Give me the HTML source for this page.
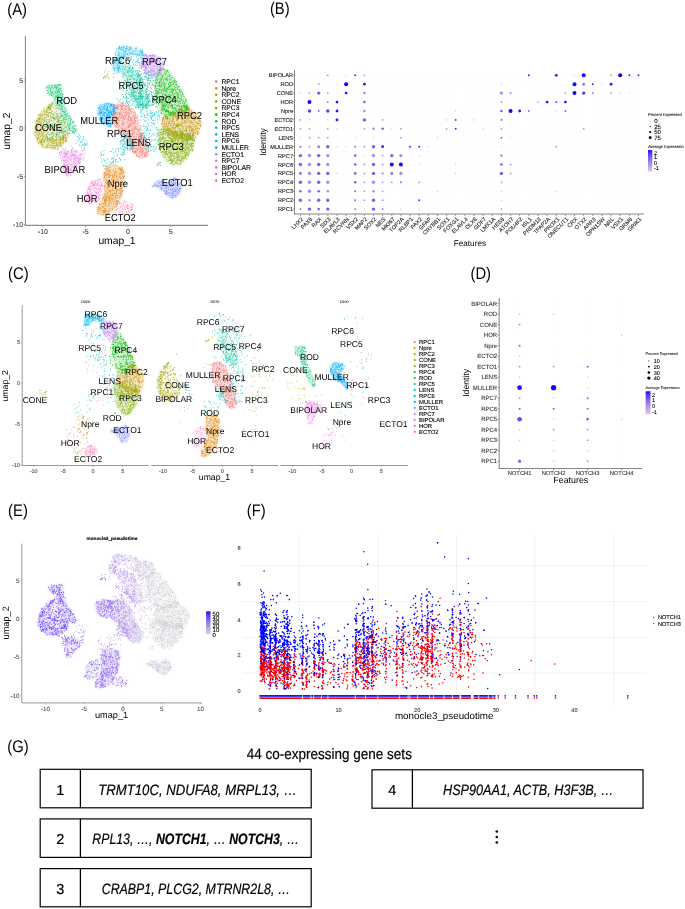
<!DOCTYPE html><html><head><meta charset="utf-8"><style>html,body{margin:0;padding:0;background:#fff}svg{display:block;will-change:transform}text{text-rendering:geometricPrecision;font-family:"Liberation Sans", sans-serif}</style></head><body><svg width="685" height="909" viewBox="0 0 685 909"><rect width="685" height="909" fill="#fff"/><defs><filter id="bl1" x="-10%" y="-10%" width="120%" height="120%"><feGaussianBlur stdDeviation="1.3"/></filter><filter id="bl0"><feGaussianBlur stdDeviation="0.25"/></filter><linearGradient id="gB" x1="0" y1="0" x2="0" y2="1"><stop offset="0.0" stop-color="#0000ff"/><stop offset="0.1" stop-color="#4926fb"/><stop offset="0.2" stop-color="#673df8"/><stop offset="0.3" stop-color="#7c51f4"/><stop offset="0.4" stop-color="#8e65f0"/><stop offset="0.5" stop-color="#9d77ec"/><stop offset="0.6" stop-color="#aa89e7"/><stop offset="0.7" stop-color="#b69ce3"/><stop offset="0.8" stop-color="#c1aede"/><stop offset="0.9" stop-color="#cac0d9"/><stop offset="1.0" stop-color="#d3d3d3"/></linearGradient><linearGradient id="gE" x1="0" y1="0" x2="0" y2="1"><stop offset="0.0" stop-color="#0000ff"/><stop offset="0.1" stop-color="#4926fb"/><stop offset="0.2" stop-color="#673df8"/><stop offset="0.3" stop-color="#7c51f4"/><stop offset="0.4" stop-color="#8e65f0"/><stop offset="0.5" stop-color="#9d77ec"/><stop offset="0.6" stop-color="#aa89e7"/><stop offset="0.7" stop-color="#b69ce3"/><stop offset="0.8" stop-color="#c1aede"/><stop offset="0.9" stop-color="#cac0d9"/><stop offset="1.0" stop-color="#d3d3d3"/></linearGradient></defs><text transform="translate(8.2,14.5) scale(0.88,1)" x="-1" font-size="16.8">(A)</text><text transform="translate(270.8,14.0) scale(0.88,1)" x="-1" font-size="16.8">(B)</text><text transform="translate(9.0,278.8) scale(0.88,1)" x="-1" font-size="16.8">(C)</text><text transform="translate(471.4,278.7) scale(0.88,1)" x="-1" font-size="16.8">(D)</text><text transform="translate(9.0,515.5) scale(0.88,1)" x="-1" font-size="16.8">(E)</text><text transform="translate(247.6,515.5) scale(0.88,1)" x="-1" font-size="16.8">(F)</text><text transform="translate(8.2,752.3) scale(0.88,1)" x="-1" font-size="16.8">(G)</text><g filter="url(#bl1)"><path d="M112 106L118 103L125 103.5L133 108L138 117L140 127L146 139L150 149L146 158L139 158L133 153L129 145L124 136L118 130L114 126L111 119L113 112Z" fill="#F8766D" fill-opacity="0.24"/><path d="M105.4 165.8L114.6 164.7L122.7 167L125 173.9L123.9 184.3L122.7 193.5L120.4 200.5L115.8 207.4L110 213.2L101.9 215.5L97.3 214.3L97.3 207.4L101.9 200.5L104.2 193.5L104.2 184.3L103.1 175.1Z" fill="#E68613" fill-opacity="0.24"/><path d="M184 105L192 110L199 116.6L201.5 123.5L199.2 132.8L194.6 139.7L186 141L176 138L166 132L161 124L163 116L170 113L178 110Z" fill="#CD9600" fill-opacity="0.24"/><path d="M51.1 102.8L45.3 106.9L38.4 115L34.9 124.2L33.8 133.4L37.2 142.7L44.2 148.5L53.4 149.6L61.5 146.2L67.3 140.4L66 136L58 140L50 140L44 134L42 125L45 115L50 108Z" fill="#ABA300" fill-opacity="0.24"/><path d="M158 128L168 128L180 132L190 134L195 140L193.4 149.4L186.8 158.6L180.2 165.2L173.6 165.9L167 161.9L161.7 154.7L158.4 145.4L157.5 136Z" fill="#7CAE00" fill-opacity="0.24"/><path d="M157.6 72L161 67L168 70L176.1 80L182 91L187 101L190 108L184 112L175 115L166 118L161 114L157 100L154.5 85Z" fill="#0CB702" fill-opacity="0.20"/><path d="M47.1 84.9L62.1 84.4L62.7 94.2L65 104L69 114L74 122L77 128L76 132.3L72 134L68 128L63 119L58.5 110L55 102L53.6 96.5L47.6 94.8L45.9 87.2Z" fill="#00BE67" fill-opacity="0.20"/><path d="M122 63.4L130.1 64.6L138.2 71.5L144 80.7L147.4 90L149.8 102.7L146.3 109.6L138.2 107.3L133.6 99.2L130.1 92.3L125.5 84.2L120.9 75Z" fill="#00C19A" fill-opacity="0.18"/><path d="M121.6 134.6L130 133L133.5 140L134 149.7L124 150L120 143Z" fill="#00BFC4" fill-opacity="0.18"/><path d="M116.8 46.7L124.3 45.5L135.9 47.2L142.8 50.7L146.3 55.3L141.7 57.6L135.9 55.3L129 54.2L125.5 56.5L120.9 63.4L120.9 72.7L117.4 73.8L114 70.3L111.6 64.6L115.1 55.3Z" fill="#00B8E7" fill-opacity="0.20"/><path d="M98.9 105L105.9 103L113 104L118 106.5L117 111L113 115L110.5 118.9L114 125.8L109.3 127L103.6 124.6L98.9 118.9L96.6 111.9Z" fill="#00A9FF" fill-opacity="0.28"/><path d="M151.1 186.4L156.4 181.1L163 179.8L169.6 182.4L174.9 177.1L178.8 181.1L181.5 187.7L180.2 194.3L174.9 198.3L168.3 197.6L164.3 193L159 187.7Z" fill="#8494FF" fill-opacity="0.28"/><path d="M142.6 55.4L153 54.2L161.1 57.7L164.6 64.6L162.3 71.6L158.8 76.2L151.9 77.3L144.9 73.9L141.5 67Z" fill="#C77CFF" fill-opacity="0.24"/><path d="M64 151L71.9 149.6L78.8 151.9L82.3 157.7L80 163.5L74.2 169.3L70.7 176.2L66.1 177.3L63.5 169.3L63 161.2L62 155Z" fill="#ED68ED" fill-opacity="0.17"/><path d="M89.8 181.8L100.3 178.3L103.8 185.3L102.1 194.1L98.6 201.1L89.8 204.6L84.6 201.1L86.3 192.3Z" fill="#FF61CC" fill-opacity="0.14"/><path d="M115.8 205L124 200.5L133.1 203L134 211L125 214L116 213.2Z" fill="#FF68A1" fill-opacity="0.10"/><path d="M50 103L54 101.5L57.8 110L62.3 118.5L67 126.5L70 133L67 137L58 141L48 140L43 132L43 118L47 110Z" fill="#ABA300" fill-opacity="0.13"/><path d="M157 162L161 162L161 165.5L157 165.5Z" fill="#0CB702" fill-opacity="0.15"/></g><g filter="url(#bl0)"><path d="M135.4 120.2h0M119.8 114.5h0M122.7 125.1h0M145.1 146.4h0M143 149.1h0M142.1 157.5h0M129.2 133.8h0M122.8 122.8h0M121.9 115.9h0M120.9 113.1h0M128.4 120.8h0M141.9 139.7h0M134.9 120.2h0M112.4 114.6h0M131.1 126.5h0M129.2 109.3h0M131.1 112.9h0M130.4 145.1h0M120.7 130.5h0M138 136.4h0M118.8 113.9h0M117 127.6h0M121.4 109.3h0M130.9 138.9h0M144 143.8h0M135.9 123.4h0M114.6 114.4h0M132.1 131.7h0M130.8 134.9h0M145 154.3h0M125.1 105.2h0M134.3 153h0M126.1 122h0M142.8 138.8h0M125.8 118.9h0M134 151.2h0M135.9 129.4h0M120.3 105.5h0M137.2 140.9h0M122.7 121.5h0M133.2 149.8h0M132.5 134.7h0M145.5 143.4h0M136 121.2h0M133.2 130.3h0M125.7 128.8h0M127 139.4h0M120.3 114.9h0M129.2 112.9h0M132.4 150.1h0M140.3 144.2h0M125.5 108.7h0M136.7 137.8h0M127.7 123.6h0M131.4 111.3h0M145 137.5h0M124.4 129.7h0M134 122h0M137.7 117.2h0M131.2 120.5h0M140.8 134.7h0M140.4 154h0M142.6 142.5h0M127.3 121.7h0M142.8 149.2h0M141.9 152.3h0M131 139.3h0M139.3 148.7h0M125.2 109.9h0M133.4 116.3h0M124.3 134.6h0M131.3 144.4h0M127.6 107.8h0M145.2 137.6h0M147 152.9h0M113.7 123.1h0M131.3 119.3h0M137.4 150.3h0M139 141.7h0M135.6 141.6h0M148.9 149.2h0M124 132.5h0M126.5 130.9h0M118.9 123.2h0M143.8 145.5h0M115.4 118.2h0M134.5 113.1h0M129.7 113.8h0M134.2 134.5h0M136.7 118.4h0M123 116.3h0M129.2 120.9h0M135.5 145.6h0M118.2 129.5h0M127 105.7h0M142.8 152.9h0M139.5 157.7h0M142.3 145h0M131.4 112.4h0M120.9 106.5h0M133.1 131.1h0M112.5 115.4h0M134 132.9h0M137.4 129.5h0M123.1 116.6h0M136.7 155.4h0M133.4 146.4h0M142.3 135.7h0M144.3 139.7h0M123.4 130h0M135.4 150.6h0M142.1 134.5h0M142.1 154.9h0M140.9 152.2h0M133.4 108.8h0M135.9 132.2h0M114.8 113.4h0M136.8 145h0M145.8 150.1h0M119.4 104.3h0M133 139.6h0M147.8 144h0M128.8 107h0M125.8 136.6h0M116.2 117.4h0M125.7 108h0M132 121.7h0M120.6 108.3h0M123.9 130.2h0M128.8 108.5h0M140.4 133.8h0M133.6 115.9h0M116.2 123.9h0M114.2 119.3h0M146.3 157.1h0M121.5 106.4h0M135.2 126.3h0M128 105.5h0M125.6 108.7h0M138.7 143.7h0M114.8 115.2h0M139.4 130.4h0M137.3 154.4h0M125.5 130.9h0M131.2 141.7h0M140.5 148.2h0M118.4 117.5h0M121.4 107.3h0M131.9 128.7h0M139.1 144.9h0M143.9 157h0M141.3 155.3h0M136 148.5h0M140.5 138.8h0M128.3 136.9h0M125.7 106.6h0M132.2 141.3h0M132.4 148.9h0M139.1 136.9h0M143.4 139.2h0M146.9 154h0M116.4 105.4h0M116.8 116.9h0M143.2 151h0M115.8 113h0M115.6 117.2h0M133.4 144.9h0M128.4 127.7h0M118.4 117.8h0M129.5 123.7h0M123.2 119.2h0M123.2 110.2h0M128.7 119.3h0M145.7 140.6h0M146.7 144.1h0M120.6 113.7h0M126.4 122.5h0M130.6 145.7h0M129.9 139h0M118.2 124.4h0M137.1 128.6h0M121.4 128.4h0M131.6 118.3h0M122 104h0M131.1 145.2h0M135.5 141.3h0M131.9 149.2h0M126.4 111.4h0M115.4 114h0M119.1 125.6h0M130.8 117.4h0M146.7 146.3h0M123.3 124.5h0M134.4 118.7h0M113.6 116.2h0M140.7 151.1h0M138.6 134.2h0M137.6 117.7h0M122.8 117.3h0M134.3 127.4h0M117.1 125.5h0M131.1 134h0M133.4 146.2h0M142.3 133.2h0M138.4 140.3h0M127.9 141.5h0M138 147.3h0M137.1 134.3h0M132.5 149.8h0M139.4 151.5h0M129.3 132.1h0M127 112.5h0M139.1 144.8h0M132.9 141.2h0M147.4 153.4h0M128.7 117.8h0M132.5 146h0M113.9 121.6h0M134.1 131.2h0M119.7 113.7h0M128.7 139.6h0M140.3 142.7h0M142.5 151.4h0M135.2 138.4h0M142.9 153.7h0M137.4 141.8h0M136 136.3h0M126.8 126h0M132.8 122.6h0M126.4 129.9h0M125.8 126.5h0M129.2 130.9h0M130.6 124.6h0M124.2 118.6h0M143.2 137.9h0M143.9 136.8h0M141.6 139.5h0M128.4 136.8h0M144.6 155h0M133.6 113h0M136.9 155.9h0M137.4 150.3h0M133.8 136.4h0M122.4 116.4h0M127.8 127.4h0M124.7 114.9h0M128.4 142.3h0M125.5 117.4h0M133.7 142.1h0M148 147.2h0M145.5 144.6h0M144.8 154.9h0M118.7 106.3h0M143.3 151.3h0M143.3 137.6h0M129.5 126.6h0M140.9 141.8h0M128.9 116.4h0M132.3 141.2h0M123.3 117.3h0M128.4 116.6h0M137.6 135.2h0M136.1 150h0M135.8 151.6h0M121.1 127.8h0M129.6 110.8h0M135.6 115.6h0M122.9 114h0M121 126.1h0M113.6 115.1h0M141.1 137.1h0M138.7 137.7h0M118.6 120.3h0M116.3 112.7h0M141 145.1h0M130 143.4h0M136.6 133.8h0M135.2 112.8h0M140.9 136.5h0M124.4 131.2h0M121 128.3h0M128.1 134h0M128.2 125.8h0M136 148h0M118.2 118h0M129.5 123.9h0M128.9 125.1h0M117.4 113.6h0M121.5 108.1h0M135.1 120.8h0M126.8 128.1h0M142.9 137.5h0M147 144.9h0M145.8 155.5h0M136.9 155.2h0M134.4 128.5h0M141.1 155.1h0M119.3 113.2h0M145.6 152.3h0M115.5 125.6h0M123.3 131h0M146.7 156.3h0M134.9 116.6h0M137 115.9h0M137.5 131.5h0M133.2 128.7h0M148.1 151.7h0M124.1 105.4h0M131 111.4h0M139.2 146h0M138.1 129.4h0M127.4 136.8h0M144.2 138.3h0M124.1 116.5h0M116.2 121.2h0M122.9 130.1h0M128.5 115.2h0M121.9 115h0M137.5 127.2h0M126.7 133.2h0M120.6 117.7h0M137.8 143.4h0M119.3 129.2h0M121.5 123.4h0M138.4 131.4h0M115.6 107.7h0M132.5 120.3h0M140.8 136h0M134.7 111.3h0M123.2 125.3h0M135.5 117.7h0M144.6 156.1h0M122.4 128.3h0M135.8 151.7h0M139.9 157.2h0M126.1 131.9h0M148.6 151.3h0M138.8 156.2h0M129.3 109.8h0M128.5 106.9h0M122.2 109.1h0M122.9 109.7h0M114 119.6h0M119.6 120h0M117.7 107.2h0M113.5 109.1h0M129.2 139.1h0M139.8 142.1h0M147 142.6h0M133.3 133.4h0M130.8 143.8h0M113.9 107.5h0M115.9 114.6h0M145.5 143.8h0M129.5 113.6h0M142.4 132.2h0M113.6 117.3h0M134.2 126.7h0M144.7 148.9h0M144.8 139.3h0M131.3 118h0M140.6 139.1h0M142.7 141.1h0M128.7 139.5h0M123.5 133.3h0M117 108h0M133.1 136.3h0M133.6 146.4h0M136.2 142.4h0M133.3 123.5h0M140.3 128.8h0M134 153.2h0M132.5 148.9h0M118.7 126.2h0M133.7 121.6h0M130.1 118.2h0M117.5 114.7h0M135.1 126.7h0M126.7 106h0M137.8 140.4h0M132.8 119.7h0M115.2 113.9h0M118.5 120.5h0M129.3 121.4h0M131.4 138.2h0M140.1 133.9h0M128.1 129.9h0M124.8 130h0M115.5 120.7h0M142.5 151h0M123.1 124.7h0M141.5 149.4h0M117.3 108.6h0M136.8 139.6h0M130.8 119h0M122.1 106.1h0M113 106.7h0M119.4 115.6h0M124.9 108.4h0M123.9 127.3h0M140.5 148.1h0M140.4 145.9h0M120.9 131.3h0M116.4 124.8h0M128.1 125.4h0M134.5 117.8h0M116.7 116.1h0M129.5 133.5h0M116.1 127.5h0M138.1 138.2h0M114.6 124.2h0M147.6 147.3h0M134.9 137.7h0M113.6 109.1h0M133.2 132.2h0M128.9 108.2h0M133 115.4h0M139.8 137.3h0M137.5 156.5h0M117.1 117.3h0M127 131.5h0M128.7 133.9h0M147.7 154h0M140.5 150.3h0M129.4 108.8h0M128.5 127.8h0M127.9 119.2h0M113.4 106h0M133 125h0M120 115.7h0M121.8 120.5h0M122.9 123.9h0M140.7 147.1h0M125.6 133.8h0M123.6 105.8h0M135.8 115h0M115.2 114h0M140.5 137.3h0M122.6 130.2h0M135.8 117.8h0M126.8 137.9h0M120.9 118.1h0M124.6 119.9h0M134.8 151.3h0M117 122.1h0M148.8 147.6h0M118.9 106.2h0M134.6 119.1h0M131.3 130.8h0M134.5 152.3h0M138.4 149h0M124.1 133.1h0M123.8 105.8h0M118.9 125.3h0M124 123.1h0M147.1 147.9h0M128 139.9h0M119 126.9h0M138.6 142.1h0M120.6 110.9h0M119.5 130.5h0M135.7 152.6h0M124.1 136.1h0M124 128.6h0M114.4 122.8h0M132.3 123.3h0M135.1 145.3h0M121.2 112h0M133.8 147.8h0M142.9 154.2h0M136 138.8h0M131.2 133.6h0M145.7 148.4h0M138 131.6h0M128.6 132.5h0M117.9 105.4h0M144.2 140.3h0M126.7 140.8h0M118.8 129.2h0M130.6 123.5h0M146 152.2h0M123.4 131.8h0M121.9 106.7h0M130.7 130.4h0M133.6 152.1h0M130.9 129.2h0M130.7 109.7h0M128 132.1h0M148 151.8h0M115.9 113.1h0M126.9 138.9h0M135.3 114.8h0M139.5 153.3h0M119.2 117h0M138.2 123.3h0M118.6 109.1h0M129.4 134.4h0M132 141.8h0M127.7 119.9h0M125.9 114.1h0M130.6 147.8h0M136.6 152.5h0M130.2 125.2h0M129.2 140.3h0M144.5 155.4h0M142.3 135.1h0M122.2 106.9h0M139.1 135.8h0M124 116.3h0M134.5 124.4h0M142.5 138.1h0M132.1 142.9h0M125.8 112.5h0M124.7 119.7h0M121.1 109.6h0M114.8 126.5h0M137.1 124.4h0M118.9 112.2h0M135.3 127.6h0M131.3 130.2h0M131.3 109h0M122.3 124.8h0M116 121.6h0M142.2 149h0M147 142.5h0M116.5 105.3h0M127.5 140.1h0M127.7 133h0M136.9 126.7h0M122.3 103.6h0M126.6 118h0M129.1 135.7h0M146.3 155.2h0M126.4 115.5h0M130.7 133.4h0M148.4 146.8h0M114.4 120.3h0M129.4 108.9h0M134.1 149h0M123.4 112.1h0M142.4 152.7h0M132.9 133.7h0M116.4 126.3h0M135.6 122.4h0M130.9 144.3h0M133 129.7h0M139.5 137.8h0M127.5 113.2h0M117.9 106h0M139 152.1h0M131.1 124.1h0M145.1 141h0M129.3 141.8h0M129.1 126.9h0M123.3 132.8h0M138.1 119.9h0M112.2 118.1h0M134.6 122.9h0M113.9 108.6h0M130.4 137.7h0M118.2 122.2h0M125.3 136.6h0M122.9 118.4h0M143.1 146.9h0M115.6 112.4h0M136.4 143.2h0M122.3 105h0M115.6 107.6h0M140.3 138.3h0M128.5 127.1h0M116.8 107.7h0M122.6 123.3h0M132.4 151.6h0M140 136.5h0M144.4 137.2h0M134.1 140h0M128.9 117.2h0M141 151.1h0M114.8 114.2h0M133.7 144h0M144.9 153h0M113.2 114.4h0M121.4 118.1h0M123.7 121.2h0M134.1 151.5h0M135.5 120.7h0M125.1 115.4h0M132.4 144.4h0M131 148.5h0M122.3 116.4h0M114.4 110.6h0M129 126.2h0M134.3 137.5h0M113.1 106h0M128.2 113.6h0M126 109.4h0M133.7 117.9h0M133.9 113.2h0M124.2 123.5h0M126.9 110.6h0M134.9 139.7h0M145.6 156.5h0M138.5 146.7h0M129.4 138.7h0M129.9 125.2h0M144 138.9h0M134.8 140.7h0M130.8 117.8h0M114.4 116.3h0M148.6 147h0M145.2 152.5h0M129.7 145.1h0M115.9 112.2h0M130.4 139.1h0M120.6 105.4h0M136 151.4h0M142.2 145.3h0M130.2 134.1h0M146.7 142.8h0M126.6 114.6h0M132.7 133.9h0M123.5 103.6h0M114.3 122.8h0M119.1 112.8h0M114.3 116h0M138.8 140.2h0M147.5 144.9h0M148.5 150.8h0M113.3 112.9h0M138.4 131h0M144.7 155h0M143.8 137.6h0M126 138.2h0M132.8 127.2h0M131.3 120.9h0M122.1 129.1h0M146.6 152.1h0M125.2 112.8h0M134.3 147.7h0M137.2 148.7h0M114.6 104.8h0M130.7 119.6h0M139.7 126.2h0M136.6 129.3h0M135 128.8h0M115.8 118.8h0M131.8 139h0M113 113.9h0M132.3 145.5h0M139 143.4h0M124.5 132.7h0M113.9 119.3h0M138.6 148.2h0M111.7 119.9h0M141.2 147.4h0M128.9 110.3h0M131.4 125.8h0M135 129.9h0M137.8 120.6h0M126.3 127.7h0M138.9 156.7h0M129.2 126.4h0M125.3 108.3h0M130.2 124.7h0M122 113.1h0M128.2 115h0M122.4 108.1h0M124.4 129.7h0M135.1 143.1h0M125 112.2h0M132.6 122.9h0M128.3 112.1h0M136.4 149.4h0M137 143.1h0M142 145.4h0M144.9 144.6h0M138.6 134.2h0M130.8 120.7h0" stroke="#F8766D" stroke-width="0.8" stroke-linecap="round"/><path d="M112.4 188.9h0M123.2 172.3h0M113.1 179h0M103.8 207.2h0M105.5 210.9h0M109.7 191.1h0M111.4 199h0M109.7 198.2h0M116.7 172.6h0M121.7 170.4h0M105.5 184.2h0M105.7 208.4h0M113.9 185.5h0M104.7 172.9h0M98.6 210.9h0M109.1 194.7h0M107.7 174.2h0M105.2 211.5h0M121.5 192h0M115.2 182.3h0M117.6 201.6h0M108.9 175h0M111.2 204.1h0M104.1 175.4h0M104.3 186.7h0M122.4 171.2h0M98.1 209.6h0M117.4 202.9h0M110 210h0M111.5 179.1h0M119.4 176.7h0M100.7 209.1h0M105.5 173.1h0M118.1 201.3h0M105.6 166h0M123.7 178.5h0M111.9 208h0M112.2 195.1h0M111.2 198.2h0M118.8 168.9h0M112.4 210h0M119.2 195.9h0M112.4 190.2h0M109.5 175.1h0M108.5 211.1h0M112.2 178.1h0M114.6 173.3h0M116.8 197.7h0M122.2 169.1h0M115.5 203.5h0M115.7 184.2h0M104.8 190.9h0M104.7 168.7h0M116.4 174.1h0M114.3 183.3h0M107.9 196.6h0M110.2 190.9h0M104.5 173.5h0M106.2 198.4h0M113.2 199.6h0M110.6 194.4h0M107.6 173.7h0M105.1 196.6h0M113.6 193.6h0M105.1 188.6h0M113.4 201.8h0M105.7 194.6h0M120.7 168.1h0M116.5 176.5h0M122 185.1h0M119.7 196.9h0M106.4 171.4h0M113.1 193.7h0M104.5 195.6h0M102.9 203.4h0M103 213.9h0M103.9 180.6h0M115.9 181.7h0M104.3 187.2h0M98.6 213.7h0M109 190.7h0M102.9 199h0M116.4 202h0M112.7 176.5h0M110.7 167.6h0M121.3 172.4h0M105.7 202.9h0M111.9 198.9h0M109.4 171.7h0M97.9 207.5h0M120.6 188.7h0M106.7 180.8h0M116.3 201.2h0M108.7 198.7h0M110.7 203.7h0M112.5 188.1h0M119.3 177.3h0M107.3 165.7h0M110.5 171h0M113.6 170.2h0M112.4 200.7h0M116.5 177.1h0M117.6 180.3h0M103.5 203.9h0M109.5 184.4h0M105.6 182.4h0M108 212.7h0M107.4 192.4h0M99.5 204.8h0M103 197.8h0M105.2 209.9h0M121.1 180.5h0M120.6 188.9h0M123.2 176.6h0M108.1 174.1h0M114.6 174.8h0M122.2 173h0M120.2 185.6h0M117.6 204.2h0M111 192.2h0M121.5 188.5h0M111.1 190.3h0M104 196.8h0M109.5 213.2h0M99.1 206.2h0M107.3 168.1h0M108.6 197.2h0M110.4 196.3h0M123.5 170.8h0M110.9 186.2h0M110.4 200.8h0M109.4 202.1h0M107.7 182.8h0M121.7 195.1h0M103.1 211.9h0M105.1 212.4h0M120.7 193.3h0M110.8 201.2h0M114 176.4h0M105 200.6h0M112 165.3h0M111.2 184.3h0M105.6 205.3h0M107.2 200.6h0M117.7 186.6h0M104.9 208.5h0M108.2 184.4h0M107.6 170.8h0M116.2 190.3h0M104.2 210h0M119.7 168.2h0M105.8 182.8h0M108.6 188.6h0M122 170.4h0M107.6 174.2h0M116.7 191.9h0M116.6 201.1h0M103.6 198.8h0M109.8 198.9h0M116 165.1h0M111.9 181.8h0M120.4 177.7h0M110.3 185h0M110.9 208.6h0M115.1 196h0M121.1 178.6h0M116.9 187.6h0M106.6 211h0M110.8 195.2h0M116 200.1h0M111.2 198h0M121.4 190.4h0M105.1 211.5h0M108.5 171.3h0M121.8 167.3h0M122.6 168.3h0M103.6 173h0M99.7 203.9h0M111.5 195.2h0M119.3 201.9h0M108.4 193h0M120.6 182.7h0M108.3 204.7h0M119.9 173.3h0M105.1 185.8h0M117.8 203.4h0M110.3 193.5h0M115.5 195.6h0M103.9 179h0M117.7 194.8h0M106.1 202.9h0M121.4 190.5h0M120.9 190.8h0M121.5 195.6h0M112.9 175.6h0M109.2 191.9h0M113.3 198.7h0M104.5 200.6h0M109 175.3h0M107.4 181.7h0M118.9 186.1h0M124.6 176.1h0M106.1 201.1h0M102.3 211h0M104.3 212.8h0M120.9 186.4h0M106.3 173.9h0M108.6 177.2h0M120.3 189.3h0M109.2 170.2h0M107.1 189.1h0M122 191.4h0M115.5 197.3h0M106.2 177.5h0M115.2 193.7h0M120.1 193.7h0M105.4 211.7h0M104.9 190.2h0M104.4 177h0M100.6 204.7h0M102.6 207h0M119.2 193.4h0M107.9 196.8h0M98.5 207.2h0M119.7 197.8h0M105.2 203.7h0M113.9 179.9h0M116.2 189.4h0M112.9 209.1h0M100.9 203.2h0M99.1 207.8h0M107 209.6h0M112.5 195.7h0M104.2 177.1h0M109.7 203.4h0M108.6 203.3h0M104.7 201.8h0M110.6 191.7h0M103.9 198.2h0M106.6 176.1h0M115.3 171.1h0M121.8 170.4h0M104.8 173.9h0M116.5 203.9h0M123.7 182.8h0M100.5 210.5h0M112.8 176.2h0M110.2 172.7h0M105.9 199h0M105.3 204h0M115.2 188.7h0M102.8 198.3h0M109 179.7h0M123 184.5h0M106.9 193.5h0M106.1 180.1h0M123.1 172.1h0M113.1 170.9h0M103.5 214.8h0M115.1 207.6h0M107.8 187.4h0M112.4 208.4h0M108.3 168h0M121.6 182.7h0M116.5 180h0M105.8 166.6h0M105.1 208.5h0M105.8 199.1h0M106.3 179.2h0M104.6 211.7h0M105.4 205.2h0M121.1 169.7h0M109.7 180.2h0M120 189.5h0M98.7 207.5h0M99.2 213.3h0M111.6 175h0M105.3 175.5h0M102.7 207h0M114.2 190.8h0M114.2 177.2h0M112.2 175.7h0M109.9 199h0M103.8 211.3h0M113 190.6h0M120.7 184.7h0M106.4 182.9h0M123.6 176.5h0M97.5 211.7h0M110 170h0M114.8 165.4h0M108.9 169.9h0M121.8 192.8h0M117 180.6h0M109.2 175.5h0M105.2 178.6h0M106 199.7h0M107.1 183.3h0M104.4 193.8h0M112.3 182.2h0M112.6 197.8h0M115.2 199h0M99.5 204.4h0M104.6 209.4h0M117.7 195.5h0M106.6 169.5h0M106 196.8h0M116.5 192.9h0M121.8 169.5h0M105.3 210.9h0M116 203.6h0M117.1 195.9h0M102.1 201.2h0M106 198.3h0M106.6 175.2h0M109.9 197.6h0M114.4 175.9h0M123.1 183.9h0M108.3 172h0M123.5 186.7h0M116.5 205.5h0M107.9 168.9h0M120.4 170.8h0M112.1 202.6h0M116.3 171.3h0M107.1 195.8h0M113.6 206.2h0M116.6 193.3h0M107.7 168.8h0M110.9 175.2h0M120.7 192.2h0M107 197.9h0M120.6 194.9h0M109.7 181.3h0M107.5 185.7h0M112.5 175.1h0M117.1 197.6h0M113.4 172.7h0M108.3 177.1h0M107.8 213.6h0M115 182.2h0M108.5 195.8h0M112 206.4h0M117.9 189.4h0M120.2 174.6h0M113 195.9h0M118.9 167.9h0M121 184.1h0M97.8 211.5h0M114.9 173.9h0M106.5 197.4h0M121.5 187.8h0M108.2 211.1h0M117.9 189.6h0M114.7 172.9h0M122.2 173.6h0M107.5 183h0M110.6 182.4h0M106.8 175.2h0M110.7 196.3h0M106 172.8h0M116.2 188.6h0M123.6 177.5h0M107.3 200.3h0M120.8 177.2h0M119.4 173.7h0M121.9 178.5h0M114.8 178.7h0M114 180.2h0M116.9 182.7h0M118 200.7h0M121 173.5h0M105.4 199.6h0M119.9 169.5h0M103.8 210.4h0M118.8 178.7h0M109.5 208.6h0M120.5 168.7h0M115.8 175.4h0M120.6 178.4h0M121.7 170.6h0M104.9 212.7h0M107.1 170.8h0M114.7 193.4h0M113.4 204h0M118.8 193.1h0M119.7 190.5h0M105.7 186.9h0M116.3 185.2h0M105 197.2h0M97.9 213.6h0M104.2 177.1h0M104.9 172.6h0M103 210.4h0M107 196.5h0M99.9 204.4h0M103 207.3h0M109.4 200.3h0M108.5 166.9h0M100.8 208.3h0M116 204h0M108.6 197.1h0M113.1 166h0M117.7 203h0M115.5 194.1h0M121.1 170.8h0M99.7 209.2h0M105.5 194.7h0M114.3 175h0M104.3 173.7h0M98.8 210h0M110.1 172.9h0M101.9 206.2h0M107.9 206h0M123.5 185.4h0M107.3 196.1h0M116.9 195.5h0M107.6 184.8h0M108.5 191h0M109.2 206.5h0M105.2 175.3h0M124.6 176.1h0M121.6 184.7h0M104.6 203.9h0M109.3 191h0M113 180.7h0M101.9 203.7h0M109.1 174.6h0M105.2 200.7h0M103.8 194.9h0M106.5 214h0M122.6 188.1h0M111.9 210.3h0M108.1 183.3h0M114.1 182.2h0M123.8 184.5h0M120 175.2h0M104.7 200h0M115.3 197h0M109.1 176.8h0M111.9 189.9h0M111.8 179.3h0M114.6 207.2h0M104.3 176.8h0M107.2 213.1h0M115.2 197.2h0M108.5 200h0M106.2 201.5h0M107 194.8h0M98.1 208.5h0M106.3 211.1h0M112.5 195.1h0M120.5 169.3h0M101 208.1h0M119.9 198.3h0M104.1 206h0M120.3 173.3h0M105.8 180.2h0M113 176.8h0M105.9 173.9h0M106.7 199.6h0M102.1 214.7h0M117.4 176.8h0M101.2 212.4h0M105.6 203.7h0M117.4 190.7h0M118 166.1h0M118.8 171h0M108.2 180.6h0M102.2 200.1h0M109.5 199.4h0M109.7 177.3h0M114.4 192.9h0M121.2 186.6h0M117.8 175.8h0M113.7 180.4h0M103.7 203.4h0M118 201.2h0M108.9 177.3h0M123.4 176.6h0M122 193.4h0M115.1 183.3h0M114 173.9h0M104.3 185.5h0M106.4 193.3h0M109.5 166.7h0M115.2 201.6h0M106.9 183.8h0M106.6 187.8h0M108.7 213.1h0M104.9 200.2h0M124.3 172.2h0M118.6 185.4h0M106.5 191.3h0M116.1 205.2h0M107.5 181.5h0M114.9 197.7h0M109.1 198.4h0M122.6 191.3h0M110 195.9h0M119.8 188.1h0M113.3 195.7h0M107.6 188.1h0M114.2 201.2h0M114.5 183.1h0M123 190.5h0M109.3 191h0M118.8 189.4h0M121.1 197h0M109.5 175.8h0M115.4 168.3h0M107.1 184.2h0M120.5 186.8h0M108.9 205.1h0M118.9 181.6h0M103.8 196.5h0M104.9 214.2h0M121.1 195.6h0M123.2 173.7h0M105.5 200.7h0M122.9 174.9h0M105.7 168.9h0M109.7 187.2h0M114.8 188.6h0M112.7 193.1h0M115.9 188.4h0M116.6 174.6h0M104.7 199.4h0M117.3 179.4h0M113.9 204.4h0M112.9 199.3h0M111 201.6h0M105.5 208h0M122.6 175.9h0M102 214.3h0M116.5 191.1h0M118.6 184.4h0M104.9 193h0M109.2 201.3h0M116.7 182.4h0M105.2 199.9h0M106.8 193.3h0M107.6 182.7h0M105.6 201h0M104.5 201.9h0M115.9 172h0M107.8 206.2h0M109.6 210.5h0M106.7 205.9h0M103.6 212.1h0M113.7 77.3h0M113.4 73.8h0M113.3 77.6h0M114.3 73.4h0" stroke="#E68613" stroke-width="0.8" stroke-linecap="round"/><path d="M183.8 112.8h0M163.3 117.3h0M182.7 115.8h0M188 118.6h0M193.4 112.9h0M193.2 128.8h0M189.4 130.3h0M164.8 124.8h0M195.7 128h0M197 127.9h0M175 128.5h0M176.7 133.1h0M177.3 117.1h0M172.2 135.6h0M199 120.9h0M182.5 107.2h0M189.7 128.5h0M185.5 117.3h0M164.6 127.9h0M163.9 118.4h0M167 122.9h0M181.1 125h0M186.4 130.5h0M197.5 129.1h0M190.9 113.4h0M176.5 133.5h0M175 113.3h0M192 126.5h0M190.5 116.6h0M165.9 125.7h0M193.6 116.2h0M164.8 120.8h0M173.9 136.3h0M198.5 123.2h0M171.7 131.6h0M193.2 138.5h0M176.1 111.8h0M163.6 118.8h0M166.1 123.7h0M186.6 137.3h0M187 135.2h0M173 128.8h0M173.7 111.7h0M187.6 110.6h0M176.9 118.3h0M170.6 128h0M196.4 114.5h0M167.6 118.5h0M174.7 128.1h0M181.7 115.8h0M163.7 122.8h0M176 137.9h0M192.1 124.3h0M173.3 132.8h0M171.9 112.5h0M188.7 134.2h0M166.3 119.5h0M165.7 118.1h0M182.4 122.7h0M189.5 108.8h0M185.9 120h0M195.6 137.1h0M182.5 126.1h0M169.9 134.1h0M178 135.7h0M185.6 108.2h0M182.5 116.3h0M192.7 135h0M182.9 132.2h0M176.5 125.3h0M181.9 119.5h0M182 123h0M184.2 117.8h0M189.9 110h0M178.3 113.3h0M191.2 134h0M181.4 132.7h0M176 131.3h0M170.8 125.4h0M193.3 138.2h0M190.5 127.3h0M169.9 120.1h0M189.6 138.9h0M181.5 117.4h0M192.3 134.2h0M179.9 130.9h0M195.7 133.2h0M185.5 111.9h0M189 124.3h0M182.6 137.7h0M170.7 119.3h0M177.1 116.1h0M183.7 123.4h0M167 130.9h0M188.6 121.8h0M183.1 119.3h0M191.1 138.5h0M177.8 121.2h0M193.3 133.1h0M163.5 119h0M175.9 127h0M179.3 135h0M199.7 128.5h0M165.9 127.7h0M187.8 126.8h0M166.8 123.6h0M172.3 120.3h0M177.8 124.5h0M187.5 117.7h0M166.7 122h0M187.1 110.3h0M165.7 119h0M184.5 106.9h0M192.9 117.4h0M183.1 109.9h0M167.4 128.8h0M176 126.7h0M192.4 128.8h0M187.9 107.7h0M174.1 131.6h0M175.2 115.9h0M174.1 135.5h0M172 125.5h0M182.9 138.5h0M182.9 120.2h0M191 115.1h0M182.1 112.3h0M184.8 130.8h0M185.1 134h0M185.1 106.7h0M173.1 122.7h0M171.8 134.9h0M174.3 128h0M162.3 120h0M172.6 120.2h0M181.7 116.2h0M197.9 122.9h0M189.4 117.5h0M181.9 119.1h0M190 122.9h0M162.9 126.7h0M188.8 126h0M189.6 130.6h0M187.5 113.7h0M192.7 130.5h0M194.6 118.3h0M162.9 126.5h0M184.8 117.5h0M185 114.5h0M185.8 122.7h0M171.9 128.3h0M173.3 113.5h0M196.5 116.4h0M185.3 121.6h0M169.4 118.3h0M184.7 107.2h0M185.3 123.7h0M162.5 121.4h0M186.4 140.9h0M176.6 125.9h0M168.5 128.2h0M185.1 108h0M188.3 118.4h0M195.1 126.6h0M189.4 112h0M182.9 137.9h0M164.4 123.6h0M183.9 121.7h0M173.4 119h0M182.7 132h0M191.4 111.8h0M163.5 117.8h0M162.5 120.4h0M180.8 111.9h0M162.6 121.2h0M180.4 113h0M171.6 114.9h0M199 130.8h0M185.7 108.8h0M175.4 135.3h0M195.6 137.9h0M192.4 133.5h0M182.4 126.5h0M164.3 115.6h0M178 126.8h0M191.9 111.8h0M189.6 126.6h0M166.5 131.1h0M181.6 134h0M168.7 132.3h0M168 116.7h0M172.5 132.6h0M194.1 118.5h0M177.3 119.6h0M193.2 130h0M175.6 127.2h0M193.1 131.5h0M195.8 116.2h0M192.6 129h0M179 138h0M176.6 119.8h0M176.5 119h0M177 115.9h0M161.4 124.3h0M172 123.9h0M172.7 133.6h0M187.3 140h0M189.2 133.8h0M191.4 131h0M186.8 112.1h0M183.5 105.4h0M183.8 114.7h0M167.6 118.8h0M181.7 110.7h0M185.5 114.1h0M173.5 119.7h0M192.7 138.8h0M178.2 119.7h0M172.4 115.4h0M174.9 133.5h0M177.3 125.6h0M191.8 136.2h0M182.3 137.8h0M193.6 120.4h0M179.5 117.6h0M175.5 114.7h0M165.6 116.5h0M187.1 108.1h0M173.7 135h0M184.7 123h0M198.2 123.1h0M181.3 122.5h0M189.3 134.4h0M180.2 123.2h0M189.9 121h0M180 113.7h0M194.4 120.6h0M179.7 125h0M183.7 137.8h0M186.6 119.9h0M181.7 133.1h0M175.5 117h0M197.5 131.3h0M164.7 129.7h0M173.4 136.4h0M192.7 122.7h0M166.2 126.3h0M168.3 126.9h0M198.6 132.7h0M196.4 126.4h0M193.4 135.2h0M177.2 118.7h0M180.5 129.1h0M184.3 121.1h0M193.8 138h0M184.5 105.5h0M169.7 133.1h0M186.8 136.3h0M200.7 125.8h0M180.3 135.5h0M197.4 133.5h0M175.6 130.7h0M180.2 135.4h0M176.5 136.9h0M194.7 127.6h0M172.3 118.9h0M166.3 118.8h0M165.7 116.1h0M162 122.1h0M191.6 123h0M182.5 110.9h0M177.8 124h0M180.2 114.1h0M188.9 110.2h0M195.8 115.5h0M196.7 128.3h0M199.3 128.8h0M194.4 139.4h0M174.4 132.2h0M193.6 132.5h0M199.6 120h0M191.1 122.2h0M190.9 137.5h0M195 113.5h0M196.6 123.2h0M192.6 131.3h0M164.1 117.2h0M169.5 122h0M179.9 129.6h0M183.3 114.3h0M162.5 119.4h0M174.1 116.7h0M187.8 112.3h0M169.3 121.8h0M190.2 133.5h0M199.5 123.8h0M180.1 111h0M180 131.4h0M173.7 122.1h0M189.9 131.3h0M161.4 124.4h0M173.1 134.1h0M190.2 126.8h0M197.9 128.4h0M191.8 126.7h0M193.8 133h0M185.2 112.9h0M193.7 126.1h0M179.9 114.6h0M177.5 132.2h0M179.8 110.7h0M171.7 131.6h0M178.7 114.1h0M176.5 116.2h0M191.5 120.6h0M192.8 113.4h0M175.7 112.6h0M176 131.9h0M194.9 130.9h0M168.3 131.5h0M189.4 115.9h0M182.3 113h0M188 127.2h0M188.1 119h0M170.5 112.9h0M162 123.3h0M197.4 117.5h0M181.4 131.5h0M187.8 113.7h0M164.7 121.1h0M179.6 128.2h0M184.8 110.7h0M189.3 110.2h0M195.4 125.6h0M168.2 123.2h0M193.9 113.6h0M193.6 124.2h0M176.5 120.7h0M185 125.7h0M185.8 110.1h0M193.2 133.9h0M173.8 128.7h0M171.7 123.6h0M187 113.1h0M168.5 121.8h0M187.2 116.7h0M193 122.3h0M178.4 125.9h0M171.2 120.9h0M177.8 110.3h0M192.9 122.6h0M181.4 137.3h0M165.5 125.2h0M172.7 115.2h0M162.5 119h0M163.6 127.7h0M183 115.2h0M188.3 121.3h0M170.6 124.1h0M166.7 121.5h0M187.3 110.4h0M185.5 113.2h0M186 112.9h0M192.1 138.9h0M191.3 127.9h0M179.2 124h0M200.5 125.9h0M180.3 118.3h0M198.1 125.1h0M194.3 130h0M185.8 129.4h0M191.1 129.2h0M190.9 132.9h0M197.7 134.3h0M194.7 129.6h0M187.1 116.5h0M174.2 114.5h0M181 112.1h0M174.6 122.5h0M178.1 126.6h0M184.6 111.4h0M164.7 123.6h0M171.1 130.5h0M167.9 128.2h0M189.6 117.9h0M194.3 133h0M178.7 136.2h0M193.6 118.9h0M174 113.9h0M175 135.4h0M183.6 128.6h0M198 132.7h0M187.7 136.8h0M191.9 117.7h0M182.7 125.9h0M177.7 117.6h0M168.8 124.2h0M195.9 118.8h0M200.3 121.6h0M177.9 125.9h0M190.3 112.4h0M189.3 126.8h0M181 112.6h0M183.4 113.7h0M191.2 114.8h0M177.9 125.5h0M181.4 121.1h0M168.4 128.7h0M164.1 119.9h0M190 125h0M187.8 140.1h0M175 136.9h0M200.6 125.6h0M174.7 127.8h0M187 125.3h0M184.9 122.1h0M189.8 130.9h0M195.8 121.8h0M183.7 115.4h0M177.2 116.8h0M188.9 137.8h0M182.3 125.8h0M174.7 131.9h0M176.4 125.8h0M187.4 109.4h0M174.6 115.9h0M195.5 122.3h0M175.6 125.1h0M178.6 122.6h0M185.5 117.7h0M162.8 123.5h0M195.7 128.6h0M186.6 113.9h0M188.8 110.2h0M176.8 125.9h0M176.7 137.5h0M167.3 120.1h0M186.3 130.4h0M168.8 125.3h0M179.4 138.8h0M184.6 115.7h0M189 120.5h0M196 125.7h0M201.3 123.4h0M185.6 120.4h0M200 121h0M193.1 116.8h0M190.1 127.8h0M190.4 122.6h0M175.4 133h0M164.2 126.7h0M188.4 127.9h0M173.6 117.3h0M199.4 120.1h0M194 118.3h0M180.3 138.4h0M172.9 120.9h0M175.9 133.2h0M170.2 121h0M169.9 113.2h0M200.3 126.3h0M186.2 112.2h0M189.5 135.5h0M174.4 123.9h0M198.9 117.2h0M171.7 121.6h0M186.4 112.4h0M184.3 120.4h0M190.5 138.7h0M183.3 113.1h0M182.5 135.6h0M168.1 130.2h0M192.6 113.9h0M199.7 120.6h0M181.4 134.4h0M197.6 122.8h0M193.7 124.4h0M187 109.2h0M189 108.3h0M191.8 114.1h0M180.6 114.3h0M166.1 130h0M166.1 129.2h0M183.7 139h0M171.3 112.8h0M180.7 131.3h0M163.2 125.1h0M169.7 130.4h0M186.4 137.5h0M185.9 135.3h0M194.8 119.5h0M179.9 124.5h0M191.7 110.1h0M171.1 131.8h0M196 124.8h0M170.9 125.7h0M181.3 109.3h0M182.1 133.9h0M189.7 118.6h0M186.9 128.6h0M182.1 119.1h0M189.7 126.1h0M188.1 133.3h0M182.3 129.9h0M200.4 121.2h0M198.1 128.1h0M184.3 130h0M188.9 117.5h0M177 136h0M164.3 126.3h0M193.1 118.7h0M191.5 113.8h0M195 116.4h0M192.4 135.7h0M194.8 116.6h0M194.2 116h0M171.7 133.2h0M186.3 118.7h0M176.8 125.4h0M188.3 109.4h0M175.8 136.5h0M186.4 122.2h0M186.5 131.4h0M177.5 123.9h0M187.2 139.8h0M187.6 134.2h0M191.2 122.3h0M187.4 118.8h0M177.9 119.1h0M196.6 118h0M186 130.7h0M193.8 135.1h0M193.8 134.9h0M191.8 129.1h0M189 137.5h0M178.1 117.1h0M166.3 118.3h0M186.8 116.7h0M199 123.4h0M173.6 127.5h0M177.1 136.3h0M199.1 125.7h0M193.3 136.9h0M176.6 134.3h0M200.7 124h0M187.7 121.9h0M181.6 119h0M196.9 131.3h0M174 118.3h0M180.4 128.5h0M164 124.3h0M187.1 109h0M195.3 131.8h0M197.7 122.9h0M181.5 137.4h0M189.5 130.1h0M172.6 112.2h0M197.8 134.7h0M185.6 129.2h0M163 117.6h0M185.5 129.8h0M178 126.7h0M165.4 129.5h0M191 117.7h0M184.6 113.3h0M185.1 134h0M181.6 124.8h0M179.1 138.3h0M196.6 129.9h0M172.9 121.3h0M184 115.5h0M173 118.7h0M173.6 134.5h0M192.8 133.9h0M175.6 134.9h0M167.7 130.5h0M176.8 123.9h0M176.1 110.7h0M197.2 119.2h0M182.8 131.2h0M198.5 133.1h0M177.5 125.3h0M176.8 135.5h0M183.2 137.6h0M188.5 111h0M173.7 115.7h0M190.8 121.1h0M176.2 120.3h0M192.5 135.5h0M171.4 139.1h0M169.8 138.1h0M182.9 140.8h0M171.9 131.1h0M180.7 134.5h0M182.6 138.9h0M172.4 139h0M166 133h0M179.6 137.1h0M190.3 139.2h0M177.3 134.5h0M170.1 137.9h0M178 137.4h0M182.3 135.3h0M181.8 135.2h0M164.2 131.8h0M187.8 138.5h0M172.9 138.1h0M181.6 132.2h0M173.6 141.9h0M168.1 135.7h0M177 143.1h0M174.5 133h0M174.3 138.7h0M182.2 137.7h0M178.4 140.9h0M175 141.3h0M181.6 138.2h0M187 138.8h0M186.3 140.3h0M175.7 140.2h0M173 140.5h0M178.1 136.3h0M170 131.2h0M185.3 138.1h0M174.8 136.5h0M174.2 131.6h0M173.4 133.8h0M178 140.9h0M170.5 135h0M191.2 144.1h0M181.3 132.5h0M190.3 136.6h0M183.2 134.2h0M167.4 130.3h0M189.6 145h0M177.5 140.4h0M184.8 140.2h0M182.1 138.2h0M167.8 137h0M189.4 140.4h0M169.2 134.1h0M171.7 139.3h0M187 143.8h0M189.6 138.3h0M169.9 137.4h0M176.4 139h0M178.1 134h0M173.1 138.2h0M183.7 143.6h0" stroke="#CD9600" stroke-width="0.8" stroke-linecap="round"/><path d="M41.2 132.1h0M42 123.9h0M36.2 129h0M38.5 143.1h0M47.5 139.7h0M53.8 147.1h0M45.5 147.1h0M53.8 145.5h0M36.6 133h0M42.9 146.8h0M54.9 147.1h0M37.2 138.5h0M66.1 140.4h0M38.9 137.2h0M61 139.8h0M41.6 139.7h0M55.4 143.1h0M38.3 124.5h0M40.2 136.4h0M39.9 131.2h0M50.2 147.5h0M36 131.6h0M42.6 142.1h0M59.9 139.2h0M42.5 119.1h0M36.1 125.7h0M35.7 136.2h0M60.1 145.3h0M47 109.4h0M54.4 148.7h0M37.4 135h0M59.1 145.7h0M37.5 138.8h0M41.1 142.9h0M40.1 141.4h0M42.5 115.9h0M36.8 126.1h0M52.9 149.5h0M60.6 139.9h0M62.4 139.7h0M36.7 120.6h0M60.7 143.2h0M37.6 129.3h0M44.2 108.4h0M52.3 140.5h0M64.9 136.7h0M41.5 123.7h0M65.8 137.4h0M41.7 111.9h0M41.1 143.8h0M45.5 137.9h0M42.5 128.1h0M42.5 144.7h0M39.2 119.3h0M49.2 139.6h0M36.9 124.6h0M54.5 145.3h0M47.7 108.4h0M36.7 131h0M63.7 142.8h0M37.8 119h0M44.6 140.2h0M38 136.2h0M56.7 143.8h0M41.9 134.6h0M52.9 141.9h0M66.3 139.9h0M53 143.6h0M42.3 144.4h0M37.9 138.6h0M37.4 141h0M55.6 148.5h0M46.7 146.9h0M62.3 143.1h0M47.7 147.3h0M44.9 141.2h0M41 123.6h0M34.9 135.4h0M39.8 141.2h0M48.9 107.5h0M44.9 115h0M48.7 108.1h0M56.4 145.6h0M47.7 139.7h0M45.9 112.7h0M59.4 145.3h0M60.8 146.3h0M42.1 135.5h0M39.3 122.1h0M45.1 113.7h0M49 104.6h0M41.8 128.5h0M35.1 132.3h0M40.2 124.4h0M39.1 138.9h0M42.1 134.2h0M41.8 118.4h0M55.2 145.4h0M47.3 107.1h0M38.4 143.7h0M41.5 131.7h0M37.5 121.4h0M36.9 120.1h0M56.1 142.2h0M57.2 143.9h0M40.2 142.8h0M40.3 119h0M43.7 134.4h0M41 127.3h0M43.2 141.2h0M40.7 116.6h0M65.6 139.1h0M42.3 135.7h0M57.9 146.3h0M40.5 125.8h0M43.8 147.8h0M37.7 123.5h0M44.4 142.1h0M63.5 138.1h0M48.4 107.2h0M66.2 141.3h0M65.3 137.4h0M42.4 139.8h0M42.4 138h0M61.9 145.6h0M52.6 147.6h0M37.3 128.1h0M47.7 140.5h0M42 127.9h0M36.1 130.7h0M45.3 138.7h0M41.6 133h0M39.4 130.2h0M54.2 143.2h0M48.6 106.7h0M60.3 142.9h0M56.4 145.5h0M48.2 138.8h0M39 132h0M49.3 145.3h0M38.8 132.2h0M41.6 120h0M64.2 137.5h0M44.1 141.4h0M35.5 129h0M39.4 114.4h0M40.6 114h0M35 132.3h0M41.9 132.1h0M59.6 142.2h0M36.9 121.4h0M44.6 111.1h0M65.1 139.7h0M58.3 142.1h0M56.4 140.5h0M54.1 142.4h0M49.7 108.1h0M48.2 146.9h0M36.2 123.2h0M60.3 139.3h0M38.9 117.5h0M41.2 131.1h0M39 120.8h0M45.7 139.7h0M38 124.4h0M45.3 114.1h0M65.8 141.6h0M41.4 120.7h0M51.6 142.5h0M39 115.8h0M50 141.2h0M42.9 118.7h0M61 142.2h0M51.4 147.1h0M38.6 119.9h0M42.3 114.3h0M44.5 114.7h0M38.4 138.7h0M39.9 122.8h0M42.9 115.8h0M46.7 110.8h0M62.2 139.1h0M47.2 140.9h0M38.6 118.1h0M37 134.2h0M45.7 136h0M34 133h0M48.2 142.4h0M59.2 143.6h0M43.9 140h0M60 144.9h0M60.1 139.7h0M46.6 147.3h0M62.7 138.3h0M58.2 146.7h0M43.3 137.2h0M41.4 127.7h0M41.3 126.4h0M41.1 142.2h0M40.6 141.4h0M41.5 139.9h0M42.3 144.3h0M41.1 136.8h0M37.9 121.2h0M55.5 140.4h0M38.5 114.9h0M42.1 127.2h0M62.9 141.6h0M63.6 139.6h0M53.9 141.8h0M43.9 111h0M63.8 137.2h0M38.7 142.7h0M44.3 110.7h0M39.1 121.8h0M42.6 135.8h0M39 114.8h0M37.2 137.4h0M37.3 138.1h0M46.5 111.6h0M36.5 125.5h0M41.5 146.2h0M48.6 139.1h0M39.7 119.7h0M41.8 121.9h0M57.6 146.3h0M39 119.1h0M48.4 143.8h0M41.8 141.6h0M39.4 118.8h0M44.9 136.3h0M40.2 122.1h0M51.1 143.1h0M50.7 140h0M54.3 140.6h0M50.2 140.7h0M38.2 135.8h0M57.5 144.4h0M55.3 147.5h0M40 141.4h0M47.8 145.8h0M37.7 139.6h0M63.9 140.8h0M43.6 142.1h0M41.6 125.8h0M39.8 133.5h0M42.4 139.5h0M62.6 140.4h0M53.4 147.4h0M49.6 141h0M50.4 145h0M40.5 117.3h0M39.9 137.7h0M60.1 142h0M37.8 124.4h0M43.7 139.6h0M39.1 124.1h0M47.3 139.4h0M52.2 141.3h0M38.9 118.7h0M40.6 130.2h0M39.6 134.6h0M36.4 129.3h0M65.5 139.4h0M41.4 142.4h0M51 147.9h0M60.2 142.7h0M41.5 141.5h0M40.8 141.2h0M66.5 138.5h0M61.8 139h0M61.6 144.4h0M63.2 142.8h0M62.9 138.8h0M47.5 146h0M56.7 142.5h0M47.1 144.6h0M38.4 132.9h0M36.9 126.5h0M62.8 139.5h0M42.3 138.5h0M60.7 139.8h0M36.2 122.4h0M35.2 127.7h0M56.5 144.8h0M36.7 127.7h0M40.3 141.3h0M41.5 114.8h0M52.2 145.5h0M51 145.9h0M41.3 143.7h0M49.9 107.6h0M38 123.2h0M45.3 112.3h0M40.5 115.1h0M41.7 144.6h0M53.1 143.8h0M43.6 136.3h0M54 141.6h0M47.1 110.1h0M38.1 135.3h0M65.9 141.7h0M103.3 78.2h0M105.5 76.6h0M103.3 77.8h0M108.8 78.2h0M105.1 76.3h0M104.5 72.1h0M108.4 77h0M105.6 70.3h0M106.1 75.2h0M108.2 71.8h0M106.1 77.7h0M105.4 77.3h0M107.4 73.6h0M104.8 76.4h0M103.9 77.8h0M107.3 75.6h0M53.2 121.9h0M53.2 132.9h0M60.3 127.5h0M58.7 137.7h0M57 113.8h0M50.4 138.8h0M62.8 137h0M48.9 112.9h0M47.9 122.5h0M52.4 104.4h0M54 128.3h0M46.9 119.7h0M53.8 118.5h0M63.7 121h0M59.9 132.7h0M65.3 134.5h0M50.9 129.8h0M52.4 117.2h0M53.3 124.5h0M56.8 121.7h0M60 115h0M59.7 125.4h0M56.8 114.9h0M54.1 127.6h0M51 125.4h0M65.1 130.7h0M48.9 106.2h0M61.7 121.1h0M54 120.3h0M46.5 130.4h0M63.1 138.4h0M61.7 126.3h0M46.2 116.9h0M50 109.6h0M44.3 121.4h0M55.8 131h0M51.7 139.1h0M60.2 138.2h0M47.9 132.2h0M49.3 112.7h0M67 135.6h0M52.6 131h0M50.9 129.6h0M63.5 132h0M56.7 137.7h0M46.8 123.1h0M53.2 127.4h0M58.3 124h0M50.4 127.5h0M44.1 132.4h0M49.9 109.6h0M57.3 139.7h0M49.1 113h0M64.3 122.8h0M57.2 133.3h0M54.6 126.8h0M54.6 103.1h0M49.5 120.2h0M57.5 122.5h0M49.3 122.7h0M51.7 105.9h0M56.8 139.6h0M60.1 121.3h0M51.8 128.1h0M62.5 131.8h0M52.7 111.5h0M47 125.8h0M58.6 137.5h0M52.6 136.6h0M55.3 136.2h0M52.1 136.4h0M63.9 134.1h0M67.6 132.3h0M53.3 132.9h0M60.3 137.3h0M56.5 129.8h0M54.2 113.8h0M46.6 135.2h0M58.4 120.1h0M63.9 133.2h0M59.1 117h0M59.8 122.1h0M50.3 137.7h0M55.1 108.3h0M66.8 133.9h0M55.3 119.3h0M56.6 113.5h0M53.7 118.6h0M63.2 137.6h0M47.5 112.6h0M62.5 138.6h0M50.4 128.1h0M46.3 134.5h0M54.4 129.7h0M67.3 133.7h0M61 128.3h0M64.6 123.9h0M63 138.7h0M58.2 129.7h0M47.4 137.5h0M48.5 107.1h0M53.5 107.5h0M49.2 139.8h0M44.8 126.4h0M54.6 134h0M65.3 125.9h0M49.7 138.7h0M47 137h0M47.2 114.7h0M46.6 131.1h0M43.9 122.6h0M56.6 134h0M52.2 123.9h0M50.4 112.5h0M50.8 114.5h0M47.2 115.1h0M49.7 121.7h0M52.4 138.6h0M53.2 125.9h0M49.1 109.9h0M60 139.9h0M47.2 136.1h0M56.3 129.3h0M48.8 133h0M50.9 116.3h0M55.8 139.8h0M63 135.3h0M64.9 127.1h0M61.9 120.5h0M55.2 123.9h0M53.2 127.5h0M44.6 118.4h0M44.7 126.2h0M50.7 118h0M47 137.6h0M43.6 122h0M56.3 132h0M47.1 124h0M61.8 129.1h0M52 133.3h0M62.3 133.9h0M52.6 125.3h0M49.2 108.9h0M46.5 115.2h0M56.3 124.1h0M61.2 120.9h0M51.4 103.4h0M48.9 108.3h0M53.4 135.6h0M65.6 127.1h0M56.6 111.3h0M63.2 132h0M51.5 140.3h0M65.1 135.2h0M63.9 127.6h0M53.6 118.9h0M56.9 108.8h0M57.5 119.6h0M48.9 119.8h0M55.3 119.5h0M67.4 130.7h0M53.4 130h0M53.3 136.2h0M68.1 129.3h0M55.9 140.5h0M59.9 116.9h0M57.3 120h0M55 105.3h0M52.1 117h0M59.8 132.7h0M58.2 121.6h0M56.7 127.8h0M61.4 128.9h0M56.7 126.3h0M56.5 116.6h0M63.9 131h0M48.5 116h0M52.7 139.8h0M51.2 139.4h0M58.7 140.2h0M58.1 120.5h0M51.1 117.9h0M51.1 118.6h0M63.2 125.3h0M59.7 138h0M52.6 103.5h0M44.2 128.6h0M43.3 122.8h0M57.9 130h0M58.2 134.9h0M45.9 133.9h0M58.6 126h0M55.7 126h0M63 120.7h0M49.4 135.2h0M51.8 138.3h0M53.8 134.8h0M61.7 129.9h0M46.7 117.8h0M50.3 125.1h0M48.3 125.5h0M53.5 102h0M48.7 113.9h0M53 115h0M55.4 117h0M54.8 114.7h0M51.4 113.3h0M58 116.6h0M64.3 135.6h0M52.2 132.7h0M50.3 106.6h0M54.3 123.7h0M50 105h0M68.5 133.6h0M48.7 116.2h0M53.8 140.3h0M50.9 116h0M64.8 122.9h0M50.3 108.7h0M46 126.7h0M49.8 126.3h0M65.7 131.6h0M54.7 118.9h0M47.4 138.4h0M50.9 137.5h0M46.6 124.7h0M47.2 125.8h0M66.1 131.5h0M50.1 108.7h0M55.1 124.3h0M52.9 114.6h0M60.9 130.9h0M59.4 118.4h0M61 124.6h0M55.7 130.5h0M46.6 126.6h0M58.7 118.2h0M50.8 108h0M56.5 117.9h0M43.8 119.8h0M53.4 116.4h0M58.3 119.7h0M48.9 108h0M43.3 132.4h0M56.3 107.8h0M44.9 134.4h0M57.9 121.9h0M61 122.6h0M49.6 137.7h0M65.6 131.1h0M58.9 134.1h0M43.4 132.3h0M52.9 133.9h0M69.5 133.4h0M62.8 136.6h0M61.1 131.4h0" stroke="#ABA300" stroke-width="0.8" stroke-linecap="round"/><path d="M170.1 149.6h0M171.5 153.3h0M162.2 133.7h0M174.5 143.2h0M167.4 147.6h0M181.1 155h0M183.7 147.8h0M191.1 145.8h0M177.5 151.9h0M164.3 128.9h0M181.1 143.8h0M182 157.5h0M169.6 160.4h0M170.6 156.1h0M187.3 143.3h0M171.1 153.6h0M187.6 133.9h0M180.3 151.9h0M192.8 140.5h0M174.3 134.1h0M165.2 152.5h0M163.7 149.2h0M166.8 151.5h0M183 150.5h0M168.9 150.7h0M170.2 144.6h0M162.1 135.4h0M177.4 159.3h0M169.3 152.8h0M191.5 143.7h0M176.9 134h0M185.2 146.4h0M187.8 139.2h0M175.8 143.8h0M165.5 151.7h0M165.9 144.7h0M184.4 135.3h0M173.3 135.5h0M186.8 139.7h0M179.5 156h0M162.5 147.7h0M192.8 140.2h0M184.5 148h0M180.1 147.5h0M186.8 152.4h0M186.4 158.3h0M174.8 139.1h0M160.4 150.3h0M185.7 144.9h0M168.1 136h0M163.8 136.9h0M172.6 142.6h0M170.5 156.3h0M167.6 128.7h0M180.4 152.9h0M177.7 139.7h0M172.2 161.3h0M164.8 145.7h0M186.9 137h0M171.8 162.7h0M165.2 133.5h0M177.6 134.4h0M182.5 146.6h0M181.7 161h0M157.9 131.8h0M181.5 145.3h0M189.8 143.4h0M190.4 146.3h0M183.3 134.7h0M170.8 160.3h0M166.2 152.7h0M178.6 145.2h0M183.2 153.3h0M188 140.9h0M181.7 139.2h0M186.6 154.2h0M182 151.9h0M161.8 147.4h0M185.2 139.2h0M175.1 144.7h0M175.9 131.8h0M169.4 157.8h0M175.6 153.4h0M186.4 140.1h0M188.9 149.4h0M185.4 147.1h0M185.9 137.1h0M167 143.6h0M171.5 140.6h0M181.8 149.1h0M167.7 133h0M176.5 144.9h0M172.9 140.2h0M160.2 137.4h0M165.2 141h0M174.5 137.8h0M169 135.1h0M187.8 142.2h0M180.6 133.4h0M182.6 150.9h0M160.3 134.3h0M179.8 137.2h0M159.1 141.8h0M181.3 151.6h0M182.5 134.3h0M171.7 130.5h0M164 142.8h0M176.8 153.6h0M171.8 149.5h0M184 140.2h0M192.6 139.9h0M171.2 156.9h0M188.4 153h0M188.1 148.1h0M184.1 135.9h0M173.2 149.5h0M187.6 147.9h0M182.7 146.1h0M180.7 160.4h0M168.4 134.4h0M179 144.3h0M178.2 142.6h0M180.2 149.1h0M171.3 152.7h0M191.8 143.3h0M173.9 153.1h0M166.4 151.6h0M173 147h0M164.2 138h0M179 142.3h0M177.3 155.1h0M158.1 141.7h0M168.7 137.6h0M161.9 129.6h0M170.2 154.9h0M163.8 142h0M160 147.9h0M171.4 161.3h0M160 137.3h0M184.7 138.6h0M165.9 151.6h0M173.1 134.9h0M178.8 143.8h0M188.8 135.8h0M161.5 132.5h0M170.8 143.3h0M193.3 143.6h0M171 159.9h0M180.3 136.7h0M182.1 148.1h0M191.6 140.3h0M181.7 153.8h0M182.5 135.3h0M161 132.9h0M174.2 155.8h0M165.4 129.9h0M168.9 148.9h0M160.3 130h0M172 163.4h0M168.8 130.1h0M172.9 156h0M170 160h0M183.3 145.2h0M185.6 145.4h0M183 140.7h0M169.3 151.3h0M173.6 153.9h0M185.8 155.8h0M172.2 154.2h0M173 140.2h0M165.7 153.9h0M190.1 142.6h0M176 152.7h0M169.4 134.5h0M174.4 159.1h0M184.5 148.9h0M165.2 137.8h0M183.2 141h0M169.1 133.6h0M177.8 156.3h0M175.7 132.5h0M170.5 144.4h0M179.3 164.8h0M188 135.9h0M190.6 135.8h0M193.1 143.2h0M168.2 140.7h0M161.3 138.1h0M163.3 132.1h0M164.6 146.7h0M159.5 135.4h0M186.9 136.7h0M172.8 136.6h0M163.4 131.2h0M185.8 140.1h0M159.6 138.8h0M173 150.3h0M161.1 134.2h0M173.6 149.6h0M175.1 158.5h0M179.9 132.8h0M192.7 143.5h0M172.6 140.5h0M173.3 161.3h0M188.8 144.7h0M185.2 139.1h0M183 143.2h0M187.6 150.4h0M192.4 137.2h0M159.5 147h0M178.9 140.4h0M167.4 132.8h0M172.5 162h0M175.1 138.8h0M169.9 143.4h0M171.8 141.3h0M161.3 138.9h0M186.3 140.5h0M170.7 141.4h0M174.8 132.5h0M191.7 144.1h0M167.2 135.3h0M185.7 143.6h0M168.6 146.1h0M176.1 146.9h0M183.2 133.7h0M187.2 141.8h0M176.8 154.6h0M193.6 140.8h0M170.9 153h0M186.4 137.9h0M161.2 140.3h0M170.1 152.4h0M162.7 139.1h0M173.3 131.3h0M162.4 137.9h0M179.1 134.8h0M181.3 142.2h0M183 158.3h0M180.7 162.3h0M161.6 146.9h0M177.3 157.8h0M190 151.1h0M172.3 141.2h0M179.6 135.1h0M185.3 157h0M181.8 158.5h0M183.6 143h0M167.4 128h0M175.7 163.2h0M177.8 156.3h0M180.4 138.3h0M186.3 158.9h0M184.8 138.1h0M173.8 150.7h0M165.4 131.5h0M181 133.6h0M178.6 134.6h0M185.4 152.7h0M167.5 154.9h0M188.5 148.1h0M178 147h0M188.4 151.1h0M178.2 146.1h0M163.1 138.4h0M162.3 151.4h0M181.8 135.3h0M186.3 154.6h0M171.1 131.2h0M181.7 142.6h0M178.5 138.7h0M166.5 154.4h0M172.9 142.7h0M188.8 137.1h0M167.1 152.9h0M189.7 147.2h0M174.3 153.8h0M188.6 139.6h0M175 148h0M177.3 149.5h0M183.6 151.5h0M158.4 144.3h0M172.1 144.4h0M162.5 144.2h0M166 129.5h0M163.8 142.1h0M189.3 153.8h0M180.8 142.2h0M170.8 159.1h0M190.9 138.4h0M191.7 139h0M187.5 143.5h0M175.1 133.3h0M192.6 149.7h0M170.5 133.3h0M162.7 145.2h0M168.7 153h0M167.5 142.5h0M187.7 135.7h0M190.2 138.6h0M171.9 138.3h0M170.4 153.2h0M176.8 157.1h0M172.6 133.4h0M190.5 145.2h0M177.4 156.7h0M167.5 154.5h0M193 149.7h0M170.2 163.4h0M190.8 137h0M173.5 159.9h0M159.8 132.6h0M158.6 144.5h0M178.8 153h0M181.8 159.5h0M192.3 143.7h0M160.5 141.5h0M185 154.5h0M183.8 138.5h0M184.5 143.9h0M176.8 160.3h0M162.6 138.6h0M170.4 160.2h0M166.6 130.2h0M186.6 141.8h0M179.1 136.5h0M185.5 150.7h0M171.1 131h0M182 136.9h0M173.9 160.6h0M178.8 132.3h0M163.5 128.9h0M191.2 137.4h0M169.3 129.1h0M189.8 135.6h0M191.5 146.6h0M178.9 159.5h0M163.5 145.3h0M172.6 149h0M176.5 132.4h0M168.4 141.1h0M193.2 146.3h0M180.2 163.6h0M176.7 143.9h0M177 136h0M187.8 153.7h0M164.3 157.2h0M165.1 134.5h0M162.5 151.4h0M164.5 146.9h0M160.7 139.2h0M180.7 146.4h0M158.2 140.3h0M185.3 154.1h0M163.8 157.5h0M187.5 136.1h0M174.4 149.6h0M162.7 134.7h0M177.7 142.9h0M163.9 151.3h0M170.7 151.7h0M178.2 135.3h0M178.6 147.9h0M166.6 159.8h0M168.9 147.9h0M172.4 141.9h0M189.3 147.6h0M183.1 141.5h0M179.2 138.5h0M163.4 130.8h0M167 161.6h0M194.8 141h0M178.8 155h0M168.3 135.8h0M192.4 150.6h0M188.1 156.1h0M185.9 154.4h0M166.2 146h0M168.1 156.2h0M173.1 147h0M180.8 156.1h0M163.8 131.2h0M163.9 132h0M171.3 146.1h0M181.6 159.6h0M176.8 157.1h0M164 133h0M188.3 155.3h0M160.1 139.2h0M182.5 133.8h0M170.8 140.5h0M172.1 130.9h0M187.1 133.8h0M175.5 138.8h0M175.9 136h0M172.1 159.5h0M183.7 161.3h0M187.9 144.6h0M182.3 152h0M185 149.6h0M161.4 152.3h0M184.4 151.3h0M176.8 163h0M184.4 152.6h0M187.9 149.1h0M178.9 157.8h0M194.5 140.8h0M177 135.9h0M170.5 147.2h0M189.9 136.6h0M164.5 150.3h0M186.3 148.6h0M178.1 154.2h0M168.6 132.6h0M192.1 146h0M179.3 143.8h0M183.9 158.2h0M176 162.6h0M178.9 138.1h0M164 147h0M182.5 150.5h0M176.1 137.6h0M167.7 148h0M178.4 155.3h0M192.2 150.9h0M171.7 131.7h0M167.6 135.1h0M166.4 144h0M182.9 146.1h0M177.5 163.5h0M192 146.1h0M185.5 155.8h0M177.5 154.2h0M182.4 144.4h0M185.7 149.7h0M183.9 158.9h0M163.6 137h0M159.2 139.2h0M176.3 146.5h0M186.1 141.7h0M165.9 141.9h0M190.8 149.5h0M182.4 144.2h0M182 160.3h0M167.9 130.3h0M164.2 152.9h0M178.9 157.2h0M192.2 146.1h0M182.9 133.7h0M177.4 161.5h0M177.5 131.7h0M160.3 150.1h0M165.6 156.7h0M163.4 144.8h0M180.7 146.8h0M181.2 136.1h0M169.7 137.7h0M189.3 144.8h0M179.3 150.3h0M173.6 137.7h0M167.5 148h0M169.3 146.8h0M186.4 148.2h0M178.6 147.4h0M169.5 129.6h0M175.2 144.8h0M160.2 132.7h0M187.6 140.1h0M187.8 133.7h0M178.3 158h0M181.7 139.1h0M178.5 152.6h0M168.3 150.4h0M181.8 138.3h0M168.1 134.1h0M169 146.7h0M172 155.2h0M191.4 144.8h0M161.7 129h0M167.4 132.7h0M183.5 133.6h0M163.4 132.2h0M168.2 141.2h0M164.9 150.8h0M173.8 152.5h0M175.7 161.9h0M163.4 139.2h0M177.6 139.2h0M165.8 151.9h0M165.7 143.9h0M169 147.7h0M172 160.7h0M184.4 152.4h0M161.3 132.5h0M167.3 140.5h0M171 163.4h0M158.3 139.7h0M171.7 136.3h0M184.2 136.6h0M192.8 143.6h0M179.7 160.5h0M193.8 140.8h0M166.2 153.5h0M169.5 133h0M182 141.6h0M181 133.9h0M162.1 138.4h0M171.5 141.9h0M176.4 152.4h0M190.4 138.9h0M158.4 144.4h0M188.8 138.3h0M173.6 164.1h0M186.9 145.4h0M170.8 159.1h0M181.1 147.2h0M186.1 151.2h0M192 149.2h0M166.6 132.7h0M187.3 155.1h0M160 141.4h0M165.3 154.1h0M175.3 142h0M190 150.5h0M184.9 135.2h0M193.3 146.5h0M163.5 134.2h0M173.2 160.7h0M181.3 162h0M168.4 130.7h0M184 156.4h0M170 138.9h0M170.8 155.1h0M164.5 140.8h0M176.9 159.7h0M172.4 139.4h0M180.4 143h0M169.4 157.4h0M169.8 137.5h0M180.4 163.6h0M185.2 156.8h0M178.2 160.3h0M168.6 157.2h0M185.3 155.7h0M178.9 150.9h0M181.8 150.3h0M183.1 157.3h0M171.4 134.2h0M187.9 146.8h0M186.9 147h0M185.9 154h0M171.7 160.4h0M170.6 138.5h0M182.2 156.5h0M182.9 143h0M183.3 144.7h0M166.7 140.7h0M170.3 158.5h0M174 141.8h0M181.4 140h0M174.6 135.1h0M190.5 135.6h0M179.5 160.6h0M187.3 138.6h0M187.4 152.7h0M165.6 138.7h0M170.3 138.7h0M174.2 156.9h0M169.6 157.7h0M171.6 142.2h0M165.1 141.2h0M172.3 147.9h0M158.2 135.9h0M174.2 140.3h0M171.3 155.6h0M164.3 142.7h0M183.8 158.7h0M173.1 136.4h0M180.5 133.4h0M170.1 135.1h0M164.4 152.7h0M185.9 144.4h0M164.8 133.4h0M179.7 158.7h0M161.8 152.2h0M189.6 137.9h0M171.9 146.2h0M168.4 160.1h0M180.1 150.2h0M191.5 148.1h0M187.8 143.9h0M191.6 139.2h0M184.8 141.6h0M168.8 152.9h0M173.4 158.1h0M189.2 137h0M181.4 136h0M162.9 155.1h0M161.2 152.2h0M175.7 139.8h0M173.1 164.9h0M184.5 157.2h0M173.7 143.6h0M176.5 134.3h0M178.8 143.5h0M163 129.7h0M171.6 135h0M188.8 137h0M175.8 148.3h0M169.2 133.5h0M163.6 131h0M177.3 147.4h0M174.5 156.6h0M187.5 148.1h0M177.2 151.2h0M158 134.1h0M189.1 139.7h0M163.7 154h0M192.2 136.3h0M186.6 128.1h0M180.5 125.9h0M169 123.3h0M181.1 124.4h0M179 129.9h0M188.4 135.1h0M190.5 133.1h0M181.6 131.2h0M186.9 135.3h0M166.9 125.3h0M173.6 125.6h0M186.3 130.2h0M191.1 138.7h0M169.7 123.3h0M184 131.5h0M185.4 136.3h0M186.1 127.9h0M190.6 136.6h0M174.9 129.8h0M170.6 131.3h0M186.3 126.2h0M173.2 127.8h0M193 136.2h0M174.2 123.4h0M169.5 129.5h0M182.6 129.7h0M175.1 124.7h0M181.6 132.9h0M174.3 133h0M170.2 129.6h0M178.7 125.1h0M177.3 124h0M174 124.5h0M177.5 135.2h0M173.1 125.4h0M191.6 130.5h0M178.5 126.8h0M186.2 131.7h0M195.4 133.2h0M188.4 133.4h0M182.4 136.3h0M178.8 134.6h0M167.8 125.3h0M167.2 126.4h0M171.3 127h0M192.1 131.3h0M168.8 123.4h0M189.5 136.2h0M187.1 134.2h0M179.4 125.6h0M185.5 136.4h0M183.9 127.2h0M172.6 127.7h0M181.7 136.3h0M177.7 125.1h0M176.6 126.7h0M193.6 135.7h0M185.5 134.7h0M177.7 128.9h0M182.5 136.4h0M184.4 134.4h0M191.9 129.9h0M179 130.9h0M169.9 129.3h0M186.8 131.3h0M182.2 127.8h0M173.5 132.4h0M182.4 132.6h0M189.8 133.8h0M187.1 130.9h0M189.9 138.2h0M187 133.6h0M176.9 124.8h0M171.7 132.4h0" stroke="#7CAE00" stroke-width="0.8" stroke-linecap="round"/><path d="M156.1 79.4h0M172.9 89.9h0M158.9 78.9h0M186.1 108.1h0M156.3 95.5h0M169.9 106.8h0M159.4 70.8h0M177.6 94.2h0M166.7 104.4h0M169 76.2h0M173.7 113h0M176.4 84.2h0M165.5 105.9h0M156.4 82.7h0M168.8 107.8h0M168.9 84.7h0M163.7 102.8h0M162.6 76.5h0M180.9 89.5h0M173.6 95.1h0M160.8 85.7h0M163.8 82h0M167.1 102.3h0M179.5 101.3h0M172.4 106h0M163.9 107.7h0M161.5 91.1h0M184.1 106.3h0M178.6 94.1h0M174.9 97.8h0M182.5 111.5h0M157.7 90.6h0M175.8 94h0M185.6 98.3h0M159 92.4h0M164.8 90.3h0M174.3 79h0M163.7 100.8h0M175.4 87.8h0M182.2 110.7h0M167.7 71.2h0M174.5 107.5h0M171.4 98.1h0M187.7 109h0M171.6 105h0M187.2 107.8h0M167.1 89h0M170.6 111.8h0M163.6 68.2h0M164.4 97.4h0M164.5 105.3h0M172.6 90.3h0M172.8 105h0M163.9 96.7h0M171.6 91.1h0M170.8 116.3h0M165.1 103.6h0M160.6 67.7h0M165.1 106.2h0M169.7 103.4h0M167.8 88.1h0M180.8 113h0M159.7 85h0M166.9 91.8h0M168.4 84.1h0M158.4 97.1h0M159.6 89.1h0M178.6 109.4h0M162.3 109.6h0M177.4 94.8h0M167.1 111.6h0M177 93h0M176.7 85.1h0M162.2 96.3h0M179.8 94.8h0M174.6 107.9h0M176.5 85h0M177.5 101h0M167.1 95.8h0M176.2 100.4h0M160 89.7h0M170.9 86.2h0M163.5 99.2h0M172.8 88.2h0M160 83.6h0M171 98.5h0M156.7 93.7h0M167.2 107.3h0M165.4 85h0M182.9 94.8h0M168.6 100.1h0M171.2 114.5h0M155.7 90.8h0M165.5 111.4h0M178.8 104.2h0M169.3 99.3h0M168.2 87.6h0M160.8 110.8h0M175.9 108.6h0M164.7 70h0M178.3 112.4h0M163.3 104.9h0M164.3 82.6h0M155 87.7h0M184.6 105.1h0M162.4 111.2h0M156 82h0M166 87h0M179.4 90.9h0M158.4 91.9h0M164.4 109.7h0M163.1 69.2h0M159.3 70.2h0M169.1 74.5h0M167.6 77.1h0M172.5 81.4h0M168.3 86.9h0M164 103.9h0M156.6 97.5h0M164.8 101.3h0M177 111.3h0M161.2 92.5h0M161.1 74.4h0M162.3 75.7h0M170.3 112.8h0M164.3 88.3h0M162.5 94.8h0M165.5 73.9h0M166.4 91.2h0M173.6 90.5h0M165.1 94h0M162.1 106.5h0M178.3 86.7h0M165.6 91.2h0M162.5 100.5h0M166.7 111.4h0M163.8 75.1h0M181.4 99.3h0M173.1 114.3h0M172.5 105.9h0M169.8 102.7h0M180.4 103.6h0M174 84.3h0M187.4 108.2h0M165.3 101.5h0M171.8 115h0M179.5 108.4h0M169 98.3h0M162.5 77.7h0M168.9 96.4h0M172.9 107.6h0M185.7 99.9h0M168.6 107.6h0M162.4 103.2h0M185.8 100.9h0M170.6 83.1h0M179.4 106h0M179 101.5h0M159.1 90.2h0M157.9 79h0M184.9 103h0M169.6 98.1h0M174.5 82.5h0M164.6 84.1h0M172.7 92h0M178.3 95.1h0M172 92.8h0M186.1 107.1h0M162.8 76.8h0M173.8 89.9h0M171.9 89.4h0M160.6 78.2h0M169.9 103.7h0M171.1 85.3h0M178.2 109.2h0M161.7 86.3h0M170.1 82.3h0M176 90.4h0M170 75.9h0M169.4 103.1h0M161.5 82.3h0M166.5 105h0M165.9 95.5h0M158.7 100.6h0M166.5 98.4h0M169.3 79h0M159.2 72.7h0M182.4 102.5h0M166.3 88.6h0M164.1 69.4h0M163.9 91h0M186.6 105.8h0M162.2 105.2h0M166.2 80.1h0M181.5 109.9h0M170 88.3h0M164.5 85.9h0M180.4 113.2h0M161.7 90.7h0M159.1 82.3h0M167.9 89.6h0M179.5 109.5h0M179.8 98h0M164.4 72.9h0M155.7 83.2h0M174.1 81.6h0M181.1 106.1h0M155.9 93.1h0M159.5 70.7h0M161.4 85.6h0M168.2 95.9h0M160.9 96.4h0M179.5 86.6h0M159.4 83.8h0M185.6 100.5h0M178.9 113.3h0M165.7 90.6h0M158.4 73.7h0M159.6 72.6h0M169.2 76.6h0M165.3 116.5h0M160.4 69.5h0M164.3 90.1h0M183.2 100.1h0M167.6 70.6h0M167.7 101.6h0M177.5 93.1h0M157.8 93.6h0M174.8 81.4h0M162.9 100.7h0M159.2 93.2h0M173.2 96.6h0M175.7 114.7h0M162.4 105.6h0M172.4 77.5h0M157.3 75.4h0M181.8 96.5h0M171.4 106.9h0M160.7 101.4h0M167.1 105.9h0M170.1 95.8h0M158 77.2h0M160.6 70h0M163 97.7h0M165.5 117.2h0M179 111.8h0M159.5 84.2h0M167.6 111.5h0M182.6 93.5h0M174.4 86.5h0M159.6 69.2h0M175.6 89.9h0M160.3 79.6h0M167 75.4h0M170.3 84.5h0M173.6 97.2h0M159.6 100.9h0M175.7 84h0M162 82.7h0M168.4 99.3h0M168.4 111.7h0M164 89.7h0M182 91.9h0M171.8 100.8h0M166.1 88.6h0M165.9 79.4h0M175.7 109.6h0M167.8 79.7h0M162 89.8h0M183.1 101.4h0M157.4 74.9h0M179.6 90.5h0M170.3 82.7h0M177.4 96.9h0M177.9 98.8h0M162.9 113.5h0M176.8 114.2h0M175.2 100.7h0M178.9 100.7h0M163 79.2h0M163.7 106.3h0M178.2 102.6h0M171.9 107h0M161.5 84.8h0M157.6 92.1h0M163.3 93.3h0M160.4 81.2h0M177.2 87.3h0M181.6 111.4h0M162.6 97.4h0M177.1 95.7h0M165.5 116h0M167.7 89.1h0M166.6 93.3h0M158.2 72.9h0M179 111.9h0M157.2 84.8h0M186 110.4h0M164 110.2h0M164.5 87h0M187 107.4h0M169.8 92.4h0M177 98h0M179.9 90.9h0M156.3 89.9h0M161.7 109.6h0M179.4 111.4h0M158.6 82.6h0M169.9 94.9h0M170 86.3h0M159.1 86.5h0M170.4 98.6h0M174.7 89h0M161.1 93.7h0M178.3 105.5h0M166.6 110.7h0M171.6 112.8h0M162.1 97h0M168.5 84h0M181.4 100.1h0M159.7 86.4h0M162.2 77.5h0M171.8 105.1h0M167.1 114.3h0M180.3 92.5h0M168.9 104.6h0M177.9 113h0M177.6 88.3h0M161.6 80.7h0M166.5 78.2h0M169 112.3h0M183.5 105.3h0M180.8 91.8h0M172.6 99.6h0M165.2 114.6h0M166.4 116.6h0M171.7 113.1h0M169.6 82.3h0M159.6 69.5h0M156.6 96.2h0M166.4 72.7h0M163 105.9h0M177.1 106.1h0M170.1 97.2h0M164.7 86.8h0M170.1 89.6h0M181.1 109.1h0M189 106.7h0M173 98.4h0M156.5 77.2h0M163 88.4h0M187 104.8h0M166.1 89.4h0M165.3 83.3h0M180 92.6h0M168.6 72h0M157.6 100.8h0M172.6 92.9h0M158 97.8h0M172.4 106.4h0M180.6 98.6h0M161.5 97.1h0M158.9 70.4h0M173.9 94.7h0M170.7 86.2h0M165.6 100.7h0M155.2 86.9h0M186.7 105.9h0M159.5 81.8h0M164.5 101.3h0M165.3 94.8h0M165.2 71.1h0M180 103.3h0M173.4 80.8h0M178.4 97.7h0M155.4 86.3h0M182.8 94.8h0M182 107.9h0M165.3 108.6h0M184.4 103.1h0M159.8 100h0M173.8 83.5h0M158.7 70.6h0M167.6 80.3h0M184.5 106.8h0M163.7 80.7h0M166.5 96.1h0M161.1 102.4h0M174.9 93h0M167.8 111.2h0M182 106h0M181.3 109.2h0M167.2 102.6h0M166.8 109.4h0M161.2 102.1h0M171.1 90.2h0M156.2 79.1h0M158.5 103.6h0M163.6 105.9h0M174 108.4h0M171 79.4h0M185.7 109.7h0M182.9 103.5h0M171.7 77.5h0M185.9 101.7h0M158.6 91.8h0M158.5 105h0M161.6 108.1h0M156.3 80h0M176.8 111.1h0M162.7 86.2h0M163.4 108.1h0M169.9 114.1h0M164.1 106.4h0M180 110.2h0M173 111h0M163.7 84.2h0M164.4 108.4h0M160.2 81.1h0M164.4 87.9h0M181.1 112.7h0M186.3 108.3h0M176.7 81.4h0M165.1 106.3h0M162.3 97.5h0M165.8 90.2h0M181.7 109.8h0M170.1 80.4h0M156 93.6h0M174 96.9h0M161.6 69.1h0M166.2 95.7h0M167.2 91.8h0M180.8 99.6h0M174.4 96.5h0M169.8 103.5h0M167.1 110.4h0M181.8 95.4h0M170.6 92h0M157.1 88.4h0M172.1 89.3h0M178.6 97.3h0M176.5 92.5h0M171.4 82.4h0M160.8 87.4h0M168.4 89.6h0M181.9 91.2h0M170.3 115.3h0M164.5 94.8h0M174.2 113.5h0M172.5 111.8h0M177.4 100.4h0M170.8 100.8h0M170.3 95h0M173.2 94.2h0M181.4 106.7h0M156.1 83.5h0M162.9 90.2h0M160 75.5h0M186.7 106.7h0M158.1 94.4h0M161.3 102.4h0M172.5 92.9h0M157.4 80.4h0M185.8 104.9h0M167.1 111h0M161.9 97.4h0M177.6 105.5h0M159.3 82.1h0M174.1 105.3h0M184 96.5h0M170.9 82.5h0M164.1 105h0M167.6 117h0M165 74.3h0M177.8 89.2h0M173.7 99.4h0M176 109h0M172.6 99h0M172.9 83.7h0M167.6 103.8h0M161.7 74h0M164.9 79.1h0M161.9 102.2h0M163.1 84.8h0M175.2 104.6h0M160.9 68.7h0M177.6 87h0M172.1 105h0M158.8 75h0M168.3 94.5h0M159.7 99.8h0M169.3 115.3h0M165.4 111.3h0M160.7 89.7h0M165.4 78.2h0M166.8 79.9h0M159 89.1h0M161.2 112.6h0M161.9 98.1h0M175.1 80.5h0M167.5 101.8h0M169.3 86.9h0M162.1 109.9h0M169 105.8h0M174.8 97.4h0M172 101.5h0M178.4 96.3h0M161.9 104.2h0M172.3 89.8h0M155.9 85.6h0M163.2 109.2h0M154.7 85.5h0M169.7 86.3h0M167.7 97.2h0M159.5 85.4h0M187.7 106.7h0M165.4 110.8h0M156.3 91.7h0M172.5 100.3h0M176.5 105.7h0M162.9 83.4h0M167.1 70.5h0M164.1 109.5h0M186.1 100.6h0M161.3 107.4h0M163.6 91.7h0M166.5 78.4h0M169.9 76.2h0M161.1 113.4h0M162.6 94.7h0M182.7 93.9h0M175.8 98.1h0M162.1 101.9h0M166.6 71.1h0M173.9 114h0M179.2 89.6h0M168.8 114.1h0M165.3 104h0M181.5 106.6h0M176.1 81.9h0M170.2 103.5h0M158.2 85.5h0M170.5 105.5h0M162.6 108.2h0M173.2 84.9h0M188.7 108.4h0M161.6 79.1h0M180.6 101.6h0M171.4 95.4h0M166.1 112.5h0M165.1 94.9h0M156.6 95.4h0M155.5 91.3h0M155.2 94.1h0M155.3 90.3h0M151.2 82.2h0M152.8 101.4h0M155.1 96h0M153.7 104.4h0M150.3 80.4h0M157 99h0M153.6 98.2h0M158.5 103.9h0M155.2 102.3h0M151.4 92.1h0M157.2 93.9h0M152.7 98.9h0M155 88.4h0M155.8 106.4h0M152.7 84.7h0M158.9 110.7h0M151.1 85h0M152.6 99.8h0M152.6 100.8h0M151.5 92.8h0M157.2 91.8h0M152.8 98.4h0M154.9 101.1h0M157.1 165.2h0M160.3 162.5h0M157.8 165.5h0M158.2 163.6h0M159.3 163.1h0M160.6 165.3h0M175.7 108h0M169.7 112.2h0M179.4 106.6h0M173 113h0M183.6 111.2h0M184.3 110.7h0M164.9 110.1h0M173.7 108.8h0M184.3 110.5h0M168.8 114h0M175.3 116.9h0M181.8 108.1h0M180.7 109.8h0M186.5 109h0M167.5 117.7h0M173.3 115.5h0M172.5 112.2h0M183.9 106.3h0M186 108.1h0M167.3 118.5h0M182.3 112.8h0M166.4 110.2h0M174.1 112.6h0M166 114.4h0M173.8 113.2h0M185.3 108.9h0M168.4 112h0M174.7 113.7h0M172.1 108.1h0M172.4 117.5h0M170.5 113.9h0M168.4 110.7h0M175.3 112.8h0M184 112.4h0M186 111.6h0M185.8 106.4h0M166.7 110.9h0M168.1 118.8h0M173.2 114.8h0M168.2 111h0M173 108.8h0M187 109.6h0M174.6 110.5h0" stroke="#0CB702" stroke-width="0.8" stroke-linecap="round"/><path d="M50.9 91.3h0M56.7 105.1h0M60.8 103.1h0M69.4 128.5h0M62.8 94.7h0M70.6 123h0M66 116.5h0M65.1 117.6h0M70.2 118.2h0M70 116.8h0M62.5 111h0M66 114.8h0M56.7 101.7h0M48.3 92.9h0M59 101.4h0M59.7 101.1h0M61 93.5h0M57.7 85h0M60.1 98.8h0M48.5 86h0M73.4 131.8h0M61.3 106.6h0M61.3 114.4h0M57.1 86.7h0M63.4 111.5h0M66.7 119.8h0M50.7 91.3h0M51.2 85.9h0M53.3 93.2h0M56 95.7h0M58.9 87.8h0M72.8 122.4h0M62 100.5h0M60.9 90.6h0M69.9 117.8h0M58.2 91.8h0M62.9 111.2h0M58.6 109.1h0M59.7 94.9h0M46.2 88.1h0M48.9 88.8h0M60.6 88.3h0M63.4 118.7h0M69.8 128.5h0M58.3 105.3h0M62.4 99.3h0M63 118.9h0M59.9 89.6h0M59.8 105h0M48.8 92.2h0M57.4 92.9h0M58.9 85.4h0M62.4 116.6h0M72.9 132.5h0M57.7 103.8h0M57.5 90.3h0M69.2 124.3h0M58.6 94.7h0M52.2 87.1h0M61.4 91.4h0M55.2 87h0M63.9 111.1h0M58.6 96.4h0M69.4 129.4h0M75.7 128.8h0M74.2 128.7h0M47.3 86.1h0M55.5 98.3h0M64.4 108h0M66 110.6h0M60.4 94.4h0M57.5 87.7h0M62.9 106.7h0M64.1 119.9h0M70.5 124.4h0M51.7 95.6h0M59.2 102.8h0M50.4 88.3h0M60.7 94.6h0M54 94.9h0M54.5 99.9h0M55.1 92.9h0M68.9 124.1h0M58.5 84.6h0M56.7 96.2h0M51 90.1h0M50.9 88.2h0M64.6 112.1h0M57.3 99.5h0M57.7 107.6h0M73.3 129.1h0M54.8 87.4h0M71 119.4h0M56.1 86.2h0M53 85.1h0M62.1 96.6h0M59 90.9h0M73.8 126.7h0M68.9 126.7h0M65.8 115h0M53.8 97h0M62.5 103.1h0M69.9 130.8h0M61.7 105.2h0M73 121.7h0M61.1 111.9h0M68.6 128.2h0M69 125.4h0M56.9 105.5h0M71.2 119.3h0M61.2 94.8h0M57.7 94.6h0M66.5 114.3h0M51.4 93.8h0M73.3 121.5h0M72.4 132.3h0M70.6 123.1h0M64.3 119.1h0M63.5 113.1h0M67.5 124.3h0M52.9 91.1h0M57.6 91.7h0M69.8 116.5h0M61.9 116.3h0M55.9 84.6h0M55.8 98.8h0M60.6 84.7h0M59.3 105.6h0M51.9 87.6h0M56.9 93.1h0M49.5 85h0M75.2 126h0M61.3 99.1h0M51.7 93.1h0M64.2 101h0M61.1 85.9h0M70.6 121h0M54.5 97.9h0M58.7 89h0M65.3 121.9h0M70.6 121.1h0M62.2 106.3h0M47.8 90.5h0M65.5 108.9h0M68.3 115.3h0M73.8 122h0M64.8 114.4h0M74.8 125.3h0M58.3 102.8h0M51.6 93.4h0M58 102.5h0M59.2 92.1h0M66.8 119.3h0M58.4 90h0M54.8 87.8h0M60.3 113.1h0M51.6 86h0M64 117.9h0M76.5 129.6h0M59 85.1h0M49.6 95h0M61 101.7h0M62.4 107.9h0M65.5 111.6h0M58.2 99.3h0M55.8 92.5h0M60.9 104.9h0M59.5 97h0M68.6 118.6h0M50.1 94.5h0M62 95.1h0M59.2 84.6h0M69.9 130.2h0M66.2 117.3h0M62.2 93.6h0M55.6 96.4h0M58.7 98.8h0M61.9 97.5h0M57.6 95.8h0M56.3 97.4h0M57.6 100.4h0M65.1 119.1h0M62.9 109.3h0M72.5 127.9h0M61 109.4h0M56.1 103.7h0M64.1 104.3h0M46 87.8h0M56 96.6h0M65.3 114.1h0M68.2 127.2h0M61.5 108.2h0M47.7 93.6h0M58.3 96.3h0M72.3 131.9h0M60.8 109h0M61.7 115.3h0M54.8 100.7h0M56.1 85.8h0M50 89.7h0M48 87.5h0M56.6 88.6h0M59.5 108.1h0M53.9 85.6h0M62.1 115.9h0M54.9 86.7h0M54.8 85.6h0M57.9 104.6h0M49.4 87.4h0M47.5 90.8h0M64.5 112.4h0M62.2 116.7h0M61.9 97.6h0M67.3 115.9h0M56.4 90h0M59 105h0M63.8 119.8h0M71.1 130.4h0M60 97.1h0M59.2 107.7h0M72.2 126.7h0M56.2 88.3h0M59.4 100.9h0M67.7 113.6h0M53.2 88.7h0M73.2 131.8h0M52.5 92.1h0M69.6 126.8h0M59.5 92.5h0M58.9 89.9h0M51.4 95.4h0M60.3 102.3h0M50.7 93.2h0M55.4 91.3h0M57.5 91.9h0M65.1 121.7h0M56.5 87.3h0M52.5 92.7h0M58.1 92.3h0M64 115.6h0M59.8 102.5h0M59.7 88.7h0M68.8 120.5h0M59.9 105.3h0M67.7 123h0M61.2 109.7h0M58.1 100.9h0M57.7 96.8h0M67.1 125.7h0M55.8 102.3h0M52.4 95.9h0M60.5 130.8h0M46.7 136.3h0M49.8 112.5h0M54.3 125.6h0M46.1 120h0M48.9 106h0M56 136.6h0M56.3 125.6h0M62.9 133.2h0M54 118.2h0M53.8 118h0M50.9 134h0M57.5 132.3h0M60.3 116h0M61.7 122.9h0M59 131h0M64.3 131.5h0M48 126.4h0M54.8 129.9h0M49.4 129.6h0M60.1 136.3h0M50.3 129.4h0M60.5 117h0M66.2 137.6h0M50.5 106.7h0M69.5 133.5h0M57.4 116h0M65.9 131.8h0M51.5 120.5h0M45 117.7h0M66.3 128.1h0M61 123.1h0M52.3 137.2h0M56.9 118.3h0M68.3 136.8h0M53.9 129.6h0M51.1 126.1h0M59.8 120.5h0M64.3 131.9h0M52.6 114.4h0M49.6 128.7h0M61.5 137h0M48.4 107.5h0M50.2 129.9h0M59.9 118.9h0M46.6 126.8h0M47.2 137.8h0M61.5 132.5h0M56.9 134.2h0M59.2 134h0M56.6 138.7h0M47.4 133.1h0M49.1 134.5h0M64.2 123.8h0M48.2 138.6h0M50.6 116h0M51.2 106h0M62.6 129.4h0M57.6 118h0M52.3 137.7h0M48.1 115h0M63.1 135.5h0M52.7 126.1h0M62.9 130.6h0M62.6 125.2h0M54.6 118.2h0M60.9 139.3h0M45.8 127h0M60.1 126.5h0M54.4 123.2h0M61.6 127.9h0M67.7 133.9h0M47 122.2h0M53.4 138.9h0M62.7 122.6h0M47.5 127.2h0M51 134.1h0M57.6 115.8h0M60.8 135.8h0M58.1 113.9h0M58 136.5h0M55.9 139.7h0M53.2 126.5h0M53.8 138.8h0M46.8 123.5h0M49.7 119.7h0M55.2 112.3h0M58.3 120.6h0M56 133.9h0M63.6 137.2h0M48 116.8h0M48 127.5h0M61.1 132.8h0M44.5 120.8h0M55.8 105.9h0M46.7 121.5h0M67.2 129.9h0M46.8 111.7h0M51 104.6h0M52.1 129.3h0M52.6 128.5h0M52.7 129.7h0M45 120.1h0M63.6 136.1h0M57.2 135.6h0M65.2 134.9h0M61.2 130.2h0M56.9 125.8h0M57.1 128.3h0M48.8 121.6h0M54 130.6h0M56.6 134.5h0M57.8 121.7h0M52.2 102.7h0M53.8 117.6h0M45.2 131.8h0M66.7 126.9h0M51.4 110.8h0M59.1 128.8h0M48.9 124.2h0M63.6 128.9h0M48.9 127.3h0M56.5 135.4h0M57.1 126h0M59.4 132.8h0M64.4 128.8h0M60 129.7h0M60.2 124.1h0M59.1 122.8h0M51.3 105.3h0M54.6 118h0M52 132.3h0" stroke="#00BE67" stroke-width="0.8" stroke-linecap="round"/><path d="M144.8 85.9h0M142.6 79.6h0M141 96.5h0M127.8 77.1h0M129 69.6h0M136.9 73.6h0M144 84.1h0M140.1 96.7h0M125.8 81h0M139.4 105.2h0M136.7 96.1h0M138.9 73.1h0M140.9 91h0M127.1 81.6h0M133.2 70.6h0M140.7 93h0M133 78.8h0M131.9 87.4h0M132.6 68.5h0M143 107.7h0M141.3 77.2h0M134.5 88.2h0M140.4 89.3h0M133.7 93.2h0M131.2 73.2h0M128.2 81.7h0M123.2 66.8h0M128.7 71.1h0M146 107.7h0M142.9 79.7h0M139.3 94.8h0M130.2 75.7h0M148.8 101.4h0M140.3 84.2h0M135.5 92.1h0M149 100h0M143.9 106.6h0M137.1 104.2h0M138.9 96.4h0M131.2 78.6h0M122 65.1h0M146 98.2h0M122.6 73.4h0M137.8 99.9h0M143 107.4h0M139.1 92.8h0M144.2 102.4h0M145.4 104.2h0M137.1 102.8h0M141 81.9h0M142.1 85h0M136.7 84.5h0M145.6 85.2h0M139.4 105.2h0M140.1 91.9h0M141.9 84.2h0M144.1 105.5h0M139.1 102.4h0M137.8 85.8h0M131.4 75.3h0M142.3 85.2h0M125.2 67.4h0M139.8 93.2h0M132.9 76.6h0M143.3 96.4h0M139.2 81.2h0M142.7 104.7h0M130.4 76.2h0M133.3 90.1h0M137.3 105.4h0M139.8 80.3h0M127 84.6h0M146.6 88.4h0M146 105.7h0M126.7 75.6h0M142.7 107.1h0M132.4 68.6h0M142.3 103.5h0M138.8 75.5h0M140.9 82.6h0M137.7 99.4h0M127.4 72.2h0M123.6 73.7h0M131.3 81.5h0M140.3 78.6h0M129.2 71.4h0M124.7 82.4h0M146.4 105.9h0M127.2 72.1h0M125.6 74.3h0M143 90.9h0M136.1 73.8h0M122.2 71.8h0M139.2 80.4h0M132.9 74.8h0M131.7 70.3h0M142 82h0M137.6 78.2h0M146.3 104h0M134.1 90.5h0M137.4 76.7h0M144.7 107h0M135.7 86.8h0M134.3 85.7h0M137.8 106.6h0M147.4 97.3h0M128 84.8h0M131.9 77.9h0M137.8 99.3h0M125.2 75.1h0M140 87h0M132.7 68.3h0M128.1 77.3h0M127.1 79.3h0M147.4 98.6h0M129.6 79.5h0M147.8 106.3h0M128.4 75.2h0M131.4 70.1h0M132.3 68.2h0M138.2 106.2h0M132 95.9h0M134.3 91.8h0M134.9 95.9h0M146.3 94.7h0M137.8 89.4h0M130.4 76.5h0M137 81.2h0M133.3 92.2h0M130.1 71.9h0M127.7 70.4h0M138.8 81.4h0M127.4 80.5h0M132.5 67.2h0M129.2 68.9h0M137.6 90.6h0M132.5 72h0M142.2 86.9h0M122.9 75.7h0M136.3 99.2h0M135.4 95.1h0M129.9 66.9h0M141.6 85.3h0M133.3 94.4h0M140.8 86.2h0M137.7 79.7h0M136.8 80.9h0M146.7 89.7h0M145.6 104.4h0M140.8 104.5h0M140.3 107h0M138.4 95.3h0M147.4 102.2h0M125.1 64.6h0M133.3 68.9h0M133.9 98.6h0M131 70.2h0M141.2 90.2h0M127.3 72.6h0M131.9 91.8h0M124.3 74.8h0M141.1 95.1h0M129.5 79.9h0M138 76.4h0M142.3 97.4h0M124.8 72.3h0M139.7 90.8h0M139.4 74.6h0M140.2 76h0M122 66h0M140.8 105.3h0M145.5 92.3h0M134.7 78.9h0M147.6 105.5h0M142.5 102.6h0M146.5 107.4h0M148.9 102.7h0M131.6 91.7h0M145.6 100h0M139.9 92.9h0M129.4 88.5h0M139.9 75.6h0M147.8 95.2h0M131.9 93.1h0M134 89.6h0M142.3 98.4h0M135.2 97.8h0M124.2 73.1h0M139.3 74.7h0M146.2 104.7h0M126.3 69.1h0M145.6 85.5h0M142.2 97.7h0M145.1 104.9h0M147.8 105.6h0M140.8 78.6h0M140 102h0M148 98.4h0M141.2 81h0M149.5 101.1h0M145.8 97h0M125.5 66.8h0M127.8 79.4h0M123.9 67.9h0M143 105.7h0M132.5 83.7h0M140.5 95.5h0M146.8 101.3h0M129.4 88.1h0M130.4 70.7h0M129.7 71.8h0M124.9 80.7h0M137.1 70.7h0M132.6 92.7h0M139.3 99.1h0M146.3 108.1h0M132.9 72.3h0M129.6 75.9h0M127.9 84.4h0M145.2 90.3h0M135.2 92.1h0M142.2 79.7h0M140.8 79.7h0M141.8 78.7h0M140 86.6h0M137.4 72.3h0M143.1 108.1h0M146.6 98.8h0M130.5 79.5h0M141.6 93.9h0M146.2 107.5h0M134 79.8h0M132.8 73.8h0M142.4 96.5h0M144.2 101.7h0M138.4 82.3h0M135.3 89h0M133.8 86h0M147.4 96.1h0M137.8 84h0M136.8 98.1h0M134 78.8h0M122.8 69.4h0M131.5 89.7h0M137.7 84.5h0M148.2 103.9h0M133.3 86.4h0M128.3 72.7h0M128.7 68.4h0M129.5 68.2h0M129.8 65.6h0M147.8 100.1h0M138.6 93.4h0M132.6 88.5h0M136.1 92.2h0M128.3 85.1h0M143.8 104.6h0M138.9 77.3h0M138.6 75.6h0M135.4 83.1h0M136.5 78.9h0M139.4 79.3h0M138.2 74.6h0M127.7 79.2h0M129.9 83.1h0M137.6 103.6h0M133.9 92.8h0M138.4 99h0M134.9 99h0M139.8 107h0M130.4 89.8h0M142.6 91.1h0M140.4 88h0M134.9 86h0M127.7 66.5h0M133.2 89.6h0M126.9 85.7h0M130 68h0M145.4 85.6h0M143.8 106h0M142.1 96.4h0M140.2 91.9h0M149.2 101.1h0M134 80.8h0M123.1 70.4h0M140.5 105.2h0M122.1 68.8h0M138.3 74h0M139 99.1h0M133.7 95.1h0M129.4 67.4h0M139.4 78.1h0M129.1 64.6h0M136.8 76.7h0M125 69.6h0M141.4 85h0M132 91h0M127.3 86.9h0M138.5 106.9h0M123 76.8h0M137.8 85.6h0M131.5 93h0M138.7 107.3h0M140.4 95.2h0M140.9 89.1h0M136.5 80.7h0M146.2 105.1h0M132.9 87.4h0M137.3 88.4h0M135.3 78.9h0M131.8 85.1h0M135.4 75.6h0M142.2 102.1h0M137.8 85.9h0M131.4 75.8h0M134.7 91.3h0M129.7 87.7h0M133.9 74.4h0M137.1 74.4h0M131.7 84.5h0M127.4 71.6h0M140.4 79.7h0M144 83.6h0M124.8 69.4h0M139.1 92.6h0M143 94.8h0M139.7 101.3h0M135.8 99.6h0M149.9 105.2h0M135.6 107.2h0M132.9 101.4h0M128.6 94.7h0M140.9 96h0M141.7 96.9h0M146.9 103.3h0M136.8 92.8h0M135.4 107.3h0M136.4 107.1h0M139.9 94h0M133.4 96.5h0M141.6 104.4h0M140.6 103.8h0M140.8 104.3h0M146.1 96.7h0M130.1 95.6h0M136.1 101.2h0M146.9 98.6h0M129.9 97.6h0M141.3 104.8h0M138 97.6h0M140.6 104.8h0M129 92.6h0M149.4 96.3h0M133.6 92.5h0M141.6 93.3h0M142.2 105.3h0M131.3 94.7h0M145.5 106h0M131.5 99.5h0M135.7 95.5h0M133.3 96h0M138.1 104.1h0M134.6 97.3h0M138 96.3h0M136.2 104.9h0M147.4 96h0M146.9 103.2h0M132.2 98.5h0M129.9 94.7h0M131.8 97.1h0M140.5 93.4h0M142 99.4h0M128.2 93h0M140.5 99.3h0M130.5 96.3h0M132.4 94h0M142 105.1h0M149.2 99.3h0M133 95.1h0M127.1 90.4h0M142.9 107.4h0M134.4 96.7h0M138.2 102.4h0M134.8 101.1h0M140.7 95.8h0M135.6 99.8h0M129.9 94.1h0M145.9 94.5h0M138.3 100.9h0M139.5 96.6h0M146.6 104.4h0M140.2 97.4h0M142.6 100.7h0M131.3 92.1h0M142.1 98h0M151 105.4h0M140.4 100.7h0M129.5 94.3h0M141.8 96.2h0M141.9 95.5h0M145.5 106.8h0M143.9 96.7h0M139.8 98.9h0M133.4 96.6h0M144.2 100.4h0M150.1 106.9h0M136 101.9h0M133.6 95.2h0M134.2 100.2h0M127.4 90.5h0M150.1 101.2h0M141.7 98.4h0M121.2 88.3h0M124.4 88.2h0M122.7 87h0M121.2 88.2h0M123.2 96.6h0M126.5 90.9h0M120 89.6h0M127.1 98.7h0M122.9 94.7h0M119.8 86.4h0M124 91.6h0M132.7 100.8h0M118.7 81.2h0M123.3 97.5h0M125.5 94.4h0M129 101.6h0M126.1 99.4h0M126 97.7h0M125.1 97.8h0M123.1 89.4h0M120.7 87.1h0M122.5 85.6h0M119.2 80.8h0M131.3 94.3h0M126.3 92.9h0M126.1 92.7h0M120.8 83.7h0M148.8 78.5h0M146.9 89.3h0M152.8 78.6h0M156.1 103.9h0M155.8 80.7h0M153.4 80.6h0M147.5 85.8h0M148.9 80.8h0M144.7 76.7h0M153.2 92.9h0M151.5 88.6h0M148.5 78.9h0M156.2 106.9h0M149.5 83.4h0M150.3 91.5h0M148.7 74.6h0M155.1 80.2h0M153.8 98.2h0M148 87h0M145.6 83.2h0M146.7 77.7h0M153.9 81.5h0M155.7 77.6h0M148 80.6h0M148.1 70.9h0M148.1 97.2h0M152.8 83.2h0M156.8 74.7h0M154.5 98.6h0M146.7 79.6h0M147.6 83h0M148.4 94.6h0M154.5 103.2h0M150.2 87.7h0M153.2 74.3h0M147 91.3h0M156.5 88.8h0M152.7 105.3h0M152.5 95.5h0M153.4 91.8h0M154.4 74.3h0M147 91.7h0M145.6 67h0M153.2 80.4h0M146 77.2h0M151.6 78.2h0M152.4 74.7h0M152 76.2h0M155.2 86h0M148.4 94.8h0M150.3 98.1h0M144.6 79.2h0M154.4 94.4h0M145.9 76.8h0M151.6 94.8h0M156.3 103.1h0M156 97.8h0M155.9 95.5h0M155.8 97.3h0M152.2 103.8h0M145.7 75h0M148.8 72.6h0M157.8 107.1h0M150.6 78.1h0M155.2 76.4h0M149.8 94h0M142.9 62.6h0M145 76.4h0M145.2 70.8h0M155.3 78.3h0M152 96.7h0M153.8 72.1h0M145.6 73.2h0M144.8 70.1h0M151.3 105h0M154.5 100h0M153.6 85h0M155.5 86.7h0M151.3 72.8h0M142.4 63.4h0M148.2 77.5h0M147.7 85.6h0M150.2 71.6h0M154.5 100.7h0M154 71.1h0M143.9 73.3h0M156.5 103.4h0M151.2 70.1h0M157.1 82.6h0M154.7 74.5h0M152.8 104.7h0M157.2 97h0M149.3 78.4h0M151.2 86.9h0M148.6 75.3h0" stroke="#00C19A" stroke-width="0.8" stroke-linecap="round"/><path d="M131.4 145.8h0M124.7 143.3h0M130.6 136.1h0M127.8 143.6h0M120.9 141.1h0M121.6 136.7h0M124 140.7h0M126.6 136h0M120.3 141.8h0M130 149.7h0M124.6 149.9h0M129.9 135.4h0M127.5 141.7h0M127.1 147.1h0M131.3 136.1h0M131.6 147.2h0M129.8 138.2h0M122.1 141.2h0M131.5 145.1h0M125 147.6h0M124.3 134.4h0M132.4 143.1h0M125.9 136.9h0M131.1 141.9h0M131.3 148.4h0M131.9 148.9h0M124.9 144.4h0M124.1 141.5h0M124.4 136h0M132.9 145.9h0M133.4 143.2h0M129.3 141.7h0M130.9 140.4h0M130.8 146.1h0M124.8 147.8h0M128.4 144.5h0M123.2 137.1h0M127.2 134.5h0M123.5 139.3h0M121.4 140.2h0M128.9 139.4h0M133 142h0M124.4 137.4h0M131 145.5h0M123.1 134.4h0M129.9 141.1h0M127.5 148.3h0M132.1 144.3h0M123.4 145h0M127.4 149.7h0M122.7 145.9h0M133.3 148.6h0M128 145h0M126.1 142.7h0M127.5 147.3h0M132.2 143.3h0M129.8 144.7h0M126.7 145.2h0M129.7 144.5h0M125.9 143.7h0M124.5 138.3h0M124.4 137.3h0M132.8 146.9h0M127.4 148.7h0M123.9 149h0M126.4 141.5h0M132.7 146.8h0M129.3 149.6h0M124.9 138.2h0M129.9 149.7h0M131.2 143.2h0M128.5 144.2h0M130.6 140.7h0M130.2 143.1h0M123 139.7h0M123.5 136.5h0M133.5 142.3h0M120.9 143.8h0M130.6 134.8h0M127 148h0M133 141.7h0M123.6 140.1h0M121.7 137.5h0M127.4 148.5h0M151 145h0M158.4 112.1h0M142.1 116.4h0M148.6 137.5h0M139.8 130.1h0M151.7 113.1h0M140.9 119.9h0M154.5 125.6h0M153.9 140.7h0M154.6 114.8h0M145.2 145.3h0M157.5 134.7h0M151 150.3h0M155.4 115.8h0M145.8 142.7h0M149 126.2h0M141.8 136.9h0M141.4 135h0M154.1 145.8h0M150.5 144.6h0M157.9 129.6h0M156.7 143.1h0M151.8 136.1h0M153 127.9h0M145.6 126.1h0M148.5 146.9h0M154 135.4h0M159 115.5h0M153.6 148.1h0M143.3 113.7h0M155.8 140.2h0M155.3 118.3h0M156.3 129h0M153.7 120.1h0M149.9 110.1h0M150.4 146.5h0M148.5 145.4h0M139.8 133h0M158.9 133.1h0M148.7 130.7h0M141.1 133h0M143.5 133.6h0M150.9 147.2h0M150.9 130.7h0M146.7 146.5h0M147.4 114.2h0M157 133.4h0M152.1 115.8h0M144.2 135.1h0M150.8 116.9h0M150.8 141.3h0M152.5 149.8h0M146.6 130.4h0M144.8 120.9h0M147.3 123.2h0M155.2 149.9h0M158.1 145h0M157.9 122.5h0M139.9 136.3h0M158.9 114.3h0M141.1 135.4h0M152.7 120.5h0M141.9 110.1h0M154.7 123.3h0M147.8 128.4h0M154.7 114.8h0M153.6 151.5h0M142.3 109.2h0M146 117.7h0M159.4 116.8h0M149.3 136.9h0M155.9 113.6h0M153.4 132.8h0M144.2 116.5h0M142.6 141.8h0M152 115.5h0M147.3 128.2h0M155.2 147.6h0M152.2 124.3h0M158.3 114.2h0M141 138.9h0M146.4 134.6h0M156.1 127.8h0M144.6 115.4h0M141.2 137.2h0M146.3 148.8h0M152.1 116.5h0M143.5 126.6h0M157.5 119.4h0M147 150.1h0M154.2 123.6h0M151.7 118.6h0M143.7 119.2h0M140.8 127.8h0M141.1 138.7h0M156.6 127.7h0M146.2 126.9h0M149.7 116.9h0M143.8 124.5h0M150.9 118.1h0M150.6 112.4h0M152.7 114.4h0M140.8 134h0M156.5 146.9h0M146.1 120.3h0M153.1 146.6h0M156.7 112.8h0M141.2 134h0M139.8 129.4h0M159.4 118.3h0M155 140h0M157.9 115.7h0M154.3 113.2h0M141.3 110.8h0M157.4 116.7h0M141.9 114.3h0M152.7 123.8h0M152.5 116.1h0M147.3 111h0M147.8 117.3h0M141.1 138.3h0M143.9 132.8h0M144.5 146.7h0M141.3 112.2h0M140.4 135.8h0M147.5 128.9h0M145.1 121.2h0M140.2 125.5h0M152.3 134.3h0M142.1 135.8h0M150.9 111.4h0M143.1 109.4h0M144.8 132.7h0M146 111.1h0M151.8 113.2h0M150.7 113.3h0M149.3 133.8h0M146.7 129.2h0M144.6 136.9h0M146.7 138.6h0M153.3 122.9h0M144.9 117.5h0M150 130h0M148 115.2h0M158.1 130.2h0M152.4 112.6h0M146.1 142.1h0M155 138.8h0M149.3 143.7h0M144.7 142.4h0M145 138.3h0M149.3 122.8h0M147 115h0M156.9 149.1h0M151.5 122.6h0M155 149.1h0M155 134.1h0M153.8 116.2h0M154.3 114.5h0M148.7 125.7h0M157.9 120.1h0M148.2 124.5h0M154.9 120.4h0M156.6 111.8h0M145.7 141.4h0M144.9 115.7h0M144.7 128.2h0M148.5 119.8h0M144.2 136h0M142 140h0M146.2 127h0M149.6 133.6h0M158.3 140.4h0M151.4 117.7h0M150.4 150.8h0M155.1 151h0M146.9 130.7h0M140.6 112.4h0M141.5 136.7h0M157.1 136.1h0M142.1 126.3h0M140.4 110.3h0M140.7 116.6h0M147.8 113.1h0M151.8 125.7h0M141 116.7h0M143.1 129.9h0M151.9 139.7h0M152 140h0M151.7 146.2h0M151.4 119.3h0M101.9 151.5h0M114.6 156h0M118.5 151h0M116 159.5h0M115.5 161.1h0M106.3 163h0M106.3 166.4h0M113 158.5h0M122.5 146.4h0M124.2 151.1h0M118.1 148.1h0M112.8 162.4h0M100.8 152.8h0M101.6 154h0M113.8 152.9h0M101.5 162.1h0M104.1 160h0M113.5 161.1h0M109.3 162.3h0M103.8 158.9h0M107.2 159.7h0M121.7 154.3h0M110.9 162.1h0M117.1 162.6h0M112.4 149.2h0M117.2 155.1h0M120.4 160.2h0M122.8 155.3h0M119.7 157.9h0M115.8 148.8h0M115.7 151.9h0M111.8 157.6h0M110.7 151.5h0M110.3 164.7h0M103.7 165.3h0M101.4 155.3h0M102.1 160.9h0M101.9 154.4h0M121 147.3h0M120.6 159.6h0M123.4 152.9h0M113.9 159.3h0M122.6 154.9h0M122.7 152.2h0M124.9 154.5h0M104.4 160.8h0M115.5 160.2h0M113.3 158.2h0M109.1 164.5h0M118.1 161.2h0M113 161.6h0M113.1 163.5h0M113.4 161.2h0M104 154.1h0M121.9 148.8h0M117.5 154.8h0M111.7 159.4h0M118.4 148.9h0M111.2 151.4h0M123.7 149.7h0M111.3 163.6h0M120.2 148.3h0M101.5 155.2h0M123.3 152.3h0M107.5 158.6h0M123.1 154.5h0M104 150.3h0M116.1 150.5h0M101.5 158.7h0M119.4 158.8h0M125.1 159.7h0M104.8 160.8h0M116 159.9h0M120.4 154.1h0M103.9 165.4h0M102.9 166.3h0M124.5 153.1h0M103.6 155.5h0M100.7 155.8h0M76.2 143.6h0M86 140h0M84.5 148h0M76.3 132h0M78.6 138.9h0M74 130.8h0M73.8 131.4h0M83.1 138.7h0M78.3 133.9h0M84.1 145.6h0M81.3 142.1h0M81.3 147.4h0M86.8 144.6h0M74.3 133.3h0M85.8 145.5h0M79.1 139.7h0M82.1 145.4h0M83 144.3h0M79.3 144.9h0M80.3 141.1h0M85.4 144.2h0M83.5 136.5h0M78.7 136.8h0M73.9 129.1h0M80.7 136.5h0M80 145.3h0M83.3 138.8h0M87 143.9h0M80.4 142.6h0M74.7 132.9h0M87 142.4h0M82.9 140.9h0M78 141.2h0M75.3 131.1h0M79.6 135.1h0M84.7 143.3h0M83 144.8h0M84.4 149.1h0M84 148.3h0M82 141.4h0M79.3 138.3h0M84.8 143.4h0M77.2 136.6h0M84.2 144.9h0M75.5 130.4h0M122.9 102.6h0M126.5 96.8h0M127.8 103.4h0M137 101.8h0M128 102.1h0M120.8 99.5h0M137.2 98.4h0M119.8 101h0M135.1 99.3h0M126 101.8h0M146.5 98.1h0M147.4 108.4h0M128.1 98.3h0M121.6 104.1h0M142.6 105.3h0M148.5 98.3h0M140.6 98.2h0M146.4 108.7h0M133.6 103h0M147.3 96.7h0M147.9 98.4h0M118.2 99.1h0M121 102.8h0M141.6 98.3h0M141.2 97h0M131.6 105.2h0M130 103h0M147.1 96.2h0M126.5 101.1h0M140.4 107.3h0M138 104.8h0M128 104.9h0M136 97.2h0M135.6 99h0M138.4 107.8h0M143.2 103.4h0M142.2 103.1h0M127.9 102.1h0M125.6 103.2h0M126.7 100.5h0M123.9 97.3h0M128.6 104.6h0M134.3 105.4h0M148.6 106.2h0M132.2 96.3h0M141.7 104.8h0M137.2 101.2h0M148.4 104.4h0M129.9 106.1h0M146.2 99h0M148.7 102.4h0M147.4 105.5h0M126.1 96.1h0M116.8 98.9h0M118.5 101.7h0M140 96.6h0M139.1 103.2h0M148.7 101.5h0M140.7 101.6h0M126.9 101.9h0M130.5 100.3h0M132.6 104.3h0M149.8 104.8h0M138.8 97.6h0M126.8 97h0M136.2 99h0M138.4 104.1h0M127.6 103h0M128 98.3h0M123.3 101.6h0M131.9 96.2h0M144.9 98.2h0M140 71.5h0M135.9 61h0M141.4 78.4h0M148.2 83.1h0M148.7 76.2h0M135.7 62.6h0M151.2 94.4h0M138.4 76.8h0M139.7 67.8h0M146.5 93.5h0M135.7 71.1h0M148.5 71.8h0M147.7 78.5h0M141.8 67h0M144.3 72.5h0M140.4 81.2h0M148.3 96h0M141.6 61.9h0M150.1 80.9h0M147.8 80.7h0M143.7 84.6h0M143.7 93.1h0M149.6 93.1h0M148.1 65.3h0M149.5 84.5h0M143.4 87.4h0M142.4 89.9h0M147.7 84.2h0M139.4 90.2h0M139.7 71.7h0M137.3 71.1h0M139.8 65.5h0M146.2 73.7h0M140.7 74.7h0M144.3 65.9h0M147.9 87.7h0M143.2 81.8h0M143.5 83.4h0M141.4 73.5h0M148.4 78.6h0M141.4 68.9h0M144.7 84.5h0M137.7 75.6h0M147.7 79.9h0M139.1 70.6h0M146 91.7h0M139.7 75.9h0M148.2 78.1h0M149.5 90.4h0M141.8 67.2h0M147.8 95h0M147.1 89.2h0M146.6 77.3h0M141.6 91.6h0M149.5 83.2h0M140.4 80.8h0" stroke="#00BFC4" stroke-width="0.8" stroke-linecap="round"/><path d="M143 54.9h0M130.5 53.6h0M115.4 58.7h0M113.2 60.8h0M113.4 67.9h0M129.8 53.6h0M116.6 59.9h0M119 69.2h0M119.3 47.5h0M120.8 49.6h0M117.4 65.3h0M142.1 50.7h0M126.7 47h0M119.7 46.8h0M130.4 47.9h0M118.6 48.4h0M142.7 51.9h0M117.9 67.2h0M117.7 60.1h0M132.3 53.4h0M130.8 47.8h0M128.1 54.2h0M113.2 62.3h0M123.6 55.5h0M139.8 54.3h0M118.4 62.3h0M120 62.5h0M123.5 58.8h0M116.7 49.6h0M116.9 66.1h0M118.4 62.6h0M118.1 71.8h0M119.2 72.1h0M112.8 61.8h0M134.9 51.6h0M140.2 50.6h0M120.7 58.6h0M126.3 50.5h0M139.6 52.2h0M114 68.2h0M135.4 48.8h0M131.4 49.2h0M129.1 49.3h0M145.9 55.3h0M119.5 67.3h0M140.9 51.1h0M125.6 56h0M120.9 61.5h0M136.9 47.9h0M123.9 58.7h0M114.6 59.4h0M141.8 57.1h0M120.7 68.5h0M124 46.8h0M126.8 48.1h0M121.3 47.8h0M114.6 69.2h0M116.1 59.1h0M119.5 46.4h0M145.4 54.8h0M116.9 73.2h0M142.8 52.5h0M141.5 51.3h0M140.4 53.5h0M118.5 57.5h0M142.6 52.2h0M124.3 54.8h0M120.5 61.2h0M133.6 51h0M115.7 52.6h0M118.3 70.5h0M121.4 53.8h0M118 67.7h0M117.9 63.6h0M116.3 68.7h0M130 47.9h0M117.8 64.8h0M123.7 58.2h0M114.3 70.3h0M114.1 62.6h0M128.2 49.7h0M119.7 49h0M124.2 51.3h0M124.6 57.2h0M119.7 65.4h0M123.5 49.4h0M119.6 56.9h0M116.9 57.2h0M123.3 46.9h0M124.8 56.6h0M129.4 50.5h0M118.9 66.2h0M118.7 53.6h0M143 55.8h0M113.8 62.2h0M120.6 70.9h0M129 46.9h0M119.3 67.7h0M141.5 53.7h0M139.8 55.4h0M123.6 52.8h0M122.8 58.9h0M121.8 55.9h0M120.9 62h0M111.7 64.5h0M124.8 54.4h0M115.4 54.6h0M134.1 54.5h0M123.5 46.4h0M132.7 52h0M118.1 69.2h0M118.5 52.1h0M126.2 48.4h0M126.4 53h0M127.9 54.5h0M117.8 60.8h0M119.7 62.7h0M119.9 52.9h0M121.1 49.3h0M116.4 63.7h0M127.4 54.1h0M130.9 53.7h0M135.9 54.4h0M129.8 48h0M141.4 52.5h0M137.2 54.7h0M144.9 54.2h0M129.3 50.1h0M114.9 62.5h0M126.1 49.1h0M123.4 57.4h0M119.4 68h0M123.3 56.9h0M123.5 50.7h0M122.5 50.8h0M127 48.3h0M125.4 51.2h0M119.1 69.7h0M113.2 67.6h0M113.4 64.1h0M122 56.6h0M120.3 56.4h0M121.4 48h0M121.2 49.6h0M131.4 52.7h0M119.7 55.1h0M118.9 48.3h0M140.6 50.2h0M113.8 63.8h0M126.8 46.6h0M121.7 47.5h0M138.1 55.8h0M118.2 68h0M135.3 54.1h0M125.1 52.2h0M118.2 67.7h0M115.3 54.8h0M136.1 48.4h0M120.1 66.8h0M113.7 59.6h0M136.1 50.8h0M113.8 65.5h0M121.7 59.7h0M141.8 55.6h0M132.3 54.3h0M125.7 48.5h0M123.2 56.6h0M117.8 60.3h0M120.2 62.2h0M143 54.6h0M119 46.8h0M142.5 54.5h0M117.6 69h0M119.8 54.2h0M114.8 70.1h0M137.4 54h0M138.9 55.3h0M114.2 59.4h0M123.4 46.5h0M115 63.3h0M118.5 63.6h0M119.5 61.1h0M122.8 47.9h0M118 55.4h0M120.3 61.8h0M129.3 51.9h0M142.5 52.9h0M117.6 71h0M137.7 54.4h0M133.6 54.2h0M118.6 55.4h0M125.4 54h0M117.9 51.1h0M123.1 54.3h0M115.3 67.6h0M116.3 59.5h0M125.5 51.5h0M129.6 60.2h0M138.4 60.3h0M129.9 58.7h0M137.1 65.7h0M129.2 55.4h0M128 58.9h0M140.7 65h0M138.5 62.3h0M137.4 60.9h0M137.5 59.1h0M139.5 63.9h0M141 58.8h0M127.4 54.6h0M136.7 61.6h0M141.2 58.3h0M131.5 59.1h0M139.3 62.6h0M133.6 64.1h0M137.8 62.3h0M135.4 64.9h0M133.2 60.2h0M130.7 57.5h0M141.6 66.8h0M141.7 67.4h0M141.7 63.9h0M138.7 58.8h0M138.9 67.4h0M131.5 57h0M141.5 61.9h0M130.4 60.4h0M132.8 62.4h0M141.1 63.2h0M127.4 58.5h0M140.7 57.6h0M136.4 56.1h0M130.4 59.6h0M137.6 63.9h0" stroke="#00B8E7" stroke-width="0.8" stroke-linecap="round"/><path d="M103.1 104.6h0M107.7 106.6h0M112 112.2h0M98.6 113.3h0M109.5 107h0M107.1 107.8h0M114.6 106h0M107.2 109.7h0M107 114.4h0M110 126.4h0M115 107.4h0M106 103.3h0M113.2 109.9h0M110.3 105.4h0M108.4 103.8h0M100.8 115.2h0M111 107h0M106.8 109.9h0M108.9 115.1h0M101.3 112.6h0M109.5 111.7h0M98.8 108.4h0M101.6 120.4h0M100.6 113.3h0M103.8 106.3h0M109.5 115.4h0M108.7 112.9h0M109.7 117.9h0M111.4 105.9h0M108.4 113.5h0M107.4 118.7h0M105.1 120.8h0M106.4 111.8h0M100.1 113.1h0M107.5 110.4h0M103.6 112.1h0M100 107.6h0M113.1 107.8h0M112.8 105.9h0M109.7 110.9h0M105 119.2h0M107.5 123.9h0M110.9 116.6h0M111.3 113.3h0M111.5 115h0M109.7 116.8h0M104.4 104h0M112.2 111h0M101.2 106.8h0M109.7 111.6h0M109.1 112.9h0M113.5 104.9h0M108.9 123.6h0M108.9 103.8h0M109.6 121.2h0M104.7 105.5h0M117.3 107.9h0M106.6 103.2h0M98.1 113.9h0M111.1 122.6h0M103.8 108h0M106.6 104.4h0M113.9 112.6h0M108.6 103.6h0M106.6 116.7h0M100.4 110h0M114.6 105.7h0M114 111.6h0M111.6 112.6h0M105.5 121h0M108.3 110.9h0M106.5 108.6h0M107.6 104h0M101.7 112h0M110.7 104.8h0M101.5 109.7h0M99.1 114.7h0M105.1 123.1h0M110.3 117.6h0M104.7 112.7h0M110 116.3h0M103.1 122.4h0M106.9 116.8h0M108.5 117.1h0M101 109.4h0M99.2 107.4h0M103.5 123.6h0M100.7 119h0M102.1 119.6h0M111 124.1h0M101.1 120.3h0M106.7 114.9h0M107.9 122.2h0M107.8 113.5h0M107.9 117h0M110 117.3h0M101.1 119.1h0M116.8 108.4h0M106.3 114.4h0M114.3 111.4h0M112.2 114.9h0M115.1 107.9h0M110.2 114.9h0M104 121.4h0M101.2 120.4h0M102.2 109.1h0M100.3 120.1h0M101.9 117.4h0M108.9 115h0M115 107.9h0M103.9 115.5h0M104.4 106.9h0M112.9 107.9h0M107.8 108h0M102.5 115.3h0M100 112.5h0M114.2 111.9h0M100.8 110.5h0M113.4 111.6h0M106 110.1h0M110.3 104.6h0M104.5 115.5h0M111 104.7h0M104.3 106.2h0M109.8 117.8h0M107.6 115.7h0M114.3 110h0M107.2 124.3h0M111.7 110.2h0M110.7 112.8h0M108 125.2h0M99.8 112.2h0M108.5 110.7h0M102.6 117.9h0M104 115.3h0M108.8 112.6h0M112.7 115h0M108.1 115h0M113.4 109.8h0M111.3 120.9h0M100.8 116.2h0M101 113.8h0M112.1 124.1h0M102 120.9h0M104.1 113.9h0M108.5 126.2h0M102.7 117.7h0M108.1 116.6h0M103.4 123.7h0M105 122.6h0M103.7 118.6h0M107.5 105.6h0M103.7 113.3h0M114.2 112.7h0M105.7 112.7h0M108.7 122.6h0M111.9 114.5h0M109.3 125.7h0M107.7 123h0M111 114.2h0M103.7 108.8h0M102.8 111.8h0M108.6 116.6h0M111.1 113.5h0M99 109.1h0M102.6 107.2h0M112.7 109.7h0M106.8 111.1h0M112.7 111h0M98.4 107.8h0M111.6 104.5h0M103.1 109.6h0M110.2 126.2h0M103.6 124.1h0M101.6 113.5h0M105.7 105.8h0M110.4 112.1h0M100.5 104.7h0M110.2 126.5h0M105.1 109h0M110.2 117.2h0M102.3 118.9h0M106.5 118.6h0M105.5 118.3h0M104.7 116h0M100 119.1h0M101.3 105.8h0M108.6 118.2h0M111.8 114.2h0M101.4 112h0M100.2 112.9h0M110.7 125.1h0M101.4 111.9h0M107.9 110.7h0M102.7 122.2h0M113.4 114h0M104.5 112.8h0M107.2 109.5h0M106.5 124.6h0M111.5 111.9h0M99.5 111.7h0M106 112.5h0M107.3 107.3h0M102 117.8h0M107.4 115.8h0M106.3 124.2h0M110.3 111.8h0M99.6 118.4h0M107.3 107.5h0M107.8 110.3h0M100.2 113.3h0M110 103.7h0M104.3 123.5h0M112 104.5h0M104.6 109.7h0M99.1 106.1h0M108.9 113.3h0M110.3 109h0M109.5 120h0M111.8 103.9h0M103.4 123.2h0M113.4 104.6h0M111.3 105.1h0M100.2 113.3h0M113.9 109.4h0M99.8 110.8h0M99.8 108.3h0M104.4 112.7h0M104.4 108.2h0M103.7 114.7h0M106.3 123.7h0M112 124.2h0M110 106.6h0M114.5 108.5h0" stroke="#00A9FF" stroke-width="0.8" stroke-linecap="round"/><path d="M171.3 189.8h0M172.8 197.2h0M157.9 187h0M163 188.9h0M159.6 182h0M167.2 192.7h0M156 185.9h0M171.9 180.6h0M165.9 185.9h0M166.6 186h0M175.6 196.3h0M162 189.6h0M176 185.8h0M171.6 181.2h0M174.1 192.9h0M170.7 189.6h0M174.5 177.6h0M173.6 181.8h0M157.6 185.9h0M177.3 182h0M165.3 191.8h0M179.4 189.4h0M154.6 184.3h0M165.9 187.4h0M172.1 183.6h0M169 193h0M167.1 191.6h0M158.9 186.5h0M157 183.9h0M171.4 182h0M173 194.8h0M177.9 182.7h0M172.4 189.4h0M177.4 192.7h0M175.5 182.9h0M162.3 185.8h0M160.6 181.7h0M171.7 186.8h0M173.3 197.8h0M174.9 191.7h0M152.8 185.9h0M178.1 182.9h0M168.6 192.6h0M166.6 192.3h0M155.8 184h0M175.9 191.7h0M163.8 185.6h0M163.5 190.2h0M166.4 193.4h0M172.1 189.1h0M173.2 196h0M161.7 188.7h0M166.6 184.5h0M175.9 184h0M165.1 186.8h0M170.7 182.3h0M169.7 193.2h0M160.4 184.5h0M175 197.2h0M166.8 193.3h0M168.3 188.4h0M174.1 183.5h0M166.7 188.4h0M161.9 185.6h0M167.1 194.4h0M163.1 185.4h0M177.5 183.2h0M171.9 188.1h0M165.6 193.5h0M173.5 191.2h0M166.4 190.9h0M166.7 189h0M152.2 186.3h0M171.9 192.5h0M171.4 195.4h0M160.9 188.7h0M173.3 183.1h0M166.4 187.3h0M180.3 187.8h0M168.7 195.7h0M171.6 182.4h0M175.8 183.9h0M172.7 194.5h0M164.7 193.4h0M170 185.8h0M162.3 185.2h0M178.3 186.5h0M160 188.2h0M179.1 190.7h0M171.4 183.2h0M176.1 191.4h0M179.9 191.1h0M164 181.4h0M165.6 188.9h0M179.7 191.1h0M175.8 191.8h0M157.1 186.9h0M173 193.8h0M174.1 178.6h0M171.7 182.6h0M169.2 192.6h0M168 187.1h0M180.5 189.3h0M162.6 183.2h0M172.6 192.1h0M177.9 191.8h0M165.8 193.5h0M166.4 191.7h0M161 182.9h0M175.3 189.8h0M167.3 183.6h0M154 186.4h0M166.2 183.4h0M170.8 197.3h0M166 194.3h0M177.4 192.9h0M174.8 180.9h0M175.6 190.6h0M180.6 186h0M173.3 181.1h0M178.2 193h0M166.5 192.2h0M173 192.7h0M168.5 189.3h0M174.8 186h0M175.7 182.5h0M178.2 194.4h0M154.4 184h0M163.2 180.1h0M178.8 190.2h0M177.8 190.8h0M163.3 181.3h0M174.9 178.9h0M172.8 193.3h0M174 189.2h0M165.3 184.6h0M181.2 188.4h0M174.5 188.3h0M171.6 184.5h0M177.4 193.4h0M164.2 185.3h0M163.9 191.3h0M162 182.9h0M173.3 180.7h0M175.6 191.1h0M164.9 191.7h0M175.7 189.2h0M173.6 188.1h0M153 186.4h0M162.5 180.8h0M159.3 182.9h0M161.9 184.2h0M180.5 188.4h0M173.5 191.1h0M177.3 189.1h0M173.7 191.5h0M167.4 185.5h0M163.9 183.4h0M179.3 188.6h0M176.8 189.1h0M172.9 190.4h0M176.7 188.6h0M168.9 186h0M175.8 178.3h0M172.6 197.7h0M167 193.8h0M173.3 179.8h0M168.7 187.6h0M166.9 186.4h0M161.6 187.9h0M175.4 195.2h0M180 188.3h0M170 195.5h0M157.8 182.2h0M169.4 182.4h0M160.5 188.3h0M170.6 185.1h0M157.9 185.8h0M173.9 195.8h0M161.5 187h0M170 186.5h0M168.2 189.8h0M162 181.7h0M170 182.6h0M175.9 190.8h0M175 180.4h0M166.6 191.2h0M177.5 193.1h0M160.5 186.3h0M174.1 191h0M171.2 193.7h0M156 181.9h0M170.3 190.7h0M179.6 183.7h0M175 194.7h0M175 179.6h0M174.3 182.2h0M157.5 185.5h0M172.8 184h0M170.1 189.4h0M179.7 188.3h0M161.3 181h0M171.6 197.7h0M165.1 187.8h0M172 186.7h0M163.9 186.2h0M156.9 184.8h0M158.3 186.4h0M172.9 195.7h0M176 191.9h0M172.9 190.6h0M180.1 192.2h0M158.8 186.2h0M173.9 178.3h0M172.8 198h0M173 193.6h0M175.9 187.5h0M161.5 189.7h0M178.3 189.2h0M160.3 185.5h0M165 184.7h0M166.4 194.9h0M158 180.9h0M154.6 185.3h0M171.2 193.9h0M176.8 186.8h0M156 185.6h0M163.5 183.8h0M176.9 194.4h0M159.5 182.8h0M172.2 196.9h0M158.1 186.6h0M177.2 181.1h0M169.8 193.8h0M159.1 183.4h0M175.7 195.5h0M155.8 184.8h0M175.5 183.8h0M159.1 185.4h0M180.7 185.9h0M164.9 190.4h0M158.7 180.7h0M179.2 184.9h0M166.4 190.4h0M176.3 196.7h0M178.4 184.5h0M163.6 182.6h0" stroke="#8494FF" stroke-width="0.8" stroke-linecap="round"/><path d="M150.3 72.6h0M154.5 58h0M148.8 66.4h0M146.5 73.9h0M143.9 70.4h0M158.4 65.7h0M156.1 61.6h0M150.9 58.5h0M142.2 65.6h0M144.7 64.5h0M153.2 66h0M151.2 69.4h0M153.7 61.2h0M159.6 61.6h0M158.2 72.4h0M156.1 62.8h0M151.5 62.9h0M147.5 67.9h0M159.1 63.9h0M153.9 66.6h0M153.8 71.9h0M152.6 77.2h0M151.6 59.5h0M150.3 76.4h0M143.3 66.3h0M157.4 71h0M146.3 61.4h0M151.5 57.4h0M160.8 70h0M152.9 55.9h0M147.4 72.3h0M154.3 61.1h0M158.2 57.6h0M145.7 68.8h0M145.9 67h0M150.4 55.4h0M157 68.2h0M160 70.3h0M155.2 66h0M146.3 62.6h0M148.3 57.6h0M153.5 62.6h0M153.8 55.7h0M152.9 54.4h0M152.4 60.4h0M159.4 68.7h0M143.5 64.9h0M143.7 66.4h0M160.2 64.4h0M145.6 71.2h0M147.1 62.7h0M146.1 55.3h0M156.4 73.4h0M154 66.3h0M148.9 72.9h0M161 67h0M150.2 67.5h0M155 59.7h0M154.8 61.5h0M147.7 74.4h0M160.9 57.8h0M163.8 64.9h0M162 62.4h0M151.5 55.3h0M160.9 69.7h0M161.1 61h0M148.6 71.2h0M150.8 67.7h0M152.5 59.4h0M146.4 59.4h0M149.8 75.2h0M148 57.8h0M160.5 63.8h0M153 55.3h0M146.5 65h0M143.4 62.3h0M153.2 60.5h0M160.6 70.4h0M156.7 60.3h0M154.8 55.6h0M151.4 58.1h0M152.7 59.2h0M144.5 59.2h0M142.9 67h0M142.2 59.7h0M152.1 69.9h0M146.9 74.1h0M144.7 66.1h0M162.3 66.7h0M155.8 56.7h0M144 55.5h0M151.3 65.3h0M156.6 72.9h0M154 62.6h0M147.6 65.4h0M160 71.1h0M161.5 70.3h0M148.4 62.1h0M148.2 55.9h0M149.7 55.4h0M152.2 64h0M147.6 72.1h0M153.4 75.1h0M160.4 72.5h0M160.7 71.2h0M144.1 60.4h0M147.9 60.1h0M161.3 65.4h0M144.3 66.1h0M149.8 75.5h0M142.5 65.3h0M157.4 60h0M161.7 68.9h0M146.5 69.2h0M142.5 65h0M159.7 71h0M163 69.3h0M142.6 63h0M160.5 60.1h0M154.6 55.5h0M142 63.9h0M150.8 63.3h0M163.3 64.9h0M158.7 66.1h0M145.7 64.5h0M157.2 64.8h0M155 56.4h0M153.1 74.9h0M151.2 69.4h0M152.9 58.5h0M157 62.7h0M159.4 58.5h0M142.9 63.6h0M152.9 61.3h0M151.1 74.9h0M144.8 59.1h0M153 57.8h0M152.7 70.7h0M146.6 68h0M141.8 65.5h0M151.9 71.5h0M145.6 59.9h0M154.5 71.4h0M160 73.9h0M144.5 72.8h0M145.1 66.7h0M145.5 67.3h0M146.6 73.4h0M154.4 58h0M146.8 72.5h0M153.1 61.4h0M155 72.3h0M146.8 58.2h0M157.5 76.3h0M157 60.4h0M159.8 66.3h0M150.7 55.7h0M154.5 74.8h0M155.2 56h0M145.4 68.1h0M152.7 71.4h0M154.1 69.7h0M143.8 55.4h0M143.9 58.9h0M145.7 62.2h0M150.7 75.6h0M153 56.2h0M147 57h0M153.5 59.3h0M152.9 58.1h0M146.2 68.3h0M156.8 74.1h0M151.2 60.7h0M156.9 71.1h0M154 65.4h0M159.4 61.9h0M159 59h0M147.4 59.8h0M156.2 76.1h0M151.3 60.7h0M159.1 60.6h0M156.2 66.4h0M152 67.9h0M146.6 64.8h0M153.4 59h0M151.3 58.1h0M158.8 57.2h0M154.5 73.7h0M146.5 55.8h0M159.2 73h0M145.9 73h0M159.4 63.2h0M146.3 56.4h0M149.7 71.3h0M150.4 61.9h0M145.3 61.8h0M157.2 60h0M146.2 59.7h0M148.4 56.3h0M143.5 57.1h0M150.8 56.2h0M157.8 62h0M159.5 70.2h0M147.7 60.6h0M160.6 65.5h0M145.9 67.4h0M155.1 73.6h0M157 69h0M152.4 69.2h0M151.5 73.9h0M154.3 66.8h0M148.7 62.3h0M153.4 75.5h0M145.4 70.2h0M161.7 64.1h0M146.1 68.8h0M156.9 69.1h0M157.4 60.4h0M147.7 59.6h0M160.6 66h0M156 63.9h0M159.3 66.9h0M144.4 63h0M150.2 59.9h0M151.6 75.6h0M152.4 56h0M145.9 58.7h0M150.4 56.1h0M153.8 76.6h0M158 66.4h0M154.4 68.9h0M142.3 60.5h0M154.7 62.7h0M159.2 72.4h0M146.4 58.5h0M150.4 70.9h0M144.8 56.2h0M155.1 63.5h0M149.9 74.6h0M148.9 74.9h0M159.1 57.1h0M149.9 65h0M160.7 58h0M160 57.9h0M157.7 74.9h0" stroke="#C77CFF" stroke-width="0.8" stroke-linecap="round"/><path d="M66.9 164.7h0M68 161.8h0M75.6 163.8h0M64.5 167.5h0M75.9 152.2h0M75 150.7h0M71.7 160.6h0M68.6 168.9h0M67.5 157.4h0M68.8 175.1h0M65.7 172.8h0M68.9 159.2h0M67.5 175.4h0M69.4 153.4h0M64.5 160.8h0M75 158.7h0M72.2 153.1h0M79.7 155.5h0M66.2 165h0M73.2 154.8h0M64.7 164.4h0M67.2 170.9h0M69.1 168.3h0M75.6 155.9h0M66.2 154.7h0M77.8 157.7h0M72.7 171h0M69.8 157.4h0M65.1 154.6h0M65 150.9h0M76.4 165h0M65.4 155.3h0M70.8 175.4h0M64.1 167.2h0M74.4 164.3h0M74.6 168.5h0M64.1 165.4h0M63.8 168.6h0M67 160.2h0M75.9 167.6h0M79.6 160.1h0M76.6 151.3h0M74.7 159.2h0M65.2 161.2h0M75.8 157h0M65.3 167.8h0M63.7 165.6h0M75.7 154.7h0M71.1 159.9h0M73.1 155.3h0M80.8 155.3h0M76.2 165.5h0M71.5 158.9h0M73.4 167.9h0M66.6 173.4h0M73.7 163h0M77.1 161h0M78.7 163.2h0M74.5 159.2h0M73.8 153.9h0M79.9 158h0M64.3 156.7h0M72.6 154.8h0M66.6 171.1h0M66.4 173.8h0M77.7 158.8h0M65 156.2h0M68.3 158.3h0M70.2 155.3h0M67.1 168.3h0M71.8 167.8h0M67.9 172.1h0M71.6 150.8h0M73.2 155.2h0M75.8 157.2h0M76.6 166.7h0M71.1 156.1h0M73 167h0M73.7 167.2h0M74.6 155.1h0M65.6 165.6h0M69.7 170.2h0M74.2 151.3h0M76.8 158.4h0M70.8 174.2h0M67.4 151.9h0M73.4 156h0M63.6 167.9h0M71.9 150.7h0M79.9 158h0M70.3 170h0M68.1 172.9h0M74.2 155.5h0M66.4 156h0M64.8 157.3h0M80.2 154.9h0M71.7 155h0M65.4 151.4h0M71.3 152.5h0M78.1 160.2h0M65.5 170.6h0M75 162.3h0M72.2 166.3h0M74.6 167.4h0M71.2 164.7h0M67.5 152h0M66.8 162.5h0M78.7 158.6h0M66.7 172.7h0M70.7 168.8h0M66.3 176h0M67.3 166.1h0M75.9 162.1h0M65 152.4h0M67 166.6h0M67.2 173.1h0M72.8 164h0M71.8 151.7h0M68.8 173.5h0M67.7 156.5h0M71.8 156h0M65.2 153.4h0M64.1 164.6h0M64.5 153.3h0M67.9 168.2h0M65.5 158.2h0M70.9 170h0M74.6 157.1h0M78.6 162.2h0M68.1 160.8h0M75.1 160.2h0M74.5 165.4h0M73.9 161.4h0M73.7 153.9h0M64.2 166.2h0M70.2 157.7h0M66.1 174.4h0M81.2 159.1h0M67 154.4h0M70.9 165.2h0M79.2 162.9h0M66.4 153.2h0M63.3 156.3h0M73.2 158.7h0M71.4 164.7h0M69.6 163.4h0M65 160.3h0M77.8 156.6h0M80.8 161.3h0M71.6 170.1h0M66.9 159.7h0M68.3 169.9h0M73.7 169.6h0M67 165.9h0M63.6 148.9h0M67.7 153.7h0M65.9 153.7h0M63.6 160.2h0M60.8 158.2h0M65.7 148.9h0M71.4 149.8h0M59.6 152.7h0M62.1 153.9h0M62.9 161h0M63 150.6h0M63.4 153.4h0M60.9 151.1h0M62.4 158.8h0M65.8 154h0M67.9 151.6h0M57.9 149.4h0M58 149.3h0M62.3 147.8h0M61.1 151.7h0M60.5 155.2h0M60.1 153.7h0M61.4 152.4h0M59.1 152.5h0M68 151.6h0M62 152h0M61.6 160.8h0M64.3 150h0M60 154.1h0M63.6 162h0M57.3 149.1h0M62.3 156.2h0M73.8 148.2h0M82 154.8h0M80.2 158.3h0M77.9 151.8h0M81.2 153.9h0M79.5 163h0M82.2 150.3h0M83.5 159.9h0M82 150.9h0M71.2 146.7h0M83 157.7h0M84 154.4h0M80 159.5h0M78.7 161.5h0M81.5 154.3h0M80 163.2h0M84 153.1h0M84.1 158h0M84 150.1h0M76.5 151h0M72.5 148h0" stroke="#ED68ED" stroke-width="0.8" stroke-linecap="round"/><path d="M89.5 188.6h0M90.2 202h0M89.6 189h0M99.6 190.1h0M87.7 199h0M90.6 194.2h0M87.6 191.9h0M94.8 202h0M91 194.3h0M90.5 186.7h0M95.9 201.3h0M88.7 197.6h0M93.8 200.4h0M93.2 194.1h0M91.7 198.9h0M95.5 200.3h0M88.7 194.9h0M86.2 200h0M92 182h0M100.2 196h0M100.5 186.6h0M91.6 186.3h0M100.4 189.2h0M101.6 185.3h0M95.6 181.8h0M94.9 196.1h0M93.6 195.3h0M91.8 183.3h0M95.5 183.2h0M94.7 190.8h0M100.5 188.8h0M90.7 184h0M94.5 185.3h0M91.9 181.2h0M91.2 201.5h0M95.4 187.8h0M87.1 193h0M102.4 185.7h0M93.9 185.7h0M93.6 181.5h0M89.3 194.7h0M101.8 183.1h0M96.2 188.2h0M97.3 183.6h0M98.8 188.8h0M94.4 184.6h0M86 200.3h0M90.4 191.7h0M95.9 183.9h0M93 185.4h0M98.2 192.4h0M95.8 193h0M88.4 194.7h0M95 199.1h0M101.5 184.6h0M98.6 198.6h0M95.9 191.9h0M92.6 183h0M101.2 191.4h0M87.8 200.7h0M97 189.1h0M96.5 192.6h0M87.6 193.8h0M94 183.7h0M101.9 194.2h0M88.3 195.2h0M88.9 188.1h0M88.7 188.9h0M95.6 202.2h0M98.6 196.5h0M102 185.8h0M98.9 194.5h0M91.8 202.2h0M89.6 203.7h0M96.5 192.9h0M91.2 203.5h0M100.1 179.2h0M91.6 202.1h0M86.6 200.5h0M96.4 185.2h0M88.3 192.7h0M93.4 188.3h0M95.4 180.4h0M98.8 200.1h0M90.3 188.9h0M98.6 185.6h0M91.5 182.8h0M88.5 198.2h0M91.4 193.1h0M100.3 185.1h0M89.5 190.5h0M93.8 183h0M99.4 179.8h0M97.9 182.6h0M93.1 185h0M98.4 197.4h0M88.7 186.7h0M92 189.1h0M97.7 180.5h0M97.8 184.7h0M99.1 190.9h0M87.4 189.2h0M100.3 182h0M93.6 184.8h0M89 202.4h0M89.6 198h0M98.1 179.7h0M94.2 201h0M99.7 198.5h0M90.6 200.4h0M96.9 199.4h0M85.4 201.1h0M87.2 199h0M98.1 200.7h0" stroke="#FF61CC" stroke-width="0.8" stroke-linecap="round"/><path d="M132.5 204.1h0M128.7 211.1h0M132 209.4h0M116.9 210.1h0M123.3 203h0M131.4 209.4h0M126.3 201.9h0M118 208.5h0M127.3 208.5h0M120.8 203.2h0M122.5 211.4h0M121.9 211.3h0M126.1 212.6h0M120.3 212.1h0M131.1 207.9h0M127.1 204.6h0M127.3 205.9h0M121.3 206.5h0M123 204.8h0M131.2 207.2h0M122.8 213.5h0M128.9 206.2h0M132.3 205.7h0M126.2 206.6h0M131.6 204.2h0M116.3 206.5h0M120.8 207.2h0M124.3 206.4h0M128.6 209.1h0M121.3 204.8h0M124.4 201.2h0M131.5 209.3h0M119.2 212.1h0M126.6 212.2h0M130.7 207.7h0M127.3 207.6h0M124.8 207.9h0M116.2 209.7h0M122.5 208.2h0M129.7 211.9h0M127.8 205.7h0M125.3 209.1h0M130.8 210.6h0M116.3 205.8h0M132.4 206.9h0M124.9 201.3h0M119.6 203.6h0" stroke="#FF68A1" stroke-width="0.8" stroke-linecap="round"/></g><line x1="25.4" y1="36" x2="25.4" y2="225.4" stroke="#8c8c8c" stroke-width="1.1"/><line x1="24.85" y1="225.4" x2="208" y2="225.4" stroke="#8c8c8c" stroke-width="1.1"/><text x="23.2" y="82.6" font-size="7" text-anchor="end" fill="#444" stroke="#444" stroke-width="0.1">5</text><line x1="23.8" y1="80" x2="25.4" y2="80" stroke="#8c8c8c" stroke-width="0.7"/><text x="23.2" y="130.6" font-size="7" text-anchor="end" fill="#444" stroke="#444" stroke-width="0.1">0</text><line x1="23.8" y1="128" x2="25.4" y2="128" stroke="#8c8c8c" stroke-width="0.7"/><text x="23.2" y="179.2" font-size="7" text-anchor="end" fill="#444" stroke="#444" stroke-width="0.1">-5</text><line x1="23.8" y1="176.6" x2="25.4" y2="176.6" stroke="#8c8c8c" stroke-width="0.7"/><text x="23.2" y="227.3" font-size="7" text-anchor="end" fill="#444" stroke="#444" stroke-width="0.1">-10</text><line x1="23.8" y1="224.7" x2="25.4" y2="224.7" stroke="#8c8c8c" stroke-width="0.7"/><text x="42.9" y="234" font-size="7" text-anchor="middle" fill="#444" stroke="#444" stroke-width="0.1">-10</text><line x1="42.9" y1="225.4" x2="42.9" y2="227" stroke="#8c8c8c" stroke-width="0.7"/><text x="85.5" y="234" font-size="7" text-anchor="middle" fill="#444" stroke="#444" stroke-width="0.1">-5</text><line x1="85.5" y1="225.4" x2="85.5" y2="227" stroke="#8c8c8c" stroke-width="0.7"/><text x="128" y="234" font-size="7" text-anchor="middle" fill="#444" stroke="#444" stroke-width="0.1">0</text><line x1="128" y1="225.4" x2="128" y2="227" stroke="#8c8c8c" stroke-width="0.7"/><text x="170.6" y="234" font-size="7" text-anchor="middle" fill="#444" stroke="#444" stroke-width="0.1">5</text><line x1="170.6" y1="225.4" x2="170.6" y2="227" stroke="#8c8c8c" stroke-width="0.7"/><text x="117" y="243.5" font-size="10.3" text-anchor="middle">umap_1</text><text x="0" y="0" font-size="10.3" text-anchor="middle" transform="translate(10,131.1) rotate(-90)">umap_2</text><text transform="translate(105.1,63.6) scale(0.92,1)" font-size="10.2">RPC6</text><text transform="translate(141.9,65.1) scale(0.92,1)" font-size="10.2">RPC7</text><text transform="translate(118.4,88.8) scale(0.92,1)" font-size="10.2">RPC5</text><text transform="translate(151.8,103.3) scale(0.92,1)" font-size="10.2">RPC4</text><text transform="translate(177,118.7) scale(0.92,1)" font-size="10.2">RPC2</text><text transform="translate(80.2,124) scale(0.92,1)" font-size="10.2">MULLER</text><text transform="translate(107,137) scale(0.92,1)" font-size="10.2">RPC1</text><text transform="translate(126.3,146.2) scale(0.92,1)" font-size="10.2">LENS</text><text transform="translate(158.8,149.6) scale(0.92,1)" font-size="10.2">RPC3</text><text transform="translate(35,131) scale(0.92,1)" font-size="10.2">CONE</text><text transform="translate(56.2,103.5) scale(0.92,1)" font-size="10.2">ROD</text><text transform="translate(44.6,173.1) scale(0.92,1)" font-size="10.2">BIPOLAR</text><text transform="translate(107.7,186.7) scale(0.92,1)" font-size="10.2">Npre</text><text transform="translate(76.7,202.3) scale(0.92,1)" font-size="10.2">HOR</text><text transform="translate(104.7,221.2) scale(0.92,1)" font-size="10.2">ECTO2</text><text transform="translate(161.7,186.4) scale(0.92,1)" font-size="10.2">ECTO1</text><circle cx="216.2" cy="81.6" r="1.3" fill="#F8766D"/><text x="221.4" y="84" font-size="6.8" stroke="#000" stroke-width="0.1">RPC1</text><circle cx="216.2" cy="88.2" r="1.3" fill="#E68613"/><text x="221.4" y="90.6" font-size="6.8" stroke="#000" stroke-width="0.1">Npre</text><circle cx="216.2" cy="94.8" r="1.3" fill="#CD9600"/><text x="221.4" y="97.2" font-size="6.8" stroke="#000" stroke-width="0.1">RPC2</text><circle cx="216.2" cy="101.4" r="1.3" fill="#ABA300"/><text x="221.4" y="103.8" font-size="6.8" stroke="#000" stroke-width="0.1">CONE</text><circle cx="216.2" cy="108" r="1.3" fill="#7CAE00"/><text x="221.4" y="110.4" font-size="6.8" stroke="#000" stroke-width="0.1">RPC3</text><circle cx="216.2" cy="114.6" r="1.3" fill="#0CB702"/><text x="221.4" y="117" font-size="6.8" stroke="#000" stroke-width="0.1">RPC4</text><circle cx="216.2" cy="121.2" r="1.3" fill="#00BE67"/><text x="221.4" y="123.6" font-size="6.8" stroke="#000" stroke-width="0.1">ROD</text><circle cx="216.2" cy="127.8" r="1.3" fill="#00C19A"/><text x="221.4" y="130.2" font-size="6.8" stroke="#000" stroke-width="0.1">RPC5</text><circle cx="216.2" cy="134.4" r="1.3" fill="#00BFC4"/><text x="221.4" y="136.8" font-size="6.8" stroke="#000" stroke-width="0.1">LENS</text><circle cx="216.2" cy="141" r="1.3" fill="#00B8E7"/><text x="221.4" y="143.4" font-size="6.8" stroke="#000" stroke-width="0.1">RPC6</text><circle cx="216.2" cy="147.6" r="1.3" fill="#00A9FF"/><text x="221.4" y="150" font-size="6.8" stroke="#000" stroke-width="0.1">MULLER</text><circle cx="216.2" cy="154.2" r="1.3" fill="#8494FF"/><text x="221.4" y="156.6" font-size="6.8" stroke="#000" stroke-width="0.1">ECTO1</text><circle cx="216.2" cy="160.8" r="1.3" fill="#C77CFF"/><text x="221.4" y="163.2" font-size="6.8" stroke="#000" stroke-width="0.1">RPC7</text><circle cx="216.2" cy="167.4" r="1.3" fill="#ED68ED"/><text x="221.4" y="169.8" font-size="6.8" stroke="#000" stroke-width="0.1">BIPOLAR</text><circle cx="216.2" cy="174" r="1.3" fill="#FF61CC"/><text x="221.4" y="176.4" font-size="6.8" stroke="#000" stroke-width="0.1">HOR</text><circle cx="216.2" cy="180.6" r="1.3" fill="#FF68A1"/><text x="221.4" y="183" font-size="6.8" stroke="#000" stroke-width="0.1">ECTO2</text><circle cx="300.4" cy="75.3" r="0.45" fill="#d6d4ee"/><circle cx="309.5" cy="75.3" r="0.45" fill="#d6d4ee"/><circle cx="318.7" cy="75.3" r="0.45" fill="#d6d4ee"/><circle cx="327.8" cy="75.3" r="0.9" fill="#a592f2"/><circle cx="337" cy="75.3" r="0.45" fill="#d6d4ee"/><circle cx="346.1" cy="75.3" r="0.55" fill="#b4a8f2"/><circle cx="355.2" cy="75.3" r="0.95" fill="#3a22ff"/><circle cx="364.4" cy="75.3" r="0.9" fill="#a592f2"/><circle cx="373.5" cy="75.3" r="0.45" fill="#d6d4ee"/><circle cx="382.6" cy="75.3" r="0.45" fill="#d6d4ee"/><circle cx="391.8" cy="75.3" r="0.45" fill="#d6d4ee"/><circle cx="400.9" cy="75.3" r="0.45" fill="#d6d4ee"/><circle cx="410.1" cy="75.3" r="0.45" fill="#d6d4ee"/><circle cx="419.2" cy="75.3" r="0.45" fill="#d6d4ee"/><circle cx="428.3" cy="75.3" r="0.45" fill="#d6d4ee"/><circle cx="437.5" cy="75.3" r="0.45" fill="#d6d4ee"/><circle cx="446.6" cy="75.3" r="0.45" fill="#d6d4ee"/><circle cx="455.7" cy="75.3" r="0.45" fill="#d6d4ee"/><circle cx="464.9" cy="75.3" r="0.45" fill="#d6d4ee"/><circle cx="474" cy="75.3" r="0.45" fill="#d6d4ee"/><circle cx="483.2" cy="75.3" r="0.45" fill="#d6d4ee"/><circle cx="492.3" cy="75.3" r="0.45" fill="#d6d4ee"/><circle cx="501.4" cy="75.3" r="0.45" fill="#d6d4ee"/><circle cx="510.6" cy="75.3" r="0.45" fill="#d6d4ee"/><circle cx="519.7" cy="75.3" r="0.45" fill="#d6d4ee"/><circle cx="528.8" cy="75.3" r="0.95" fill="#3a22ff"/><circle cx="538" cy="75.3" r="0.45" fill="#d6d4ee"/><circle cx="547.1" cy="75.3" r="0.45" fill="#d6d4ee"/><circle cx="556.3" cy="75.3" r="1.4" fill="#2a14ff"/><circle cx="565.4" cy="75.3" r="0.45" fill="#d6d4ee"/><circle cx="574.5" cy="75.3" r="0.55" fill="#b4a8f2"/><circle cx="583.7" cy="75.3" r="1.98" fill="#0c00ff"/><circle cx="592.8" cy="75.3" r="0.45" fill="#d6d4ee"/><circle cx="602" cy="75.3" r="0.45" fill="#d6d4ee"/><circle cx="611.1" cy="75.3" r="0.9" fill="#a592f2"/><circle cx="620.2" cy="75.3" r="1.98" fill="#0c00ff"/><circle cx="629.4" cy="75.3" r="0.95" fill="#3a22ff"/><circle cx="638.5" cy="75.3" r="0.95" fill="#3a22ff"/><text x="293" y="77.3" font-size="5.6" text-anchor="end" fill="#222" stroke="#222" stroke-width="0.1">BIPOLAR</text><line x1="292.8" y1="75.3" x2="294.5" y2="75.3" stroke="#333" stroke-width="0.5"/><circle cx="300.4" cy="84.2" r="0.45" fill="#d6d4ee"/><circle cx="309.5" cy="84.2" r="0.45" fill="#d6d4ee"/><circle cx="318.7" cy="84.2" r="0.9" fill="#a592f2"/><circle cx="327.8" cy="84.2" r="0.45" fill="#d6d4ee"/><circle cx="337" cy="84.2" r="0.45" fill="#d6d4ee"/><circle cx="346.1" cy="84.2" r="1.98" fill="#0c00ff"/><circle cx="355.2" cy="84.2" r="0.45" fill="#d6d4ee"/><circle cx="364.4" cy="84.2" r="1.4" fill="#2a14ff"/><circle cx="373.5" cy="84.2" r="0.45" fill="#d6d4ee"/><circle cx="382.6" cy="84.2" r="0.45" fill="#d6d4ee"/><circle cx="391.8" cy="84.2" r="0.45" fill="#d6d4ee"/><circle cx="400.9" cy="84.2" r="0.45" fill="#d6d4ee"/><circle cx="410.1" cy="84.2" r="0.45" fill="#d6d4ee"/><circle cx="419.2" cy="84.2" r="0.45" fill="#d6d4ee"/><circle cx="428.3" cy="84.2" r="0.45" fill="#d6d4ee"/><circle cx="437.5" cy="84.2" r="0.45" fill="#d6d4ee"/><circle cx="446.6" cy="84.2" r="0.45" fill="#d6d4ee"/><circle cx="455.7" cy="84.2" r="0.45" fill="#d6d4ee"/><circle cx="464.9" cy="84.2" r="0.45" fill="#d6d4ee"/><circle cx="474" cy="84.2" r="0.45" fill="#d6d4ee"/><circle cx="483.2" cy="84.2" r="0.45" fill="#d6d4ee"/><circle cx="492.3" cy="84.2" r="0.45" fill="#d6d4ee"/><circle cx="501.4" cy="84.2" r="0.55" fill="#b4a8f2"/><circle cx="510.6" cy="84.2" r="0.45" fill="#d6d4ee"/><circle cx="519.7" cy="84.2" r="0.45" fill="#d6d4ee"/><circle cx="528.8" cy="84.2" r="0.45" fill="#d6d4ee"/><circle cx="538" cy="84.2" r="0.45" fill="#d6d4ee"/><circle cx="547.1" cy="84.2" r="0.45" fill="#d6d4ee"/><circle cx="556.3" cy="84.2" r="0.45" fill="#d6d4ee"/><circle cx="565.4" cy="84.2" r="0.45" fill="#d6d4ee"/><circle cx="574.5" cy="84.2" r="1.98" fill="#0c00ff"/><circle cx="583.7" cy="84.2" r="1.32" fill="#7f62f2"/><circle cx="592.8" cy="84.2" r="0.95" fill="#3a22ff"/><circle cx="602" cy="84.2" r="0.55" fill="#b4a8f2"/><circle cx="611.1" cy="84.2" r="1.4" fill="#2a14ff"/><circle cx="620.2" cy="84.2" r="0.45" fill="#d6d4ee"/><circle cx="629.4" cy="84.2" r="0.45" fill="#d6d4ee"/><circle cx="638.5" cy="84.2" r="0.45" fill="#d6d4ee"/><text x="293" y="86.2" font-size="5.6" text-anchor="end" fill="#222" stroke="#222" stroke-width="0.1">ROD</text><line x1="292.8" y1="84.2" x2="294.5" y2="84.2" stroke="#333" stroke-width="0.5"/><circle cx="300.4" cy="93.1" r="0.55" fill="#b4a8f2"/><circle cx="309.5" cy="93.1" r="0.9" fill="#a592f2"/><circle cx="318.7" cy="93.1" r="1.72" fill="#7c5ef2"/><circle cx="327.8" cy="93.1" r="0.9" fill="#a592f2"/><circle cx="337" cy="93.1" r="0.45" fill="#d6d4ee"/><circle cx="346.1" cy="93.1" r="1.4" fill="#2a14ff"/><circle cx="355.2" cy="93.1" r="0.45" fill="#d6d4ee"/><circle cx="364.4" cy="93.1" r="1.32" fill="#a592f2"/><circle cx="373.5" cy="93.1" r="0.45" fill="#d6d4ee"/><circle cx="382.6" cy="93.1" r="0.45" fill="#d6d4ee"/><circle cx="391.8" cy="93.1" r="0.45" fill="#d6d4ee"/><circle cx="400.9" cy="93.1" r="0.45" fill="#d6d4ee"/><circle cx="410.1" cy="93.1" r="0.45" fill="#d6d4ee"/><circle cx="419.2" cy="93.1" r="0.45" fill="#d6d4ee"/><circle cx="428.3" cy="93.1" r="0.45" fill="#d6d4ee"/><circle cx="437.5" cy="93.1" r="0.45" fill="#d6d4ee"/><circle cx="446.6" cy="93.1" r="0.45" fill="#d6d4ee"/><circle cx="455.7" cy="93.1" r="0.45" fill="#d6d4ee"/><circle cx="464.9" cy="93.1" r="0.45" fill="#d6d4ee"/><circle cx="474" cy="93.1" r="0.45" fill="#d6d4ee"/><circle cx="483.2" cy="93.1" r="0.45" fill="#d6d4ee"/><circle cx="492.3" cy="93.1" r="0.45" fill="#d6d4ee"/><circle cx="501.4" cy="93.1" r="1.72" fill="#a48ff2"/><circle cx="510.6" cy="93.1" r="0.95" fill="#7f62f2"/><circle cx="519.7" cy="93.1" r="0.45" fill="#d6d4ee"/><circle cx="528.8" cy="93.1" r="0.45" fill="#d6d4ee"/><circle cx="538" cy="93.1" r="0.45" fill="#d6d4ee"/><circle cx="547.1" cy="93.1" r="0.45" fill="#d6d4ee"/><circle cx="556.3" cy="93.1" r="0.45" fill="#d6d4ee"/><circle cx="565.4" cy="93.1" r="0.9" fill="#a592f2"/><circle cx="574.5" cy="93.1" r="1.98" fill="#0c00ff"/><circle cx="583.7" cy="93.1" r="1.72" fill="#5a3cf8"/><circle cx="592.8" cy="93.1" r="0.95" fill="#7f62f2"/><circle cx="602" cy="93.1" r="0.45" fill="#d6d4ee"/><circle cx="611.1" cy="93.1" r="0.9" fill="#a592f2"/><circle cx="620.2" cy="93.1" r="0.55" fill="#b4a8f2"/><circle cx="629.4" cy="93.1" r="0.55" fill="#b4a8f2"/><circle cx="638.5" cy="93.1" r="0.45" fill="#d6d4ee"/><text x="293" y="95.1" font-size="5.6" text-anchor="end" fill="#222" stroke="#222" stroke-width="0.1">CONE</text><line x1="292.8" y1="93.1" x2="294.5" y2="93.1" stroke="#333" stroke-width="0.5"/><circle cx="300.4" cy="102.1" r="0.45" fill="#d6d4ee"/><circle cx="309.5" cy="102.1" r="1.98" fill="#0c00ff"/><circle cx="318.7" cy="102.1" r="0.45" fill="#d6d4ee"/><circle cx="327.8" cy="102.1" r="0.95" fill="#7f62f2"/><circle cx="337" cy="102.1" r="1.4" fill="#2a14ff"/><circle cx="346.1" cy="102.1" r="0.45" fill="#d6d4ee"/><circle cx="355.2" cy="102.1" r="0.45" fill="#d6d4ee"/><circle cx="364.4" cy="102.1" r="1.32" fill="#7f62f2"/><circle cx="373.5" cy="102.1" r="0.45" fill="#d6d4ee"/><circle cx="382.6" cy="102.1" r="0.45" fill="#d6d4ee"/><circle cx="391.8" cy="102.1" r="0.45" fill="#d6d4ee"/><circle cx="400.9" cy="102.1" r="0.45" fill="#d6d4ee"/><circle cx="410.1" cy="102.1" r="0.45" fill="#d6d4ee"/><circle cx="419.2" cy="102.1" r="0.45" fill="#d6d4ee"/><circle cx="428.3" cy="102.1" r="0.45" fill="#d6d4ee"/><circle cx="437.5" cy="102.1" r="0.45" fill="#d6d4ee"/><circle cx="446.6" cy="102.1" r="0.45" fill="#d6d4ee"/><circle cx="455.7" cy="102.1" r="0.45" fill="#d6d4ee"/><circle cx="464.9" cy="102.1" r="0.45" fill="#d6d4ee"/><circle cx="474" cy="102.1" r="0.45" fill="#d6d4ee"/><circle cx="483.2" cy="102.1" r="0.45" fill="#d6d4ee"/><circle cx="492.3" cy="102.1" r="0.45" fill="#d6d4ee"/><circle cx="501.4" cy="102.1" r="0.9" fill="#a592f2"/><circle cx="510.6" cy="102.1" r="0.45" fill="#d6d4ee"/><circle cx="519.7" cy="102.1" r="0.45" fill="#d6d4ee"/><circle cx="528.8" cy="102.1" r="0.45" fill="#d6d4ee"/><circle cx="538" cy="102.1" r="0.9" fill="#a592f2"/><circle cx="547.1" cy="102.1" r="1.4" fill="#2a14ff"/><circle cx="556.3" cy="102.1" r="0.95" fill="#3a22ff"/><circle cx="565.4" cy="102.1" r="1.4" fill="#2a14ff"/><circle cx="574.5" cy="102.1" r="0.45" fill="#d6d4ee"/><circle cx="583.7" cy="102.1" r="0.45" fill="#d6d4ee"/><circle cx="592.8" cy="102.1" r="0.45" fill="#d6d4ee"/><circle cx="602" cy="102.1" r="0.45" fill="#d6d4ee"/><circle cx="611.1" cy="102.1" r="0.45" fill="#d6d4ee"/><circle cx="620.2" cy="102.1" r="0.45" fill="#d6d4ee"/><circle cx="629.4" cy="102.1" r="0.45" fill="#d6d4ee"/><circle cx="638.5" cy="102.1" r="0.45" fill="#d6d4ee"/><text x="293" y="104.1" font-size="5.6" text-anchor="end" fill="#222" stroke="#222" stroke-width="0.1">HOR</text><line x1="292.8" y1="102.1" x2="294.5" y2="102.1" stroke="#333" stroke-width="0.5"/><circle cx="300.4" cy="111" r="0.45" fill="#d6d4ee"/><circle cx="309.5" cy="111" r="1.72" fill="#5a3cf8"/><circle cx="318.7" cy="111" r="0.95" fill="#7f62f2"/><circle cx="327.8" cy="111" r="1.72" fill="#5a3cf8"/><circle cx="337" cy="111" r="1.4" fill="#2a14ff"/><circle cx="346.1" cy="111" r="0.45" fill="#d6d4ee"/><circle cx="355.2" cy="111" r="0.45" fill="#d6d4ee"/><circle cx="364.4" cy="111" r="1.32" fill="#a592f2"/><circle cx="373.5" cy="111" r="0.45" fill="#d6d4ee"/><circle cx="382.6" cy="111" r="0.45" fill="#d6d4ee"/><circle cx="391.8" cy="111" r="0.45" fill="#d6d4ee"/><circle cx="400.9" cy="111" r="0.45" fill="#d6d4ee"/><circle cx="410.1" cy="111" r="0.45" fill="#d6d4ee"/><circle cx="419.2" cy="111" r="0.45" fill="#d6d4ee"/><circle cx="428.3" cy="111" r="0.45" fill="#d6d4ee"/><circle cx="437.5" cy="111" r="0.45" fill="#d6d4ee"/><circle cx="446.6" cy="111" r="0.45" fill="#d6d4ee"/><circle cx="455.7" cy="111" r="0.55" fill="#b4a8f2"/><circle cx="464.9" cy="111" r="0.45" fill="#d6d4ee"/><circle cx="474" cy="111" r="0.45" fill="#d6d4ee"/><circle cx="483.2" cy="111" r="0.45" fill="#d6d4ee"/><circle cx="492.3" cy="111" r="0.45" fill="#d6d4ee"/><circle cx="501.4" cy="111" r="1.32" fill="#7f62f2"/><circle cx="510.6" cy="111" r="1.98" fill="#0c00ff"/><circle cx="519.7" cy="111" r="1.4" fill="#2a14ff"/><circle cx="528.8" cy="111" r="0.95" fill="#7f62f2"/><circle cx="538" cy="111" r="0.45" fill="#d6d4ee"/><circle cx="547.1" cy="111" r="0.45" fill="#d6d4ee"/><circle cx="556.3" cy="111" r="0.55" fill="#b4a8f2"/><circle cx="565.4" cy="111" r="0.95" fill="#7f62f2"/><circle cx="574.5" cy="111" r="0.45" fill="#d6d4ee"/><circle cx="583.7" cy="111" r="0.45" fill="#d6d4ee"/><circle cx="592.8" cy="111" r="0.45" fill="#d6d4ee"/><circle cx="602" cy="111" r="0.45" fill="#d6d4ee"/><circle cx="611.1" cy="111" r="0.45" fill="#d6d4ee"/><circle cx="620.2" cy="111" r="0.45" fill="#d6d4ee"/><circle cx="629.4" cy="111" r="0.45" fill="#d6d4ee"/><circle cx="638.5" cy="111" r="0.45" fill="#d6d4ee"/><text x="293" y="113" font-size="5.6" text-anchor="end" fill="#222" stroke="#222" stroke-width="0.1">Npre</text><line x1="292.8" y1="111" x2="294.5" y2="111" stroke="#333" stroke-width="0.5"/><circle cx="300.4" cy="119.9" r="0.9" fill="#a592f2"/><circle cx="309.5" cy="119.9" r="0.55" fill="#b4a8f2"/><circle cx="318.7" cy="119.9" r="0.45" fill="#d6d4ee"/><circle cx="327.8" cy="119.9" r="0.55" fill="#b4a8f2"/><circle cx="337" cy="119.9" r="1.4" fill="#2a14ff"/><circle cx="346.1" cy="119.9" r="0.45" fill="#d6d4ee"/><circle cx="355.2" cy="119.9" r="0.45" fill="#d6d4ee"/><circle cx="364.4" cy="119.9" r="1.72" fill="#7c5ef2"/><circle cx="373.5" cy="119.9" r="0.45" fill="#d6d4ee"/><circle cx="382.6" cy="119.9" r="0.9" fill="#a592f2"/><circle cx="391.8" cy="119.9" r="0.45" fill="#d6d4ee"/><circle cx="400.9" cy="119.9" r="0.45" fill="#d6d4ee"/><circle cx="410.1" cy="119.9" r="0.45" fill="#d6d4ee"/><circle cx="419.2" cy="119.9" r="0.45" fill="#d6d4ee"/><circle cx="428.3" cy="119.9" r="0.45" fill="#d6d4ee"/><circle cx="437.5" cy="119.9" r="0.45" fill="#d6d4ee"/><circle cx="446.6" cy="119.9" r="0.55" fill="#b4a8f2"/><circle cx="455.7" cy="119.9" r="0.95" fill="#3a22ff"/><circle cx="464.9" cy="119.9" r="0.45" fill="#d6d4ee"/><circle cx="474" cy="119.9" r="0.55" fill="#b4a8f2"/><circle cx="483.2" cy="119.9" r="0.45" fill="#d6d4ee"/><circle cx="492.3" cy="119.9" r="0.45" fill="#d6d4ee"/><circle cx="501.4" cy="119.9" r="0.95" fill="#7f62f2"/><circle cx="510.6" cy="119.9" r="0.45" fill="#d6d4ee"/><circle cx="519.7" cy="119.9" r="0.45" fill="#d6d4ee"/><circle cx="528.8" cy="119.9" r="0.45" fill="#d6d4ee"/><circle cx="538" cy="119.9" r="0.45" fill="#d6d4ee"/><circle cx="547.1" cy="119.9" r="0.45" fill="#d6d4ee"/><circle cx="556.3" cy="119.9" r="0.45" fill="#d6d4ee"/><circle cx="565.4" cy="119.9" r="0.45" fill="#d6d4ee"/><circle cx="574.5" cy="119.9" r="0.45" fill="#d6d4ee"/><circle cx="583.7" cy="119.9" r="0.45" fill="#d6d4ee"/><circle cx="592.8" cy="119.9" r="0.45" fill="#d6d4ee"/><circle cx="602" cy="119.9" r="0.45" fill="#d6d4ee"/><circle cx="611.1" cy="119.9" r="0.45" fill="#d6d4ee"/><circle cx="620.2" cy="119.9" r="0.45" fill="#d6d4ee"/><circle cx="629.4" cy="119.9" r="0.45" fill="#d6d4ee"/><circle cx="638.5" cy="119.9" r="0.45" fill="#d6d4ee"/><text x="293" y="121.9" font-size="5.6" text-anchor="end" fill="#222" stroke="#222" stroke-width="0.1">ECTO2</text><line x1="292.8" y1="119.9" x2="294.5" y2="119.9" stroke="#333" stroke-width="0.5"/><circle cx="300.4" cy="128.8" r="0.9" fill="#a592f2"/><circle cx="309.5" cy="128.8" r="0.9" fill="#a592f2"/><circle cx="318.7" cy="128.8" r="0.45" fill="#d6d4ee"/><circle cx="327.8" cy="128.8" r="0.9" fill="#a592f2"/><circle cx="337" cy="128.8" r="0.55" fill="#b4a8f2"/><circle cx="346.1" cy="128.8" r="0.45" fill="#d6d4ee"/><circle cx="355.2" cy="128.8" r="0.45" fill="#d6d4ee"/><circle cx="364.4" cy="128.8" r="0.9" fill="#a592f2"/><circle cx="373.5" cy="128.8" r="1.32" fill="#a592f2"/><circle cx="382.6" cy="128.8" r="1.32" fill="#7f62f2"/><circle cx="391.8" cy="128.8" r="0.55" fill="#b4a8f2"/><circle cx="400.9" cy="128.8" r="0.9" fill="#a592f2"/><circle cx="410.1" cy="128.8" r="0.45" fill="#d6d4ee"/><circle cx="419.2" cy="128.8" r="0.45" fill="#d6d4ee"/><circle cx="428.3" cy="128.8" r="0.45" fill="#d6d4ee"/><circle cx="437.5" cy="128.8" r="0.45" fill="#d6d4ee"/><circle cx="446.6" cy="128.8" r="0.9" fill="#a592f2"/><circle cx="455.7" cy="128.8" r="0.95" fill="#3a22ff"/><circle cx="464.9" cy="128.8" r="0.45" fill="#d6d4ee"/><circle cx="474" cy="128.8" r="0.45" fill="#d6d4ee"/><circle cx="483.2" cy="128.8" r="0.55" fill="#b4a8f2"/><circle cx="492.3" cy="128.8" r="0.45" fill="#d6d4ee"/><circle cx="501.4" cy="128.8" r="0.9" fill="#a592f2"/><circle cx="510.6" cy="128.8" r="0.45" fill="#d6d4ee"/><circle cx="519.7" cy="128.8" r="0.45" fill="#d6d4ee"/><circle cx="528.8" cy="128.8" r="0.45" fill="#d6d4ee"/><circle cx="538" cy="128.8" r="0.45" fill="#d6d4ee"/><circle cx="547.1" cy="128.8" r="0.45" fill="#d6d4ee"/><circle cx="556.3" cy="128.8" r="0.45" fill="#d6d4ee"/><circle cx="565.4" cy="128.8" r="0.45" fill="#d6d4ee"/><circle cx="574.5" cy="128.8" r="0.45" fill="#d6d4ee"/><circle cx="583.7" cy="128.8" r="0.9" fill="#a592f2"/><circle cx="592.8" cy="128.8" r="0.45" fill="#d6d4ee"/><circle cx="602" cy="128.8" r="0.45" fill="#d6d4ee"/><circle cx="611.1" cy="128.8" r="0.45" fill="#d6d4ee"/><circle cx="620.2" cy="128.8" r="0.45" fill="#d6d4ee"/><circle cx="629.4" cy="128.8" r="0.45" fill="#d6d4ee"/><circle cx="638.5" cy="128.8" r="0.45" fill="#d6d4ee"/><text x="293" y="130.8" font-size="5.6" text-anchor="end" fill="#222" stroke="#222" stroke-width="0.1">ECTO1</text><line x1="292.8" y1="128.8" x2="294.5" y2="128.8" stroke="#333" stroke-width="0.5"/><circle cx="300.4" cy="137.7" r="0.55" fill="#b4a8f2"/><circle cx="309.5" cy="137.7" r="0.9" fill="#a592f2"/><circle cx="318.7" cy="137.7" r="0.9" fill="#a592f2"/><circle cx="327.8" cy="137.7" r="0.9" fill="#a592f2"/><circle cx="337" cy="137.7" r="0.45" fill="#d6d4ee"/><circle cx="346.1" cy="137.7" r="0.45" fill="#d6d4ee"/><circle cx="355.2" cy="137.7" r="0.55" fill="#b4a8f2"/><circle cx="364.4" cy="137.7" r="0.45" fill="#d6d4ee"/><circle cx="373.5" cy="137.7" r="0.55" fill="#b4a8f2"/><circle cx="382.6" cy="137.7" r="0.45" fill="#d6d4ee"/><circle cx="391.8" cy="137.7" r="0.45" fill="#d6d4ee"/><circle cx="400.9" cy="137.7" r="0.9" fill="#a592f2"/><circle cx="410.1" cy="137.7" r="0.45" fill="#d6d4ee"/><circle cx="419.2" cy="137.7" r="0.45" fill="#d6d4ee"/><circle cx="428.3" cy="137.7" r="0.45" fill="#d6d4ee"/><circle cx="437.5" cy="137.7" r="0.55" fill="#b4a8f2"/><circle cx="446.6" cy="137.7" r="0.45" fill="#d6d4ee"/><circle cx="455.7" cy="137.7" r="0.45" fill="#d6d4ee"/><circle cx="464.9" cy="137.7" r="0.45" fill="#d6d4ee"/><circle cx="474" cy="137.7" r="0.45" fill="#d6d4ee"/><circle cx="483.2" cy="137.7" r="0.45" fill="#d6d4ee"/><circle cx="492.3" cy="137.7" r="0.45" fill="#d6d4ee"/><circle cx="501.4" cy="137.7" r="0.95" fill="#7f62f2"/><circle cx="510.6" cy="137.7" r="0.55" fill="#b4a8f2"/><circle cx="519.7" cy="137.7" r="0.45" fill="#d6d4ee"/><circle cx="528.8" cy="137.7" r="0.45" fill="#d6d4ee"/><circle cx="538" cy="137.7" r="0.45" fill="#d6d4ee"/><circle cx="547.1" cy="137.7" r="0.45" fill="#d6d4ee"/><circle cx="556.3" cy="137.7" r="0.45" fill="#d6d4ee"/><circle cx="565.4" cy="137.7" r="0.45" fill="#d6d4ee"/><circle cx="574.5" cy="137.7" r="0.45" fill="#d6d4ee"/><circle cx="583.7" cy="137.7" r="0.45" fill="#d6d4ee"/><circle cx="592.8" cy="137.7" r="0.45" fill="#d6d4ee"/><circle cx="602" cy="137.7" r="0.45" fill="#d6d4ee"/><circle cx="611.1" cy="137.7" r="0.45" fill="#d6d4ee"/><circle cx="620.2" cy="137.7" r="0.45" fill="#d6d4ee"/><circle cx="629.4" cy="137.7" r="0.45" fill="#d6d4ee"/><circle cx="638.5" cy="137.7" r="0.45" fill="#d6d4ee"/><text x="293" y="139.7" font-size="5.6" text-anchor="end" fill="#222" stroke="#222" stroke-width="0.1">LENS</text><line x1="292.8" y1="137.7" x2="294.5" y2="137.7" stroke="#333" stroke-width="0.5"/><circle cx="300.4" cy="146.7" r="0.95" fill="#7f62f2"/><circle cx="309.5" cy="146.7" r="0.9" fill="#a592f2"/><circle cx="318.7" cy="146.7" r="1.32" fill="#7f62f2"/><circle cx="327.8" cy="146.7" r="1.72" fill="#7c5ef2"/><circle cx="337" cy="146.7" r="0.55" fill="#b4a8f2"/><circle cx="346.1" cy="146.7" r="0.55" fill="#b4a8f2"/><circle cx="355.2" cy="146.7" r="0.95" fill="#7f62f2"/><circle cx="364.4" cy="146.7" r="0.9" fill="#a592f2"/><circle cx="373.5" cy="146.7" r="1.72" fill="#7c5ef2"/><circle cx="382.6" cy="146.7" r="1.4" fill="#2a14ff"/><circle cx="391.8" cy="146.7" r="0.45" fill="#d6d4ee"/><circle cx="400.9" cy="146.7" r="0.45" fill="#d6d4ee"/><circle cx="410.1" cy="146.7" r="0.95" fill="#3a22ff"/><circle cx="419.2" cy="146.7" r="0.95" fill="#3a22ff"/><circle cx="428.3" cy="146.7" r="0.55" fill="#b4a8f2"/><circle cx="437.5" cy="146.7" r="0.45" fill="#d6d4ee"/><circle cx="446.6" cy="146.7" r="0.45" fill="#d6d4ee"/><circle cx="455.7" cy="146.7" r="0.45" fill="#d6d4ee"/><circle cx="464.9" cy="146.7" r="0.45" fill="#d6d4ee"/><circle cx="474" cy="146.7" r="0.45" fill="#d6d4ee"/><circle cx="483.2" cy="146.7" r="0.45" fill="#d6d4ee"/><circle cx="492.3" cy="146.7" r="0.45" fill="#d6d4ee"/><circle cx="501.4" cy="146.7" r="0.55" fill="#b4a8f2"/><circle cx="510.6" cy="146.7" r="0.45" fill="#d6d4ee"/><circle cx="519.7" cy="146.7" r="0.45" fill="#d6d4ee"/><circle cx="528.8" cy="146.7" r="0.45" fill="#d6d4ee"/><circle cx="538" cy="146.7" r="0.45" fill="#d6d4ee"/><circle cx="547.1" cy="146.7" r="0.45" fill="#d6d4ee"/><circle cx="556.3" cy="146.7" r="0.9" fill="#a592f2"/><circle cx="565.4" cy="146.7" r="0.45" fill="#d6d4ee"/><circle cx="574.5" cy="146.7" r="0.45" fill="#d6d4ee"/><circle cx="583.7" cy="146.7" r="0.45" fill="#d6d4ee"/><circle cx="592.8" cy="146.7" r="0.45" fill="#d6d4ee"/><circle cx="602" cy="146.7" r="0.45" fill="#d6d4ee"/><circle cx="611.1" cy="146.7" r="0.45" fill="#d6d4ee"/><circle cx="620.2" cy="146.7" r="0.45" fill="#d6d4ee"/><circle cx="629.4" cy="146.7" r="0.45" fill="#d6d4ee"/><circle cx="638.5" cy="146.7" r="0.45" fill="#d6d4ee"/><text x="293" y="148.7" font-size="5.6" text-anchor="end" fill="#222" stroke="#222" stroke-width="0.1">MULLER</text><line x1="292.8" y1="146.7" x2="294.5" y2="146.7" stroke="#333" stroke-width="0.5"/><circle cx="300.4" cy="155.6" r="1.72" fill="#7c5ef2"/><circle cx="309.5" cy="155.6" r="1.72" fill="#a48ff2"/><circle cx="318.7" cy="155.6" r="1.72" fill="#7c5ef2"/><circle cx="327.8" cy="155.6" r="1.72" fill="#a48ff2"/><circle cx="337" cy="155.6" r="0.45" fill="#d6d4ee"/><circle cx="346.1" cy="155.6" r="0.45" fill="#d6d4ee"/><circle cx="355.2" cy="155.6" r="1.32" fill="#7f62f2"/><circle cx="364.4" cy="155.6" r="0.55" fill="#b4a8f2"/><circle cx="373.5" cy="155.6" r="1.72" fill="#a48ff2"/><circle cx="382.6" cy="155.6" r="0.9" fill="#a592f2"/><circle cx="391.8" cy="155.6" r="1.72" fill="#7c5ef2"/><circle cx="400.9" cy="155.6" r="1.72" fill="#a48ff2"/><circle cx="410.1" cy="155.6" r="0.45" fill="#d6d4ee"/><circle cx="419.2" cy="155.6" r="0.55" fill="#b4a8f2"/><circle cx="428.3" cy="155.6" r="0.45" fill="#d6d4ee"/><circle cx="437.5" cy="155.6" r="0.45" fill="#d6d4ee"/><circle cx="446.6" cy="155.6" r="0.45" fill="#d6d4ee"/><circle cx="455.7" cy="155.6" r="0.45" fill="#d6d4ee"/><circle cx="464.9" cy="155.6" r="0.45" fill="#d6d4ee"/><circle cx="474" cy="155.6" r="0.45" fill="#d6d4ee"/><circle cx="483.2" cy="155.6" r="0.45" fill="#d6d4ee"/><circle cx="492.3" cy="155.6" r="0.45" fill="#d6d4ee"/><circle cx="501.4" cy="155.6" r="1.32" fill="#a592f2"/><circle cx="510.6" cy="155.6" r="0.45" fill="#d6d4ee"/><circle cx="519.7" cy="155.6" r="0.45" fill="#d6d4ee"/><circle cx="528.8" cy="155.6" r="0.45" fill="#d6d4ee"/><circle cx="538" cy="155.6" r="0.45" fill="#d6d4ee"/><circle cx="547.1" cy="155.6" r="0.45" fill="#d6d4ee"/><circle cx="556.3" cy="155.6" r="0.45" fill="#d6d4ee"/><circle cx="565.4" cy="155.6" r="0.45" fill="#d6d4ee"/><circle cx="574.5" cy="155.6" r="0.45" fill="#d6d4ee"/><circle cx="583.7" cy="155.6" r="0.45" fill="#d6d4ee"/><circle cx="592.8" cy="155.6" r="0.45" fill="#d6d4ee"/><circle cx="602" cy="155.6" r="0.45" fill="#d6d4ee"/><circle cx="611.1" cy="155.6" r="0.45" fill="#d6d4ee"/><circle cx="620.2" cy="155.6" r="0.45" fill="#d6d4ee"/><circle cx="629.4" cy="155.6" r="0.45" fill="#d6d4ee"/><circle cx="638.5" cy="155.6" r="0.45" fill="#d6d4ee"/><text x="293" y="157.6" font-size="5.6" text-anchor="end" fill="#222" stroke="#222" stroke-width="0.1">RPC7</text><line x1="292.8" y1="155.6" x2="294.5" y2="155.6" stroke="#333" stroke-width="0.5"/><circle cx="300.4" cy="164.5" r="1.72" fill="#7c5ef2"/><circle cx="309.5" cy="164.5" r="1.72" fill="#a48ff2"/><circle cx="318.7" cy="164.5" r="1.72" fill="#7c5ef2"/><circle cx="327.8" cy="164.5" r="1.72" fill="#a48ff2"/><circle cx="337" cy="164.5" r="0.45" fill="#d6d4ee"/><circle cx="346.1" cy="164.5" r="0.45" fill="#d6d4ee"/><circle cx="355.2" cy="164.5" r="1.32" fill="#7f62f2"/><circle cx="364.4" cy="164.5" r="0.9" fill="#a592f2"/><circle cx="373.5" cy="164.5" r="1.72" fill="#7c5ef2"/><circle cx="382.6" cy="164.5" r="0.9" fill="#a592f2"/><circle cx="391.8" cy="164.5" r="1.98" fill="#0c00ff"/><circle cx="400.9" cy="164.5" r="1.98" fill="#0c00ff"/><circle cx="410.1" cy="164.5" r="0.45" fill="#d6d4ee"/><circle cx="419.2" cy="164.5" r="0.55" fill="#b4a8f2"/><circle cx="428.3" cy="164.5" r="0.45" fill="#d6d4ee"/><circle cx="437.5" cy="164.5" r="0.45" fill="#d6d4ee"/><circle cx="446.6" cy="164.5" r="0.45" fill="#d6d4ee"/><circle cx="455.7" cy="164.5" r="0.55" fill="#b4a8f2"/><circle cx="464.9" cy="164.5" r="0.45" fill="#d6d4ee"/><circle cx="474" cy="164.5" r="0.45" fill="#d6d4ee"/><circle cx="483.2" cy="164.5" r="0.45" fill="#d6d4ee"/><circle cx="492.3" cy="164.5" r="0.45" fill="#d6d4ee"/><circle cx="501.4" cy="164.5" r="1.32" fill="#7f62f2"/><circle cx="510.6" cy="164.5" r="0.9" fill="#a592f2"/><circle cx="519.7" cy="164.5" r="0.45" fill="#d6d4ee"/><circle cx="528.8" cy="164.5" r="0.45" fill="#d6d4ee"/><circle cx="538" cy="164.5" r="0.45" fill="#d6d4ee"/><circle cx="547.1" cy="164.5" r="0.45" fill="#d6d4ee"/><circle cx="556.3" cy="164.5" r="0.45" fill="#d6d4ee"/><circle cx="565.4" cy="164.5" r="0.45" fill="#d6d4ee"/><circle cx="574.5" cy="164.5" r="0.45" fill="#d6d4ee"/><circle cx="583.7" cy="164.5" r="0.45" fill="#d6d4ee"/><circle cx="592.8" cy="164.5" r="0.45" fill="#d6d4ee"/><circle cx="602" cy="164.5" r="0.45" fill="#d6d4ee"/><circle cx="611.1" cy="164.5" r="0.45" fill="#d6d4ee"/><circle cx="620.2" cy="164.5" r="0.45" fill="#d6d4ee"/><circle cx="629.4" cy="164.5" r="0.45" fill="#d6d4ee"/><circle cx="638.5" cy="164.5" r="0.45" fill="#d6d4ee"/><text x="293" y="166.5" font-size="5.6" text-anchor="end" fill="#222" stroke="#222" stroke-width="0.1">RPC6</text><line x1="292.8" y1="164.5" x2="294.5" y2="164.5" stroke="#333" stroke-width="0.5"/><circle cx="300.4" cy="173.4" r="1.32" fill="#7f62f2"/><circle cx="309.5" cy="173.4" r="1.72" fill="#a48ff2"/><circle cx="318.7" cy="173.4" r="1.72" fill="#7c5ef2"/><circle cx="327.8" cy="173.4" r="1.72" fill="#7c5ef2"/><circle cx="337" cy="173.4" r="0.55" fill="#b4a8f2"/><circle cx="346.1" cy="173.4" r="0.45" fill="#d6d4ee"/><circle cx="355.2" cy="173.4" r="1.32" fill="#7f62f2"/><circle cx="364.4" cy="173.4" r="0.9" fill="#a592f2"/><circle cx="373.5" cy="173.4" r="1.72" fill="#7c5ef2"/><circle cx="382.6" cy="173.4" r="0.95" fill="#7f62f2"/><circle cx="391.8" cy="173.4" r="1.32" fill="#7f62f2"/><circle cx="400.9" cy="173.4" r="1.72" fill="#a48ff2"/><circle cx="410.1" cy="173.4" r="0.45" fill="#d6d4ee"/><circle cx="419.2" cy="173.4" r="0.45" fill="#d6d4ee"/><circle cx="428.3" cy="173.4" r="0.45" fill="#d6d4ee"/><circle cx="437.5" cy="173.4" r="0.45" fill="#d6d4ee"/><circle cx="446.6" cy="173.4" r="0.45" fill="#d6d4ee"/><circle cx="455.7" cy="173.4" r="0.55" fill="#b4a8f2"/><circle cx="464.9" cy="173.4" r="0.45" fill="#d6d4ee"/><circle cx="474" cy="173.4" r="0.45" fill="#d6d4ee"/><circle cx="483.2" cy="173.4" r="0.45" fill="#d6d4ee"/><circle cx="492.3" cy="173.4" r="0.45" fill="#d6d4ee"/><circle cx="501.4" cy="173.4" r="1.72" fill="#7c5ef2"/><circle cx="510.6" cy="173.4" r="0.9" fill="#a592f2"/><circle cx="519.7" cy="173.4" r="0.45" fill="#d6d4ee"/><circle cx="528.8" cy="173.4" r="0.45" fill="#d6d4ee"/><circle cx="538" cy="173.4" r="0.45" fill="#d6d4ee"/><circle cx="547.1" cy="173.4" r="0.45" fill="#d6d4ee"/><circle cx="556.3" cy="173.4" r="0.45" fill="#d6d4ee"/><circle cx="565.4" cy="173.4" r="0.45" fill="#d6d4ee"/><circle cx="574.5" cy="173.4" r="0.45" fill="#d6d4ee"/><circle cx="583.7" cy="173.4" r="0.45" fill="#d6d4ee"/><circle cx="592.8" cy="173.4" r="0.45" fill="#d6d4ee"/><circle cx="602" cy="173.4" r="0.45" fill="#d6d4ee"/><circle cx="611.1" cy="173.4" r="0.45" fill="#d6d4ee"/><circle cx="620.2" cy="173.4" r="0.45" fill="#d6d4ee"/><circle cx="629.4" cy="173.4" r="0.45" fill="#d6d4ee"/><circle cx="638.5" cy="173.4" r="0.45" fill="#d6d4ee"/><text x="293" y="175.4" font-size="5.6" text-anchor="end" fill="#222" stroke="#222" stroke-width="0.1">RPC5</text><line x1="292.8" y1="173.4" x2="294.5" y2="173.4" stroke="#333" stroke-width="0.5"/><circle cx="300.4" cy="182.3" r="1.72" fill="#7c5ef2"/><circle cx="309.5" cy="182.3" r="1.72" fill="#a48ff2"/><circle cx="318.7" cy="182.3" r="1.72" fill="#7c5ef2"/><circle cx="327.8" cy="182.3" r="1.72" fill="#a48ff2"/><circle cx="337" cy="182.3" r="0.45" fill="#d6d4ee"/><circle cx="346.1" cy="182.3" r="0.45" fill="#d6d4ee"/><circle cx="355.2" cy="182.3" r="1.32" fill="#7f62f2"/><circle cx="364.4" cy="182.3" r="0.9" fill="#a592f2"/><circle cx="373.5" cy="182.3" r="1.72" fill="#a48ff2"/><circle cx="382.6" cy="182.3" r="0.9" fill="#a592f2"/><circle cx="391.8" cy="182.3" r="0.9" fill="#a592f2"/><circle cx="400.9" cy="182.3" r="0.95" fill="#7f62f2"/><circle cx="410.1" cy="182.3" r="0.45" fill="#d6d4ee"/><circle cx="419.2" cy="182.3" r="0.9" fill="#a592f2"/><circle cx="428.3" cy="182.3" r="0.45" fill="#d6d4ee"/><circle cx="437.5" cy="182.3" r="0.45" fill="#d6d4ee"/><circle cx="446.6" cy="182.3" r="0.45" fill="#d6d4ee"/><circle cx="455.7" cy="182.3" r="0.45" fill="#d6d4ee"/><circle cx="464.9" cy="182.3" r="0.45" fill="#d6d4ee"/><circle cx="474" cy="182.3" r="0.45" fill="#d6d4ee"/><circle cx="483.2" cy="182.3" r="0.45" fill="#d6d4ee"/><circle cx="492.3" cy="182.3" r="0.45" fill="#d6d4ee"/><circle cx="501.4" cy="182.3" r="0.9" fill="#a592f2"/><circle cx="510.6" cy="182.3" r="0.45" fill="#d6d4ee"/><circle cx="519.7" cy="182.3" r="0.45" fill="#d6d4ee"/><circle cx="528.8" cy="182.3" r="0.45" fill="#d6d4ee"/><circle cx="538" cy="182.3" r="0.45" fill="#d6d4ee"/><circle cx="547.1" cy="182.3" r="0.45" fill="#d6d4ee"/><circle cx="556.3" cy="182.3" r="0.45" fill="#d6d4ee"/><circle cx="565.4" cy="182.3" r="0.45" fill="#d6d4ee"/><circle cx="574.5" cy="182.3" r="0.45" fill="#d6d4ee"/><circle cx="583.7" cy="182.3" r="0.45" fill="#d6d4ee"/><circle cx="592.8" cy="182.3" r="0.45" fill="#d6d4ee"/><circle cx="602" cy="182.3" r="0.45" fill="#d6d4ee"/><circle cx="611.1" cy="182.3" r="0.45" fill="#d6d4ee"/><circle cx="620.2" cy="182.3" r="0.45" fill="#d6d4ee"/><circle cx="629.4" cy="182.3" r="0.45" fill="#d6d4ee"/><circle cx="638.5" cy="182.3" r="0.45" fill="#d6d4ee"/><text x="293" y="184.3" font-size="5.6" text-anchor="end" fill="#222" stroke="#222" stroke-width="0.1">RPC4</text><line x1="292.8" y1="182.3" x2="294.5" y2="182.3" stroke="#333" stroke-width="0.5"/><circle cx="300.4" cy="191.3" r="1.32" fill="#7f62f2"/><circle cx="309.5" cy="191.3" r="1.72" fill="#a48ff2"/><circle cx="318.7" cy="191.3" r="1.32" fill="#7f62f2"/><circle cx="327.8" cy="191.3" r="1.32" fill="#a592f2"/><circle cx="337" cy="191.3" r="0.45" fill="#d6d4ee"/><circle cx="346.1" cy="191.3" r="0.45" fill="#d6d4ee"/><circle cx="355.2" cy="191.3" r="0.95" fill="#7f62f2"/><circle cx="364.4" cy="191.3" r="0.9" fill="#a592f2"/><circle cx="373.5" cy="191.3" r="1.32" fill="#a592f2"/><circle cx="382.6" cy="191.3" r="0.9" fill="#a592f2"/><circle cx="391.8" cy="191.3" r="0.45" fill="#d6d4ee"/><circle cx="400.9" cy="191.3" r="0.45" fill="#d6d4ee"/><circle cx="410.1" cy="191.3" r="0.45" fill="#d6d4ee"/><circle cx="419.2" cy="191.3" r="0.45" fill="#d6d4ee"/><circle cx="428.3" cy="191.3" r="0.45" fill="#d6d4ee"/><circle cx="437.5" cy="191.3" r="0.55" fill="#b4a8f2"/><circle cx="446.6" cy="191.3" r="0.45" fill="#d6d4ee"/><circle cx="455.7" cy="191.3" r="0.45" fill="#d6d4ee"/><circle cx="464.9" cy="191.3" r="0.45" fill="#d6d4ee"/><circle cx="474" cy="191.3" r="0.45" fill="#d6d4ee"/><circle cx="483.2" cy="191.3" r="0.45" fill="#d6d4ee"/><circle cx="492.3" cy="191.3" r="0.45" fill="#d6d4ee"/><circle cx="501.4" cy="191.3" r="0.55" fill="#b4a8f2"/><circle cx="510.6" cy="191.3" r="0.45" fill="#d6d4ee"/><circle cx="519.7" cy="191.3" r="0.45" fill="#d6d4ee"/><circle cx="528.8" cy="191.3" r="0.45" fill="#d6d4ee"/><circle cx="538" cy="191.3" r="0.45" fill="#d6d4ee"/><circle cx="547.1" cy="191.3" r="0.45" fill="#d6d4ee"/><circle cx="556.3" cy="191.3" r="0.55" fill="#b4a8f2"/><circle cx="565.4" cy="191.3" r="0.45" fill="#d6d4ee"/><circle cx="574.5" cy="191.3" r="0.45" fill="#d6d4ee"/><circle cx="583.7" cy="191.3" r="0.45" fill="#d6d4ee"/><circle cx="592.8" cy="191.3" r="0.45" fill="#d6d4ee"/><circle cx="602" cy="191.3" r="0.45" fill="#d6d4ee"/><circle cx="611.1" cy="191.3" r="0.45" fill="#d6d4ee"/><circle cx="620.2" cy="191.3" r="0.45" fill="#d6d4ee"/><circle cx="629.4" cy="191.3" r="0.45" fill="#d6d4ee"/><circle cx="638.5" cy="191.3" r="0.45" fill="#d6d4ee"/><text x="293" y="193.3" font-size="5.6" text-anchor="end" fill="#222" stroke="#222" stroke-width="0.1">RPC3</text><line x1="292.8" y1="191.3" x2="294.5" y2="191.3" stroke="#333" stroke-width="0.5"/><circle cx="300.4" cy="200.2" r="1.72" fill="#7c5ef2"/><circle cx="309.5" cy="200.2" r="1.32" fill="#a592f2"/><circle cx="318.7" cy="200.2" r="1.72" fill="#7c5ef2"/><circle cx="327.8" cy="200.2" r="1.72" fill="#7c5ef2"/><circle cx="337" cy="200.2" r="0.45" fill="#d6d4ee"/><circle cx="346.1" cy="200.2" r="0.45" fill="#d6d4ee"/><circle cx="355.2" cy="200.2" r="0.95" fill="#7f62f2"/><circle cx="364.4" cy="200.2" r="0.9" fill="#a592f2"/><circle cx="373.5" cy="200.2" r="1.72" fill="#7c5ef2"/><circle cx="382.6" cy="200.2" r="0.9" fill="#a592f2"/><circle cx="391.8" cy="200.2" r="0.45" fill="#d6d4ee"/><circle cx="400.9" cy="200.2" r="0.45" fill="#d6d4ee"/><circle cx="410.1" cy="200.2" r="0.45" fill="#d6d4ee"/><circle cx="419.2" cy="200.2" r="0.95" fill="#3a22ff"/><circle cx="428.3" cy="200.2" r="0.45" fill="#d6d4ee"/><circle cx="437.5" cy="200.2" r="0.45" fill="#d6d4ee"/><circle cx="446.6" cy="200.2" r="0.45" fill="#d6d4ee"/><circle cx="455.7" cy="200.2" r="0.45" fill="#d6d4ee"/><circle cx="464.9" cy="200.2" r="0.45" fill="#d6d4ee"/><circle cx="474" cy="200.2" r="0.45" fill="#d6d4ee"/><circle cx="483.2" cy="200.2" r="0.45" fill="#d6d4ee"/><circle cx="492.3" cy="200.2" r="0.45" fill="#d6d4ee"/><circle cx="501.4" cy="200.2" r="0.55" fill="#b4a8f2"/><circle cx="510.6" cy="200.2" r="0.45" fill="#d6d4ee"/><circle cx="519.7" cy="200.2" r="0.45" fill="#d6d4ee"/><circle cx="528.8" cy="200.2" r="0.45" fill="#d6d4ee"/><circle cx="538" cy="200.2" r="0.45" fill="#d6d4ee"/><circle cx="547.1" cy="200.2" r="0.45" fill="#d6d4ee"/><circle cx="556.3" cy="200.2" r="0.45" fill="#d6d4ee"/><circle cx="565.4" cy="200.2" r="0.45" fill="#d6d4ee"/><circle cx="574.5" cy="200.2" r="0.45" fill="#d6d4ee"/><circle cx="583.7" cy="200.2" r="0.45" fill="#d6d4ee"/><circle cx="592.8" cy="200.2" r="0.45" fill="#d6d4ee"/><circle cx="602" cy="200.2" r="0.45" fill="#d6d4ee"/><circle cx="611.1" cy="200.2" r="0.45" fill="#d6d4ee"/><circle cx="620.2" cy="200.2" r="0.45" fill="#d6d4ee"/><circle cx="629.4" cy="200.2" r="0.45" fill="#d6d4ee"/><circle cx="638.5" cy="200.2" r="0.45" fill="#d6d4ee"/><text x="293" y="202.2" font-size="5.6" text-anchor="end" fill="#222" stroke="#222" stroke-width="0.1">RPC2</text><line x1="292.8" y1="200.2" x2="294.5" y2="200.2" stroke="#333" stroke-width="0.5"/><circle cx="300.4" cy="209.1" r="0.95" fill="#7f62f2"/><circle cx="309.5" cy="209.1" r="1.72" fill="#7c5ef2"/><circle cx="318.7" cy="209.1" r="1.32" fill="#7f62f2"/><circle cx="327.8" cy="209.1" r="1.72" fill="#7c5ef2"/><circle cx="337" cy="209.1" r="0.45" fill="#d6d4ee"/><circle cx="346.1" cy="209.1" r="0.45" fill="#d6d4ee"/><circle cx="355.2" cy="209.1" r="0.95" fill="#7f62f2"/><circle cx="364.4" cy="209.1" r="0.55" fill="#b4a8f2"/><circle cx="373.5" cy="209.1" r="1.72" fill="#7c5ef2"/><circle cx="382.6" cy="209.1" r="0.95" fill="#7f62f2"/><circle cx="391.8" cy="209.1" r="0.45" fill="#d6d4ee"/><circle cx="400.9" cy="209.1" r="0.55" fill="#b4a8f2"/><circle cx="410.1" cy="209.1" r="0.45" fill="#d6d4ee"/><circle cx="419.2" cy="209.1" r="0.55" fill="#b4a8f2"/><circle cx="428.3" cy="209.1" r="0.45" fill="#d6d4ee"/><circle cx="437.5" cy="209.1" r="0.45" fill="#d6d4ee"/><circle cx="446.6" cy="209.1" r="0.45" fill="#d6d4ee"/><circle cx="455.7" cy="209.1" r="0.45" fill="#d6d4ee"/><circle cx="464.9" cy="209.1" r="0.45" fill="#d6d4ee"/><circle cx="474" cy="209.1" r="0.45" fill="#d6d4ee"/><circle cx="483.2" cy="209.1" r="0.45" fill="#d6d4ee"/><circle cx="492.3" cy="209.1" r="0.45" fill="#d6d4ee"/><circle cx="501.4" cy="209.1" r="0.9" fill="#a592f2"/><circle cx="510.6" cy="209.1" r="0.45" fill="#d6d4ee"/><circle cx="519.7" cy="209.1" r="0.45" fill="#d6d4ee"/><circle cx="528.8" cy="209.1" r="0.45" fill="#d6d4ee"/><circle cx="538" cy="209.1" r="0.45" fill="#d6d4ee"/><circle cx="547.1" cy="209.1" r="0.45" fill="#d6d4ee"/><circle cx="556.3" cy="209.1" r="0.45" fill="#d6d4ee"/><circle cx="565.4" cy="209.1" r="0.45" fill="#d6d4ee"/><circle cx="574.5" cy="209.1" r="0.45" fill="#d6d4ee"/><circle cx="583.7" cy="209.1" r="0.45" fill="#d6d4ee"/><circle cx="592.8" cy="209.1" r="0.45" fill="#d6d4ee"/><circle cx="602" cy="209.1" r="0.45" fill="#d6d4ee"/><circle cx="611.1" cy="209.1" r="0.45" fill="#d6d4ee"/><circle cx="620.2" cy="209.1" r="0.45" fill="#d6d4ee"/><circle cx="629.4" cy="209.1" r="0.45" fill="#d6d4ee"/><circle cx="638.5" cy="209.1" r="0.45" fill="#d6d4ee"/><text x="293" y="211.1" font-size="5.6" text-anchor="end" fill="#222" stroke="#222" stroke-width="0.1">RPC1</text><line x1="292.8" y1="209.1" x2="294.5" y2="209.1" stroke="#333" stroke-width="0.5"/><line x1="294.5" y1="70" x2="294.5" y2="214.5" stroke="#777" stroke-width="0.9"/><line x1="294" y1="214" x2="644" y2="214" stroke="#777" stroke-width="0.9"/><line x1="300.4" y1="214.5" x2="300.4" y2="216" stroke="#333" stroke-width="0.5"/><text x="0" y="0" font-size="5.6" text-anchor="end" fill="#222" transform="translate(303.7,219.6) rotate(-45)" stroke="#222" stroke-width="0.1">LHX2</text><line x1="309.5" y1="214.5" x2="309.5" y2="216" stroke="#333" stroke-width="0.5"/><text x="0" y="0" font-size="5.6" text-anchor="end" fill="#222" transform="translate(312.8,219.6) rotate(-45)" stroke="#222" stroke-width="0.1">PAX6</text><line x1="318.7" y1="214.5" x2="318.7" y2="216" stroke="#333" stroke-width="0.5"/><text x="0" y="0" font-size="5.6" text-anchor="end" fill="#222" transform="translate(322,219.6) rotate(-45)" stroke="#222" stroke-width="0.1">RAX</text><line x1="327.8" y1="214.5" x2="327.8" y2="216" stroke="#333" stroke-width="0.5"/><text x="0" y="0" font-size="5.6" text-anchor="end" fill="#222" transform="translate(331.1,219.6) rotate(-45)" stroke="#222" stroke-width="0.1">SIX3</text><line x1="337" y1="214.5" x2="337" y2="216" stroke="#333" stroke-width="0.5"/><text x="0" y="0" font-size="5.6" text-anchor="end" fill="#222" transform="translate(340.3,219.6) rotate(-45)" stroke="#222" stroke-width="0.1">ELAVL3</text><line x1="346.1" y1="214.5" x2="346.1" y2="216" stroke="#333" stroke-width="0.5"/><text x="0" y="0" font-size="5.6" text-anchor="end" fill="#222" transform="translate(349.4,219.6) rotate(-45)" stroke="#222" stroke-width="0.1">RCVRN</text><line x1="355.2" y1="214.5" x2="355.2" y2="216" stroke="#333" stroke-width="0.5"/><text x="0" y="0" font-size="5.6" text-anchor="end" fill="#222" transform="translate(358.5,219.6) rotate(-45)" stroke="#222" stroke-width="0.1">VSX2</text><line x1="364.4" y1="214.5" x2="364.4" y2="216" stroke="#333" stroke-width="0.5"/><text x="0" y="0" font-size="5.6" text-anchor="end" fill="#222" transform="translate(367.7,219.6) rotate(-45)" stroke="#222" stroke-width="0.1">MAP2</text><line x1="373.5" y1="214.5" x2="373.5" y2="216" stroke="#333" stroke-width="0.5"/><text x="0" y="0" font-size="5.6" text-anchor="end" fill="#222" transform="translate(376.8,219.6) rotate(-45)" stroke="#222" stroke-width="0.1">SOX2</text><line x1="382.6" y1="214.5" x2="382.6" y2="216" stroke="#333" stroke-width="0.5"/><text x="0" y="0" font-size="5.6" text-anchor="end" fill="#222" transform="translate(385.9,219.6) rotate(-45)" stroke="#222" stroke-width="0.1">NES</text><line x1="391.8" y1="214.5" x2="391.8" y2="216" stroke="#333" stroke-width="0.5"/><text x="0" y="0" font-size="5.6" text-anchor="end" fill="#222" transform="translate(395.1,219.6) rotate(-45)" stroke="#222" stroke-width="0.1">MKI67</text><line x1="400.9" y1="214.5" x2="400.9" y2="216" stroke="#333" stroke-width="0.5"/><text x="0" y="0" font-size="5.6" text-anchor="end" fill="#222" transform="translate(404.2,219.6) rotate(-45)" stroke="#222" stroke-width="0.1">TOP2A</text><line x1="410.1" y1="214.5" x2="410.1" y2="216" stroke="#333" stroke-width="0.5"/><text x="0" y="0" font-size="5.6" text-anchor="end" fill="#222" transform="translate(413.4,219.6) rotate(-45)" stroke="#222" stroke-width="0.1">RLBP1</text><line x1="419.2" y1="214.5" x2="419.2" y2="216" stroke="#333" stroke-width="0.5"/><text x="0" y="0" font-size="5.6" text-anchor="end" fill="#222" transform="translate(422.5,219.6) rotate(-45)" stroke="#222" stroke-width="0.1">PAX2</text><line x1="428.3" y1="214.5" x2="428.3" y2="216" stroke="#333" stroke-width="0.5"/><text x="0" y="0" font-size="5.6" text-anchor="end" fill="#222" transform="translate(431.6,219.6) rotate(-45)" stroke="#222" stroke-width="0.1">GFAP</text><line x1="437.5" y1="214.5" x2="437.5" y2="216" stroke="#333" stroke-width="0.5"/><text x="0" y="0" font-size="5.6" text-anchor="end" fill="#222" transform="translate(440.8,219.6) rotate(-45)" stroke="#222" stroke-width="0.1">CRYBB1</text><line x1="446.6" y1="214.5" x2="446.6" y2="216" stroke="#333" stroke-width="0.5"/><text x="0" y="0" font-size="5.6" text-anchor="end" fill="#222" transform="translate(449.9,219.6) rotate(-45)" stroke="#222" stroke-width="0.1">SOX1</text><line x1="455.7" y1="214.5" x2="455.7" y2="216" stroke="#333" stroke-width="0.5"/><text x="0" y="0" font-size="5.6" text-anchor="end" fill="#222" transform="translate(459,219.6) rotate(-45)" stroke="#222" stroke-width="0.1">FOXG1</text><line x1="464.9" y1="214.5" x2="464.9" y2="216" stroke="#333" stroke-width="0.5"/><text x="0" y="0" font-size="5.6" text-anchor="end" fill="#222" transform="translate(468.2,219.6) rotate(-45)" stroke="#222" stroke-width="0.1">ELAVL4</text><line x1="474" y1="214.5" x2="474" y2="216" stroke="#333" stroke-width="0.5"/><text x="0" y="0" font-size="5.6" text-anchor="end" fill="#222" transform="translate(477.3,219.6) rotate(-45)" stroke="#222" stroke-width="0.1">DLX6</text><line x1="483.2" y1="214.5" x2="483.2" y2="216" stroke="#333" stroke-width="0.5"/><text x="0" y="0" font-size="5.6" text-anchor="end" fill="#222" transform="translate(486.5,219.6) rotate(-45)" stroke="#222" stroke-width="0.1">GDF7</text><line x1="492.3" y1="214.5" x2="492.3" y2="216" stroke="#333" stroke-width="0.5"/><text x="0" y="0" font-size="5.6" text-anchor="end" fill="#222" transform="translate(495.6,219.6) rotate(-45)" stroke="#222" stroke-width="0.1">LMX1A</text><line x1="501.4" y1="214.5" x2="501.4" y2="216" stroke="#333" stroke-width="0.5"/><text x="0" y="0" font-size="5.6" text-anchor="end" fill="#222" transform="translate(504.7,219.6) rotate(-45)" stroke="#222" stroke-width="0.1">HES6</text><line x1="510.6" y1="214.5" x2="510.6" y2="216" stroke="#333" stroke-width="0.5"/><text x="0" y="0" font-size="5.6" text-anchor="end" fill="#222" transform="translate(513.9,219.6) rotate(-45)" stroke="#222" stroke-width="0.1">ATOH7</text><line x1="519.7" y1="214.5" x2="519.7" y2="216" stroke="#333" stroke-width="0.5"/><text x="0" y="0" font-size="5.6" text-anchor="end" fill="#222" transform="translate(523,219.6) rotate(-45)" stroke="#222" stroke-width="0.1">POU4F2</text><line x1="528.8" y1="214.5" x2="528.8" y2="216" stroke="#333" stroke-width="0.5"/><text x="0" y="0" font-size="5.6" text-anchor="end" fill="#222" transform="translate(532.1,219.6) rotate(-45)" stroke="#222" stroke-width="0.1">ISL1</text><line x1="538" y1="214.5" x2="538" y2="216" stroke="#333" stroke-width="0.5"/><text x="0" y="0" font-size="5.6" text-anchor="end" fill="#222" transform="translate(541.3,219.6) rotate(-45)" stroke="#222" stroke-width="0.1">PRDM13</text><line x1="547.1" y1="214.5" x2="547.1" y2="216" stroke="#333" stroke-width="0.5"/><text x="0" y="0" font-size="5.6" text-anchor="end" fill="#222" transform="translate(550.4,219.6) rotate(-45)" stroke="#222" stroke-width="0.1">TFAP2A</text><line x1="556.3" y1="214.5" x2="556.3" y2="216" stroke="#333" stroke-width="0.5"/><text x="0" y="0" font-size="5.6" text-anchor="end" fill="#222" transform="translate(559.6,219.6) rotate(-45)" stroke="#222" stroke-width="0.1">PROX1</text><line x1="565.4" y1="214.5" x2="565.4" y2="216" stroke="#333" stroke-width="0.5"/><text x="0" y="0" font-size="5.6" text-anchor="end" fill="#222" transform="translate(568.7,219.6) rotate(-45)" stroke="#222" stroke-width="0.1">ONECUT1</text><line x1="574.5" y1="214.5" x2="574.5" y2="216" stroke="#333" stroke-width="0.5"/><text x="0" y="0" font-size="5.6" text-anchor="end" fill="#222" transform="translate(577.8,219.6) rotate(-45)" stroke="#222" stroke-width="0.1">CRX</text><line x1="583.7" y1="214.5" x2="583.7" y2="216" stroke="#333" stroke-width="0.5"/><text x="0" y="0" font-size="5.6" text-anchor="end" fill="#222" transform="translate(587,219.6) rotate(-45)" stroke="#222" stroke-width="0.1">OTX2</text><line x1="592.8" y1="214.5" x2="592.8" y2="216" stroke="#333" stroke-width="0.5"/><text x="0" y="0" font-size="5.6" text-anchor="end" fill="#222" transform="translate(596.1,219.6) rotate(-45)" stroke="#222" stroke-width="0.1">ARR3</text><line x1="602" y1="214.5" x2="602" y2="216" stroke="#333" stroke-width="0.5"/><text x="0" y="0" font-size="5.6" text-anchor="end" fill="#222" transform="translate(605.3,219.6) rotate(-45)" stroke="#222" stroke-width="0.1">OPN1SW</text><line x1="611.1" y1="214.5" x2="611.1" y2="216" stroke="#333" stroke-width="0.5"/><text x="0" y="0" font-size="5.6" text-anchor="end" fill="#222" transform="translate(614.4,219.6) rotate(-45)" stroke="#222" stroke-width="0.1">NRL</text><line x1="620.2" y1="214.5" x2="620.2" y2="216" stroke="#333" stroke-width="0.5"/><text x="0" y="0" font-size="5.6" text-anchor="end" fill="#222" transform="translate(623.5,219.6) rotate(-45)" stroke="#222" stroke-width="0.1">VSX1</text><line x1="629.4" y1="214.5" x2="629.4" y2="216" stroke="#333" stroke-width="0.5"/><text x="0" y="0" font-size="5.6" text-anchor="end" fill="#222" transform="translate(632.7,219.6) rotate(-45)" stroke="#222" stroke-width="0.1">GRM6</text><line x1="638.5" y1="214.5" x2="638.5" y2="216" stroke="#333" stroke-width="0.5"/><text x="0" y="0" font-size="5.6" text-anchor="end" fill="#222" transform="translate(641.8,219.6) rotate(-45)" stroke="#222" stroke-width="0.1">GRIK1</text><text x="469.9" y="245.5" font-size="8.2" text-anchor="middle">Features</text><text x="0" y="0" font-size="8.6" text-anchor="middle" transform="translate(266,142) rotate(-90)">Identity</text><text x="648" y="116.2" font-size="4" fill="#222" stroke="#222" stroke-width="0.1">Percent Expressed</text><circle cx="650.2" cy="121" r="0.3" fill="#000"/><text x="654.2" y="123.1" font-size="6" stroke="#000" stroke-width="0.1">0</text><circle cx="650.2" cy="126.6" r="0.7" fill="#000"/><text x="654.2" y="128.7" font-size="6" stroke="#000" stroke-width="0.1">25</text><circle cx="650.2" cy="132" r="1.1" fill="#000"/><text x="654.2" y="134.1" font-size="6" stroke="#000" stroke-width="0.1">50</text><circle cx="650.2" cy="137.5" r="1.5" fill="#000"/><text x="654.2" y="139.6" font-size="6" stroke="#000" stroke-width="0.1">75</text><text x="648" y="147.8" font-size="4" fill="#222" stroke="#222" stroke-width="0.1">Average Expression</text><rect x="648" y="150.1" width="4.3" height="21.5" fill="url(#gB)"/><text x="654" y="154.7" font-size="5.5" stroke="#000" stroke-width="0.1">2</text><text x="654" y="159.4" font-size="5.5" stroke="#000" stroke-width="0.1">1</text><text x="654" y="164.6" font-size="5.5" stroke="#000" stroke-width="0.1">0</text><text x="654" y="169.8" font-size="5.5" stroke="#000" stroke-width="0.1">-1</text><circle cx="519.6" cy="303.7" r="0.45" fill="#d6d4ee"/><circle cx="553.6" cy="303.7" r="0.45" fill="#d6d4ee"/><circle cx="587.6" cy="303.7" r="0.45" fill="#d6d4ee"/><circle cx="621.6" cy="303.7" r="0.45" fill="#d6d4ee"/><text x="497.2" y="305.8" font-size="6.0" text-anchor="end" fill="#333" stroke="#333" stroke-width="0.1">BIPOLAR</text><line x1="497.5" y1="303.7" x2="499.2" y2="303.7" stroke="#333" stroke-width="0.5"/><circle cx="519.6" cy="314.2" r="0.6" fill="#b4a8f2"/><circle cx="553.6" cy="314.2" r="0.6" fill="#b4a8f2"/><circle cx="587.6" cy="314.2" r="0.45" fill="#d6d4ee"/><circle cx="621.6" cy="314.2" r="0.45" fill="#d6d4ee"/><text x="497.2" y="316.3" font-size="6.0" text-anchor="end" fill="#333" stroke="#333" stroke-width="0.1">ROD</text><line x1="497.5" y1="314.2" x2="499.2" y2="314.2" stroke="#333" stroke-width="0.5"/><circle cx="519.6" cy="324.7" r="0.9" fill="#a592f2"/><circle cx="553.6" cy="324.7" r="0.45" fill="#d6d4ee"/><circle cx="587.6" cy="324.7" r="0.45" fill="#d6d4ee"/><circle cx="621.6" cy="324.7" r="0.45" fill="#d6d4ee"/><text x="497.2" y="326.8" font-size="6.0" text-anchor="end" fill="#333" stroke="#333" stroke-width="0.1">CONE</text><line x1="497.5" y1="324.7" x2="499.2" y2="324.7" stroke="#333" stroke-width="0.5"/><circle cx="519.6" cy="335.2" r="0.45" fill="#d6d4ee"/><circle cx="553.6" cy="335.2" r="0.45" fill="#d6d4ee"/><circle cx="587.6" cy="335.2" r="0.45" fill="#d6d4ee"/><circle cx="621.6" cy="335.2" r="0.6" fill="#b4a8f2"/><text x="497.2" y="337.3" font-size="6.0" text-anchor="end" fill="#333" stroke="#333" stroke-width="0.1">HOR</text><line x1="497.5" y1="335.2" x2="499.2" y2="335.2" stroke="#333" stroke-width="0.5"/><circle cx="519.6" cy="345.7" r="1.0" fill="#7f62f2"/><circle cx="553.6" cy="345.7" r="0.45" fill="#d6d4ee"/><circle cx="587.6" cy="345.7" r="0.45" fill="#d6d4ee"/><circle cx="621.6" cy="345.7" r="0.45" fill="#d6d4ee"/><text x="497.2" y="347.8" font-size="6.0" text-anchor="end" fill="#333" stroke="#333" stroke-width="0.1">Npre</text><line x1="497.5" y1="345.7" x2="499.2" y2="345.7" stroke="#333" stroke-width="0.5"/><circle cx="519.6" cy="356.2" r="0.6" fill="#b4a8f2"/><circle cx="553.6" cy="356.2" r="0.45" fill="#d6d4ee"/><circle cx="587.6" cy="356.2" r="0.45" fill="#d6d4ee"/><circle cx="621.6" cy="356.2" r="0.45" fill="#d6d4ee"/><text x="497.2" y="358.3" font-size="6.0" text-anchor="end" fill="#333" stroke="#333" stroke-width="0.1">ECTO2</text><line x1="497.5" y1="356.2" x2="499.2" y2="356.2" stroke="#333" stroke-width="0.5"/><circle cx="519.6" cy="366.7" r="0.9" fill="#a592f2"/><circle cx="553.6" cy="366.7" r="0.9" fill="#a592f2"/><circle cx="587.6" cy="366.7" r="1.0" fill="#7f62f2"/><circle cx="621.6" cy="366.7" r="0.45" fill="#d6d4ee"/><text x="497.2" y="368.8" font-size="6.0" text-anchor="end" fill="#333" stroke="#333" stroke-width="0.1">ECTO1</text><line x1="497.5" y1="366.7" x2="499.2" y2="366.7" stroke="#333" stroke-width="0.5"/><circle cx="519.6" cy="377.2" r="0.6" fill="#b4a8f2"/><circle cx="553.6" cy="377.2" r="0.45" fill="#d6d4ee"/><circle cx="587.6" cy="377.2" r="0.6" fill="#b4a8f2"/><circle cx="621.6" cy="377.2" r="0.45" fill="#d6d4ee"/><text x="497.2" y="379.3" font-size="6.0" text-anchor="end" fill="#333" stroke="#333" stroke-width="0.1">LENS</text><line x1="497.5" y1="377.2" x2="499.2" y2="377.2" stroke="#333" stroke-width="0.5"/><circle cx="519.6" cy="387.7" r="2.4" fill="#1a08ff"/><circle cx="553.6" cy="387.7" r="2.65" fill="#0c00ff"/><circle cx="587.6" cy="387.7" r="0.6" fill="#b4a8f2"/><circle cx="621.6" cy="387.7" r="0.45" fill="#d6d4ee"/><text x="497.2" y="389.8" font-size="6.0" text-anchor="end" fill="#333" stroke="#333" stroke-width="0.1">MULLER</text><line x1="497.5" y1="387.7" x2="499.2" y2="387.7" stroke="#333" stroke-width="0.5"/><circle cx="519.6" cy="398.2" r="0.9" fill="#a592f2"/><circle cx="553.6" cy="398.2" r="0.6" fill="#b4a8f2"/><circle cx="587.6" cy="398.2" r="1.0" fill="#7f62f2"/><circle cx="621.6" cy="398.2" r="0.45" fill="#d6d4ee"/><text x="497.2" y="400.3" font-size="6.0" text-anchor="end" fill="#333" stroke="#333" stroke-width="0.1">RPC7</text><line x1="497.5" y1="398.2" x2="499.2" y2="398.2" stroke="#333" stroke-width="0.5"/><circle cx="519.6" cy="408.7" r="1.0" fill="#7f62f2"/><circle cx="553.6" cy="408.7" r="1.0" fill="#7f62f2"/><circle cx="587.6" cy="408.7" r="1.0" fill="#7f62f2"/><circle cx="621.6" cy="408.7" r="0.45" fill="#d6d4ee"/><text x="497.2" y="410.8" font-size="6.0" text-anchor="end" fill="#333" stroke="#333" stroke-width="0.1">RPC6</text><line x1="497.5" y1="408.7" x2="499.2" y2="408.7" stroke="#333" stroke-width="0.5"/><circle cx="519.6" cy="419.2" r="2.3" fill="#6a4af6"/><circle cx="553.6" cy="419.2" r="0.6" fill="#b4a8f2"/><circle cx="587.6" cy="419.2" r="1.1" fill="#3a22ff"/><circle cx="621.6" cy="419.2" r="0.6" fill="#b4a8f2"/><text x="497.2" y="421.3" font-size="6.0" text-anchor="end" fill="#333" stroke="#333" stroke-width="0.1">RPC5</text><line x1="497.5" y1="419.2" x2="499.2" y2="419.2" stroke="#333" stroke-width="0.5"/><circle cx="519.6" cy="429.7" r="0.6" fill="#b4a8f2"/><circle cx="553.6" cy="429.7" r="0.9" fill="#a592f2"/><circle cx="587.6" cy="429.7" r="0.9" fill="#a592f2"/><circle cx="621.6" cy="429.7" r="0.45" fill="#d6d4ee"/><text x="497.2" y="431.8" font-size="6.0" text-anchor="end" fill="#333" stroke="#333" stroke-width="0.1">RPC4</text><line x1="497.5" y1="429.7" x2="499.2" y2="429.7" stroke="#333" stroke-width="0.5"/><circle cx="519.6" cy="440.2" r="0.6" fill="#b4a8f2"/><circle cx="553.6" cy="440.2" r="0.6" fill="#b4a8f2"/><circle cx="587.6" cy="440.2" r="0.9" fill="#a592f2"/><circle cx="621.6" cy="440.2" r="0.45" fill="#d6d4ee"/><text x="497.2" y="442.3" font-size="6.0" text-anchor="end" fill="#333" stroke="#333" stroke-width="0.1">RPC3</text><line x1="497.5" y1="440.2" x2="499.2" y2="440.2" stroke="#333" stroke-width="0.5"/><circle cx="519.6" cy="450.7" r="0.45" fill="#d6d4ee"/><circle cx="553.6" cy="450.7" r="0.6" fill="#b4a8f2"/><circle cx="587.6" cy="450.7" r="0.6" fill="#b4a8f2"/><circle cx="621.6" cy="450.7" r="0.45" fill="#d6d4ee"/><text x="497.2" y="452.8" font-size="6.0" text-anchor="end" fill="#333" stroke="#333" stroke-width="0.1">RPC2</text><line x1="497.5" y1="450.7" x2="499.2" y2="450.7" stroke="#333" stroke-width="0.5"/><circle cx="519.6" cy="461.2" r="1.6" fill="#7f62f2"/><circle cx="553.6" cy="461.2" r="0.6" fill="#b4a8f2"/><circle cx="587.6" cy="461.2" r="0.9" fill="#a592f2"/><circle cx="621.6" cy="461.2" r="0.45" fill="#d6d4ee"/><text x="497.2" y="463.3" font-size="6.0" text-anchor="end" fill="#333" stroke="#333" stroke-width="0.1">RPC1</text><line x1="497.5" y1="461.2" x2="499.2" y2="461.2" stroke="#333" stroke-width="0.5"/><line x1="499.2" y1="297.9" x2="499.2" y2="469" stroke="#777" stroke-width="0.9"/><line x1="498.7" y1="468.5" x2="642" y2="468.5" stroke="#777" stroke-width="0.9"/><line x1="519.6" y1="469" x2="519.6" y2="470.5" stroke="#333" stroke-width="0.5"/><text x="519.6" y="474.5" font-size="5.8" text-anchor="middle" fill="#333" stroke="#333" stroke-width="0.1">NOTCH1</text><line x1="553.6" y1="469" x2="553.6" y2="470.5" stroke="#333" stroke-width="0.5"/><text x="553.6" y="474.5" font-size="5.8" text-anchor="middle" fill="#333" stroke="#333" stroke-width="0.1">NOTCH2</text><line x1="587.6" y1="469" x2="587.6" y2="470.5" stroke="#333" stroke-width="0.5"/><text x="587.6" y="474.5" font-size="5.8" text-anchor="middle" fill="#333" stroke="#333" stroke-width="0.1">NOTCH3</text><line x1="621.6" y1="469" x2="621.6" y2="470.5" stroke="#333" stroke-width="0.5"/><text x="621.6" y="474.5" font-size="5.8" text-anchor="middle" fill="#333" stroke="#333" stroke-width="0.1">NOTCH4</text><text x="570.8" y="483.4" font-size="8.9" text-anchor="middle">Features</text><text x="0" y="0" font-size="8.7" text-anchor="middle" transform="translate(469,382.8) rotate(-90)">Identity</text><text x="645.6" y="355.2" font-size="3.8" fill="#222" stroke="#222" stroke-width="0.1">Percent Expressed</text><circle cx="648.9" cy="360.7" r="0.5" fill="#000"/><text x="653.8" y="362.7" font-size="5.5" stroke="#000" stroke-width="0.1">10</text><circle cx="648.9" cy="366.6" r="0.9" fill="#000"/><text x="653.8" y="368.6" font-size="5.5" stroke="#000" stroke-width="0.1">20</text><circle cx="648.9" cy="372.5" r="1.3" fill="#000"/><text x="653.8" y="374.5" font-size="5.5" stroke="#000" stroke-width="0.1">30</text><circle cx="648.9" cy="378.1" r="1.7" fill="#000"/><text x="653.8" y="380.1" font-size="5.5" stroke="#000" stroke-width="0.1">40</text><text x="645.6" y="388.7" font-size="3.8" fill="#222" stroke="#222" stroke-width="0.1">Average Expression</text><rect x="645.6" y="391.3" width="4.9" height="23" fill="url(#gB)"/><text x="652" y="396.5" font-size="5.5" stroke="#000" stroke-width="0.1">2</text><text x="652" y="402.1" font-size="5.5" stroke="#000" stroke-width="0.1">1</text><text x="652" y="408" font-size="5.5" stroke="#000" stroke-width="0.1">0</text><text x="652" y="414" font-size="5.5" stroke="#000" stroke-width="0.1">-1</text><g filter="url(#bl1)"><path d="M132 363.5L137.5 367.7L142.4 373.3L144.2 379.2L142.6 387.1L139.4 392.9L133.4 394L126.4 391.5L119.4 386.4L116 379.6L117.4 372.8L122.2 370.3L127.8 367.7Z" fill="#CD9600" fill-opacity="0.22"/><path d="M113.9 383L120.8 383L129.2 386.4L136.2 388.1L139.6 393.2L138.5 401.1L133.9 408.9L129.3 414.5L124.7 415.1L120.1 411.7L116.5 405.6L114.2 397.7L113.5 389.8Z" fill="#7CAE00" fill-opacity="0.22"/><path d="M113.6 335.5L116 331.3L120.8 333.8L126.5 342.3L130.6 351.6L134.1 360.1L136.2 366L132 369.4L125.7 372L119.4 374.5L116 371.1L113.2 359.3L111.4 346.6Z" fill="#0CB702" fill-opacity="0.18"/><path d="M109.1 432.5L112.8 428L117.4 426.9L122 429.1L125.6 424.6L128.4 428L130.2 433.6L129.3 439.2L125.6 442.6L121 442L118.3 438.1L114.6 433.6Z" fill="#8494FF" fill-opacity="0.26"/><path d="M103.2 321.5L110.4 320.5L116 323.4L118.5 329.3L116.9 335.2L114.4 339.1L109.6 340L104.8 337.1L102.4 331.3Z" fill="#C77CFF" fill-opacity="0.22"/><path d="M84.5 448.3L90.2 444.4L96.5 446.6L97.2 453.3L90.9 455.9L84.6 455.2Z" fill="#FF68A1" fill-opacity="0.16"/><path d="M85.2 314.1L90.4 313.1L98.5 314.5L103.3 317.5L105.7 321.4L102.5 323.3L98.5 321.4L93.7 320.5L91.3 322.4L88.1 325.4L84 325.4L84 321.4Z" fill="#00B8E7" fill-opacity="0.30"/></g><g filter="url(#bl0)"><path d="M87.1 369h0M103.4 404.9h0M85.8 362.3h0M87.4 372.3h0M98.4 400.5h0M86.5 362.2h0M94.4 390.4h0M99.4 393.2h0M102.4 400.3h0M95.1 395.6h0M94.5 394.7h0M96.5 372.6h0M100.3 386.2h0M102.8 395.3h0M88.6 365h0M93.4 366.1h0M99.2 375.7h0M93 371h0" stroke="#F8766D" stroke-width="0.75" stroke-linecap="round"/><path d="M81.6 414.5h0M77.3 440.4h0M76.4 427.8h0M82.3 448.6h0M89.7 417.5h0M85.2 422.3h0M77.9 454.8h0M85.4 427.5h0M82.5 426.5h0M79.6 428h0M86.6 437.2h0M79.2 425.1h0M85.2 443.6h0M77.8 453.4h0M87.5 441.5h0M82 424.1h0M82.1 426.6h0M79.7 432.5h0M83.4 435h0M83.6 418.4h0M78.9 428.9h0M88.8 428.2h0M78.9 441.5h0M83.7 425h0M84.5 429.2h0M77.7 424.3h0M83.4 417.3h0M87.4 438.5h0M83.6 435.3h0M79.2 420.2h0M88.7 420.2h0M80.8 430.7h0M75.5 452.3h0M84.1 424.8h0M79.7 451.2h0M73.2 453.1h0M77.4 452.2h0M84.1 416.1h0M88.6 431.3h0M82.3 419h0M79.4 416h0M86.2 419.3h0M77.7 419.2h0M76.8 447.7h0M87.8 418.8h0M76 442.3h0M80.8 432.4h0M81 431.5h0M84.4 434.8h0M86.8 432.4h0M79 429.3h0M74.6 449.4h0M85.6 425.7h0M87.1 432.9h0M82.2 437.6h0M87.6 433.6h0M79 452.2h0M77.8 416.4h0M74.2 451.5h0M80.4 442.8h0M86.9 432.7h0M82 418h0M83.6 416.5h0M76.4 453.6h0M85 426.4h0M81.2 454.1h0M77.4 436.5h0M79.9 423.5h0M74.1 448.2h0M77.9 431.9h0M81.1 451.8h0M83.9 438.4h0M78.1 430.1h0M82.3 416.1h0M86.9 434.8h0M81.3 450.3h0M78.1 429.6h0" stroke="#E68613" stroke-width="0.75" stroke-linecap="round"/><path d="M129.2 381.8h0M139.5 391.6h0M134.6 365.7h0M140.8 386.6h0M132.8 365.3h0M142.6 385.1h0M126.3 372.5h0M120.7 375.2h0M123.8 376.1h0M137.5 388.3h0M122.4 382.2h0M126.1 386h0M129 366.6h0M143.9 379.2h0M132.8 382.6h0M120 385.6h0M139.3 380.2h0M130.6 367h0M132.8 374.5h0M132.3 391.3h0M134.4 386.2h0M127.7 376.4h0M122.1 377.9h0M132.9 371.9h0M120.6 379.4h0M133.2 392.2h0M122.5 385.8h0M125.8 384.7h0M131.9 393.3h0M122.3 377.2h0M139.4 386.9h0M136.8 379h0M132.7 393.6h0M134.6 370.1h0M139.8 386.3h0M141.7 382.9h0M132.4 364.5h0M138.7 390.1h0M141.7 372.7h0M132.5 371.2h0M122.9 381.7h0M124.2 377.8h0M130.1 380h0M129 387.1h0M122.3 384.8h0M138.4 378.8h0M129.6 372.7h0M127.6 391.1h0M130.3 372.3h0M131.2 379.5h0M137.9 378.6h0M136.2 366.9h0M139.9 391.3h0M140.1 382.3h0M126.9 377.6h0M119.6 384.5h0M134.8 389.5h0M130.1 385.3h0M125 378.7h0M125.7 385.6h0M139.6 377.6h0M127.8 388.8h0M135.5 387.2h0M134.1 367.9h0M133.4 377.4h0M135.1 370.1h0M137.1 380.2h0M122.4 382.2h0M134.8 376.9h0M126.9 389.3h0M135 385.2h0M138.8 378.3h0M134.2 370h0M127.1 378.3h0M141.5 381.7h0M139.3 370.1h0M125.8 387.7h0M134.3 375.2h0M122.8 375.6h0M126 381.4h0M120 382.8h0M117.7 377.1h0M124.1 387.8h0M139.2 383.6h0M132.4 372.6h0M131.9 380.7h0M130.8 384.8h0M126.1 381.7h0M140.4 387.8h0M133.4 368.4h0M126.7 382h0M129.2 371h0M135.5 381.5h0M134 380.4h0M119.6 382.1h0M118 374.9h0M126.7 377.7h0M135.1 376.6h0M129.2 379.8h0M141.5 382.7h0M130.8 390.3h0M129.7 372.9h0M130.2 367.2h0M133.6 375h0M130.1 366.3h0M139.7 390.5h0M138 382h0M136.5 391.5h0M127.8 375h0M117.6 381.7h0M135.4 386.8h0M123.3 370.7h0M139.2 377.7h0M117.6 376.8h0M127.5 374.7h0M127.5 382.6h0M138.2 372h0M124.8 381.7h0M121.3 384.5h0M124.8 387.2h0M140.5 376.8h0M133.9 370.1h0M121.8 383h0M132.3 371.7h0M129.7 383.3h0M126.5 384.6h0M142.9 376.3h0M137.1 392.6h0M136 370h0M134.4 369.9h0M120 385.9h0M122.2 384h0M136 370.4h0M119.9 377.8h0M130.6 381.5h0M132.6 389.1h0M128.6 392h0M127.8 381.5h0M128 376.6h0M127.6 390.6h0M123.1 373.5h0M135.7 372.6h0M130.3 384.4h0M135.4 374.3h0M127 391h0M135.2 392.4h0M142.9 376h0M122.7 385.7h0M118.2 380.4h0M134 378.3h0M125.9 374.7h0M133.6 378.6h0M132.3 376.3h0M134.5 365.6h0M125.9 388.8h0M125.9 378.1h0M142.5 381.1h0M140.4 372.5h0M131.9 389.7h0M139 390.7h0M128.9 388.4h0M129.5 382.7h0M136.5 376.4h0M137.7 385.3h0M126 379.5h0M143.5 381.4h0M126 376.2h0M137.9 382h0M128.4 390.3h0M130.6 383.7h0M135 388.1h0M124.1 371.2h0M131.7 379.7h0M140.2 386.6h0M122.7 375.7h0M132 392.9h0M133.2 366.6h0M139.2 380.4h0M131.6 374.8h0M124.1 377.4h0M135.7 392h0M133.9 379.1h0M138.6 380.4h0M127.7 380.4h0M134.2 390.3h0M129.6 367.3h0M132.8 368.1h0M129.9 371.2h0M123.5 382.7h0M124.9 385.1h0M136.1 390.3h0M131.7 381.6h0M118.6 377.7h0M128.7 376.5h0M125.3 375.3h0M121.1 381.7h0M133.5 385.3h0M122.8 370.3h0M120 385.3h0M132 390.1h0M116.9 375.9h0M139.9 391.8h0M135.5 381.6h0M136.3 373.3h0M124.7 383.8h0M139.3 390.3h0M131.8 391.6h0M119.1 375.6h0M136.8 373.2h0M135 390.7h0M124.4 383h0M139 390.2h0M133.7 382.9h0M126.1 385.5h0M125.3 380.4h0M136.8 378h0M129.9 370.7h0M127.5 374.5h0M131.7 381.7h0M125 386.2h0M117.8 375.7h0M120.7 382.2h0M124.5 377.3h0M139.5 381h0M120.1 376.8h0M127.9 391.9h0M141.8 388.1h0M130 372.9h0M121.3 372.9h0M126 376.6h0M122.1 377h0M138.1 369h0M131.4 385.7h0M124.2 370.8h0M136.7 375.9h0M136.1 392.7h0M125 387.9h0M130.8 367.4h0M139.4 382.2h0M137.7 369.1h0M119.9 379.6h0M131.2 389.3h0M139.8 391.5h0M122.4 383.8h0M131.8 368.5h0M134.6 386.6h0M137 377.1h0M132.7 387.6h0M123.5 380.2h0M142.2 374h0M117.4 378.7h0M139.1 381.5h0M128 388.2h0M133.4 378.6h0M122.3 386.7h0M124.2 382.8h0M120 378.4h0M123.7 382.4h0M127.7 386.2h0M130.3 366.1h0M131.2 366.8h0M119.4 384h0M132.8 372.4h0M133.9 371.2h0M138 381.2h0M128.9 367.2h0M134.5 392.1h0M135.6 384.8h0M139.7 375.4h0M135.9 390.7h0M136.8 375.2h0M134.6 391.4h0M133.8 383.5h0M137.3 388.7h0M123 387.3h0M127.6 376h0M134.5 366.3h0M138.9 370.3h0M129.8 374.7h0M134.9 389h0M126.1 390.7h0M129.7 373.1h0M117.9 378.8h0M123.9 388.6h0M130.9 374.3h0M125.2 376.9h0M130.6 389h0M135.6 376.8h0M130.8 371h0M142.4 374.6h0M131.3 384.7h0M136.5 391h0M138.2 382.3h0M135 370.9h0M125.1 383.2h0M139.3 380.5h0M130.9 387.8h0M132.6 369.9h0M128.3 390.3h0M130.3 379h0M137.9 371.8h0M132.3 381.8h0M126.2 387.3h0M133 367.7h0M119.5 378.5h0M136.2 374.3h0M129.9 378.7h0M132.1 379.1h0M131 365h0M132.5 383.3h0M135.3 377.4h0M130.7 379h0M124.1 370.8h0M142.2 377.7h0M138.9 375.8h0M136 389.6h0M135.9 368.6h0M125 390h0M142.6 379.5h0M130.2 377.1h0M129.7 369.2h0M120.9 373.9h0M130.1 377.2h0M136.6 385.4h0M131.7 369.7h0M131.2 365.6h0M137 369.1h0M131.4 369.7h0M141.8 381.4h0M130 393.7h0M136.8 393.3h0M136.4 393.9h0M136.6 394.1h0M133.7 396.3h0M131 394.7h0M132.6 390h0M136.9 397.4h0M123.9 393.6h0M122.9 387.2h0M123.2 385.9h0M135.7 394.2h0M135.7 395.2h0M123.4 386.5h0M124.3 394h0M134.9 391h0M132.9 387.7h0M126.1 394.2h0M128.5 392.1h0M129.2 386.4h0M117.9 384.3h0M121.7 391.8h0M125.5 391.6h0M134.4 391.3h0M123.6 393.3h0M120.3 390.2h0M119.1 387.6h0M135.8 395.5h0M135.3 397h0M128.4 390.6h0M122.4 393.7h0M121.8 391.3h0M134.1 396.3h0" stroke="#CD9600" stroke-width="0.75" stroke-linecap="round"/><path d="M46.4 391.3h0M44.9 392.6h0M46.6 397.4h0M45.5 392.7h0M40 393.2h0M42.5 397.7h0M41.1 390.4h0M39.5 390.4h0M45.4 391.4h0M45.8 394.5h0M40.1 393.6h0M42.9 392.7h0M45.8 397.8h0M44 394.1h0M42.6 396.2h0M42 394.8h0" stroke="#ABA300" stroke-width="0.75" stroke-linecap="round"/><path d="M121.4 396.2h0M127.7 412.7h0M136 389.8h0M118 391.8h0M125.3 390.7h0M124.5 394.9h0M121.9 385.5h0M120.2 402.2h0M133.7 406.7h0M121.3 387.6h0M119.9 397.3h0M125.6 406.1h0M131.1 395.6h0M133.3 400.8h0M133.9 407.6h0M119.7 399.9h0M137.9 394.6h0M115.1 391.1h0M129 393.8h0M132 393.2h0M119.1 390.1h0M130.7 401.2h0M128.2 408.4h0M134.7 400.1h0M123.3 409.9h0M120.2 384.2h0M118.1 403.8h0M116 388.9h0M124.4 412.4h0M129 394.2h0M117.3 389.5h0M115.6 389.9h0M137.8 393.9h0M121.5 395.5h0M131 393.1h0M120.4 404.4h0M120.9 392.3h0M131.7 390.4h0M127.4 391h0M119.5 385.8h0M133.6 404.1h0M130.7 390.2h0M134.8 403.5h0M128.9 400.6h0M119.9 387.8h0M125.9 405.4h0M122.2 402.1h0M135.9 394.5h0M115.9 384.7h0M122.6 411h0M122.3 384.4h0M124.4 410.9h0M124.9 412.2h0M114.3 390h0M121.3 394.8h0M134.5 389.8h0M120.1 389.3h0M129.2 413.4h0M115.7 394.3h0M128.1 398.2h0M119 396.5h0M128.1 397.8h0M137.6 390.5h0M121.6 402.4h0M119.8 392.4h0M121.5 390h0M133.2 405.2h0M137.4 398.6h0M129.5 413.3h0M132.6 399.2h0M119.5 388.3h0M114.4 389.3h0M130.4 401h0M129.2 405.7h0M120.9 391.8h0M118.2 394.4h0M135.6 395.2h0M136.2 400.1h0M121.9 410.3h0M125.4 413.6h0M131.7 411.1h0M129.2 410.7h0M133.4 400.3h0M119.6 385h0M117.7 395.6h0M120.8 386.3h0M117.8 406.1h0M123.8 393.7h0M133.6 391.1h0M117.5 391h0M131.7 389.4h0M137.9 391.8h0M115.5 387.1h0M120.1 398.8h0M127.1 391.4h0M119.2 383h0M125.7 396.2h0M126.3 386.1h0M119.4 399.1h0M118 392.7h0M125.3 389.4h0M128.2 414h0M122.9 406.7h0M116.3 383.9h0M126.4 393.9h0M122.4 386.8h0M129.9 402h0M134.2 401.1h0M122.5 392.7h0M118 386.4h0M128.4 408.9h0M125.7 413.4h0M127.4 406.5h0M130.5 387.5h0M122.9 408.3h0M135.6 396.5h0M114.4 389h0M121.6 402h0M131 398.5h0M137.7 395.8h0M121.1 410.7h0M120.5 400h0M122.3 391.1h0M129.2 397.7h0M129.2 387.4h0M126.2 410.5h0M130 409.2h0M120.3 393.6h0M121.5 403.3h0M132.2 408.1h0M124.3 396.2h0M128.8 412.4h0M131.1 392.9h0M118.4 407.9h0M136.2 400.8h0M115.7 401.2h0M130.7 412.6h0M132.3 403.8h0M120.9 393.5h0M122.1 396.1h0M134.4 405.1h0M121.3 395.6h0M129.4 393.1h0M127.1 388.1h0M130.3 410.7h0M130.2 406.6h0M136 388.8h0M117 384.1h0M115 391.4h0M121.3 391h0M117.1 395.8h0M120.3 386.1h0M130.5 406.2h0M131.8 409.6h0M127.8 410.6h0M138.3 392.2h0M134.8 399.7h0M129.4 409.5h0M130.2 398h0M115.6 393.8h0M132.2 389.1h0M127.2 393.3h0M128.7 388.8h0M136.4 390.3h0M130.9 410.4h0M123 396.7h0M121.5 412.4h0M133.5 405.8h0M123 391h0M123.2 398.7h0M139.1 395.1h0M122.4 404.7h0M121.6 402.6h0M129.4 387.3h0M117.4 396.3h0M123.3 413.6h0M118.8 392.3h0M120.3 383.6h0M131.7 402.4h0M119.1 398.5h0M122.2 392h0M120.1 403.8h0M126 414.3h0M123.8 386.7h0M135.7 390.1h0M128.6 412.5h0M128.3 402.4h0M128.8 387.4h0M125.2 415h0M126.9 403.7h0M126.5 388.5h0M116.3 384.6h0M133.3 398h0M127.7 401.7h0M116.3 384.7h0M129.8 408.6h0M133.2 389.5h0M128.5 393.5h0M125 409.8h0M114.7 386.9h0M133.3 397.6h0M131.1 404.9h0M124.8 396.2h0M116.9 405.2h0M135.9 388.8h0M128.5 412.2h0M116.8 397.3h0M129.7 397h0M131.2 408.1h0M116.5 392.5h0M122 396.7h0M127.4 392.1h0M125.9 412.4h0M115.5 393h0M129.9 388.1h0M133.3 404.4h0M129.4 391.8h0M127.3 414.3h0M119.8 385.8h0M124 396.1h0M132.7 395.8h0M125.3 403h0M124 412.4h0M134.4 390.7h0M121.4 391.5h0M113.6 388.4h0M122 397.6h0M122.3 401.2h0M139 393.9h0M136 404.8h0M118.7 389.6h0M136.9 403.6h0M125.7 398.1h0M117.3 394.9h0M120.4 394.3h0M119 399.2h0M119.2 398.3h0M128.2 396h0M133.1 393.5h0M119.2 405.4h0M120.7 403.4h0M114.7 392.1h0M132.4 395.1h0M124.3 388.7h0M129.7 410.5h0M120.5 405.8h0M117.5 384h0M131.3 389.1h0M118.3 393.1h0M132.8 400.5h0M124.7 387.5h0M133 402.4h0M124.9 396.1h0M130 412.1h0M126 404h0M131.7 404.5h0M115.7 401.5h0M126.4 400.8h0M126.2 400.6h0M134.3 402h0M130.4 405.7h0M122.5 394.6h0M132.2 393.2h0M127.5 397.1h0M117.6 407.1h0M125.6 390.6h0M125.7 403.6h0M128 399.8h0M132.7 404.6h0M114.8 392h0M132.5 407.8h0M123.1 409.3h0M124.2 409.8h0M122.5 387.1h0M135.5 388.5h0M114 394h0M115.3 390h0M134.1 397.1h0M124.8 391.6h0M128.1 398.6h0M125.1 401.7h0M128.1 394.5h0M136.6 391.4h0M128.6 404.9h0M118 400.4h0M120.1 383.1h0M131.5 394.3h0M121.4 400h0M131.1 408h0M131.6 399h0M137.4 391.7h0M118.7 397.2h0M122.6 409.8h0M117.9 394.5h0M123.3 395.9h0M125.5 389h0M126.5 386.1h0M118.4 387.6h0M134.1 403.1h0M133.9 397.7h0M130.1 406.7h0M119.2 393.1h0M123.2 406.7h0M123.6 388.1h0M127.7 413.6h0M121.3 411.8h0M134.1 404.4h0M117 393.3h0M115.8 394.3h0M125.2 394.3h0M133.9 401.7h0M121.5 388.3h0M119.7 394.7h0M137.3 397.9h0M128 395.3h0M123.6 397.1h0M122.9 384.7h0M115.1 383.7h0M129.1 399.4h0M135 406.4h0M125.3 388.1h0M124.7 394.4h0M132.4 387.2h0M117.4 384.6h0M119.9 407.7h0M129 394h0M116 403.5h0M120.5 385.7h0M119.8 405.3h0M127.3 408.1h0M120.7 396.9h0M129.5 410.4h0M130.6 390.9h0M135.4 391.7h0M122.7 413.6h0M119.6 387.1h0M118.1 402.5h0M122.4 393.5h0M119.1 384.8h0M132 393.4h0M121.4 392.7h0M135.1 391.7h0M128.1 396.6h0M129.9 402.2h0M128.8 390.4h0M131.1 405.8h0M132.7 384.3h0M134 390.5h0M136.5 389.3h0M122.5 384.6h0M129.9 383.6h0M130.1 382.8h0M134.1 384.3h0M135 390.9h0M120.7 382.4h0M129.7 384.9h0M120.6 379.7h0M128.2 382.7h0M127.4 387.6h0M130 380.5h0M133.6 390.8h0M134.1 386.9h0M128.3 386.6h0M122.6 383.5h0M125 380h0M126.6 380.2h0M131.5 388.4h0M125.3 383.6h0M136.9 389.6h0M124.9 381.2h0M135.6 389.7h0M138.1 388.6h0M123.1 382.1h0M125.1 381.5h0M127.1 388.3h0M133 390.4h0M136 386.6h0M127.6 384.3h0M136 387.9h0M122.7 384.9h0M138.7 385.2h0M130 385h0M138.5 387.4h0M127.3 380.4h0M138 386.6h0M135.4 385.5h0M135 387.8h0M125.2 383.8h0" stroke="#7CAE00" stroke-width="0.75" stroke-linecap="round"/><path d="M124 365.7h0M117.5 338.1h0M118.8 351h0M114.1 350.7h0M125.3 345.2h0M118.7 349.4h0M122.4 372.9h0M127.9 350.1h0M120.2 346.8h0M117.5 337.7h0M129 370.3h0M114.2 351.8h0M117.5 346.2h0M126 370.5h0M119.3 348.3h0M127.7 364.5h0M127.1 348.1h0M120 351.8h0M121.6 345.7h0M129.9 351.5h0M132.2 361.7h0M118 334.1h0M116.7 339.9h0M114.5 346.2h0M127.6 345.8h0M115.1 363.9h0M112.5 344.2h0M116.6 353.3h0M133.4 365.3h0M112.5 353.3h0M124.4 369.7h0M133.4 362.7h0M120.4 366.3h0M127.1 364.4h0M126.8 370.6h0M116.7 351.7h0M121.2 352.4h0M126.5 350.9h0M119.8 349h0M128.1 367.7h0M115.3 342.5h0M127.5 354.5h0M130.1 365.5h0M119.7 338.8h0M129.7 353h0M115.3 352.4h0M114.6 349.9h0M121.4 336h0M115.6 348.4h0M123 346.6h0M130.3 353.8h0M118.4 346.8h0M130.8 358.3h0M121.8 356.8h0M117.8 344.1h0M112.9 348.1h0M121.7 363.4h0M111.8 344.8h0M131.6 367.1h0M127.9 363.2h0M123.4 359.6h0M124.9 364.9h0M124.1 353.2h0M120.6 341.8h0M127.2 352.6h0M113.2 342h0M124.8 344.5h0M118.4 337.7h0M131.8 368h0M121.7 369.7h0M125.8 343.1h0M113.6 355.8h0M119.4 348.8h0M114.3 360.1h0M121.8 373.1h0M122.8 369.6h0M133.4 365.4h0M125.4 344.2h0M116.2 364.1h0M115.7 342.5h0M117.7 356.6h0M120.8 369.5h0M123.9 342.7h0M115.8 342.3h0M127.2 355.6h0M132.6 367.2h0M123.7 348.4h0M122.9 356.3h0M113 354.6h0M115.8 345.8h0M129.9 355h0M117.4 345.4h0M113.6 340.6h0M122.6 344h0M123.3 343.4h0M131.5 356.2h0M114.1 358.7h0M126.8 359.4h0M123.7 339.1h0M126.8 361.9h0M127.5 353.4h0M122.4 366.8h0M118.6 350.7h0M116.1 342.5h0M117.3 339.5h0M125.1 345.9h0M118.2 332.6h0M125.6 369.3h0M117.1 334.9h0M118.2 343.2h0M124.4 347.9h0M131 364.4h0M125.5 369.2h0M126.4 345.3h0M122.4 359.8h0M117.8 372.6h0M121.2 367h0M125 342.4h0M115.4 350.8h0M120.8 365.7h0M128.1 351.4h0M128.7 367.4h0M121 363.7h0M126.4 363.5h0M123.4 339.8h0M120.9 356.2h0M129.5 363h0M117.7 336.5h0M114.5 334.3h0M125.2 361.9h0M126.6 371.3h0M132 358h0M117.4 352.6h0M121.7 346h0M124.7 356.3h0M128.7 355.8h0M112.4 348.7h0M128.7 347.7h0M122.9 368.7h0M113.3 347.9h0M129.8 356h0M113.4 350.2h0M125.7 368.4h0M128.1 354.7h0M120.5 333.9h0M124.8 369.3h0M132.4 356.3h0M120.3 363.4h0M123.3 355.8h0M125.9 356.7h0M120 343.6h0M125.1 341.9h0M115.6 335.3h0M118.1 341.4h0M123.4 357.9h0M126.1 363.8h0M120.5 367.7h0M117.7 368.2h0M120.4 348.1h0M121.7 349.8h0M126.4 360.6h0M132.6 356.9h0M127.4 347h0M128.6 351.5h0M132.5 361.4h0M121 364.1h0M127.7 364h0M114.2 339.7h0M115.7 366.6h0M114.5 354.2h0M116.5 365.1h0M116 337.1h0M124.7 343h0M128 369.7h0M118.3 350.3h0M134.7 363.1h0M126 345.9h0M114 348.5h0M118.6 356h0M119.8 368.6h0M121 367.1h0M121 338.5h0M115.1 351.9h0M125 343.8h0M112.5 341.3h0M131.5 355.9h0M126.7 342.8h0M126.2 364h0M132 363.4h0M134 362.5h0M123.8 342.3h0M128.4 357.7h0M126.9 348.7h0M135.7 365.2h0M128.2 356.4h0M119.5 341.8h0M115.5 348.7h0M133.7 366.1h0M119.6 362h0M114.1 356.7h0M113.6 344.4h0M130.7 369.4h0M112.6 346.8h0M130.5 356.3h0M121.8 357.2h0M113.6 344.4h0M127.6 368.9h0M122.3 365.7h0M120.2 345h0M126.5 356.8h0M126.2 359.4h0M115.5 340.7h0M129.5 366.1h0M115.8 354.3h0M119.7 364.8h0M119 342.6h0M113.6 337.8h0M121.8 348.9h0M127 362.6h0M125.3 355.2h0M121.1 343.9h0M130.3 363.1h0M116 347.7h0M113.3 344.6h0M113.8 356h0M113.8 354.6h0M116.4 352.7h0M135.1 365.4h0M123.9 355.6h0M135.2 365.6h0M125.9 366.5h0M128.3 352.1h0M129 356.4h0M117 346.7h0M113.7 338.9h0M120.6 338.9h0M129.4 349h0M130.4 359.7h0M123.2 348.8h0M126.3 345.1h0M113.6 340.8h0M126.6 363.3h0M125.4 351.2h0M120.7 356.9h0M124.5 347.4h0M127.8 366.6h0M121.7 340.7h0M122.7 348.4h0M123 366.5h0M121.7 343.1h0M115.4 346.5h0M132.7 357.3h0M117.8 353.5h0M123.4 356.6h0M131.5 356.8h0M122.6 339.5h0M112.9 357h0M129.4 351h0M125.1 343.7h0M132.8 359.3h0M114.9 336h0M126.8 369.7h0M120.8 344h0M121.7 345.7h0M122.6 373.2h0M114.2 342.6h0M113.4 338h0M118.6 347.1h0M124.5 348.1h0M116.9 339.1h0M118.5 337.3h0M131 355.5h0M118.9 357h0M117 367.2h0M112.7 351.3h0M117.3 346.9h0M131.9 359.1h0M129.9 361.9h0M119.1 368.4h0M122.2 344.6h0M133 366.4h0M119.8 357.7h0M114.1 349.1h0M122 369.5h0M117.9 344.2h0M115.3 368.1h0M124.6 349.6h0M122.4 370.3h0M134.6 363h0M116.8 349.2h0M117.6 357h0M128.6 359.2h0M120.4 336.9h0M113.4 347.3h0M122.2 371.7h0M133.8 365.8h0M126.1 357.5h0M117.1 356.6h0M116.3 349h0M115.9 365.2h0M112.7 352.9h0M126.4 368.9h0M117.9 372h0M114 346.7h0M120.3 351.8h0M125.7 362.5h0M120.8 336.3h0M125.2 342.3h0M114.9 357.3h0M110.1 350.9h0M110.4 347.5h0M112.2 347.9h0M109.3 356.1h0M111 356.3h0M110.5 360.1h0M110.3 362.8h0M112.7 348.9h0M110.9 358.2h0M112.5 364.4h0M109.3 356.6h0M110.6 363.5h0M112.3 365.7h0M110.6 348.8h0M111.1 354.2h0M115.1 414.6h0M114.7 413h0M115.1 412.8h0M122.2 366.5h0M124.9 371.2h0M127.6 371.6h0M133.2 364.8h0M124.4 368.1h0M120.1 368.9h0M124.5 372.6h0M133.3 369h0M128.7 365.9h0M128.3 372.7h0M124.4 373.8h0M131.6 365.8h0M131.9 371h0M121.2 370.5h0M123.5 369.8h0M132.8 367.8h0M125.6 372.5h0M126.2 371.4h0M128.2 367.8h0M132.6 364.6h0M124 370.1h0M117.7 368.4h0M119 371.1h0M126.3 372.9h0" stroke="#0CB702" stroke-width="0.75" stroke-linecap="round"/><path d="M94.4 351.5h0M96.3 354.6h0M94.4 346.3h0M101.6 351.4h0M95.7 351.2h0M99.1 354.4h0M100 335.2h0M103.5 345.5h0M93.6 331.4h0M104 360.5h0M91.5 336.4h0M90.3 337.6h0M105.6 355.4h0M91.5 334.2h0M100.9 363.9h0M98.9 337.6h0M98.4 335.6h0M101.8 344.6h0M104.1 364.8h0M91.7 330.5h0M93.4 343.6h0M90.9 335.4h0M103 357.4h0M100.2 364h0M96.1 350.7h0M89 340.1h0M99.8 357.5h0M92.7 336.4h0M96.5 338.3h0M97.7 359.6h0M99.6 351.8h0M91.4 342.9h0M99.7 352h0M93.3 345.3h0M106 365.4h0M94.8 351.6h0M102 353.5h0M95.3 335.7h0M91.9 333.6h0M105.1 350.7h0M96.5 354.8h0M97.2 336.4h0M103.2 348.1h0M98.3 356.3h0M100.5 336.9h0M99.7 359.1h0M99.3 357.3h0M106 365.9h0M106.7 363.3h0M94.6 357.3h0M101.1 367.8h0M103.6 359.4h0M106.3 355.1h0M98.6 360.8h0M100.1 353.1h0M103.8 362.6h0M101.3 356.4h0M93.4 355.5h0M91.3 350.9h0M90.7 356.2h0M105.7 349.8h0M106.8 332h0M113.2 353.5h0M109.9 341.6h0M112.6 354.3h0M105.5 346.7h0M109.6 335.6h0M112.1 361.6h0M102.8 327.1h0M112.9 348.3h0M103.2 330.1h0M110.5 360h0M113.2 335.5h0" stroke="#00C19A" stroke-width="0.75" stroke-linecap="round"/><path d="M96.3 401.3h0M89.1 395.3h0M89.6 399.8h0M90.1 389.5h0M90.5 394h0M93.4 397.1h0M93.9 395.4h0M94.2 390.3h0M90.7 400.3h0M93.2 396.9h0M89.8 394h0M93.7 391.7h0M91.2 400.8h0M93.1 398.5h0M88.6 396.8h0M90.8 393.7h0M111.4 391.6h0M105.4 387.8h0M111.1 388.2h0M107.1 387.7h0M109.2 375.6h0M106.3 378.7h0M104.3 368.2h0M114.1 385h0M110.3 370.9h0M112.4 374.3h0M111.5 397.2h0M102.7 376.4h0M102.4 375.9h0M104.2 370.7h0M109.6 375.1h0M104.4 374.8h0M112.1 390.4h0M104.7 384.6h0M113.9 388.1h0M104.8 382.1h0M108.7 402.4h0M111.9 377.5h0M105 371.5h0M110.6 368.7h0M112.5 378.1h0M109.6 384.9h0M103.3 384.3h0M113 401.5h0M112.9 381.3h0M104.5 394.9h0M110.2 397.7h0M114.8 380.7h0M111.7 379.1h0M103.6 383.7h0M112.4 394.9h0M113.7 375.6h0M107.6 391.1h0M76.8 412.3h0M78.4 412.3h0M75.2 409h0M79.2 402.8h0M86.8 405.9h0M75.2 413.9h0M90.3 408.1h0M89.2 409.4h0M80.8 410.2h0M87 400.1h0M76.9 407.6h0M89.6 409.4h0M74.1 404.8h0M78.8 405.7h0M87.1 411.8h0M102.7 366.3h0M90.6 356.7h0M104.9 359.9h0M105.4 364.2h0M95.6 358.4h0M105.4 357.1h0M88.9 359.8h0M98.1 359.2h0M93.5 356.1h0M97.8 360.5h0M87 356.5h0M106.7 361.1h0M90.1 356.6h0M95.1 360.1h0M104.9 332.5h0M102.6 339.3h0M99.3 330.1h0M104 339.3h0M106.1 329.5h0M100.6 326.8h0M100.9 335.1h0M99.6 335.5h0M99.9 334.8h0M102 329.7h0" stroke="#00BFC4" stroke-width="0.75" stroke-linecap="round"/><path d="M87.3 315.8h0M84.6 321.3h0M87.1 333.7h0M93.7 318.9h0M84.8 322.8h0M100 316.2h0M95.4 317.2h0M85.7 326.4h0M87.1 324.5h0M86.1 336.6h0M94.1 314.4h0M82.2 330.5h0M99.6 319.5h0M83.2 325h0M92.8 319.8h0M86.9 333h0M86 328.7h0M100.2 321.1h0M88.4 321.1h0M85.1 318.1h0M99.3 316.6h0M97.8 318.8h0M84.8 317.5h0M100 318.1h0M95.6 314.4h0M89.4 325.4h0M101.6 321.9h0M86.9 334.1h0M89.6 316.3h0M83.1 330.6h0M86.7 335.5h0M96.1 329h0M102.3 328.2h0M99.5 327.6h0M85.2 324.8h0M98.7 319.2h0M99.3 316.4h0M88 324.7h0M99.4 319.3h0M92.4 319.3h0M86.8 322.8h0M99.8 316.9h0M96.1 318.2h0M101.9 320.1h0M97.6 318.3h0M99.4 318.5h0M93.5 317.2h0M89.8 317h0M86.7 320.1h0M88.8 318.3h0M89.8 321.7h0M89.9 318.2h0M84.3 325.2h0M97 319.3h0M95.5 317.1h0M99.7 320.3h0M99.9 317h0M95.7 318.8h0M84.9 324.1h0M97.7 319.1h0M93.1 317.1h0M85.3 323.2h0M87.2 321.2h0M90 317.5h0M87.7 320h0M92.4 317.6h0M90.9 315.8h0M85.9 320.1h0M87.3 319.7h0M87 315h0M91.2 320.8h0M90.9 318h0M85.1 317.2h0M98.3 318.1h0M86.3 317.1h0M94.3 313.9h0M92.7 320.6h0M89.7 315.3h0M90.9 313.9h0M93.3 317.8h0M86.2 318.9h0M94.1 318.7h0M86 315.7h0M102.7 318h0M92.9 314.9h0M91.9 318.5h0M88.8 323.6h0M97.9 317.8h0M88 321.1h0M88.8 324.3h0M93.1 314.6h0M90.9 318.8h0M85.5 315.6h0M89.2 313.9h0M90 317.5h0M89 317.5h0M86.1 316.2h0M88.7 317.5h0M88.2 315.2h0M93.4 320.2h0M95 317.7h0M86 324.6h0M86.1 318.1h0M88.8 324.2h0M85.8 325.1h0M98.9 314.9h0M86.3 322.6h0M90.3 322.3h0M95.6 315h0M87.9 325.2h0M100.8 320.8h0M89.4 318h0M98 317.6h0M99.6 319.2h0M93.4 315h0M95.9 314.8h0M101.4 319.7h0M104.1 319.5h0M99.1 320.6h0M85.4 317.2h0M103.3 317.6h0M94.4 315h0M85.5 315.7h0M95.2 318.2h0M88.8 319.4h0M93.6 316.4h0M93.4 317.8h0M86.3 324.3h0M99.5 318.2h0M85.3 316.3h0M87.4 325h0M103.2 318.8h0M92 313.5h0M92.8 317.8h0M97.5 317.4h0M96.7 315.4h0M100 321.8h0M98.8 321.2h0M103.6 322.4h0M87.2 324.4h0M84.7 321.1h0M86.9 316.4h0M102.8 320.1h0M88.2 321.2h0M101.6 317.9h0M92.8 320h0M97.6 316.2h0M95.6 318.2h0M101.4 320.3h0M86.2 314.4h0M87.8 315.6h0M86.2 324.7h0M87.9 317.6h0M102.3 323.1h0M95.5 320.3h0M89.9 316.7h0" stroke="#00B8E7" stroke-width="0.75" stroke-linecap="round"/><path d="M126 434.9h0M116.7 433.4h0M120.8 432.5h0M118.8 431.5h0M125 426h0M115.8 429.8h0M114.7 431.5h0M124.2 437.7h0M120.8 431.7h0M125.1 437.5h0M119.5 435.2h0M119.4 433.7h0M122.1 433.3h0M127.7 431.6h0M116 432.4h0M128.4 436.6h0M122.3 438.4h0M126.1 432.3h0M121.2 433.1h0M123.9 432.8h0M115.1 431h0M121.9 441.8h0M125.3 436.3h0M124.3 439h0M110.9 431.8h0M121.8 441.8h0M124.5 433.1h0M124.7 430.6h0M125.4 425.9h0M119.7 430.6h0M129.4 433.5h0M123.5 429.6h0M115.1 429.1h0M128.8 430.9h0M123.9 427.3h0M127.8 427.8h0M122.4 429h0M126.3 429.1h0M126.6 428.9h0M121.6 440.7h0M118.3 429.8h0M127.5 432.7h0M122.5 433.9h0M125.1 428.7h0M113.7 431h0M113.9 430.6h0M119.1 428.2h0M123.2 429h0M123.2 440.5h0M114.3 432.7h0M126 425.6h0M122.5 429.2h0M112.2 431.7h0M126.6 426.4h0M111.4 430.1h0M121 437.7h0M128.1 434.3h0M123.6 434.3h0M127 437.2h0M125.6 432h0M116.4 431.7h0M122.2 441.3h0M115.2 431.6h0M116.6 427.2h0M119.6 437.2h0M122.3 431.9h0M122.1 436.3h0M119 428.5h0M120.3 440.8h0M117.9 433.6h0M124.1 428.2h0M120.6 432.2h0M129.1 435.4h0M127 430.4h0M124.4 437.5h0M123.2 428.8h0M116.4 432.8h0M116 428.1h0M123.2 436.2h0M119.2 429.3h0M112.6 431.3h0M124.7 438.7h0M119.2 436.5h0M127.3 430.7h0M125.5 437.4h0M123.2 432h0M115 429.9h0M125.9 440.3h0M125.6 427.7h0M112.6 432h0M122.8 441.2h0M116.3 428.4h0M118.6 427.5h0M124.5 434.6h0M117.9 429.8h0M127.2 436.2h0M113.9 432.8h0M127.8 428.1h0M127 441.2h0M116.7 434.8h0M118.6 430.8h0M117.6 429h0M123.6 429.1h0M121.8 439.4h0M126.8 432.7h0M119.7 429.8h0M124.4 428.3h0M124.9 428.3h0M116 429.8h0M128 431.6h0M112 430.4h0M119.3 431.7h0M121 432.4h0M123.2 428.1h0M117.1 431.4h0M120.7 435.3h0M118 429.8h0M128 434.4h0M124.6 428.1h0M120.7 438.8h0M125.2 425.5h0M125.9 427.6h0M113.2 432.6h0M115.9 428.3h0M119.1 429h0M121.3 442h0M120.9 432.6h0M120.6 430.2h0M124.7 442.4h0M126.5 433.6h0M127.5 432.3h0M125.9 437.2h0M116.6 430h0M121.6 437.9h0M119.4 434.7h0M117.9 430.9h0M113.5 430.9h0M113.5 430.7h0" stroke="#8494FF" stroke-width="0.75" stroke-linecap="round"/><path d="M105.1 330h0M109.3 321.1h0M115.8 335.6h0M112.3 330.9h0M103.5 330.1h0M113.3 322.2h0M104 333.3h0M111.5 336.8h0M113.8 331.7h0M110.4 325.3h0M113.4 329.1h0M108.9 332.1h0M107.7 331h0M112.2 331.3h0M107.4 331.9h0M103.1 330h0M109.4 321.9h0M103.6 332.3h0M108.9 334.5h0M106.9 325.8h0M115.4 325.2h0M114.5 330.3h0M105.2 336.1h0M104.4 325.7h0M108.6 323.9h0M114.4 326.2h0M111 333.2h0M115.7 336.4h0M115.5 336.4h0M108.4 322.8h0M107 335.1h0M111.7 329.1h0M116.3 331h0M108.7 338.3h0M107.2 327.2h0M104.1 325.7h0M110.7 330.9h0M106.3 333.3h0M116.9 333.2h0M117.9 330.8h0M114 328.8h0M111.7 338.3h0M105.2 332.2h0M105.3 324h0M112.1 337.2h0M114.7 332.4h0M108.5 339.1h0M114 338.1h0M108.8 327.3h0M117.3 326.6h0M105.5 322.2h0M104.3 328.8h0M116.7 327.7h0M106.4 327.9h0M106.5 322.7h0M110 332.2h0M110.9 323.7h0M109.9 328.7h0M107.6 334.9h0M114.3 336.7h0M112.5 336.9h0M104.7 328.3h0M106.6 321.7h0M103.1 323.2h0M111.3 327.6h0M115.4 335.1h0M116.1 331.5h0M104.1 328.4h0M110.1 324.5h0M109.3 324.9h0M110.1 325.7h0M106.3 332.6h0M104.8 335h0M106.1 336.6h0M114.5 324.8h0M110.2 323.3h0M115.5 331.8h0M115 327.3h0M112.5 321.8h0M109.6 325.4h0M110.7 338h0M117 327.7h0M104.5 334.5h0M107.4 323.4h0M105.3 334.1h0M109 327h0M106.6 322h0M111.1 322.9h0M111.9 323.2h0M115.8 334.1h0M108.4 332.2h0M108.4 332.6h0M103.9 332.2h0M106.7 326h0M108.8 332.2h0M115.1 330.5h0M114.2 331.9h0M111.8 326.9h0M109.4 339.6h0M108.9 326.9h0M112.6 338.8h0M116.8 328.5h0M106.5 325.9h0M108.1 330.7h0M116.6 326.5h0M105.4 328.4h0M114 334.4h0M113.2 339.2h0M112.5 334.2h0M116 333.1h0M103.4 321.7h0M110 333.7h0M104.1 328.7h0M109.8 327.7h0M109.6 332h0M111.7 325.8h0M113.9 335.2h0M104.8 324h0M108.7 333.8h0M114 329.8h0M112.5 336.2h0M104.4 324.9h0M104 333.4h0M111.5 325.7h0M113.3 327h0M115.7 332.5h0M113.6 324.1h0M111.7 332.1h0M113.7 331h0M104.2 324.4h0M111.7 328.9h0M115 323.7h0M104.2 325.1h0M104.3 330.7h0M115.8 335.1h0M110.4 323.3h0M112.2 326.8h0" stroke="#C77CFF" stroke-width="0.75" stroke-linecap="round"/><path d="M73.9 427.1h0M67.2 445.8h0M73.5 437.1h0M71.7 444.3h0M66.6 429.6h0M71.4 429.4h0M66.9 445.1h0M69.7 445.8h0M67 436.4h0M73.8 427.6h0M69.7 433h0M68.4 434.4h0M68.2 439.6h0M73.1 434.1h0M70.3 442.8h0M68.7 439.7h0" stroke="#FF61CC" stroke-width="0.75" stroke-linecap="round"/><path d="M90.1 445.5h0M96.5 450h0M91.2 445.6h0M90 452.7h0M85 448.6h0M94.4 449.5h0M92.5 449.2h0M90.9 450h0M88.1 446.3h0M90.4 451.7h0M94.3 446.7h0M86.1 450h0M94.2 448.8h0M91.4 446.9h0M93.7 452.2h0M89 452.5h0M92.5 449h0M85.8 455.1h0M91.3 447h0M90.1 445.5h0M95 449.6h0M86.8 454.6h0M92.4 452.1h0M94.9 454.2h0M85.3 452.2h0M92.5 452h0M88 447.6h0M90 454.1h0M86.6 454.5h0M85.4 452.1h0M93.4 453.6h0M89.8 450.2h0M91 446.2h0M89.2 447.1h0M92.5 453.8h0M94.9 451.2h0M90.7 448.7h0M90.7 451.1h0M88 450.2h0M90.4 451.6h0M90.1 455.3h0M90.4 454.4h0M96.9 452.1h0M92.2 452.2h0M86.6 452.8h0" stroke="#FF68A1" stroke-width="0.75" stroke-linecap="round"/></g><g filter="url(#bl1)"><path d="M211.2 364.4L215.3 361.8L220.2 362.2L225.8 366L229.3 373.7L230.7 382.2L234.8 392.3L237.6 400.8L234.8 408.4L230 408.4L225.8 404.2L223 397.4L219.5 389.8L215.3 384.7L212.6 381.3L210.5 375.4L211.9 369.4Z" fill="#F8766D" fill-opacity="0.22"/><path d="M206.6 415L213 414.1L218.6 416.1L220.2 421.9L219.4 430.7L218.6 438.5L217 444.4L213.8 450.3L209.8 455.2L204.1 457.2L200.9 456.1L200.9 450.3L204.1 444.4L205.7 438.5L205.7 430.7L205 422.9Z" fill="#E68613" fill-opacity="0.22"/><path d="M168.8 361.6L164.7 365.1L159.9 372L157.5 379.8L156.7 387.6L159.1 395.5L164 400.4L170.4 401.3L176 398.4L180.1 393.5L179.1 389.8L173.6 393.2L168 393.2L163.8 388.1L162.4 380.5L164.5 372L168 366Z" fill="#ABA300" fill-opacity="0.22"/><path d="M218.1 328.3L223.8 329.3L229.4 335.1L233.4 342.9L235.8 350.8L237.5 361.6L235 367.4L229.4 365.5L226.2 358.6L223.8 352.7L220.6 345.9L217.4 338.1Z" fill="#00C19A" fill-opacity="0.12"/><path d="M217.8 388.6L223.7 387.2L226.1 393.2L226.5 401.4L219.5 401.6L216.7 395.7Z" fill="#00BFC4" fill-opacity="0.12"/><path d="M195.7 428.6L203 425.6L205.5 431.6L204.3 439L201.8 445L195.7 447.9L192.1 445L193.3 437.5Z" fill="#FF61CC" fill-opacity="0.09"/></g><g filter="url(#bl0)"><path d="M214.4 381.8h0M216.1 371.5h0M234.5 400.7h0M229.7 403.1h0M212.9 381.2h0M229.5 402.8h0M229.8 398.8h0M223.5 397.3h0M230.4 392.7h0M223.7 393.7h0M236.2 400.4h0M225.6 395.5h0M230 381.7h0M226.9 396.6h0M226.3 392.7h0M226.1 394.5h0M214.4 365.2h0M223 365.4h0M232.5 388.7h0M223.4 378.7h0M228.3 380.8h0M217 373.6h0M231.7 397.9h0M222.4 386.5h0M217.6 367.2h0M213.8 382.5h0M222.9 385.3h0M216.5 362.7h0M232.4 404.2h0M229.5 407.5h0M219.3 378.1h0M216.8 376.8h0M212 364.2h0M229.4 407.6h0M228.4 405.7h0M214 363.1h0M223.5 386.7h0M214 373.8h0M213.5 379.9h0M227.9 392h0M230.1 396h0M217.7 382.3h0M220.6 387h0M223.8 388.1h0M227.9 391.8h0M220.3 371.1h0M218.8 367.9h0M231.2 395.5h0M230.3 388.1h0M229.3 375.9h0M230.8 387.8h0M228.4 401.1h0M235.3 397.4h0M230.9 405.4h0M233.4 406.7h0M226.3 395.1h0M232 388.2h0M212.5 370.2h0M229.6 404.3h0M225.2 379.7h0M227.2 402.1h0M213 378.5h0M229.2 391.7h0M222.5 391.3h0M227.1 390h0M230.8 382.8h0M215.9 375.5h0M232.9 400.1h0M233 391.2h0M232.3 404.8h0M220.5 388.7h0M229.6 396.4h0M224.3 389.1h0M227 386.5h0M236.1 402.8h0M228.1 382.8h0M232.5 395.7h0M216.4 364.9h0M223.8 392.8h0M227.8 394.7h0M219.7 366h0M223.3 379h0M225 371h0M223.8 387.4h0M221.2 390.3h0M228 398.6h0M235.1 404.3h0M212.9 373h0M213.1 375.8h0M222.7 393.2h0M224.6 370.9h0M236.6 403.3h0M220.9 369.4h0M227.6 395.1h0M234.2 407.4h0M232.5 407h0M231.4 398.9h0M224.5 399.4h0M226.5 369.6h0M215.9 378.8h0M232.4 391.9h0M229.3 384.9h0M217 366h0M226.2 379.4h0M214 369.8h0M219.2 380.2h0M219.5 373.8h0M219.6 364.1h0M228.4 397.3h0M212.7 372.3h0M214.3 368.2h0M234.5 394.9h0M218.9 377.7h0M212 374.9h0M231.8 404.3h0M229.5 395.6h0M230.8 394.8h0M223.1 372.8h0M227 379.3h0M221.3 366.7h0M230.4 402.8h0M223.6 395.9h0M216.5 377.1h0M220.1 363.5h0M231 386.1h0M224.1 378.4h0M224.3 377.7h0M226.5 370.2h0M218.3 377.3h0M222.5 391.1h0M233.4 392.1h0M225.6 381.1h0M225.7 402.2h0M229.6 386.7h0M230.2 385.1h0M219.5 365.1h0M228.9 395.1h0M219.9 369h0M219.6 379h0M212.8 370.9h0M226.8 388.8h0M218.2 368.8h0M224.5 390.3h0M215.5 381.1h0M220.3 372h0M232.3 398.6h0M234.9 394.6h0M234.6 407.8h0M224.7 370.5h0M232.2 399h0M226.4 380.1h0M211.9 368.8h0M211.6 371.4h0M229.6 407.5h0M226.1 389.1h0M227 402.5h0M233.6 392.3h0M226.8 403.4h0M223.6 366.6h0M234.2 401.1h0M214.3 364.1h0M228 404.6h0M215 377.1h0M218.3 377.7h0M223.9 370.2h0M231.3 389.7h0M217.2 385.3h0M212 371.7h0M218.4 380.8h0M213.7 365.7h0M219.7 368.4h0M225.7 402.9h0M235 393.4h0M211.5 376.8h0M216.5 380.6h0M227 400.8h0M221.3 388h0M222 365.6h0M228.1 391.2h0M233.2 388.3h0M223.1 393.6h0M224.1 380.9h0M216.4 373.2h0M212.2 378.4h0M228.6 386.6h0M230.6 403.5h0M227.2 373.1h0M230.2 402.4h0M225.5 396.6h0M217.1 376.1h0M220.5 390.2h0M224.1 381.8h0M223 370.4h0M230.1 401.5h0M233.2 393.6h0M225.8 380.3h0M220.3 384.9h0M220.1 375.4h0M212.7 376.6h0M219.6 368.5h0M231.7 401.7h0M219.7 363.8h0M231.8 387.6h0M219.3 363.8h0M227.8 381.8h0M224.8 382.4h0M217.5 377h0M219 378.1h0M228.7 387.4h0M226.1 374.1h0M227.5 383.5h0M224.3 392.3h0M230.9 386.4h0M218.3 369.8h0M218 382.5h0M215 362.9h0M212.8 368.4h0M220.2 376.8h0M233.4 393.5h0M222.4 393.2h0M213.6 363.4h0M225.3 402.7h0M223.3 372.2h0M219.5 378.7h0M220.6 377.2h0M232.3 406.1h0M228.1 373.3h0M217.7 370.7h0M230.7 402h0M223.1 397.2h0M233.8 398.8h0M217 385.2h0M227.5 400.9h0M214.3 367.6h0M211.8 364.5h0M219.5 386.1h0M227.4 387.5h0M225.2 365.9h0M227.6 374.7h0M228.3 388.3h0M225.3 392.4h0M225.5 366.6h0M233.7 399.4h0M231.2 408.4h0M216.1 381.6h0M216.4 370.1h0M213.3 366.5h0M226.6 393h0M218.5 373.2h0M228.8 398.7h0M226.6 401.8h0M226.9 370.2h0M228.8 392.5h0M233.1 404h0M228.5 388.3h0M212.9 381h0M234.6 399.9h0M221.7 364.3h0M219.1 384.7h0M218.5 388.2h0M229 389.9h0M211.8 365.3h0M227.5 379.3h0M226.8 391.2h0M229.5 390h0M214 377.7h0M220.8 383h0M224.7 384.5h0M222.6 379h0M221 390.5h0M228.8 388h0M215 362.9h0M221.7 394h0M215.6 377.2h0M218.6 379.2h0M228.9 393.2h0M230.7 384.6h0M224.1 377.2h0M229.1 385.1h0M221.6 380h0M231.5 406.8h0M223.2 392.3h0M219.1 362.5h0M235.6 397.8h0M220.7 381.5h0M219.6 386.1h0M223.7 395.5h0M218.1 380.2h0M218.5 367.9h0M223.1 370.1h0M224 387.3h0M222.5 378.2h0M233.9 403h0M222.9 372.6h0M224.7 384.5h0M217.3 362.8h0M221.7 371.9h0M211.3 374.5h0M224.8 372.1h0M219.3 372.4h0M226.8 372.3h0M223.6 375.6h0M223.6 369.1h0M234.9 394.7h0M227.6 386.6h0M225.1 382.3h0M227.3 398.1h0M222.1 393.7h0M219.8 363.3h0M221.6 383.6h0M232.3 405.1h0M220.2 391.3h0M227.9 390.6h0M229.4 392.1h0M220.1 369h0M222.2 387h0M236.3 403.4h0M227.9 377.8h0M222.9 396.6h0M228.7 378.1h0M212.6 381.3h0M232.4 401.9h0M228 374.4h0M220.4 362.8h0M223.1 364.3h0M225.3 402.5h0M220.8 380.9h0M229.6 406.4h0M221.4 376.1h0M222.4 377.9h0M216 384.2h0M228.3 375h0M218.3 374.6h0M224.9 373.5h0M222.1 393.4h0M222.9 389.4h0M231.1 384.7h0M223.9 375.8h0M228.2 389.6h0M230.4 381.3h0M231.5 399.1h0M227.1 404.6h0M230.5 387.7h0M217.9 376.5h0M229 380.3h0M217.1 384.2h0M221.7 390.4h0M214.5 381.4h0M216.6 368.3h0M216.7 368.4h0M219.4 369.2h0M227.9 380.3h0M228.9 379.9h0M229.1 398.2h0M221.7 364.3h0M226.3 377.6h0M225.2 380.6h0M235.4 402.4h0M222.1 384.3h0M223.3 380.3h0M230.1 406.5h0M214.9 373.7h0M225.7 391.2h0M225.1 402.5h0M216.9 363.5h0M221.5 389h0M232.9 401.5h0M215.9 365.7h0M227 400.9h0M217.6 386.2h0M216.2 370.8h0M231.5 395h0M228.2 393.5h0M229.3 407.1h0M215.8 382.8h0M219.1 364.3h0M213.8 363.3h0M228 401h0M231.8 401.6h0" stroke="#F8766D" stroke-width="0.75" stroke-linecap="round"/><path d="M213.7 430.2h0M218.1 434.5h0M211 442.1h0M216.3 421.3h0M212 442.5h0M214.3 439.1h0M215.4 418.8h0M216.9 416.4h0M214.5 428.9h0M205.2 443.6h0M217.7 431.5h0M207.6 434.5h0M213.5 425.2h0M202.9 452h0M213 450.1h0M218.8 433.3h0M203.4 456.7h0M208.5 435.3h0M214.1 416.4h0M207.6 447.5h0M214.1 438.5h0M217.6 438h0M212.5 416.8h0M203.8 446.6h0M210.4 424.9h0M206 455.9h0M211.7 419.6h0M210.2 433.8h0M215.3 424.8h0M202.1 455.2h0M205.7 439h0M209.8 421.5h0M208.4 415.8h0M205.4 455.1h0M214.9 425.8h0M206.5 428.3h0M212.6 433.5h0M210 419.4h0M202.4 452.4h0M213.3 437.5h0M213.4 420.4h0M218 419.9h0M206.8 455.1h0M214.2 425.7h0M213.8 442.6h0M208.5 439.3h0M209 435.1h0M212.8 433.3h0M212.1 450.2h0M213.1 426.2h0M217.5 433.4h0M212 419.8h0M214.7 426.2h0M213.1 428h0M215.6 446.2h0M212.4 428.1h0M206.7 426.5h0M217.1 426.2h0M208.2 425.5h0M216.4 430.7h0M206.1 448.9h0M211.9 417.4h0M214.9 431.5h0M216.5 417h0M212.1 423h0M210.8 445.9h0M206.5 421.9h0M201.4 450.9h0M207.2 424.7h0M210.6 437.4h0M208.5 442.4h0M213.5 434h0M210.7 430.3h0M218.6 432.5h0M219.3 432.4h0M207.4 440.3h0M218.9 422.7h0M204.7 446h0M218.6 421.9h0M205.1 453.1h0M207.1 441.9h0M218.7 419.4h0M201.4 456.2h0M208.7 435.5h0M214.8 426.4h0M218.1 435.5h0M206.4 440.1h0M216 446.2h0M213.8 441.7h0M218.8 421.6h0M216 438.9h0M217.1 439.6h0M211.3 437h0M207.2 431.9h0M209.6 431.9h0M205.7 450.5h0M213.8 438.2h0M206.3 416.9h0M214.5 447.5h0M213.9 437.8h0M211.8 428.1h0M206.1 433.5h0M204.4 445.9h0M206.3 422h0M207.1 426.7h0M209 423.6h0M210 440.1h0M211.2 440.5h0M209.1 437h0M217.6 440h0M217.9 423.4h0M206.7 442.1h0M211.2 445.9h0M214 446.7h0M214.2 415.2h0M216.1 419.7h0M206.1 427.4h0M204.7 455.8h0M211.3 436.5h0M214.3 419.1h0M203.8 453.6h0M207.5 420.4h0M209.6 414.8h0M212.2 427.8h0M210.1 431.1h0M208.1 433.2h0M210.3 421.6h0M217.7 441.4h0M217.6 421.6h0M215.6 440.8h0M218.7 428.1h0M205.9 430.3h0M211.6 425.1h0M214.9 430.2h0M218 427.5h0M215.5 418.6h0M210 418.3h0M206.9 451.6h0M216.4 436.6h0M215.1 423.1h0M209.4 429.4h0M216.3 416.7h0M206.2 441.4h0M211.7 446.4h0M215.2 418.7h0M209.6 440.2h0M214.3 422.7h0M208 442.3h0M218.2 433h0M214.3 435.6h0M215.7 444h0M202.7 453.8h0M205.6 448.3h0M214.7 444.4h0M214 445.9h0M216.7 442.2h0M209.3 448.5h0M219.6 420.9h0M216.7 440.8h0M216.7 432.9h0M212.4 434.7h0M213.6 416.2h0M216.4 443.6h0M210.8 438.4h0M217.1 420.9h0M217.9 436.4h0M215.6 420.2h0M209 446.5h0M202.3 454h0M215.9 426.3h0M206.8 447.2h0M210.9 420.7h0M211.6 420.2h0M204.6 447.1h0M206.3 429.6h0M211.4 442.1h0M206.7 428.8h0M214.9 420.7h0M214.5 436.6h0M215.7 428.1h0M208.4 447.9h0M209.9 454.2h0M217 421h0M215 418.3h0M210.8 449h0M205.8 428.5h0M212.3 449.1h0M205.9 447.8h0M203.1 452.1h0M214.8 418.7h0M207 444.2h0M211.9 451h0M206.2 451.2h0M214.8 438.9h0M210 446.2h0M205.8 445.2h0M213 436.3h0M207.2 449.8h0M214.1 436.1h0M217.2 425.2h0M209.5 434.2h0M209.2 449.2h0M214.2 424.1h0M208.6 454h0M201.7 451h0M217 431.4h0M201.6 451.2h0M218.8 419.3h0M202.2 452.3h0M212.2 449h0M207.6 450.6h0M216.8 435.4h0M207.8 433.9h0M211.1 437.1h0M201.4 453.4h0M212.7 426.5h0M213.1 432.3h0M205.3 451.9h0M212.3 428.3h0M207.1 418.8h0M215.8 442.9h0M204.3 453.9h0M210.4 419h0M218.5 427.6h0M214.3 416.5h0M202.2 451.2h0M204.3 456.1h0M216.5 430.4h0M217.3 438.9h0M205.2 453.4h0M204.5 444.6h0M213.7 430.3h0M209.3 444.6h0M207 431.2h0M213.5 422h0M205.2 455.6h0M206.6 415.5h0M216.2 428.9h0M205.9 428.3h0M206.3 441.5h0M206.3 418.8h0M207.3 425.2h0M205 446.3h0M213.1 423.2h0M204.5 446.8h0M213 430.5h0M214.4 421.7h0M215.4 434h0M213.6 423.8h0M207 416h0M214.1 435.2h0M209.8 453.4h0M212.9 416.4h0M209.4 432.2h0M210.2 448h0M216.8 443.5h0M206.2 444.7h0M218 435.1h0M201.8 455.8h0M213.5 443.8h0M212.8 433.3h0M205.7 439.8h0M208.3 446.3h0M218.6 435.2h0M203 452.3h0M219.9 422.4h0M213.7 427.3h0M211.4 426.3h0M208.1 421.7h0M216 431h0M205 449.5h0M208.5 446.6h0M206.4 432.1h0M210.6 443.9h0M209.4 426.7h0M210.5 431.1h0M205.9 450.3h0M212.4 428.5h0M211.6 449.5h0M204.3 449.9h0M210.1 423.1h0M208.1 423.2h0M205.1 446.4h0M210.8 416h0M218.1 424.9h0M207.1 417.5h0M206.9 444.1h0M215.5 439.6h0M208.8 438.2h0M208.1 440.7h0M207.2 454.5h0M213.7 441.5h0M208.3 432.7h0M214.3 442.5h0M211 430.3h0M214.5 443.6h0M211.4 441.5h0M212.7 442.1h0M216.6 422.5h0M205.8 449.4h0M211.4 415.7h0M209.2 429.7h0M206.5 417.9h0M213.9 447h0M206.6 444.7h0M205.5 446.4h0M216.4 422.4h0M215.6 435.9h0M212.4 336.9h0M212.4 338.1h0" stroke="#E68613" stroke-width="0.75" stroke-linecap="round"/><path d="M269.6 376.2h0M257.2 391.1h0M269.8 387.7h0M253.8 376.5h0M263.7 365.6h0M264.7 388.4h0M259.8 376.3h0M251.4 386.5h0M265.4 377.3h0M251.2 376.8h0M260.5 371.3h0M259.4 374.3h0M265.1 387.5h0M270 374.7h0M272.7 379.3h0M254.4 381.5h0M258.5 368.8h0M258.3 374.9h0M267.7 380.4h0M259.6 388.3h0M257.7 392.4h0" stroke="#CD9600" stroke-width="0.75" stroke-linecap="round"/><path d="M175.4 397.7h0M160.4 389.9h0M161.6 375.5h0M163 392h0M160.4 393.6h0M165 366.4h0M161.4 378.6h0M159.3 381.3h0M168.5 396.6h0M162.1 392.4h0M161.3 372.9h0M177.5 393.9h0M158.3 385.5h0M164.9 400.5h0M158 379.4h0M172.2 394.7h0M162 380.7h0M161.4 375h0M160.2 394.9h0M160.4 384.2h0M167.9 398.7h0M166.4 392.8h0M161.7 385h0M163.9 368.9h0M160.6 374.5h0M167.7 396.8h0M162.2 371.5h0M159.7 378.2h0M176.1 394.1h0M160.6 378.6h0M162.3 397.8h0M162.5 383.5h0M160.1 386.2h0M174.5 397.9h0M172 400.5h0M166.4 364.9h0M177.3 395.5h0M164.4 389h0M159.1 376.5h0M166.3 393.2h0M160.2 393.2h0M167.5 364.9h0M162.9 394.5h0M160 375.9h0M161.5 380.3h0M164.9 395.4h0M164.8 394.4h0M162.8 394.9h0M168.3 400.6h0M164.2 398.2h0M164 395.9h0M173 397.4h0M159 385.9h0M160.5 382.3h0M159.6 379.5h0M165.3 392.1h0M172.8 395.8h0M169.3 395.5h0M160.8 377h0M174.6 398.1h0M159.2 388.1h0M169.7 395.3h0M163.4 399.3h0M167.7 366.3h0M163.7 373h0M170.4 394.6h0M166.1 367.4h0M160.4 378.8h0M161.5 390.4h0M170.6 400.8h0M160.3 393.3h0M163.9 367.1h0M161.3 382.2h0M160.9 378.2h0M167.5 364.5h0M165.4 370h0M162.8 395.3h0M167.4 366.7h0M161.7 383h0M157.7 381h0M160.8 388.1h0M165.5 367.7h0M160.6 390.7h0M162.9 393.7h0M169.2 400.9h0M161.2 372.4h0M163.5 372.9h0M162.2 377.4h0M158.4 376.9h0M171.4 399.3h0M160.1 384.9h0M160.2 384.1h0M163.6 390.9h0M162.9 396.7h0M163.1 390.3h0M161.3 371.5h0M159.5 391.2h0M162.1 383.3h0M171.9 393.5h0M161.9 397.8h0M165.8 397.6h0M168.6 362.6h0M165.7 394.8h0M164.1 390.8h0M162.5 397.1h0M160 384.7h0M163.5 375h0M157.8 387.7h0M166.1 400.4h0M160.2 388.1h0M168.1 362.9h0M161.5 388.4h0M172.5 395.9h0M158.2 379.6h0M171.4 399.1h0M178 392.8h0M164.2 398.9h0M179.6 393.9h0M160.6 371.4h0M168.2 362.7h0M164.2 395.8h0M162.5 371.6h0M168 363.8h0M177.1 396.5h0M158.5 380.7h0M179.7 392.7h0M166.7 367.8h0M159.7 384.4h0M160 382.3h0M160.3 376.1h0M162.3 381.1h0M158.3 385.7h0M160 372.1h0M169 398.9h0M160.5 382h0M157.5 380.5h0M164.2 372.6h0M165.3 366.5h0M176.6 391.9h0M171.8 397.3h0M162.6 376.7h0M167.8 364.2h0M174.4 394.2h0M176.7 396.9h0M164 366.7h0M164.6 365.4h0M159.5 381.9h0M166.7 363.7h0M167.3 396.2h0M167.7 395.4h0M161.5 378h0M172.1 395.1h0M169 397h0M158.8 381.5h0M160.4 379h0M160.4 391.3h0M159.4 393.6h0M168.2 398.7h0M164.5 367.1h0M160.9 392.7h0M163.1 374.3h0M160.4 387.3h0M164.2 368.7h0M161.9 385h0M157.6 383.8h0M168.3 400.9h0M159.2 392h0M175.1 393.2h0M165.8 397.4h0M207.4 340.6h0M206.4 342.1h0M208.7 339.9h0M209 340.3h0M208.4 340.4h0M206.8 341h0M205.8 340.4h0M208.6 339h0M205.2 340.9h0M167.4 382.8h0M179.7 387.7h0M170.1 381.2h0M172.6 376.2h0M164.1 382.7h0M178.1 388.6h0M169.5 371.7h0M165.4 372.3h0M171.8 370.1h0M166.6 388h0M169.6 388.3h0M171.1 385.8h0M170.6 379.4h0M169.5 368.1h0M168.2 387.3h0M167.3 373.3h0M165.4 376.3h0M168.4 382.4h0M169.9 375.7h0M177.5 381.2h0M166 373.1h0M169 388h0M170.5 375.5h0M170.6 388.6h0M165.2 372.2h0M179 390.3h0M175.3 374.7h0M170.3 384.6h0M167.3 390.9h0M173.6 374h0M176.4 383.3h0M170.1 388.7h0M168 392.7h0M167 387.6h0M168.5 380.2h0M167.8 384.2h0M175.6 374.4h0M171.5 373.9h0M164.1 382.5h0M164.6 378.7h0M170.8 383.9h0M171.4 364.5h0M168 390.2h0M168.1 379h0M181 386.8h0M163.9 374.9h0M174.3 374.4h0M165.3 384.2h0M170.4 371.3h0M169.3 362.7h0M174.3 392.8h0M174.3 378.3h0M177.8 386.8h0M169 366.2h0M180.6 387.8h0M174.3 379.2h0M168 380h0M167.1 388.4h0M173.6 372.8h0M173.9 390.8h0M171.3 374.5h0M167.2 377h0M172.2 370.7h0M168.8 374.2h0M163.2 382.6h0M165.3 379.2h0M174.1 386.5h0M169 385.1h0M168.8 391.5h0M173.5 382.1h0M175.3 373.9h0M167.4 376.3h0M174.7 387.8h0M164.2 372.6h0M180.8 388.2h0M168.6 375.6h0M165.4 378.5h0M163.6 382.9h0M166.9 381.7h0M172.6 386.6h0M168.3 392h0M167.2 391.5h0M164.6 374.4h0M173 369.8h0M171.8 389h0M168.5 393.2h0M175.1 380.5h0M176.4 381.4h0M168.4 382.6h0M172.8 390h0M164.8 372.8h0M167 371.1h0M167.1 387.6h0M172.2 381.9h0M180.5 387.7h0M164.7 374.9h0M176.2 378.6h0M167.9 368.5h0M174.9 392.9h0M167.4 392.2h0M175 386.9h0M168.1 377.8h0M173.1 369.8h0M170.6 373.9h0M179.6 389.5h0M171.5 391.9h0M173.9 369.8h0M170.9 385.8h0M167.9 383.9h0M166.6 382.9h0M167.5 372.7h0M173.8 379.8h0M176.2 387.3h0M168.3 390.2h0M174.6 374.1h0M168 374.9h0M179.2 386.2h0M173.5 377.3h0M166.5 385h0M167.7 389.2h0M168.6 388h0M173.3 383.8h0M165 387.9h0M179.8 387.9h0M172.9 393.6h0M170.5 380.6h0M170 370.3h0M178.6 390.2h0M180 388.6h0M169.9 379.4h0M166.5 388.6h0M176.2 382.9h0M169 381.6h0M165.6 372.2h0M177.8 379.3h0M171 388.2h0M175.2 390.9h0M165.4 384.9h0M167.6 373.6h0M168 372.5h0M170.6 393.2h0M177.6 380.5h0M168.5 383.9h0" stroke="#ABA300" stroke-width="0.75" stroke-linecap="round"/><path d="M257.9 392.2h0M263 387.8h0M245.7 388.4h0M256 395.5h0M252.9 402.7h0M249.5 404h0M258.2 395.2h0M258.1 391.2h0M252.8 394.1h0M258.7 398.1h0M252.1 410.9h0M266.5 402.2h0M254.8 411h0M250.9 397.6h0M246.4 396.8h0M256.3 414.7h0M249.7 409.8h0M258.6 399.3h0M256.1 408.2h0M252 398.6h0M253.1 385.9h0M262.1 387.7h0" stroke="#7CAE00" stroke-width="0.75" stroke-linecap="round"/><path d="M262.5 368.4h0M251 360.4h0M261.8 367.8h0M247.5 355.8h0M258.8 369h0M259.4 360.2h0M253 363.6h0M245.6 364.5h0M248 349.9h0M257.5 350.3h0M254.4 357.8h0M244.9 357h0M244.9 336.6h0M258.7 349.4h0M263.5 365.7h0M254.6 349.9h0M255 370.3h0M250.4 335.3h0M263.2 367.5h0" stroke="#0CB702" stroke-width="0.75" stroke-linecap="round"/><path d="M176.5 354.3h0M186.1 384.7h0M174.6 367.5h0M184.8 385.8h0M180.8 375.6h0M171 366.7h0M173 368.3h0" stroke="#00BE67" stroke-width="0.75" stroke-linecap="round"/><path d="M230.4 354.9h0M219.8 330h0M236.7 360h0M222.7 330h0M225.8 348.2h0M232.3 341.3h0M227.1 336h0M221.1 344.9h0M226.2 355.2h0M221.9 331.8h0M231.7 340.8h0M226.3 358.2h0M220 344h0M229.5 356.1h0M234.9 359.3h0M234.6 354.2h0M236 353.2h0M220.3 337.2h0M226.1 352h0M230.1 349.7h0M222.9 332.4h0M222.5 345.9h0M225.3 342h0M236.3 358.4h0M228.3 350.2h0M232.4 344.5h0M221.6 329.7h0M219.2 340.5h0M224.5 339.5h0M221.4 337.6h0M225.5 350.1h0M235.3 355.5h0M218.3 340.3h0M234.3 347.2h0M231.2 343.9h0M232 358.5h0M232 359.9h0M230.4 345.7h0M233.7 353.6h0M232.7 364h0M228.5 349.8h0M220.9 344.3h0M221.4 341.6h0M230.5 338.8h0M233.3 348.3h0M229.7 349.9h0M227.4 333.5h0M222.3 339.8h0M234.9 354.1h0M230 355.9h0M221.8 345.8h0M225.5 331.4h0M226.2 352.8h0M228.4 348.6h0M225.1 337h0M229.6 336.5h0M233.8 366.1h0M222.6 332.7h0M226.2 358.5h0M222.8 333.2h0M223.6 340h0M224.7 332.4h0M231.7 351h0M228.5 358.9h0M227 359.7h0M222.9 336.6h0M228.9 345h0M233.1 357.6h0M222.3 332.3h0M226.7 334.6h0M233.3 356.1h0M217.8 333.4h0M222.8 343.1h0M232.2 355.4h0M232.7 346.6h0M228.2 360.9h0M220.5 329.8h0M222.2 337.4h0M228.5 358.9h0M231.5 345.4h0M219 340.9h0M227.8 352.9h0M226 332.7h0M231.9 350.5h0M223.9 343.8h0M228.4 350.1h0M226.2 351.6h0M232.1 351.4h0M231.2 364.8h0M227.6 343.4h0M235 361.3h0M230.6 361.3h0M231.1 343.8h0M224.2 344h0M234.4 360.4h0M224.3 347.8h0M222.2 343.4h0M229.3 359.5h0M230.7 359.6h0M222 348.1h0M232.8 348.5h0M226.1 337.7h0M223.3 340.2h0M232.9 364.6h0M217.8 338.7h0M228.2 348.7h0M227.7 357.8h0M234 354.9h0M231.3 353h0M226.3 344.6h0M235.6 352.1h0M233.1 362h0M233.3 350.9h0M231.7 353.5h0M222.6 342.3h0M225.9 349.4h0M235.5 350.8h0M225.4 336.4h0M226 356.7h0M235.1 351.6h0M233.6 364.1h0M236.1 356.5h0M219.1 328.9h0M225.1 340.7h0M223.6 352h0M223.9 342h0M223.5 351.6h0M225.2 358.1h0M225.8 352.7h0M231.5 354.2h0M237.3 362.5h0M237.2 357h0M235.6 356.7h0M225.4 354.1h0M223 352.1h0M226 358.1h0M227 362.9h0M235.7 365.1h0M233.5 363h0M235.5 356.4h0M238.2 368.4h0M223.5 353.9h0M233 360.9h0M236.2 363.5h0M226 355.8h0M229.8 365.5h0M226.2 361h0M225.1 356.2h0M227.9 354.7h0M238.3 366.4h0M229 354h0M236 356h0M231.6 364.8h0M229.1 356.5h0M236.4 358.9h0M232.5 367.3h0M227.9 360.7h0M233.6 354.2h0M231.1 362.8h0M224.8 354.1h0M226.5 357.8h0M219.8 349.1h0M216 344.4h0M217.8 346.1h0M223.2 352.8h0M221.5 350h0M217.2 343.9h0M219.2 348.8h0M216.1 343h0M221.6 356.9h0M215.8 345h0M241.9 344.4h0M236.5 344.6h0M241.1 336.2h0M240.8 362.3h0M242.2 348.8h0M240.1 359.8h0M234.2 332.9h0M237.2 334.4h0M237 355.6h0M237 344.3h0M235.1 337.2h0M236.9 359.1h0M239.8 347.2h0M236.5 340h0M236.8 353.9h0M239.4 337.7h0M236.1 334.2h0M241.8 353.1h0M234 332.9h0M235 331.4h0M242.4 341.2h0M241.4 346.2h0M236.2 337.1h0M241.6 351.8h0M234.5 338.9h0M242.1 354.9h0M242 350h0M238.8 332.9h0M239.2 342.7h0M233.9 329.6h0M239.8 350.6h0M242.3 362.1h0M240 345.7h0M237.1 351.3h0M238.4 338.3h0M237.6 359.8h0M236.9 335.5h0" stroke="#00C19A" stroke-width="0.75" stroke-linecap="round"/><path d="M225.8 399.3h0M221 389.8h0M219.1 395.8h0M224.5 391.4h0M219.3 388.4h0M223 391.7h0M218.8 394.4h0M221.6 394.5h0M222.4 392.1h0M222.1 392.6h0M225.9 401.3h0M220 397h0M222.8 400.1h0M218.1 390.6h0M220.3 399h0M223.4 392.8h0M224.5 400h0M221 394.9h0M220.9 396.2h0M220 393.4h0M226.2 400.6h0M221.6 389.2h0M218.7 396.9h0M222.9 393.6h0M224.1 388.8h0M216.9 395.6h0M225.3 400.7h0M221.2 393.2h0M220.9 396.2h0M224.8 399.1h0M220.8 392.5h0M221.5 395.7h0M220 388.3h0M240.1 400.6h0M233.4 367.7h0M242.3 387h0M234.1 396.6h0M233.5 371.3h0M238.6 383.4h0M235.9 393.5h0M231.4 382h0M231.1 374.1h0M241.6 381.8h0M237 402.3h0M238.7 373.2h0M233 376.6h0M230.5 374h0M233.3 390.7h0M239.1 400.3h0M240.2 371.4h0M231.1 391.7h0M236 400.8h0M243.1 372h0M232.7 384.5h0M237.9 371.5h0M241.8 393.4h0M231.5 390.5h0M242.7 378.5h0M237.4 372.6h0M242.4 385.6h0M235.7 392.2h0M232.7 380.4h0M239.8 402.3h0M233.3 389.9h0M236.9 394.1h0M235.8 393.5h0M231.4 393h0M240.3 390.6h0M242.6 392.9h0M243.5 377.5h0M232.3 373.5h0M233.9 391.4h0M242.6 393.5h0M233.8 383h0M241 389.8h0M238.2 380.2h0M242.3 369.1h0M243.1 381.5h0M236.3 382h0M231.7 383.5h0M238.1 393.2h0M238.9 401.9h0M243.8 376.5h0M235.6 381.7h0M231.2 369.1h0M237.8 386h0M230.9 378.9h0M238.1 373.4h0M234.7 399.8h0M232.4 383.8h0M234.5 398.2h0M235.9 402.1h0M241.6 386.1h0M230.6 384.6h0M244 374h0M238.7 397.1h0M234.7 370.7h0M242.6 373.8h0M241.9 379.5h0M242.6 370h0M241.1 386.3h0M241.9 401.6h0M231.3 381.8h0M241.2 372.9h0M243 371.5h0M233.2 383.7h0M236 373h0M238.8 370.4h0M210.5 402.8h0M207 413.9h0M204 406.2h0M209.9 410.3h0M211.7 410.3h0M212.3 407.2h0M220 403.6h0M218 410h0M208.5 401.6h0M216.5 411.5h0M214.5 412.5h0M214.6 407.9h0M217.4 406.9h0M209.2 408h0M205.1 406.5h0M213.2 413.1h0M218.1 406.9h0M216.9 404h0M206.5 412.7h0M210.3 402.9h0M204.3 401.6h0M209.3 401.4h0M215 403.8h0M211.3 405.1h0M217.9 407.9h0M211.9 413.2h0M213.9 402.5h0M205.9 407h0M219.3 399h0M206.1 407.8h0M211.2 409.5h0M189.4 394.9h0M185.6 384.7h0M188.2 393.4h0M189.3 397.7h0M189.2 390.6h0M191.8 394.4h0M188.8 396.2h0M187.9 390.4h0M185.5 385.5h0M185.5 392.5h0M185.4 389.7h0M192.8 399.9h0M185.2 390.1h0M189.8 393.3h0M186.3 386.8h0M186.9 387.3h0M186.4 389.9h0M214.5 356.2h0M232.7 357h0M230.5 357.7h0M223.2 359.6h0M225.7 359.9h0M229.4 357.6h0M228.1 361.1h0M221 361.6h0M214.9 358.3h0M235.9 360.4h0M223.6 360.1h0M235.4 364.6h0M229.5 359.5h0M229.5 359.1h0M236.9 364.2h0M225.1 362.8h0M236.6 358.5h0M228.1 358.3h0M232 360.2h0M222.9 358.1h0M236.4 363h0M229.6 365.4h0M216.2 357.7h0M226.6 361.9h0M224.2 360.3h0M234.1 363.4h0M227.6 360.6h0M231.9 362.8h0M233.4 328.2h0M237.3 342.1h0M236.4 344.9h0M235.9 331.5h0M232.6 351.4h0M231 329h0M233.8 331.7h0M233.6 342.3h0M231.2 327.1h0M233.6 343.5h0M236.7 333h0M230.6 337.7h0M231.1 345.1h0M233 331.2h0M237.6 348.6h0M238 350h0M233.2 348.2h0M234.1 354.2h0M232.8 330.3h0M235.8 328.6h0M230.8 328.2h0" stroke="#00BFC4" stroke-width="0.75" stroke-linecap="round"/><path d="M215.5 323.1h0M221 315.6h0M212.4 331.5h0M233.2 320.1h0M232.5 320h0M219.2 314.5h0M223.5 314.5h0M223.2 314.9h0M216.3 324.3h0M219.4 313.3h0M216 332.4h0M214.5 334.8h0M218.9 321.4h0M225.2 317.2h0M228.2 319.5h0M214.3 316.5h0M229.8 317.6h0M220.5 315.5h0M214.8 330h0M214.4 329.8h0M214.8 315.3h0M219.5 324.3h0M224.9 320.7h0M219.6 313.2h0M219 319.8h0M222 320.1h0M228.7 319.4h0M227 326.7h0M227 323h0M231.4 330.5h0M224.8 321.4h0M232 330.4h0" stroke="#00B8E7" stroke-width="0.75" stroke-linecap="round"/><path d="M206.8 364.3h0M208.7 378.7h0M204.4 373.7h0M203.8 367.4h0M204.4 377.2h0M207.9 373.3h0M209.3 364.8h0" stroke="#00A9FF" stroke-width="0.75" stroke-linecap="round"/><path d="M255 429.4h0M253.6 437.1h0M252.4 439.8h0M244 429.9h0M255.5 425.8h0M243.9 429.4h0" stroke="#8494FF" stroke-width="0.75" stroke-linecap="round"/><path d="M241.4 334.1h0M242.1 330.9h0M242.2 332.2h0M235 329h0M240.3 325.3h0M243.9 325.2h0M241.2 334.6h0M236 323.5h0M239.2 335.4h0M238 327.5h0M243.9 324h0M239.8 330.8h0M233.2 321.8h0" stroke="#C77CFF" stroke-width="0.75" stroke-linecap="round"/><path d="M189.1 405.4h0M179.3 422.6h0M184.7 410.7h0M180.5 408.1h0M184.7 407.5h0M187.6 408.6h0M172.7 401h0" stroke="#ED68ED" stroke-width="0.75" stroke-linecap="round"/><path d="M201.7 433.7h0M200 434.3h0M198.6 439.8h0M202.8 442.1h0M200.4 430.1h0M202.3 434.6h0M201.2 443.6h0M196.3 445h0M195.1 431.1h0M196.5 445.7h0M202.6 441.6h0M196.5 446.9h0M203.5 438.7h0M203.2 437h0M203.4 428.2h0M201.2 432.5h0M201 438.6h0M199.5 431h0M199.9 428.1h0M200.5 428h0M198.3 443.1h0M200.1 437.6h0M203.8 428.9h0M198.6 442.7h0M200.7 426.6h0M196.5 433.3h0M192.6 442.7h0M200.7 428.6h0M195.3 441.6h0M200 441.5h0M197.5 431.2h0M198.5 442.6h0M198.9 446.2h0M200 442.8h0M198.6 437.4h0M202.1 428.7h0M196.2 431.7h0M196.9 438.4h0M201.4 435.9h0M194.1 445.7h0M197.5 428.5h0M195.7 439.6h0M203.4 439.1h0M203.8 430.3h0M199.8 440.3h0" stroke="#FF61CC" stroke-width="0.75" stroke-linecap="round"/><path d="M221.4 448.7h0M215.7 451.8h0M216.5 450.5h0M214 453.1h0M220.5 448.5h0" stroke="#FF68A1" stroke-width="0.75" stroke-linecap="round"/></g><g filter="url(#bl1)"><path d="M295.3 346.5L305.7 346L306.2 354.4L307.8 362.7L310.5 371.1L314 377.9L316.1 383L315.4 386.6L312.6 388.1L309.8 383L306.4 375.4L303.2 367.7L300.8 361L299.8 356.3L295.6 354.9L294.5 348.4Z" fill="#00BE67" fill-opacity="0.18"/><path d="M331.3 363.5L336.2 361.8L341.2 362.7L344.6 364.8L343.9 368.6L341.2 372L339.4 375.3L341.9 381.1L338.6 382.2L334.6 380.1L331.3 375.3L329.7 369.4Z" fill="#00A9FF" fill-opacity="0.26"/><path d="M307.1 402.5L312.6 401.3L317.4 403.3L319.8 408.2L318.2 413.1L314.2 418L311.7 423.8L308.5 424.8L306.7 418L306.4 411.1L305.7 405.9Z" fill="#ED68ED" fill-opacity="0.15"/><path d="M339.1 372.8L343.2 377.1L348.1 385.5L347.4 389.8L343.9 386.4L338.4 379.6Z" fill="#00A9FF" fill-opacity="0.39"/></g><g filter="url(#bl0)"><path d="M351.4 394.4h0M352.2 379.6h0M364.4 398.3h0M351.7 383.5h0M352.1 380.3h0M349.4 387.1h0M355.8 382h0M362.6 396.6h0M344.4 372.5h0M345.9 382.8h0M361.4 404.4h0" stroke="#F8766D" stroke-width="0.75" stroke-linecap="round"/><path d="M335.4 426h0M345.2 415.5h0M341 419.4h0M336.5 427.9h0M335.3 435.2h0M342.5 421.9h0M345.2 440h0M341.4 422.2h0M342.7 436.2h0" stroke="#E68613" stroke-width="0.75" stroke-linecap="round"/><path d="M287.1 386h0M300.1 398.9h0M290.1 374.1h0M287 382.6h0M291.9 383h0M288 388.4h0M289.4 382.9h0M298.1 395.3h0M298.6 398.6h0M292.7 398.4h0M304.5 395.9h0M292.9 375.1h0M290.7 372h0M304 388.4h0M294.5 387.1h0M301.3 368.1h0M304.1 389h0M302.4 388.2h0M296 369h0M300.4 389.9h0M296.7 381.3h0M304.2 388.8h0M300.4 361.5h0M298.5 388.4h0" stroke="#ABA300" stroke-width="0.75" stroke-linecap="round"/><path d="M302.8 362.4h0M306.9 376.5h0M305.4 370.2h0M302.2 354.4h0M301.3 349.6h0M308.2 367.5h0M297.5 349.2h0M302.5 346.8h0M298.9 352.5h0M302.1 357.2h0M301.8 354h0M313.8 384.6h0M313.1 385.6h0M300.3 351.5h0M306.3 370.9h0M302.3 353.3h0M312.5 380.1h0M305.7 355.2h0M301.5 348.5h0M314.6 383.6h0M305.2 360.1h0M304.2 348h0M306.3 355.6h0M299.6 356.1h0M304.6 356.5h0M308.4 372.2h0M313.3 380.8h0M306.5 370.2h0M307.4 364.7h0M304.9 371.4h0M299.4 355.1h0M302.2 364.1h0M306.7 373.4h0M305.7 348.5h0M298.4 348.9h0M303.5 368.1h0M299.5 354.8h0M312.3 384.8h0M303.2 363.9h0M306.2 359.1h0M311.8 376.1h0M310 374.9h0M295.4 352.8h0M309.6 374.3h0M306.9 359.3h0M308.2 371.1h0M305.4 357.4h0M303.6 366.1h0M304.1 353.6h0M302.2 361.5h0M310.6 379.3h0M304.6 348.3h0M313.4 386h0M298.1 347.4h0M310.3 371.1h0M301 351.2h0M303.4 359.7h0M310.2 382.4h0M305.6 364.6h0M303.7 359.7h0M305 351.8h0M302.8 349.9h0M301.5 358.7h0M312.5 378h0M302.1 363.4h0M300.8 346.3h0M312.4 382h0M314 379.4h0M303.5 347.6h0M302.5 353h0M315 385.8h0M301.4 356.3h0M306.5 371h0M303.7 359.4h0M306.8 375.8h0M299.3 347.5h0M295.7 347.7h0M300.5 355.1h0M314.9 384.7h0M309.1 377.8h0M308.6 378h0M309 378.6h0M306 373.2h0M305.2 371.4h0M304.3 362.3h0M303.8 361.7h0M303 360h0M314.2 384.4h0M305.3 363.9h0M300.8 350.2h0M306.1 364.5h0M304.1 346.7h0M308.9 380.4h0M303.6 350.8h0M298.9 348.1h0M308.8 377.4h0M295.9 352.1h0M311.9 382.9h0M309.8 369.8h0M295.8 354.4h0M295.9 350.3h0M306.9 358.8h0M304.1 368.1h0M305 351.4h0M300.8 358h0M301.2 361.5h0M302.8 353.1h0M304.7 363.7h0M307.3 375.3h0M302.1 364h0M295.7 353.6h0M306.3 369h0M305.2 361.2h0M304.9 362.3h0M300.9 358.9h0M303.2 356.7h0M301.2 355.2h0M300.2 351.4h0M312.4 385.1h0M296.1 346.7h0M301.3 358.6h0M307.2 365.7h0M301 361.6h0M301.2 353.1h0M304.3 347.7h0M303 350.9h0M297.6 351.1h0M303 366.5h0M306.4 373.7h0M297.4 354.7h0M313.3 386h0M303.7 354.3h0M297.5 354.9h0M303.1 351h0M302.9 359.4h0M302.6 347.8h0M310.4 372.2h0M306 351.6h0M314.4 381.5h0M305.2 364.6h0" stroke="#00BE67" stroke-width="0.75" stroke-linecap="round"/><path d="M366.4 361.4h0M363.5 366.3h0M350.7 346.7h0M352.4 333.6h0M361.2 352.6h0M357.6 344.2h0M357.5 336.4h0M366.2 359.4h0M361.4 359.9h0M358.5 343.9h0M357.3 366.7h0M367 358.1h0M371 359.3h0M368.5 354.2h0M371.5 355h0" stroke="#00C19A" stroke-width="0.75" stroke-linecap="round"/><path d="M353.9 396.7h0M351.3 390.1h0M351.2 401.4h0M367.1 384.9h0M362.7 392.4h0M365.2 379.7h0M369.1 400.4h0M362.3 367.7h0M368.4 378h0M371.1 399.6h0M362.7 368.5h0M340.9 412.6h0M345.8 402.7h0M342.6 406.1h0M322 395h0M315.9 396.1h0M350.8 361.9h0M361.7 363.4h0M360 362.2h0M362.5 340h0M358.9 339.7h0" stroke="#00BFC4" stroke-width="0.75" stroke-linecap="round"/><path d="M345.1 335.1h0M346 332h0M355.5 317.3h0M344.3 319.3h0M344.3 318.1h0M347 316.7h0M362.3 318.8h0M355.2 318.3h0M357.2 323.1h0" stroke="#00B8E7" stroke-width="0.75" stroke-linecap="round"/><path d="M331.1 372h0M336.3 366.3h0M336.1 373.2h0M342.3 365.6h0M340.6 365.1h0M336.8 367.2h0M342.4 364.7h0M338.8 373.2h0M335.5 369.2h0M341.8 368.6h0M333.4 364.7h0M331 364.9h0M333.8 374.1h0M338.7 364.6h0M338.1 366.5h0M340.6 365.1h0M333.9 364.9h0M335.8 380.1h0M332.6 371.9h0M330.4 369.1h0M337.1 368.8h0M332.9 365.7h0M337.8 374h0M334.7 369.7h0M334.2 362.7h0M338.7 376.1h0M333.1 372.1h0M330.3 367.9h0M331.1 371.9h0M337.4 377.5h0M337.9 379.1h0M335.8 365.2h0M340.4 378h0M336.3 376.4h0M339.1 366.4h0M340.5 365.6h0M334.3 375.1h0M332.5 373.8h0M335.3 372.3h0M333.4 369.8h0M331.5 368.8h0M338.8 376.1h0M337 366.9h0M343.4 369.1h0M339.4 372.6h0M339.6 365.6h0M336.6 379.3h0M338.1 363.9h0M333.4 376.8h0M335.3 363.1h0M330.9 369.1h0M334.8 377.6h0M332.8 370.4h0M334.7 377.2h0M333.1 366.2h0M340.1 380.3h0M337.3 374.1h0M340.3 370.7h0M335.9 380h0M341.8 371.2h0M334.9 370.6h0M337.5 381.4h0M336 376.4h0M338.2 381.3h0M339.7 367.4h0M335.1 372.4h0M341.6 367.7h0M339.6 373.9h0M334.1 378.1h0M330.7 372.3h0M335.7 367.7h0M331.6 368.9h0M339.1 375.6h0M338.6 366.2h0M331 370.8h0M333.4 376.2h0M338.4 363.5h0M342.6 363.7h0M332.2 367.3h0M336 379h0M334 371.9h0M335.8 364.7h0M336.2 363.2h0M344.3 366.2h0M334.3 373.4h0M338.5 366h0M340.1 380.1h0M337.5 374.6h0M336.6 363.8h0M335.7 371.6h0M337.9 369.6h0M339.7 376.8h0M330.8 370.1h0M335.8 366.7h0M332.8 367.3h0M338.2 380.2h0M337.1 375.4h0M335.4 375h0M330.6 371.6h0M334.5 363.3h0M332.7 373.8h0M331.6 374.1h0M337.5 373.1h0M330.3 370.5h0M331.6 374.3h0M341.1 364.7h0M340.8 369.1h0M336.7 373.5h0M338.7 369.4h0M341.7 364.9h0M337.8 376.8h0M335.8 378.5h0M337 369h0M340.5 370.5h0M337.5 367.5h0M341.6 368.9h0M332.8 363.7h0M341.7 364h0M338.5 367.2h0M334.8 378.3h0M331.9 370.1h0M342.4 368.5h0M341.3 369.7h0M331.3 373h0M339.7 377.6h0M339.6 378h0M336.3 374h0M339.3 369.9h0M335 369h0M336.3 372.1h0M338.8 371.3h0M340.5 379.3h0M341.3 381.2h0M346.3 386.6h0M342 383.2h0M340.9 374.9h0M340.7 377.1h0M346.6 388.1h0M340.4 376.4h0M344.7 380.9h0M338.9 375.5h0M347.3 386.5h0M344.4 382h0M340 376.1h0M345.6 387h0M346.6 387.2h0M345.1 381.6h0M340.8 381.2h0M341.4 379.1h0M347.2 388.3h0M343.9 379.6h0M339.3 380.4h0M338.5 379.7h0M342.1 378.9h0M338.5 379.3h0M342.5 382.6h0M347.1 389.3h0M343.6 381.6h0M339.5 374h0M347.7 386.8h0M347.5 387.8h0M346.5 382.7h0M344.7 379.9h0M338.9 376.8h0M342.6 381.3h0M346.1 384.1h0M341.6 382.1h0M344 380.6h0M343.6 384.8h0M341.2 380.3h0M341.6 382h0M347.1 388.4h0M342.2 379.5h0M344.5 379.5h0M345.3 386.9h0M340.6 377.4h0M346.2 383.2h0M344.8 380h0M347.3 388.4h0M343 377h0M338.8 376.9h0M341 378.7h0M347.5 386h0M339.1 375.8h0M339.7 380.7h0M339 379.2h0M341.5 376.1h0M340.8 380.2h0M340.1 381.3h0M344.9 385.7h0M343.4 377.6h0M340.6 378.9h0M338.9 377.5h0M347.5 385.6h0" stroke="#00A9FF" stroke-width="0.75" stroke-linecap="round"/><path d="M314.7 411.2h0M315.3 409.4h0M307.7 416.9h0M312.4 407h0M311.1 404.5h0M315.7 411.2h0M307.2 413.8h0M310 422.8h0M310.3 406.1h0M315 407.4h0M315.7 413.1h0M312.7 409h0M309.8 410.7h0M312.2 406.2h0M310.9 402.1h0M315.8 404.6h0M310.4 408.6h0M306.8 412.2h0M311.4 405.4h0M315.6 412.3h0M317.6 404.1h0M312.8 420.5h0M306.8 405h0M310.8 406.9h0M313.2 410.1h0M311.8 404.2h0M308.3 410.8h0M308 409.2h0M317.3 411.6h0M307.6 419.2h0M308.6 414.6h0M313.3 416.3h0M307.7 406.1h0M308.5 410.3h0M313.8 404.1h0M314.1 416.9h0M315.4 408.3h0M308.7 409.5h0M312 405.9h0M310.8 421.4h0M308.3 417.5h0M307.8 408.6h0M318.1 407.8h0M312.5 419.2h0M309.6 405.3h0M310.1 408.1h0M308.1 417.6h0M312.9 404.6h0M310.5 413.5h0M313.2 418.5h0M316.8 403.9h0M308.4 415.3h0M315.5 414.8h0M311.9 423.5h0M313.5 401.9h0M311.8 412.4h0M313 414.3h0M311.6 405.6h0M311.9 402.5h0M308.7 408.8h0M318 409.4h0M315.7 412.9h0M311.5 407.5h0M317.8 407.2h0M309.3 414.7h0M317.4 404.5h0M312.5 407.6h0M310.6 421.9h0M307.2 410.5h0M316.8 407.5h0M307.9 414.8h0M314.2 405.7h0M309.4 403h0M313.4 410.7h0M314.1 416.5h0M308.7 406.7h0M308.5 423.7h0M314.6 403.9h0M316.3 405.7h0M313.4 410h0M313.3 416.9h0M314.2 403.2h0M311.1 413.1h0M317.2 406.5h0M307.9 410.2h0M311.4 407.1h0M305.8 401.3h0M306 411.8h0M310.4 402.7h0M309.3 404.2h0M307.6 404.1h0M306.6 402h0M306.1 401.9h0M309.7 400.7h0M309.5 403.1h0M306.7 405.1h0M305.7 402.4h0M305.5 401.7h0M302.8 403.3h0M308.8 403.6h0M307.7 403.1h0M305.6 410.1h0M306.9 407.1h0M306.2 409.1h0M315.8 407.1h0M317.8 401.2h0M318 405.3h0M319.8 405.2h0M314.3 403.8h0M320.6 411.1h0M319.7 410.2h0M317.4 407.6h0M320.7 406.1h0M320.9 404.3h0M320.4 408h0" stroke="#ED68ED" stroke-width="0.75" stroke-linecap="round"/><path d="M331.9 440.5h0M328 434.4h0M324.7 447.4h0M331.3 432.3h0M327.1 428h0M328.3 429.6h0M331.8 428.6h0M324 436.2h0M325.9 447.4h0M330.6 434.4h0M328.8 435.8h0M332.2 432.8h0M324.3 440.9h0M329.1 428.7h0M327.7 444.4h0M333.2 430.9h0M328.1 429.6h0M323 444.5h0M331.2 434.2h0M331.9 442.5h0M326.1 443.5h0M325 434.2h0M324.7 445.2h0M328.8 435.7h0M331.8 439.8h0" stroke="#FF61CC" stroke-width="0.75" stroke-linecap="round"/></g><line x1="22.2" y1="305.2" x2="22.2" y2="465.5" stroke="#8c8c8c" stroke-width="0.9"/><line x1="22.2" y1="465.5" x2="148.8" y2="465.5" stroke="#8c8c8c" stroke-width="0.9"/><line x1="151" y1="465.5" x2="278.4" y2="465.5" stroke="#8c8c8c" stroke-width="0.9"/><line x1="280.6" y1="465.5" x2="408" y2="465.5" stroke="#8c8c8c" stroke-width="0.9"/><text x="20" y="344.4" font-size="5.5" text-anchor="end" fill="#4d4d4d" stroke="#4d4d4d" stroke-width="0.1">5</text><line x1="20.7" y1="342.6" x2="22.2" y2="342.6" stroke="#8c8c8c" stroke-width="0.5"/><text x="20" y="384.8" font-size="5.5" text-anchor="end" fill="#4d4d4d" stroke="#4d4d4d" stroke-width="0.1">0</text><line x1="20.7" y1="383" x2="22.2" y2="383" stroke="#8c8c8c" stroke-width="0.5"/><text x="20" y="426.1" font-size="5.5" text-anchor="end" fill="#4d4d4d" stroke="#4d4d4d" stroke-width="0.1">-5</text><line x1="20.7" y1="424.3" x2="22.2" y2="424.3" stroke="#8c8c8c" stroke-width="0.5"/><text x="20" y="467" font-size="5.5" text-anchor="end" fill="#4d4d4d" stroke="#4d4d4d" stroke-width="0.1">-10</text><line x1="20.7" y1="465.2" x2="22.2" y2="465.2" stroke="#8c8c8c" stroke-width="0.5"/><text x="33.7" y="472.5" font-size="5.5" text-anchor="middle" fill="#4d4d4d" stroke="#4d4d4d" stroke-width="0.1">-10</text><line x1="33.7" y1="465.5" x2="33.7" y2="467" stroke="#8c8c8c" stroke-width="0.5"/><text x="63.4" y="472.5" font-size="5.5" text-anchor="middle" fill="#4d4d4d" stroke="#4d4d4d" stroke-width="0.1">-5</text><line x1="63.35" y1="465.5" x2="63.35" y2="467" stroke="#8c8c8c" stroke-width="0.5"/><text x="93" y="472.5" font-size="5.5" text-anchor="middle" fill="#4d4d4d" stroke="#4d4d4d" stroke-width="0.1">0</text><line x1="93.0" y1="465.5" x2="93.0" y2="467" stroke="#8c8c8c" stroke-width="0.5"/><text x="122.7" y="472.5" font-size="5.5" text-anchor="middle" fill="#4d4d4d" stroke="#4d4d4d" stroke-width="0.1">5</text><line x1="122.65" y1="465.5" x2="122.65" y2="467" stroke="#8c8c8c" stroke-width="0.5"/><text x="163" y="472.5" font-size="5.5" text-anchor="middle" fill="#4d4d4d" stroke="#4d4d4d" stroke-width="0.1">-10</text><line x1="163.0" y1="465.5" x2="163.0" y2="467" stroke="#8c8c8c" stroke-width="0.5"/><text x="192.7" y="472.5" font-size="5.5" text-anchor="middle" fill="#4d4d4d" stroke="#4d4d4d" stroke-width="0.1">-5</text><line x1="192.65" y1="465.5" x2="192.65" y2="467" stroke="#8c8c8c" stroke-width="0.5"/><text x="222.3" y="472.5" font-size="5.5" text-anchor="middle" fill="#4d4d4d" stroke="#4d4d4d" stroke-width="0.1">0</text><line x1="222.3" y1="465.5" x2="222.3" y2="467" stroke="#8c8c8c" stroke-width="0.5"/><text x="252" y="472.5" font-size="5.5" text-anchor="middle" fill="#4d4d4d" stroke="#4d4d4d" stroke-width="0.1">5</text><line x1="251.95000000000002" y1="465.5" x2="251.95000000000002" y2="467" stroke="#8c8c8c" stroke-width="0.5"/><text x="292.3" y="472.5" font-size="5.5" text-anchor="middle" fill="#4d4d4d" stroke="#4d4d4d" stroke-width="0.1">-10</text><line x1="292.3" y1="465.5" x2="292.3" y2="467" stroke="#8c8c8c" stroke-width="0.5"/><text x="322" y="472.5" font-size="5.5" text-anchor="middle" fill="#4d4d4d" stroke="#4d4d4d" stroke-width="0.1">-5</text><line x1="321.95000000000005" y1="465.5" x2="321.95000000000005" y2="467" stroke="#8c8c8c" stroke-width="0.5"/><text x="351.6" y="472.5" font-size="5.5" text-anchor="middle" fill="#4d4d4d" stroke="#4d4d4d" stroke-width="0.1">0</text><line x1="351.6" y1="465.5" x2="351.6" y2="467" stroke="#8c8c8c" stroke-width="0.5"/><text x="381.2" y="472.5" font-size="5.5" text-anchor="middle" fill="#4d4d4d" stroke="#4d4d4d" stroke-width="0.1">5</text><line x1="381.25" y1="465.5" x2="381.25" y2="467" stroke="#8c8c8c" stroke-width="0.5"/><text x="85.6" y="303.3" font-size="3.6" text-anchor="middle" fill="#222" stroke="#222" stroke-width="0.1">D026</text><text x="214.9" y="303.3" font-size="3.6" text-anchor="middle" fill="#222" stroke="#222" stroke-width="0.1">D070</text><text x="344.2" y="303.3" font-size="3.6" text-anchor="middle" fill="#222" stroke="#222" stroke-width="0.1">D100</text><text x="214.5" y="479.5" font-size="8.7" text-anchor="middle">umap_1</text><text x="0" y="0" font-size="8.7" text-anchor="middle" transform="translate(8.3,385.8) rotate(-90)">umap_2</text><text x="84.6" y="316.9" font-size="8.5">RPC6</text><text x="100" y="328.5" font-size="8.5">RPC7</text><text x="78.3" y="350.7" font-size="8.5">RPC5</text><text x="114.5" y="353" font-size="8.5">RPC4</text><text x="125" y="374.6" font-size="8.5">RPC2</text><text x="98.6" y="383.9" font-size="8.5">LENS</text><text x="90.6" y="394.6" font-size="8.5">RPC1</text><text x="119.1" y="401" font-size="8.5">RPC3</text><text x="22.7" y="402.8" font-size="8.5">CONE</text><text x="102.8" y="420.8" font-size="8.5">ROD</text><text x="81" y="427.1" font-size="8.5">Npre</text><text x="113.3" y="433" font-size="8.5">ECTO1</text><text x="60.7" y="445.8" font-size="8.5">HOR</text><text x="74" y="461.7" font-size="8.5">ECTO2</text><text x="196.8" y="324.8" font-size="8.5">RPC6</text><text x="221.9" y="331.5" font-size="8.5">RPC7</text><text x="213.2" y="349.8" font-size="8.5">RPC5</text><text x="238.7" y="348.9" font-size="8.5">RPC4</text><text x="251.8" y="371.5" font-size="8.5">RPC2</text><text x="185.8" y="377.8" font-size="8.5">MULLER</text><text x="222.8" y="381.2" font-size="8.5">RPC1</text><text x="165" y="388.4" font-size="8.5">CONE</text><text x="214.7" y="392.2" font-size="8.5">LENS</text><text x="155.4" y="401.9" font-size="8.5">BIPOLAR</text><text x="245" y="402.8" font-size="8.5">RPC3</text><text x="200.2" y="415.8" font-size="8.5">ROD</text><text x="206" y="434.1" font-size="8.5">Npre</text><text x="241.2" y="436.5" font-size="8.5">ECTO1</text><text x="187.2" y="443.8" font-size="8.5">HOR</text><text x="206" y="453.4" font-size="8.5">ECTO2</text><text x="331.2" y="334" font-size="8.5">RPC6</text><text x="340" y="346.5" font-size="8.5">RPC5</text><text x="300" y="359.5" font-size="8.5">ROD</text><text x="283" y="372.5" font-size="8.5">CONE</text><text x="314.4" y="379.7" font-size="8.5">MULLER</text><text x="346.2" y="388.4" font-size="8.5">RPC1</text><text x="367.8" y="402.8" font-size="8.5">RPC3</text><text x="330.3" y="407.6" font-size="8.5">LENS</text><text x="290.3" y="412.5" font-size="8.5">BIPOLAR</text><text x="332.7" y="424.5" font-size="8.5">Npre</text><text x="379.4" y="427" font-size="8.5">ECTO1</text><text x="312" y="448.6" font-size="8.5">HOR</text><circle cx="414.7" cy="342.1" r="1.1" fill="#F8766D"/><text x="419" y="344.2" font-size="5.9" stroke="#000" stroke-width="0.12">RPC1</text><circle cx="414.7" cy="348.1" r="1.1" fill="#E68613"/><text x="419" y="350.2" font-size="5.9" stroke="#000" stroke-width="0.12">Npre</text><circle cx="414.7" cy="354.1" r="1.1" fill="#CD9600"/><text x="419" y="356.2" font-size="5.9" stroke="#000" stroke-width="0.12">RPC2</text><circle cx="414.7" cy="360" r="1.1" fill="#ABA300"/><text x="419" y="362.1" font-size="5.9" stroke="#000" stroke-width="0.12">CONE</text><circle cx="414.7" cy="366" r="1.1" fill="#7CAE00"/><text x="419" y="368.1" font-size="5.9" stroke="#000" stroke-width="0.12">RPC3</text><circle cx="414.7" cy="372" r="1.1" fill="#0CB702"/><text x="419" y="374.1" font-size="5.9" stroke="#000" stroke-width="0.12">RPC4</text><circle cx="414.7" cy="378" r="1.1" fill="#00BE67"/><text x="419" y="380.1" font-size="5.9" stroke="#000" stroke-width="0.12">ROD</text><circle cx="414.7" cy="384" r="1.1" fill="#00C19A"/><text x="419" y="386.1" font-size="5.9" stroke="#000" stroke-width="0.12">RPC5</text><circle cx="414.7" cy="389.9" r="1.1" fill="#00BFC4"/><text x="419" y="392" font-size="5.9" stroke="#000" stroke-width="0.12">LENS</text><circle cx="414.7" cy="395.9" r="1.1" fill="#00B8E7"/><text x="419" y="398" font-size="5.9" stroke="#000" stroke-width="0.12">RPC6</text><circle cx="414.7" cy="401.9" r="1.1" fill="#00A9FF"/><text x="419" y="404" font-size="5.9" stroke="#000" stroke-width="0.12">MULLER</text><circle cx="414.7" cy="407.9" r="1.1" fill="#8494FF"/><text x="419" y="410" font-size="5.9" stroke="#000" stroke-width="0.12">ECTO1</text><circle cx="414.7" cy="413.9" r="1.1" fill="#C77CFF"/><text x="419" y="416" font-size="5.9" stroke="#000" stroke-width="0.12">RPC7</text><circle cx="414.7" cy="419.8" r="1.1" fill="#ED68ED"/><text x="419" y="421.9" font-size="5.9" stroke="#000" stroke-width="0.12">BIPOLAR</text><circle cx="414.7" cy="425.8" r="1.1" fill="#FF61CC"/><text x="419" y="427.9" font-size="5.9" stroke="#000" stroke-width="0.12">HOR</text><circle cx="414.7" cy="431.8" r="1.1" fill="#FF68A1"/><text x="419" y="433.9" font-size="5.9" stroke="#000" stroke-width="0.12">ECTO2</text><g filter="url(#bl1)"><path d="M108.4 601.7L113.9 599.3L120.3 599.7L127.6 603.2L132.1 610.4L133.9 618.3L139.4 627.8L143 635.7L139.4 642.9L133 642.9L127.6 638.9L123.9 632.6L119.4 625.4L113.9 620.7L110.2 617.5L107.5 612L109.3 606.4Z" fill="#a480ea" fill-opacity="0.20"/><path d="M102.4 649.1L110.8 648.2L118.2 650L120.3 655.5L119.3 663.7L118.2 671L116.1 676.6L111.9 682L106.6 686.6L99.2 688.4L95 687.5L95 682L99.2 676.6L101.3 671L101.3 663.7L100.3 656.4Z" fill="#8e65f0" fill-opacity="0.20"/><path d="M174 600.9L181.3 604.8L187.7 610.1L189.9 615.5L187.8 622.9L183.7 628.4L175.8 629.4L166.7 627L157.6 622.3L153.1 615.9L154.9 609.6L161.3 607.2L168.5 604.8Z" fill="#d3d3d3" fill-opacity="0.20"/><path d="M53 599.1L47.7 602.4L41.4 608.8L38.2 616.1L37.2 623.4L40.3 630.8L46.7 635.3L55.1 636.2L62.4 633.5L67.7 628.9L66.5 625.4L59.2 628.6L52 628.6L46.5 623.9L44.7 616.7L47.4 608.8L52 603.2Z" fill="#673df8" fill-opacity="0.20"/><path d="M150.3 619.1L159.4 619.1L170.4 622.3L179.5 623.9L184 628.6L182.6 636.1L176.6 643.4L170.5 648.6L164.5 649.1L158.5 646L153.7 640.3L150.7 632.9L149.9 625.4Z" fill="#d2d1d4" fill-opacity="0.20"/><path d="M150 574.7L153.1 570.8L159.4 573.1L166.8 581.1L172.2 589.8L176.7 597.7L179.5 603.2L174 606.4L165.8 608.8L157.6 611.2L153.1 608L149.4 596.9L147.1 585Z" fill="#d0cdd5" fill-opacity="0.17"/><path d="M49.3 584.9L63 584.5L63.5 592.3L65.6 600.1L69.3 608L73.8 614.3L76.5 619.1L75.6 622.5L72 623.9L68.4 619.1L63.8 612L59.7 604.8L56.5 598.5L55.2 594.1L49.8 592.8L48.2 586.8Z" fill="#6138f9" fill-opacity="0.17"/><path d="M117.5 567.9L124.9 568.9L132.3 574.3L137.6 581.6L140.7 589L142.9 599L139.7 604.5L132.3 602.7L128.1 596.3L124.9 590.8L120.7 584.4L116.5 577.1Z" fill="#b092e5" fill-opacity="0.15"/><path d="M117.2 624.3L124.8 623.1L128 628.6L128.5 636.3L119.4 636.5L115.7 631Z" fill="#aa89e7" fill-opacity="0.15"/><path d="M112.8 554.7L119.6 553.7L130.2 555.1L136.5 557.8L139.7 561.5L135.5 563.3L130.2 561.5L123.9 560.6L120.7 562.4L116.5 567.9L116.5 575.3L113.3 576.1L110.2 573.4L108.1 568.9L111.3 561.5Z" fill="#b69ce3" fill-opacity="0.17"/><path d="M96.5 600.9L102.9 599.3L109.3 600.1L113.9 602.1L113 605.6L109.3 608.8L107.1 611.9L110.2 617.4L106 618.3L100.8 616.4L96.5 611.9L94.4 606.3Z" fill="#946cee" fill-opacity="0.23"/><path d="M144 665.4L148.9 661.2L154.9 660.2L160.9 662.2L165.7 658L169.3 661.2L171.7 666.4L170.5 671.6L165.7 674.8L159.7 674.3L156.1 670.6L151.2 666.4Z" fill="#ccc4d8" fill-opacity="0.23"/><path d="M136.3 561.6L145.8 560.6L153.1 563.4L156.3 568.9L154.2 574.4L151.1 578L144.8 578.9L138.4 576.2L135.3 570.8Z" fill="#c8bcda" fill-opacity="0.20"/><path d="M64.7 637.3L71.9 636.2L78.2 638L81.4 642.6L79.3 647.2L74 651.8L70.8 657.3L66.6 658.2L64.3 651.8L63.8 645.4L62.9 640.5Z" fill="#7247f6" fill-opacity="0.14"/><path d="M88.2 661.7L97.8 659L101 664.5L99.4 671.5L96.2 677L88.2 679.8L83.5 677L85 670.1Z" fill="#8a61f1" fill-opacity="0.11"/><path d="M111.9 680.1L119.4 676.6L127.6 678.5L128.5 684.9L120.3 687.3L112.1 686.6Z" fill="#8a61f1" fill-opacity="0.08"/><path d="M52 599.3L55.6 598.1L59.1 604.8L63.2 611.6L67.4 617.9L70.2 623.1L67.4 626.2L59.2 629.4L50.1 628.6L45.6 622.3L45.6 611.2L49.2 604.8Z" fill="#673df8" fill-opacity="0.10"/><path d="M149.4 646L153.1 646L153.1 648.8L149.4 648.8Z" fill="#d0cdd5" fill-opacity="0.12"/></g><g filter="url(#bl0)"><path d="M138.5 626.6h0M142 635.9h0M137.9 628.4h0M138.9 631.6h0M140.4 634.9h0M137.8 628.8h0M141.7 637.2h0M173.8 607h0M155.2 610.6h0M177.6 611.6h0M182.5 607.1h0M156.5 616.6h0M184.6 619.1h0M185.8 619h0M165.8 619.5h0M172.7 602.6h0M179.2 619.5h0M171.4 616.7h0M176.2 621.1h0M186.3 620h0M156.5 613.4h0M164.8 625.7h0M162.8 622h0M182.4 627.4h0M166.8 606.2h0M155.4 611.8h0M157.7 615.7h0M176.3 626.5h0M155.5 614.9h0M166.7 626.9h0M164.3 622.9h0M163 606.8h0M178.3 624h0M172.6 614.9h0M179 603.9h0M184.6 626.3h0M172.6 617.6h0M168.6 625.2h0M175.4 603.4h0M181.9 624.6h0M172.2 615.1h0M174.2 611h0M179.3 604.9h0M166.7 621.7h0M162 617h0M180 618.6h0M179.1 627.7h0M171.7 610.7h0M181.6 624h0M184.6 623.2h0M175.4 606.3h0M178.6 616.2h0M172.7 626.8h0M173.7 615.5h0M178.2 614.2h0M180.5 627.4h0M177.5 618.1h0M158.3 615.6h0M163.4 613h0M168.3 616.3h0M177.2 610.9h0M182.1 610.7h0M165 622h0M166 609.5h0M165 625h0M163.1 617.1h0M173 627.4h0M173 612.9h0M180.4 608.9h0M154.2 612.8h0M178.9 610.8h0M172.1 612.1h0M179.5 615.1h0M154.8 618.1h0M179.1 621.2h0M177.2 607.8h0M181.9 621.1h0M183.6 611.4h0M154.8 617.9h0M175.7 614.9h0M164.2 607.6h0M175.2 615.7h0M176.1 629.3h0M167.2 617.4h0M184.1 618h0M173 626.9h0M156.1 615.7h0M172.8 622.2h0M170.8 607.2h0M162.7 608.7h0M187.7 621.3h0M166.2 624.9h0M184.6 627h0M181.7 623.5h0M172.6 617.9h0M179.1 618h0M158.1 621.6h0M171.9 623.9h0M160 622.5h0M159.4 610.1h0M182.4 620.7h0M184.8 609.7h0M169.4 627h0M167.2 612.6h0M167.1 612h0M167.6 609.5h0M178.7 623.7h0M176.6 606.5h0M164.5 612.5h0M165.7 623.5h0M181.1 625.6h0M172.4 626.9h0M182.8 613.1h0M169.9 610.8h0M157.2 610h0M176.8 603.3h0M186.9 615.2h0M170.5 615.3h0M179.4 613.6h0M170.4 607.7h0M183.5 613.3h0M170.1 616.7h0M173.7 626.8h0M171.9 623.1h0M166.3 610.3h0M156.4 620.4h0M164.4 625.7h0M159.7 618.3h0M187.3 622.8h0M182.6 624.8h0M167.8 611.8h0M174.5 601.3h0M161 623.1h0M189.2 617.3h0M170.6 625h0M166.3 621.3h0M170.6 625h0M167.2 626.2h0M157.9 611.8h0M157.3 609.6h0M154 614.4h0M168.3 615.9h0M170.6 608.1h0M178.5 605h0M185.6 619.4h0M183.4 628.1h0M180.3 626.6h0M185.5 615.3h0M155.9 610.5h0M160.6 614.2h0M188.1 615.8h0M170.4 621.8h0M179.4 621.7h0M164 623.9h0M179.7 618.2h0M186.7 619.4h0M181.1 618h0M183 623.1h0M175.1 607.1h0M162.8 621.9h0M169.2 608.1h0M184 621.4h0M177.7 612h0M161.7 607.1h0M186.2 610.8h0M156.4 613.7h0M183 607.7h0M182.7 616.1h0M174.9 617.3h0M162.8 615.6h0M162.3 613.5h0M168.4 605.1h0M157.2 616.9h0M177.9 613.8h0M161.8 616h0M158.2 613.9h0M175.3 607.4h0M175.9 607.1h0M181.4 627.7h0M170.7 611.4h0M171.3 606.5h0M168.7 618h0M174.6 605.9h0M162.2 621.1h0M159.4 619.2h0M169.2 625.6h0M165.8 625h0M186.7 622.8h0M181.2 611h0M172.8 617.4h0M168.3 610.8h0M184.9 611.8h0M188.8 614h0M168.5 617.4h0M179.7 606.7h0M171.3 606.9h0M173.5 607.8h0M168.5 617.1h0M171.7 613.6h0M159.8 619.7h0M155.9 612.6h0M179.5 616.7h0M177.4 628.7h0M165.8 626.2h0M189.1 617.2h0M165.5 618.9h0M176.7 616.9h0M179.3 621.4h0M184.8 614.1h0M173.7 609.1h0M178.5 626.9h0M177.1 604.3h0M166.4 616.8h0M169.1 614.8h0M175.4 610.9h0M154.7 615.5h0M178.3 605h0M176.1 621h0M160.2 616.9h0M185 617.3h0M189.7 615.5h0M188.5 613.5h0M182.3 610.2h0M179.6 618.9h0M179.8 614.8h0M166.1 623.1h0M156 618.1h0M164.6 610.6h0M188.1 612.9h0M170.7 627.3h0M166.6 623.2h0M161.4 613.6h0M161.1 607.3h0M176 606.6h0M179 625h0M165.3 615.8h0M174.3 613.1h0M179.9 627.5h0M159.6 620.8h0M188.3 613.2h0M176.7 604.2h0M178.6 603.5h0M181.1 608.1h0M171 621.7h0M161 621h0M175.8 624.9h0M183.8 612.3h0M162.2 622.1h0M171.5 604.3h0M179.2 611.6h0M172.3 612h0M177.7 623.3h0M172.5 620.6h0M186.9 619.2h0M174.2 620.7h0M182.3 611.7h0M181.7 625.2h0M183.8 610.1h0M183.3 609.6h0M176.1 611.7h0M167.5 617h0M166.6 625.9h0M180.6 614.6h0M168.5 612h0M175.9 621.3h0M182.9 624.6h0M168.7 610.5h0M167.3 624.1h0M185.8 621.7h0M164.9 611.4h0M170.7 619.5h0M176.9 604h0M184.3 622.1h0M186.5 615h0M171.7 626.5h0M179.1 620.7h0M186.6 624.4h0M175.5 620.1h0M157 620.3h0M175 623.8h0M171.8 616.6h0M185.4 620.6h0M174 609.2h0M164 611.7h0M182 623.8h0M167.5 615.8h0M166.8 605.4h0M173 621.7h0M187.2 623.1h0M168.1 617h0M167.5 625.1h0M173.3 626.7h0M164.6 609.3h0M180.2 613.7h0M172.7 627.7h0M163.4 627.8h0M157.6 623h0M168.5 626.5h0M156 622.1h0M177.5 627.4h0M171.8 622.5h0M164.5 630.1h0M159.5 625.2h0M165.4 623.1h0M172.4 626.8h0M168.9 629.3h0M165.8 629.6h0M171.8 627.2h0M176.7 627.6h0M176.1 628.8h0M166.5 628.8h0M161.2 621.7h0M175.2 627.1h0M165.6 625.8h0M161.7 624.6h0M180.6 631.9h0M179.7 626h0M173.2 624h0M174.8 628.7h0M178.9 629h0M176.8 631.6h0M161.2 626.6h0M167.1 627.8h0M164.1 627.2h0M173.8 631.5h0M162.6 639.2h0M154.1 623.6h0M158.9 634.6h0M180.5 633.2h0M172.2 642.5h0M177 631.2h0M170.7 638h0M182 629h0M156.9 638.5h0M158.3 637.8h0M173.1 636.9h0M161.5 632.3h0M154 625h0M157.1 637.9h0M169.9 641.3h0M154.4 634.7h0M182.1 628.8h0M176.6 638.5h0M165.6 627.9h0M175.5 632.5h0M155.6 626.2h0M163.7 630.7h0M161.7 641.5h0M163.2 645.5h0M156.5 633.1h0M176.7 626.2h0M162.9 646.6h0M156.9 623.5h0M168.1 624.2h0M172.6 633.9h0M150.3 622.1h0M171.8 632.8h0M179.3 631.3h0M169.1 632.7h0M173.2 639.1h0M177.6 629.3h0M171.9 628h0M172.2 638.1h0M166.6 622.1h0M162.6 629.1h0M172 635.8h0M159.2 623.1h0M165.4 626.9h0M170.9 623.3h0M172.8 637.2h0M155.8 630.8h0M167.5 639.4h0M162.9 636.1h0M181.8 628.5h0M164.2 636.1h0M171 644.8h0M168.7 630.7h0M170.6 635.9h0M162.4 638.7h0M181.1 631.3h0M169.5 630.5h0M160.1 626.7h0M153.9 620.3h0M162.6 645.5h0M174.6 627.5h0M164.1 624.5h0M153.5 622.7h0M182.4 631.5h0M162.1 644.4h0M172.3 635h0M171.9 639.5h0M153.1 623h0M157.1 620.6h0M152.4 620.7h0M161.2 644.4h0M173.4 632.7h0M175.7 641.1h0M163.3 639.9h0M164 628.8h0M157.4 639.6h0M160.7 624.3h0M165.2 643.7h0M174.4 635.7h0M160.5 623.6h0M177.6 625.3h0M182.3 631.1h0M159.7 629.2h0M156.3 633.9h0M151.7 625h0M176.7 626h0M151.8 627.7h0M153.1 624h0M181.9 631.3h0M163.6 629h0M169.3 629h0M158.9 622.9h0M165.9 627.6h0M161.2 631.3h0M162.9 629.6h0M176.1 629h0M181 631.8h0M158.7 624.9h0M173.2 623.6h0M182.7 629.3h0M162 638.9h0M161.3 638.4h0M169.5 624.5h0M171 646.3h0M167.9 642.7h0M163.4 629.5h0M170 624.8h0M173.7 631h0M158.9 619.1h0M166.5 647h0M176.1 643.6h0M164.7 637.1h0M169.1 624.3h0M175.3 638.7h0M178.1 635h0M178 637.4h0M155 627.3h0M176.1 640.1h0M162.3 621.7h0M158.1 640h0M179.2 634.3h0M165.1 639.6h0M165.8 634.9h0M167.9 636.1h0M150.7 632h0M154.4 632h0M171.1 630.3h0M161.9 643.7h0M180.2 627.3h0M165.9 623.3h0M181.9 636.3h0M154.6 632.7h0M177.4 625.2h0M163 627.3h0M167.5 642.2h0M163.6 623.4h0M179.9 632.7h0M168 641.9h0M152 622.7h0M150.9 632.2h0M169.2 638.9h0M174.9 640.1h0M154.5 627.5h0M161.7 644.6h0M175.4 637.1h0M169.3 622.5h0M155.4 619.8h0M160.6 619.9h0M163.6 635.8h0M156.1 642.2h0M156.8 624.3h0M154.4 637.7h0M152.8 628h0M154.6 624.4h0M161.9 637.9h0M169.1 634.9h0M160.3 634.9h0M163.5 630.1h0M158.5 645.7h0M164.1 634.2h0M162.5 633.5h0M171.8 644.1h0M167.5 642.2h0M177.9 640.7h0M161.9 629h0M163.1 621.4h0M176.9 623.7h0M166.2 627.7h0M163.2 644h0M174.4 637.6h0M167.5 646.8h0M169.4 642.7h0M183.6 629.2h0M156.2 636.8h0M176.1 635.4h0M168.6 639.8h0M169.7 631.7h0M169.4 627.1h0M172.6 636.9h0M168.9 640.7h0M181.5 637.3h0M159.1 624.7h0M173 633.4h0M168.1 639.9h0M172.6 632.1h0M175.5 636.3h0M173.9 643.6h0M175.9 629.9h0M157.5 630.1h0M172.6 632h0M172.1 644.7h0M155.9 638.8h0M169.4 642.3h0M181.5 633.4h0M168 622h0M171 634h0M171.4 625.5h0M178.8 632.4h0M169.7 636.8h0M164.5 626.8h0M159 635h0M160.8 620.3h0M152.4 622.8h0M177.5 623.6h0M168.8 642.9h0M172 627.3h0M159.5 623.9h0M163.1 640.6h0M180.7 632.4h0M153.7 619.9h0M158.9 622.8h0M173.5 623.5h0M159.6 629.6h0M156.6 637.2h0M164.7 638.5h0M166.5 646h0M155.2 628h0M168.2 628h0M163.1 645h0M174.4 638.4h0M153.3 622.6h0M158.8 629h0M162.8 625.6h0M182 631.5h0M157.8 639.3h0M160.8 623.1h0M172.2 629.9h0M171.3 623.8h0M154.1 627.4h0M162.6 630.2h0M179.8 627.7h0M150.7 632.1h0M178.4 627.3h0M175.9 637.5h0M177 640.6h0M157 639.8h0M166.1 630.2h0M155.3 624h0M171.5 646.1h0M174 641.6h0M163.4 628.1h0M161.1 626.6h0M175.1 642h0M175.2 641h0M173.1 642.3h0M175.7 639.7h0M162.8 644.8h0M172.4 641.7h0M165.4 624.7h0M177.1 638.7h0M161.5 627.6h0M165 642h0M162.7 630.3h0M163.3 634.9h0M150.5 625.4h0M165.1 628.9h0M162.4 641h0M170.8 623.4h0M161.4 624.8h0M156.1 638.7h0M156.5 623.4h0M170.1 643.4h0M179.1 627h0M159.8 644.6h0M170.4 636.7h0M180.8 635h0M174.7 629.9h0M160.1 638.8h0M174.5 642.2h0M164.6 631.5h0M167.2 624.1h0M162.7 624.7h0M178.3 626.2h0M155.4 621.5h0M167.9 634.4h0M165.4 641.7h0M167.8 637.5h0M150.3 623.9h0M155.5 639.7h0M181.5 625.7h0M160.4 615.3h0M169.4 620.6h0M178 624.7h0M171.8 621.6h0M176.7 624.9h0M176 619h0M161.8 621.7h0M176.1 617.7h0M182.2 625.6h0M172.7 620.5h0M165.9 616.5h0M165.1 623.1h0M164.1 617.1h0M176 622h0M178.1 623.4h0M172.6 625.7h0M158.7 617.8h0M162.4 618.3h0M176.8 624h0M173.9 618.5h0M163.6 618.8h0M168.3 616.8h0M168.3 619.8h0M172.6 625.8h0M172.4 618.9h0M176.9 621.4h0M176.8 623.5h0M167.6 616.6h0M151.2 580.1h0M148.8 593.3h0M168.2 592.3h0M167.1 584.4h0M152.9 585.6h0M155.6 582.7h0M158.6 598.7h0M155.7 603h0M174.1 601.9h0M150.1 589.4h0M166.5 592.1h0M175.5 595.6h0M166.2 587.3h0M163.6 589.2h0M163.8 600.8h0M155.7 594.3h0M151.9 585.1h0M159.8 584.3h0M150.7 594.6h0M169.1 604.4h0M168 592.8h0M158.6 606.1h0M167.4 585.1h0M154.1 594h0M167.2 585h0M149.1 591.9h0M173 592.8h0M148.2 589.6h0M160.6 596.3h0M159.6 587.1h0M152.9 605.5h0M166.7 603.7h0M174.6 600.9h0M154.3 605.8h0M148.5 582.6h0M169.8 589.7h0M156.1 604.6h0M155 572.5h0M151.5 573.3h0M163.5 582.2h0M149 594.9h0M156.6 598h0M153.2 591h0M154.2 577.7h0M161.6 607.1h0M156.1 587.6h0M158 589.9h0M157.2 590h0M155.6 577.2h0M161 599h0M170.7 599.8h0M177.1 603.4h0M162.8 608.8h0M175.5 596.8h0M160 602.9h0M154.4 599.4h0M161.8 583.5h0M169.8 601.6h0M151.4 589.1h0M163 591.2h0M163 588.5h0M161.2 599.8h0M162.3 585.2h0M153.5 582.9h0M160.7 580.3h0M157.9 587.9h0M154.1 601h0M161.3 587.7h0M156.3 585.7h0M151.3 582.9h0M159.4 588.6h0M169.9 604.4h0M170.2 595.3h0M148.2 583.6h0M165 582.3h0M171.4 601.7h0M151.7 573.7h0M153.4 585.5h0M157.4 589.5h0M150.7 576.1h0M152.5 572.7h0M168.1 591.4h0M150.1 591.9h0M165.3 586.2h0M161.5 584.6h0M164.6 594.7h0M155.8 588.8h0M172.2 590.5h0M170 589.4h0M168 594.5h0M166 597.4h0M168.7 599h0M171.8 605.9h0M154.5 594.8h0M159.1 588.2h0M155.8 605h0M156.2 586.6h0M176.8 602.8h0M170.2 589.7h0M153.7 604.5h0M169.8 606h0M150.8 583.1h0M161.2 592.8h0M161.2 586h0M151.3 586.2h0M161.6 595.8h0M168.8 601.3h0M162.7 607.1h0M159.8 584.3h0M158.6 608.2h0M170.7 591h0M168.4 607.2h0M153.6 581.6h0M158.1 579.6h0M160.9 582.9h0M158 575.3h0M154.8 601.6h0M167.8 601.7h0M161.4 588.7h0M171.4 604.2h0M164 595.6h0M157.7 588.5h0M160 574.7h0M163.6 591.3h0M153.5 594.6h0M151.1 573.5h0M164.8 592.7h0M151.7 582.5h0M156.2 598h0M170.4 599.6h0M168.9 595.1h0M172.9 592.8h0M157 603.7h0M164.7 583.8h0M155.5 581.6h0M158.1 593.8h0M159.3 605.8h0M172.2 601.6h0M171.5 604.2h0M158.3 604.4h0M148.7 580.3h0M155.4 601.6h0M175.8 598.3h0M150.9 590.4h0M155.8 602h0M156.1 603.6h0M154.2 594.9h0M157.4 589.2h0M148.5 591.9h0M158.7 590.4h0M171.1 596.6h0M158.6 605.2h0M172 593.2h0M161.8 590.5h0M162.5 583h0M159.8 588.7h0M161.5 609h0M165.1 607.6h0M164.1 592.3h0M148.6 583.9h0M152.2 577.5h0M153.3 598.8h0M153.9 594.8h0M168.2 601.3h0M165 601.1h0M174 594.1h0M155.9 600.9h0M168.3 588.3h0M164.6 596.4h0M163.9 584h0M159.1 600h0M156.6 580.4h0M153 572.1h0M151.9 596.7h0M157 605.9h0M159 598.3h0M160.6 586.5h0M165.7 594.8h0M148.4 585.5h0M155.1 604.2h0M147.3 585.4h0M161 586.1h0M151.7 585.3h0M157 605.5h0M167.2 601.4h0M176 597.4h0M155.4 590.3h0M153.2 607.5h0M154.5 592.7h0M154.1 598.4h0M169.6 588.7h0M160.2 608.1h0M154.5 603.4h0M153.6 580.4h0M162.5 593.3h0M149.1 593.3h0M148 590h0M146.4 600.4h0M146.3 595.5h0M150.8 600h0M147.6 587.7h0M148.4 602h0M145.5 584.8h0M151.2 605.4h0M144 585h0M144.4 591.2h0M149.6 590.4h0M147.5 597.8h0M149.5 648.6h0M150.1 648.8h0M152.7 648.6h0M161 606.6h0M169.8 602.1h0M164.6 603.8h0M174.3 605.2h0M166.1 610.3h0M171 604.7h0M173.9 601.9h0M175.8 603.4h0M158.8 611.6h0M157.6 608.4h0M163.2 603.4h0M161.7 607.9h0M159.8 605.4h0M166.1 607.1h0M175.9 606.1h0M158.2 605.6h0M165.5 605.2h0M136.3 580.7h0M136.5 580.8h0M137.5 602.1h0M136.4 602.5h0M135.9 586.5h0M140 588.7h0M136.1 594.9h0M139.5 600.6h0M140.1 598h0M139.9 596h0M140.7 593.8h0M135.9 594.1h0M135.5 594.5h0M139.3 592.6h0M141.9 579.9h0M148.6 600h0M146.1 581.5h0M146.6 582.3h0M140 580.7h0M140.8 583.5h0M140.3 590h0M140.3 590.3h0M139.3 578.5h0M142.9 592.2h0M147.9 579.7h0M144.9 594.3h0M146.5 574.8h0M148 586.4h0M136.1 567.9h0M141.4 579.1h0M147.1 597.5h0M149 599.6h0M142.4 579.8h0M144.1 586.6h0M141.8 626.6h0M147.2 608.6h0M138.7 632.8h0M149.2 631.1h0M146.7 625h0M137 607.8h0M148.3 628.8h0M140.7 608.2h0M145.3 636.4h0M140 621h0M140.6 615.3h0M150.3 614.8h0M147.3 615.4h0M147.3 608.6h0M139.4 611h0M142.4 626.1h0M137.7 610h0M149.8 612.3h0M146.9 615.6h0M150.3 609.4h0M141 610.6h0M137.5 622.9h0M135.8 625.3h0M144.7 607.3h0M141.2 609h0M139.5 630.3h0M146.5 609.8h0M149 606.3h0M139.1 629.7h0M141.7 612.6h0M142.7 623.5h0M149.5 625.5h0M144.8 628.4h0M144.3 612.2h0M136.3 601.1h0M135.9 599.3h0M138.4 595.5h0M135.5 570.7h0M137.3 584.7h0M137 586.9h0M137.9 569.9h0M137.1 583.7h0M138.2 584.6h0M141.4 579.5h0M139.9 579h0M142.6 583.6h0M139.3 561.4h0M136.6 561.9h0M135.3 560.2h0M148.5 665h0M157.6 665h0M158.1 665.1h0M166.4 673.3h0M166.7 664.9h0M165 670.6h0M150 665h0M163.1 663.2h0M151.1 665.5h0M149.4 663.4h0M162.6 661.9h0M166.3 662.6h0M148.4 663.5h0M161.9 662.2h0M161 670.8h0M158.6 671.7h0M157.2 671h0M162.7 662.2h0M162.5 662.8h0M166.4 662.3h0M169.2 668.4h0M155.2 661.3h0M164.9 667.6h0M157 663.9h0M167.9 670.9h0M164.5 669.1h0M167.4 667.1h0M163.6 674.3h0M170.4 666.9h0M150.1 662.1h0M160.7 662.2h0M164.8 672.8h0M161.3 665.5h0M165 669h0M163.8 663.5h0M156.8 666.5h0M155.7 665.3h0M150.6 665.3h0M166.7 669.8h0M151.1 665.2h0M151.3 663h0M148.3 664.1h0M151 660.9h0M168.9 663.9h0M140.8 571.4h0M136.9 570.2h0M147 566.1h0M139.1 572.2h0M139.3 570.8h0M139.5 561.5h0M144.3 563.7h0M138 564.6h0M145.1 568.4h0M152.8 574.1h0M145.7 564h0M147.6 575h0M140.3 562.9h0M146.2 564.6h0M144.8 571.4h0M143.4 566.7h0M139.6 565h0" stroke="#d3d3d3" stroke-width="0.85" stroke-linecap="round"/><path d="M138.7 626.7h0M140.3 638.8h0M137.4 632.9h0M136.5 638.8h0M136 625.2h0M141.1 631.8h0M140.2 639.7h0M136.8 637.4h0M139.1 629.1h0M140.1 631.9h0M134.5 637.4h0M135.4 628.2h0M138.1 640.5h0M138.9 632.3h0M138.3 640.4h0M136.9 637.5h0M132.7 626.8h0M140.3 632.5h0M137.8 627.3h0M138.1 641.4h0M133.8 642.2h0M140.9 639.7h0M142 634.6h0M132.1 622h0M141.2 638h0M138.1 640.8h0M138 626.4h0M134.9 637.4h0M138.4 638.9h0M137.6 627.7h0M141.8 634.2h0M138.7 638.5h0M136 632.8h0M140.8 632.5h0M139.9 638.2h0M138.4 632.3h0M163.3 625.2h0M156.4 619h0M167.2 623.4h0M187.2 615.3h0M185.3 608.4h0M180.6 623.9h0M182.5 627.2h0M158.5 621.4h0M182.5 623.1h0M174.5 602.3h0M181.7 619.7h0M177.6 603h0M175 623.9h0M162.9 624.6h0M178.4 617.5h0M154.4 613.8h0M173.9 614.1h0M164.3 612h0M181.2 606.3h0M163.1 615.8h0M159.1 611.8h0M171.9 605.4h0M163.5 609.1h0M174.6 615.1h0M170.8 619.9h0M176.6 625.7h0M184 607.6h0M179.6 623.4h0M170.4 605.6h0M166.7 622.2h0M177.6 618.5h0M153.9 615.4h0M170 619.2h0M164.7 619.6h0M176.7 607.3h0M182.2 614.5h0M168.9 617.4h0M155.4 618.8h0M177 605.2h0M180.6 619h0M175.6 620.2h0M180.5 620h0M182.7 611.9h0M178.8 618.1h0M167 617.4h0M178.6 613.2h0M157.7 620.1h0M162.4 607.1h0M170.2 616.3h0M167.6 625.5h0M176.2 614.5h0M176.9 628.5h0M185.5 611.1h0M181.1 620h0M157.9 611.4h0M167.7 625.7h0M187.7 617.3h0M182.4 626.2h0M169.5 627.3h0M164.5 624.2h0M166.9 613h0M181.7 625.1h0M173 629.2h0M161.4 626.9h0M163.9 627.1h0M167.6 631.1h0M165.1 621.9h0M164.3 623.7h0M160.5 623.9h0M161.3 636.2h0M171.3 640.5h0M161.8 641.4h0M177.3 623.8h0M160.2 637.1h0M168 643.9h0M160.6 638.8h0M176.6 628.4h0M174.5 634.9h0M170.5 634.5h0M170.7 638.8h0M168.3 628.3h0M171.9 645.3h0M179.8 633.6h0M175.3 634.3h0M175.7 626.3h0M158.5 631.5h0M156.9 629.4h0M177.5 630.4h0M170.2 626.4h0M162.8 621.1h0M161.5 640.4h0M152.2 626.5h0M157.5 637.8h0M178.4 625.3h0M165.1 641.2h0M160.3 635.7h0M160.7 637.5h0M164.6 639.6h0M179.5 630.7h0M173.3 629.4h0M161.7 632.1h0M169.8 648.3h0M153.3 627.1h0M163.8 625.9h0M155.3 621.6h0M181.7 626.4h0M163.5 646.1h0M165.7 622.7h0M167.4 640.2h0M164.3 621.7h0M172 643.3h0M168.5 634.2h0M163.9 630.8h0M173.6 637.8h0M163.2 632.1h0M181 627.8h0M161.6 639.1h0M161.4 647.2h0M180.2 626.2h0M181.5 631.5h0M158.2 620.8h0M180.6 626.5h0M179.3 625.2h0M159.8 629.5h0M182.4 633.6h0M167.4 631.7h0M177.2 625.5h0M168.3 630.9h0M181.6 637h0M159.5 641.4h0M171.1 641.4h0M155.6 621.6h0M155.7 622.3h0M152.3 628h0M173.7 645.5h0M153.4 638.4h0M161.7 634.3h0M160 622.7h0M159.4 620.9h0M157.3 641.8h0M161 626.8h0M176.2 635.1h0M169.1 634.5h0M166 632.4h0M159.7 636.9h0M155.2 622.5h0M157.4 638.1h0M150.6 628.3h0M170.1 644.9h0M164.5 647.7h0M158.2 622.8h0M179.5 636.9h0M161.9 640.6h0M167.6 644.3h0M169.4 637.3h0M162.5 624h0M177.5 634h0M179.9 625.2h0M156.8 629.6h0M163 633.5h0M154.8 640.5h0M153.2 638.3h0M164.1 648.4h0M166.5 635.2h0M176.3 619.2h0M171.3 616.3h0M179.9 623.2h0M158.4 616.9h0M175.3 625.7h0M180.9 621.1h0M179 625.6h0M169.4 621.4h0M172.6 622.7h0M179.3 623.7h0M179.4 627.2h0M148.6 580.6h0M151.6 573.8h0M160.4 578h0M148.9 583.2h0M154.5 578.3h0M171.2 588.6h0M165.7 595.1h0M165.2 580.3h0M176.9 603.1h0M161.8 606.3h0M162 609.8h0M156.8 599.8h0M161 599.6h0M159.2 587.5h0M158.5 590.4h0M151.8 588.3h0M154.2 604.5h0M170.2 592.8h0M163.8 587.5h0M152.1 583.9h0M162.1 595.7h0M157.2 606h0M147.6 587.2h0M150.7 590.5h0M160.5 576.7h0M159.7 586.5h0M167.6 605.9h0M168.8 586.4h0M158.2 606h0M171.7 596.4h0M160.2 594.1h0M165.4 583h0M154.7 578.5h0M164.8 588.9h0M153.7 586.1h0M166.7 589.3h0M158.1 600.9h0M157.5 593.3h0M150.9 597.4h0M155.9 572.7h0M170.7 607.4h0M148.4 591.5h0M152.9 594h0M151.8 575.2h0M156.9 609.9h0M173.3 597h0M159 573.6h0M165.6 582.1h0M149.7 577.4h0M154.9 595.1h0M157.1 610.6h0M169.5 606.3h0M151.6 584.4h0M172.7 591.8h0M151.8 572.5h0M152.5 580.7h0M158.5 577.4h0M166.5 604.5h0M167.4 608.2h0M169.4 597.5h0M153.5 584.8h0M152.5 582h0M167.7 593.5h0M149.6 584.9h0M153.2 592h0M158.2 605.4h0M168.1 587.6h0M171.1 590.4h0M156.9 608.5h0M149.1 593.9h0M178.5 602.2h0M154.9 587.7h0M150 597.5h0M170.9 595.8h0M161.9 585.9h0M147.7 586.5h0M148 586.1h0M174.4 599.3h0M152 596.9h0M150.9 573.6h0M159.1 581.3h0M158.7 599h0M162.3 589.1h0M150.8 599.8h0M164.9 603.6h0M173 599.7h0M150.7 600.9h0M153.6 603.3h0M156.8 601.9h0M164.9 594.5h0M161.1 599.7h0M149.5 587.7h0M163.2 588.4h0M169.1 594.8h0M167.1 591h0M162 597.5h0M150.4 592.5h0M163.6 591.3h0M175.7 600.8h0M151.5 582.7h0M159.1 610.4h0M156.7 576.5h0M166.7 604h0M163.6 596.1h0M166 600.5h0M159.7 592.6h0M160.6 609h0M152.8 588.7h0M153.9 595.4h0M168.9 594h0M177.4 602.2h0M154.8 583.7h0M172.8 592.1h0M166.5 595.4h0M158.2 574h0M161.4 599.7h0M164.2 585h0M178.3 603.6h0M157.7 606.8h0M156.8 592.9h0M147.9 589.2h0M147.7 593.7h0M149.4 596.1h0M145.5 596h0M145.6 595.6h0M152.4 646.4h0M150.5 647.3h0M164 607.2h0M156.6 604.9h0M163.5 606.6h0M172.5 607.1h0M164.7 607.4h0M175.2 604h0M165.5 607.7h0M163.4 610.8h0M175.7 602h0M159.5 611.8h0M164.1 608.6h0M164 603.9h0M138.3 585.7h0M137.6 584.3h0M136.7 603h0M141.9 598h0M142.1 596.9h0M139.4 595.4h0M138.9 600.2h0M139 585.2h0M133.4 601h0M135.7 584.4h0M136 585.2h0M131.5 601.2h0M136 599.7h0M135.8 582.7h0M139.6 600.1h0M130 586.4h0M140.7 595.8h0M134.1 577.9h0M141.1 593.1h0M136.7 601.5h0M139.7 603.3h0M138.7 589.2h0M135.9 580.8h0M135.5 580.1h0M141.4 600h0M138.8 585.5h0M142.3 597.8h0M133.4 579.5h0M139.6 600.9h0M135.9 598.6h0M143 601h0M140.2 595.8h0M139 601.7h0M135.7 596.4h0M135.7 601h0M140 600.4h0M136.3 597.5h0M139 602.3h0M137.5 594.3h0M143.1 602.4h0M143.2 597.9h0M140.2 588.5h0M140.7 585.6h0M144.4 587.9h0M147.7 581.2h0M146.5 595.5h0M141.2 586.6h0M140 579.2h0M148.3 579.2h0M141.3 573.9h0M147.1 595.8h0M145.3 593.3h0M139 570.7h0M147.8 585.9h0M141.6 592.8h0M143.3 595.4h0M147 592.5h0M148.7 599.4h0M148.3 594.8h0M141.9 575.2h0M150.1 602.5h0M143.6 579.5h0M136.6 567.3h0M138.5 578.2h0M144.2 600.9h0M141 585.5h0M143.9 632.6h0M150.7 606.5h0M144.6 607.3h0M149.8 624.4h0M144 636.8h0M148 609.4h0M135.5 626.1h0M143.5 632.2h0M150.2 620.4h0M141.7 634.1h0M151.2 609.2h0M143.4 633.8h0M141.8 621.2h0M137.1 623.5h0M151.2 608.2h0M145.5 613.2h0M135.7 604.9h0M146.3 637.8h0M136 604.2h0M144.9 609.2h0M140.6 619.3h0M150.6 608.2h0M148.6 618.9h0M139.6 635.6h0M140.3 636.6h0M137.3 612.1h0M149 618.9h0M139.6 618.2h0M143.6 606.8h0M145.5 608.3h0M148.9 634.1h0M149.1 607.1h0M151.6 611.4h0M149.8 610.1h0M145.5 615.8h0M140.8 619.9h0M138.5 613.7h0M145.1 624.1h0M143.9 605.9h0M139.4 605.7h0M140 620h0M138.1 626.2h0M140 627.5h0M146.1 615.1h0M138.4 610.7h0M142.4 631.5h0M138.2 630.5h0M138.5 627.3h0M142.4 615h0M149.3 635.9h0M141.9 617.3h0M141.4 616.3h0M139.5 618.3h0M143.4 637.2h0M147.7 637.3h0M141.1 607.3h0M144.6 617.3h0M136.8 620.6h0M144.9 628.6h0M141.6 595.6h0M139.7 603.8h0M140.6 594.3h0M140.4 593.9h0M141.7 601.8h0M135.5 600.7h0M140.6 601.3h0M141.8 598.1h0M142.9 600.7h0M141.4 583.5h0M139.9 591.7h0M137.8 575.1h0M141.4 593.7h0M143.2 581.8h0M136.1 588.9h0M140.9 584.4h0M139.5 576.1h0M141.6 580h0M141.1 593h0M129.3 558.6h0M135.5 561.7h0M136.2 559.5h0M134.5 569.1h0M134.8 564.3h0M135.4 570.6h0M135.5 571.1h0M135.5 568.3h0M132.9 571h0M162.4 668.1h0M158.7 670.3h0M154 667.9h0M162.7 661.3h0M167.9 661.9h0M169.8 667.8h0M147.2 663.7h0M158.6 669.5h0M163.4 667.8h0M152.7 661.7h0M164.2 674.5h0M159.9 670.3h0M158.1 670h0M166.6 669.6h0M158 670.9h0M153.7 667.2h0M152.5 663.9h0M165.8 674h0M159.7 667h0M165 663.1h0M158.3 667h0M153.8 664.7h0M163 666.7h0M158.2 667.4h0M162.5 672.5h0M153 667.2h0M164.3 662.8h0M158 666.1h0M170.6 666.5h0M166.6 663.4h0M163.7 671.8h0M161.3 664.9h0M152.2 666.8h0M170.3 669.1h0M155.8 661.4h0M149.5 665.8h0M159.5 665.9h0M168.5 669.7h0M158.8 663.2h0M157.6 671.6h0M168 670.5h0M166.3 668.7h0M170.9 665.1h0M168.7 670.6h0M158 669.9h0M159.9 667.7h0M147.1 663.5h0M165.8 659.5h0M171.5 667h0M155.7 669.3h0M156.6 669.6h0M164.5 666.7h0M164.7 669.4h0M158.9 664.7h0M169.7 667.1h0M167.4 667.6h0M160.2 665.1h0M160.1 666.4h0M153.6 666.6h0M154 661.6h0M166.7 668.9h0M168.1 670.7h0M152.6 665.3h0M165.2 662.1h0M163.9 668.7h0M163.8 674.6h0M164 671.1h0M153.5 668h0M168.8 667.6h0M156.7 664h0M158 672.1h0M150.4 661.1h0M167.5 665.7h0M148.5 664.8h0M155.3 663.3h0M150.4 665.6h0M166.2 663.3h0M151.4 664.6h0M169.6 664.2h0M157.9 668.6h0M167 673.5h0M143.3 575.2h0M139.9 576.3h0M137.4 573.5h0M144.2 572.6h0M146.4 566.2h0M148.6 567.4h0M146.6 570.4h0M143.4 561.6h0M146.5 561.8h0M145.3 565.5h0M137.1 569.1h0M137.3 570.3h0M139 574.1h0M142 575.4h0M153 570.7h0M147.6 564.9h0M144.4 561.5h0M153 572.9h0M145.3 564.7h0M139.7 564.8h0M142.8 577.3h0M146 565.6h0M145.5 564.6h0M136.6 570.8h0M136 564.9h0M140.2 576.4h0M138.2 570h0M154.2 570.5h0M137.6 561.7h0M144.2 569.4h0M146.2 577.2h0M152.5 575.1h0M137.7 565.5h0M137.8 570h0M153.7 572.3h0M139.8 572.5h0M154.9 572.6h0M152.6 565.3h0M147.2 561.7h0M143.7 567.9h0M155.2 569.1h0M139.1 568.8h0M149.6 569h0M145.8 577h0M151.6 564.1h0M138.3 564.5h0M135.6 569.6h0M138 575.4h0M138.5 570.5h0M140 575.8h0M140.1 575.1h0M145.8 566.3h0M140.1 563.8h0M149.9 578.1h0M137.4 561.5h0M139.2 567h0M145.8 562.2h0M149.2 576.4h0M151.6 566.7h0M148.7 578h0M139.9 569h0M144.2 563.7h0M139.3 575.5h0M138.7 566.6h0M137.2 562.9h0M141 565.7h0M147.7 576h0M145.2 572.5h0M144.4 576.2h0M146.9 570.6h0M141.8 567h0M146.1 577.5h0M153.7 568.5h0M141 564.9h0M152.7 570h0M148.5 568.3h0M139.3 564.1h0M146.5 578.3h0M150.3 570.3h0M136.1 565.6h0M143.4 573.9h0M147.7 568h0" stroke="#cac0d9" stroke-width="0.85" stroke-linecap="round"/><path d="M132.1 625.7h0M131.4 629.3h0M126 613.1h0M136.3 630.6h0M136.5 635.9h0M135.7 638.3h0M131.5 636.8h0M136 632.6h0M130.9 640.8h0M135.8 624.2h0M135.8 640.4h0M134.8 638.3h0M130.2 622.4h0M131 632.6h0M139.2 636.6h0M130.3 635.3h0M133.1 626.1h0M126.2 611.4h0M132.7 624h0M132.5 628.8h0M134.2 630.7h0M130.3 625.7h0M134.8 630h0M131.8 624.8h0M134.8 632.6h0M130.8 623.7h0M134.9 640.6h0M133.2 633.3h0M132.2 620.2h0M131.7 618.4h0M131.9 631.3h0M130.1 637.9h0M140.3 630.7h0M134.5 627.9h0M136.4 629.5h0M134.2 619.7h0M134 623.8h0M135.3 636h0M134.3 633.2h0M132.2 627.2h0M133.7 626.4h0M134.4 626.4h0M128.9 638.4h0M130 638.6h0M139.2 635.2h0M139.4 638.3h0M133.4 639.2h0M132.3 615.4h0M136 624.7h0M128.9 616.2h0M136.2 627.1h0M129.6 618.8h0M128.6 635.8h0M127.5 623.6h0M125.9 616h0M132.2 612.7h0M134.2 627.3h0M128.6 628.6h0M129.8 613.3h0M139 641.7h0M132.6 633.9h0M129.4 619.7h0M135 634.5h0M135.8 632.9h0M132.7 624h0M168.8 607.4h0M180.7 621.5h0M170.2 605.4h0M162 617.3h0M175.1 628h0M152.3 626.6h0M179.6 627.5h0M172.1 626.2h0M161.5 620.4h0M156.8 592.2h0M159.6 593.7h0M158.2 591.6h0M156.8 574h0M167.4 582.2h0M165.3 594.2h0M162.1 583h0M150.5 585.4h0M145.4 597.5h0M134.8 589.8h0M126.6 586.9h0M133.1 591.2h0M131.3 599.1h0M134 590.5h0M137.7 601.3h0M133.8 591.5h0M133.2 582h0M132.8 577.5h0M131.9 596.5h0M134.2 580h0M139.7 601.6h0M132.3 601.9h0M131.9 588.5h0M131.2 582h0M130.5 596.3h0M134.6 586h0M139 600.4h0M133.7 589.6h0M138.9 590.8h0M140.9 601.3h0M136.2 598.9h0M128.4 588.7h0M134.7 580h0M141.2 595.7h0M134.4 593.3h0M127.5 575h0M134.6 580.9h0M133.9 586.3h0M132.4 582.9h0M130.4 590.7h0M130.7 580.2h0M133.4 580.5h0M134.3 587.4h0M132.4 576.3h0M132.5 602.4h0M134.8 588.3h0M130.7 581.6h0M126.1 577.8h0M136.7 592.8h0M133.6 597.9h0M130.6 602.5h0M133.9 592.2h0M130.4 597.9h0M132.1 594h0M134.3 596.3h0M136.6 602.8h0M134.6 593.6h0M128.1 593.1h0M145.6 580h0M148.4 581.6h0M138.2 578.4h0M141.3 594.7h0M145.6 583.6h0M149.2 576.8h0M143.2 587.2h0M148.9 588h0M145.5 601.1h0M146.2 590.4h0M147 576.6h0M145 599.9h0M139.1 577.1h0M147.8 578.2h0M139.1 575.7h0M149.6 594.6h0M146.5 629.2h0M143.7 610.3h0M150.4 632.6h0M141 619.4h0M146.1 622.9h0M144.6 611.7h0M142.8 610.3h0M140.3 608.8h0M101.2 644.4h0M142.5 589.3h0M135.5 570.9h0M135.8 557.8h0M136.4 558.8h0M133.6 559h0M138.8 561.1h0M135.3 558.3h0M123.1 557h0M133.8 561.6h0M130.2 560.8h0M134.5 557.5h0M132.2 561.9h0M129.6 560.5h0M130.3 556h0M130.4 557.9h0M136.2 560.9h0M132.5 567.1h0M131.6 565.9h0M131.6 564.5h0M133.4 568.3h0M133.3 567.3h0M129.8 569.1h0M125.1 565.5h0M131.7 568.3h0M168.7 662.6h0M155.6 664.8h0M160 672.7h0M156.4 670.9h0M157.2 667.4h0M170.1 669.1h0M162.8 662.4h0M162 674h0M165.6 661h0M164.3 661.2h0M165.3 666.9h0M154 662.6h0M150.2 664.9h0M170 663.2h0M170 666.9h0M163.9 672.7h0M156.7 668.5h0M148.6 566.5h0M143.3 578.2h0M149.7 573.9h0M147.8 569.9h0M141.5 563.3h0M146.2 567.2h0M145.6 560.8h0M151.6 572.1h0M140.4 567.3h0M143.2 571.2h0M155.6 569.1h0M153.1 566h0M141.2 563.5h0M145.8 561.5h0M137 567h0M153.5 573.4h0M140.8 574.8h0M153.4 569.5h0M142.8 577.5h0M151 570h0M144.1 572.6h0M149.4 567.4h0M136.6 568.1h0M145.5 573.7h0M152.1 576.2h0M149.4 565.5h0M137.5 564.3h0M139.6 571.8h0M151.2 564.4h0M151 563h0M139.8 561.8h0M142.8 574.2h0M137.9 567.6h0M143.2 565.1h0M145.2 562h0M143.4 562.1h0M143 569.2h0M152.8 563.7h0" stroke="#c1aede" stroke-width="0.85" stroke-linecap="round"/><path d="M129.7 612.9h0M129.3 613h0M125.8 617.9h0M125.2 632.7h0M126.7 622h0M128.5 637.5h0M130.2 620.2h0M127.1 624.4h0M127.8 620.9h0M127 636.7h0M134.2 632h0M129.9 629.9h0M130.9 611.5h0M129.8 633h0M133.4 642.6h0M127.9 633.7h0M127.5 628.3h0M123.8 603.6h0M128.1 609.5h0M133.4 621h0M133.1 632.5h0M127.9 632.5h0M125.4 633.1h0M129.8 629.6h0M131.7 610.9h0M125.8 623.8h0M122 606.8h0M127.5 629.5h0M123.6 611h0M127.1 633.4h0M125.4 616.4h0M137.5 626.1h0M130.4 636.5h0M129.6 607.1h0M130.2 634.9h0M129.4 613.4h0M131.1 640.7h0M128.8 619.5h0M129.3 610.1h0M131.2 609.5h0M131.6 621.9h0M129.1 605.9h0M129.9 610.9h0M132.9 641.4h0M124.2 604.7h0M124.1 627.9h0M123.6 628.2h0M128.4 639h0M128.2 614h0M127.4 612.5h0M126.1 627.2h0M127.6 616.7h0M130.1 608.8h0M130.1 611h0M126 621.3h0M132.7 630.2h0M130.3 627.7h0M128.1 638.2h0M129.7 608.6h0M124.3 624.1h0M125 616.9h0M131.3 616.3h0M126 620.8h0M129.9 614.7h0M133.1 638.2h0M124.2 630.1h0M136.7 634.1h0M128.5 637.7h0M127 632.1h0M129.2 629.2h0M130.3 637.6h0M132.8 628.8h0M132.5 621.5h0M126 613.5h0M131.4 635.5h0M126.1 617.3h0M123.2 608.8h0M129.5 631.1h0M130.6 636.1h0M131.2 631h0M134.9 594.1h0M122.8 578.7h0M134 594.3h0M132.9 575.6h0M135.1 578.9h0M118.6 570.6h0M125 577.6h0M129.8 590.7h0M131.3 600.2h0M125.9 579.9h0M131.9 596.8h0M134.8 582.6h0M130.9 584.6h0M133.1 598.8h0M132 585.6h0M126.1 577.3h0M127.8 589.1h0M133.8 581.3h0M122.4 574.9h0M126 582.3h0M124.1 574.2h0M127.5 577h0M134 586.6h0M124.5 580.6h0M127 571.7h0M124.1 572.2h0M127.1 574.7h0M124.7 570.7h0M134.6 600.5h0M134.2 602.5h0M132.5 593.2h0M127.8 572.3h0M134.9 593h0M133.8 591.3h0M126.5 591.5h0M133.9 598.5h0M135 581.9h0M120.7 570.6h0M124.3 587.5h0M131.3 573.7h0M127.2 591.1h0M124.5 577.8h0M131.5 575h0M128.5 580.9h0M128.5 580.1h0M126.2 588.7h0M123.2 575.3h0M123.6 571.8h0M124.4 571.7h0M132.7 591.7h0M133 578.9h0M129.3 596.1h0M127.7 588.7h0M134.1 590.5h0M133 596.2h0M129.7 580.2h0M126.5 585.1h0M131.9 585.8h0M124.5 587.2h0M131.2 576.6h0M122.4 574.4h0M134.3 580.8h0M133.1 591.1h0M127.4 598h0M129.7 602.7h0M134.4 600.7h0M135.4 591.6h0M126 592.7h0M130 593.3h0M127.8 593.7h0M127 592.2h0M128.8 594.3h0M132.3 598.8h0M129.2 597.8h0M129.9 596.8h0M133.5 594.2h0M126 590.6h0M134.3 597.4h0M124.4 592.4h0M133.7 596h0M127.9 594.2h0M130.3 598.4h0M128.7 597.1h0M127.3 597.6h0M121.3 596.4h0M120.4 595.2h0M126.3 634.3h0M120.3 634.6h0M127 631.1h0M126 635.3h0M125.6 633.5h0M123.3 632.2h0M118.6 626.3h0M127.8 635.4h0M121.2 630.7h0M122.5 634.4h0M121.1 631.6h0M128 630.4h0M122.1 635h0M134.7 612.7h0M133.8 623.1h0M133.9 625.7h0M134.9 625h0M134.9 627.6h0M114.3 637.4h0M111.6 645.3h0M108.8 635.9h0M107.2 637.7h0M116.3 644.1h0M118.8 638.8h0M109.7 645.4h0M107.7 637.7h0M118.7 638.4h0M104.3 643.3h0M98.9 643.4h0M84.7 628.6h0M81.2 632.9h0M82 632h0M85.7 630.6h0M77.5 629.5h0M79 624.7h0M83.6 631.2h0M83.7 631.3h0M83.1 632.5h0M122.8 599.6h0M131.4 597.9h0M112.8 596.1h0M133.9 594.2h0M123 595.5h0M126.6 593.9h0M130.2 566h0M133.7 571.4h0M125.3 560.1h0M114.8 572.5h0M125.2 555.6h0M109.5 567.1h0M116.5 566.4h0M131.1 555.7h0M124.8 555.6h0M118.9 556.8h0M112.9 563h0M118.7 554.8h0M114.7 570.1h0M118.3 564.4h0M127.3 558.8h0M122.9 560.8h0M135.2 559.2h0M118 558h0M122.1 556h0M126.1 559.4h0M120.9 556.1h0M118.8 554.5h0M118.3 555.6h0M124.2 558.8h0M128.1 560.6h0M124.7 564.2h0M131.3 569.7h0M123 564.3h0M126.2 564.5h0M128.1 568.5h0M125.5 563.2h0M126.2 562.8h0M150.5 563.3h0M149.1 575.4h0" stroke="#b69ce3" stroke-width="0.85" stroke-linecap="round"/><path d="M116.6 607.3h0M124.1 604.3h0M125.6 627.7h0M125.6 624.6h0M118.2 613.9h0M127.8 636.4h0M122.1 628.1h0M120.7 603.8h0M126.1 605.8h0M119.7 620.4h0M125.7 628h0M119.6 624.3h0M126 632.1h0M122.7 603.1h0M126.1 606.7h0M118.5 610.1h0M123.7 602.4h0M129.5 617.8h0M125.9 630h0M123.3 626.2h0M120.9 602.2h0M126.8 629.7h0M127 635.7h0M123.4 618.8h0M124.3 615.7h0M123.7 612.2h0M121.5 614.7h0M125.9 632.7h0M126.6 635.9h0M122.9 629.8h0M124.2 622.3h0M123.7 628.3h0M121.9 617.6h0M119.5 611.7h0M128.1 607.2h0M128.2 625.8h0M122.8 618.6h0M128.2 630.2h0M123.2 617.4h0M124.4 615.8h0M123.4 609h0M124.4 607.7h0M126 611.2h0M127.7 625.7h0M127.8 615.5h0M124.2 613.8h0M123.1 620.6h0M131 628.3h0M125.6 612h0M128.9 611h0M124.4 623.4h0M122.1 621.9h0M123.6 623.8h0M124.3 603.9h0M120.8 623.7h0M127 615.4h0M129.5 632.8h0M125.9 623.5h0M125.4 615.6h0M125.7 620.1h0M123 622.4h0M122 627.8h0M126.7 630h0M126 604h0M117.8 599.7h0M121.5 609.2h0M122.6 607.4h0M118.8 622.9h0M117.8 600.9h0M120.4 609.1h0M128.8 626.7h0M123.1 607.7h0M119.5 615.6h0M124.2 627.5h0M124.8 616.9h0M124.6 632.7h0M118.9 599.8h0M120.4 607.1h0M128.8 634.7h0M125.4 612.4h0M133 631.3h0M119.9 622.8h0M129.3 620.6h0M124.1 617.9h0M117.5 607.3h0M119.7 620.4h0M100.9 685.1h0M103 675.9h0M102.3 684.8h0M102.5 676.7h0M123.9 572.8h0M133.4 601.1h0M122.2 582.3h0M127.7 573.6h0M125.9 575.7h0M117.6 569.2h0M120.5 571.1h0M127 572h0M120 583h0M117.7 574.5h0M131.7 579.7h0M131.6 578.5h0M128.8 585.6h0M126.7 593.6h0M125.2 578.3h0M122.7 573.4h0M127.1 570.9h0M119.6 576.9h0M124.4 581h0M120.1 574.9h0M126.3 590.3h0M119.5 575.6h0M121.4 572.4h0M122.8 580.6h0M125.2 573.7h0M124.6 574.6h0M128.3 585.8h0M131.8 584.6h0M127.8 586.2h0M124.7 583.5h0M125.2 588.9h0M128.2 593.1h0M124.3 571.1h0M124 568.9h0M131 578.4h0M126.7 589.8h0M126.2 591.4h0M129.8 577.6h0M120.1 572.7h0M130.1 596.6h0M130 602.6h0M123.6 592.7h0M128.1 591h0M129.1 594.8h0M124.7 592.7h0M126.4 594.6h0M123.2 591.3h0M125.3 594h0M122.2 589.3h0M122.5 589.4h0M116.8 587.6h0M119.7 587.6h0M115.7 588.6h0M122.2 595.9h0M119.3 590.2h0M123.9 598.2h0M121.2 595.1h0M126 592.4h0M120 631.2h0M122.9 631.5h0M116.5 629.5h0M117.2 626h0M121.7 625.4h0M122.5 630h0M126 625.5h0M117.6 629.5h0M126.2 632.7h0M119.7 624.2h0M121.1 626.2h0M119.7 625.4h0M127.5 633.3h0M118.9 628h0M127.6 630.2h0M118.2 633.3h0M123 632.6h0M126.8 631.2h0M119.8 627.3h0M127.3 634h0M119.3 635.8h0M120.2 627.2h0M124.8 636.3h0M125.9 631.2h0M123.5 631.9h0M118.5 628.3h0M118.9 625.8h0M125.4 624.5h0M119 628.7h0M133.7 620.8h0M134.9 623h0M134.8 627.7h0M134.7 618.9h0M134.3 625.3h0M134.1 617.1h0M134.4 606.7h0M135.3 626h0M103.2 646.8h0M109.3 643.3h0M118 633.7h0M109.2 646.3h0M105.9 646.3h0M100.9 643.6h0M111.8 638h0M106.8 648.2h0M100.9 648.7h0M98.7 640.7h0M99.2 640h0M116.6 634.4h0M101.5 645.1h0M111.7 644.6h0M109.6 643.1h0M114 645.4h0M109.3 645.7h0M117.4 635.6h0M113.4 640.4h0M107.8 647.3h0M115.9 635.2h0M101.1 636.8h0M115.2 643.5h0M120.4 644.3h0M100.1 649.5h0M75.8 631.4h0M73.7 621.8h0M80.4 630.3h0M74.1 623.3h0M84.6 633h0M84.2 631.9h0M82.4 625.8h0M79.9 625.8h0M79.3 632.8h0M74.4 623h0M81.9 629.3h0M75 621.6h0M83.3 635.8h0M82.9 635.2h0M81.1 629.7h0M121.6 594.4h0M131.2 598.3h0M129.5 596.4h0M117.2 600.2h0M135 594.6h0M124.8 599.3h0M134.3 602.7h0M132.1 600.7h0M123 600.8h0M130.3 594.7h0M121.8 597.3h0M119.2 594.7h0M123.6 600.6h0M128.8 601.2h0M121.2 593.8h0M122 598.4h0M132.5 600.1h0M135.2 579.8h0M130 567.2h0M135.3 566.7h0M131.5 574h0M133.7 569.6h0M134.5 576.9h0M135.2 575.9h0M124.6 560.1h0M115.4 554.7h0M113.8 570.9h0M123.1 560.6h0M112.9 570h0M114.3 567.3h0M115.2 571h0M119.3 564.2h0M121.9 555.7h0M113.9 571.3h0M112.3 572.1h0M119.9 563h0M115.4 569.5h0M115.4 562.8h0M120.1 562.6h0M115 571.3h0M119 559.5h0M116.5 566.8h0M111.5 561h0M128.6 560.8h0M118.9 554.4h0M114 572.5h0M121.5 559.6h0M115.5 567.4h0M122.5 560.6h0M111.1 567.2h0M121.3 556.6h0M115.2 571.5h0M109.5 571.3h0M117.5 562.5h0M116.8 557h0M117.3 555.3h0M115.8 570.6h0M115.6 560.6h0M111.2 567.8h0M115.2 566.1h0M113.9 561.6h0M114.4 561.6h0M118.5 560.7h0M127.4 567.1h0M98.7 606.9h0M110.5 605.9h0M108.5 616h0M100.6 615.7h0M97.5 612h0M101.6 607.1h0M110.2 604.4h0" stroke="#aa89e7" stroke-width="0.85" stroke-linecap="round"/><path d="M118.2 616.8h0M124.1 623.7h0M117.4 609.5h0M123.3 613.4h0M120.3 601.1h0M121.3 614.4h0M122.7 615.6h0M119.3 622.7h0M120.9 603.2h0M120.9 603.8h0M120.7 621.4h0M124.7 627.8h0M121.6 606h0M114.9 617.2h0M115.4 607.8h0M121 617.9h0M117.9 609.9h0M120.7 610.7h0M114.6 601.9h0M118.8 610.6h0M116.7 618.9h0M118.4 608h0M116.6 617.6h0M114.5 613h0M117.1 603.4h0M118.7 621.4h0M119.5 610h0M117.4 608.8h0M116.2 610.9h0M115.1 620.1h0M121.3 622.2h0M123.4 602.4h0M117.7 604.1h0M115.3 612.8h0M110.2 602.8h0M112 608.5h0M121.8 601.7h0M111.3 607.9h0M118.6 616.5h0M120.2 603.6h0M123.4 619h0M115.7 609.3h0M117.4 613.2h0M118 620.8h0M121.9 626.9h0M116.5 611.2h0M114.7 601.8h0M119.4 623.1h0M114.7 616.9h0M115.3 621.1h0M119.4 625.5h0M119.3 619.6h0M115 610.4h0M121.1 608.1h0M124 628.9h0M117.7 602.4h0M122.5 628.7h0M110.6 613h0M124 618.2h0M110.1 603.7h0M118.3 611.5h0M119.1 613.7h0M109.4 601.7h0M122 605.3h0M116.3 601.2h0M121.7 608.5h0M121.5 618.8h0M117.9 603.3h0M123.3 606.5h0M108.8 667.3h0M101 681.9h0M102.5 663.7h0M101.8 654.7h0M96.3 684.8h0M105.7 672h0M95.8 683.8h0M119 659.1h0M108.8 668.4h0M111.6 679h0M104.4 655.3h0M116.4 650.9h0M109.1 657.6h0M102.7 678.5h0M116.3 667.2h0M108.8 676.7h0M102.6 662.2h0M104.8 686.3h0M118.6 657.6h0M104.1 650.9h0M105.3 674h0M107 676.8h0M117.3 672.3h0M102.2 686h0M102.8 662.5h0M112.9 666.3h0M107.7 674.6h0M97.2 679.2h0M108 672.3h0M101.6 676.7h0M99.9 681.7h0M98.3 678.7h0M106.8 654.5h0M105.7 660.1h0M105.1 650.8h0M102.8 649.7h0M103.2 659.7h0M115.7 667.8h0M103.9 672.8h0M109.7 654.5h0M108.4 681.2h0M113.8 667.7h0M117.1 666.5h0M103 654.6h0M115.2 655.3h0M102.4 675.8h0M116.3 659h0M104 653h0M102 673.9h0M100.3 681.9h0M105.3 649.9h0M118.9 664.6h0M101.8 676.2h0M104 686.5h0M111.3 674h0M102.8 660.5h0M99.4 687.8h0M113.3 657.7h0M110.6 670.5h0M116.8 665.6h0M101.4 664.7h0M118.1 669.3h0M111.5 651h0M118.6 655.4h0M102.2 676h0M104.4 662.5h0M123.2 582.4h0M119 576.1h0M120.8 576.6h0M118.3 577.7h0M120.3 568.9h0M127.3 576.2h0M118.5 573.4h0M122.3 586.5h0M118.5 578.5h0M127.5 593.1h0M124.7 592.2h0M118.2 586.6h0M116.8 587.6h0M118.5 588.5h0M116.3 586.6h0M118 585.5h0M121.5 591.3h0M116.4 584h0M124.8 625h0M123.8 628.1h0M124.7 629.5h0M118.8 632.6h0M124.6 632.4h0M122.4 635.3h0M135 623.8h0M135.1 605.4h0M134.9 627.2h0M135.1 606.6h0M110.8 641.3h0M112.1 644.1h0M114 635.1h0M110.1 638.9h0M104.1 644.3h0M107.4 646.1h0M110.2 643.9h0M120.2 640.1h0M116 639.8h0M98.1 641.2h0M75.9 622.3h0M78.6 632.5h0M76.7 625.9h0M75.2 621h0M116.5 596.5h0M115.5 597.7h0M121.2 598.4h0M114.1 596.2h0M126.3 601h0M126.8 594h0M124.8 601.7h0M133.1 599.5h0M132.8 595h0M130.4 596.1h0M130 574h0M133.1 573.6h0M114.4 556h0M115.7 567.2h0M112.7 556.9h0M112.1 564.5h0M114.2 573.5h0M113.8 568.1h0M113.7 569h0M110.6 573.4h0M114.5 560.1h0M116.3 573.8h0M114.3 559h0M116.8 556.7h0M114.9 572.9h0M116 562.4h0M115.4 561.4h0M110.1 568.3h0M113.7 565.5h0M114.3 568.1h0M113.8 558.1h0M103.7 604.8h0M105.6 608.8h0M105.4 607.1h0M106.3 611.1h0M107.9 601.6h0M105.1 607.6h0M103.3 606.3h0M97.6 607.3h0M104.3 605.2h0M113.3 603.2h0M103.5 600.4h0M110.2 606.9h0M110.8 601.4h0M103.4 603.8h0M104.4 600.1h0M96.7 608.6h0M106.6 609.9h0M100.3 614.7h0M104.6 607.6h0M106.6 610.6h0M108.6 608.7h0M111.2 603.2h0M99.5 604.1h0M111.2 603.1h0M101.5 602.4h0M110.4 606.4h0M107.5 600.6h0M101.5 601.8h0M107.3 607h0M105.5 606.9h0M99.4 613.5h0M100 610.9h0M104.8 610h0M105.4 614.9h0M106 617.3h0M104.5 615.1h0M107.5 608.2h0M100.1 606.2h0M107.6 607.6h0M109.1 605.7h0M108 600.5h0M100.3 604.5h0M100.8 616h0M99 607.6h0M103.4 611.6h0M101.7 609.6h0M98.7 601.5h0M98.8 606.3h0M100 614.5h0M104.1 604.4h0M97.1 606.2h0M103 606.8h0M103.2 616.1h0M97.2 611.5h0M104.2 602.8h0M104.6 605.1h0M101.4 615.6h0M108.3 600h0M100.6 615.3h0M107.8 601h0M97.3 603.5h0M101.5 607h0M103.2 615.7h0M88 667.1h0M88.9 671.5h0M92.7 677.8h0M88.9 665.6h0M91.3 671.5h0M90.2 661.9h0M92.9 673.1h0M98 667.3h0M89.5 678.9h0M95.5 664h0M97.2 675h0M85.9 675.3h0M126.1 683.6h0M113.9 682.9h0M122.4 682.9h0M119.7 677.1h0M122.4 682.2h0" stroke="#9d77ec" stroke-width="0.85" stroke-linecap="round"/><path d="M116 601.3h0M116 608.7h0M121.7 621.4h0M111.5 611.3h0M114 620.3h0M108.9 609.1h0M115.1 600.3h0M112.3 610.7h0M119.2 620.8h0M112.2 615.8h0M111 608.9h0M112.8 610.3h0M111.7 610.5h0M118.7 612.2h0M118.6 605h0M113 617.1h0M115.1 607.3h0M119.4 601.2h0M111.7 603h0M117.9 619.3h0M110.3 612.4h0M113 603.2h0M125 611.4h0M113.4 608.6h0M114.4 613.2h0M116.5 621.7h0M110.8 616.1h0M113.1 610.6h0M109.7 601.7h0M113 614.4h0M119.4 615.2h0M114.8 618.3h0M116.2 605.5h0M110.6 615h0M112 607.3h0M114.7 606.5h0M112.1 614h0M112.6 601.1h0M118.8 606.5h0M113.8 601.6h0M111.7 603h0M112.8 603h0M118.1 615.3h0M111 608.2h0M117 611.3h0M117.8 609.9h0M112 606.6h0M110.5 615h0M114.9 607h0M109.6 607.2h0M108.1 612.7h0M120.5 603.5h0M102.5 684.8h0M106.3 669.1h0M102.7 682.9h0M117.1 669.8h0M111.3 662.1h0M113.5 677.5h0M105.6 656.4h0M101.4 665.6h0M102.5 654.8h0M114 677.2h0M102.6 649.2h0M107.7 674.7h0M108.8 684.1h0M106.2 656.5h0M117.7 651.7h0M104.7 673.4h0M109.5 675.9h0M107.2 671.7h0M102.1 673.4h0M109.9 671.1h0M102.1 667.1h0M102.7 671.9h0M112.5 657.5h0M117.5 664.4h0M115.5 673.7h0M109.4 671.2h0M100.1 678.9h0M100.2 687.2h0M96.2 687h0M107.2 650.5h0M116.9 654.3h0M108.3 675.3h0M95.6 682.1h0M105.5 675.1h0M108.9 666.7h0M109.9 652.6h0M112.5 658h0M106.2 663.8h0M104.2 670.1h0M100.2 674.4h0M116.7 660.7h0M104.9 655.7h0M110.8 656.2h0M113.5 679.5h0M117.1 667h0M107.6 668.5h0M101.1 673.6h0M96.7 681.1h0M107 673.2h0M118.9 653h0M104.5 662.5h0M102 676.6h0M102.6 680.3h0M104.9 663.8h0M101.3 684.1h0M115.5 650.9h0M117.6 652.7h0M104.5 655.7h0M112.6 677h0M106.4 675.3h0M108.3 661.7h0M116.1 658.5h0M106.8 664.3h0M111.3 673h0M103.5 684.9h0M107.3 672.3h0M112 676.2h0M116.9 668.5h0M105.3 653.4h0M118.1 651h0M100.8 654.8h0M105 679.9h0M106.9 671h0M101.1 659.5h0M103.1 678.4h0M117 668.6h0M116.5 668.8h0M117 672.7h0M109.2 656.9h0M105.9 669.7h0M105.7 656.6h0M104.3 661.6h0M119.9 657.2h0M103.1 677h0M101.4 686.3h0M116.5 665.4h0M103.2 655.4h0M105.4 658.1h0M116 667.7h0M103.2 658.4h0M102 668.4h0M101.5 657.9h0M98 679.9h0M115 670.9h0M115.4 674.4h0M110.1 660.2h0M103.9 683.8h0M108.9 672.7h0M111.4 653.3h0M101.8 655.5h0M109.2 657.3h0M102.3 679.3h0M111.4 667.2h0M100 674.8h0M103.8 671h0M103 660.4h0M109.4 653.1h0M111.2 682.2h0M102.1 682.9h0M102.8 675.5h0M101.7 685.4h0M106.3 660.5h0M96.8 686.7h0M99.9 681.7h0M110.4 668.9h0M110.4 658.1h0M106.5 675.4h0M105.6 652.3h0M117.4 670.4h0M105.9 656.7h0M101.5 671.2h0M109 674.4h0M111.3 675.4h0M101.7 683.6h0M112.5 670.5h0M113 672.9h0M99.5 677.1h0M105 654h0M118.9 665.6h0M104.7 651.5h0M108.5 678.2h0M112.7 670.9h0M116.3 669.9h0M103.9 674.5h0M106.3 661.3h0M104.3 664.9h0M104.6 686.9h0M105.3 672.8h0M109.4 672.9h0M114.7 650.8h0M95.5 685.3h0M111 655.5h0M117.8 655.2h0M104.3 662.7h0M103.7 656.5h0M112.3 667.2h0M119 658.3h0M112.9 662.4h0M111.9 656.7h0M102 686.3h0M110.9 671h0M112.4 664.4h0M95.6 686.9h0M101.3 658h0M97.4 679.7h0M98.2 682.7h0M105.3 673.9h0M116.7 653.1h0M96.4 684.1h0M104.1 673h0M112.9 672.6h0M104.4 664.1h0M105.9 681.3h0M119.9 657.3h0M117.2 664.1h0M101.7 679.3h0M106 669h0M105.8 656.1h0M103.4 687.3h0M118.1 666.7h0M108.4 684.3h0M104.9 662.9h0M110.3 662h0M119.2 663.9h0M115.7 656.5h0M111.4 673.8h0M110.8 681.9h0M108.9 672.3h0M101.2 680.9h0M116 655h0M113.4 668.8h0M114.6 653.2h0M105 660.8h0M106.1 675.7h0M103.3 670.9h0M105.5 686.5h0M103.4 669.2h0M112.2 680.3h0M104.4 661.5h0M111.1 674.3h0M109.6 672.8h0M114.6 667.8h0M104 663.7h0M105.6 680.2h0M114.7 661.6h0M102.7 651.5h0M106.3 666h0M101.8 675.6h0M109.3 675.6h0M107.5 677.5h0M102.5 682.5h0M114.5 663.8h0M103.7 670.9h0M101.6 677.6h0M100.8 685.7h0M109.9 578.9h0M109.7 576.2h0M52.7 609.8h0M115.5 586.1h0M133.6 574.5h0M109.5 565.8h0M112.6 565.1h0M109.7 568.5h0M110 564.9h0M104.5 602.1h0M110.8 601.7h0M106.6 617.9h0M111.1 602.8h0M109.5 604.8h0M105.2 599.9h0M98.2 609h0M107.6 602.5h0M99 613.1h0M104.3 611.7h0M97.5 602.9h0M109.1 601.6h0M106.4 605.6h0M102.1 612.1h0M104.4 615.8h0M107.8 607.4h0M98.6 602.3h0M106.2 613.7h0M107.3 600.7h0M106.9 610.9h0M96.7 602.7h0M107.5 616h0M103.6 608.8h0M104.7 610.4h0M98.5 612h0M112.8 603.6h0M103.3 608.3h0M101.2 613.9h0M109.2 603.2h0M106.9 600.6h0M101.6 609.2h0M104.4 609.4h0M110.5 604.9h0M104.1 616.2h0M105.2 605.4h0M99.9 611.1h0M109.7 604.7h0M98.2 609.7h0M104.3 601.3h0M100.8 607.5h0M100.9 603.9h0M102.7 601.5h0M106.8 617.9h0M102.5 611.4h0M108.2 608.1h0M97.7 607.1h0M103.4 616.4h0M108 606.3h0M104.1 602.7h0M108.4 600.5h0M96.7 601.8h0M106.2 612.7h0M109.7 600.6h0M101.5 603.4h0M100.9 608.6h0M97.1 668.3h0M86.3 675.4h0M89.3 671.6h0M93.8 677.2h0M87.2 674.3h0M87.2 672.2h0M97.7 673h0M97.8 667.6h0M91.6 672.5h0M99.7 664.8h0M91.7 661.5h0M87.8 672h0M95.1 663.2h0M92.4 664h0M88.7 669.5h0M91.1 664.6h0M93.8 669.8h0M90.7 662.7h0M98.6 669.3h0M94.7 667.5h0M96.3 673.4h0M99.3 664.9h0M88 679.1h0M94.3 670.5h0M89.8 677.8h0M85.3 676.6h0M94.2 664.4h0M86.9 670.4h0M96.4 676.2h0M97.8 664.4h0M96.9 660.1h0M87.2 665.6h0M96.7 668.9h0M97.8 661.9h0M87.5 678.1h0M95.8 660.1h0M84.2 677h0M95.8 676.7h0M126.7 683.6h0M112.9 684.2h0M121.5 677.6h0M116 685.7h0M122.2 679.8h0M122.4 680.9h0M118.5 679.9h0M121.4 681.4h0M112.4 681.3h0M123.6 683.4h0M116.9 680h0M126.2 683.5h0M121.7 685.8h0M125.5 682.3h0M120.1 682.4h0M112.2 683.9h0M120.6 683.4h0M125.6 684.6h0" stroke="#8e65f0" stroke-width="0.85" stroke-linecap="round"/><path d="M113 618.8h0M110 615.2h0M110.9 607.6h0M117.6 600.1h0M111.6 617.2h0M112.2 618.7h0M111 617.9h0M108.6 611.3h0M114.1 614.5h0M111.7 606.7h0M111.9 611.8h0M110.2 612.2h0M109.5 659.5h0M110.2 664.6h0M117.9 653.3h0M113.3 678.4h0M108 659.6h0M98.2 683.4h0M108.6 672.3h0M110.8 655h0M101.8 668.9h0M106.7 668.9h0M101.6 672.7h0M105.7 668.8h0M103.6 660.9h0M113.5 660.6h0M100.7 679.3h0M116.3 667.3h0M107.5 670h0M110.2 657.5h0M107.7 663.7h0M112 648.5h0M116.7 659.2h0M115.1 677.6h0M111.6 672.7h0M115.8 671.2h0M104.7 673.6h0M96.2 681.9h0M102.3 679.1h0M112.3 667.8h0M101.3 658h0M101 674.7h0M112.5 679.3h0M118.6 654.1h0M117.2 662.4h0M112.5 660.3h0M108.1 656.3h0M108.6 656.9h0M111 648.7h0M97.1 679.6h0M113.6 672.6h0M112.1 679h0M103 674.8h0M106.5 674.2h0M111.2 662.1h0M115.9 656h0M116.7 663.6h0M117.4 659.1h0M115.6 652h0M100.9 684.4h0M116.2 651.4h0M106.1 676.4h0M109.4 649.2h0M97.2 683.5h0M110.5 656.4h0M104.7 681h0M101 672.1h0M103.1 677.3h0M103.9 672h0M95.7 682.9h0M103.2 685h0M106.4 658.2h0M118.8 657.6h0M117.5 670.9h0M103.8 663.3h0M114.4 664.6h0M110.4 677.1h0M110.7 662.8h0M102 687.4h0M116.7 672.6h0M112 667h0M104.6 681h0M103.6 680.9h0M40.3 627.4h0M44.3 628.4h0M56.9 631.1h0M41.3 616.3h0M43 625.7h0M39.2 622h0M45.2 630.3h0M54 629h0M45.1 632.3h0M40.9 612h0M54.6 630.2h0M66.8 628.5h0M48.2 606.9h0M38.4 622.5h0M42.1 627.7h0M45.8 629.5h0M66.7 629.6h0M45 628.5h0M44.3 623h0M46.6 629.7h0M61.4 628.1h0M47.7 608.1h0M42.8 615h0M45.5 609.4h0M49 605.5h0M60.3 631.5h0M61.1 628.4h0M44.9 632h0M43.8 626h0M44.8 618.5h0M64.4 628.3h0M41.6 630.7h0M42.1 614.2h0M41.9 612h0M58.8 632.1h0M43.3 610.6h0M42.8 626.8h0M41.8 611.8h0M62.7 627.8h0M58.1 630.6h0M40 617.9h0M38.5 618.9h0M41.1 624.9h0M105.2 578.7h0M105 574.5h0M104.2 577.6h0M54.9 623h0M58.1 608.7h0M54.3 621.5h0M58.8 614.8h0M49.2 617.4h0M59.8 626.6h0M54.3 625.9h0M52.2 626.8h0M56.6 603.5h0M56.2 623.8h0M51.6 627.6h0M54.1 627.5h0M63.8 624.8h0M54.9 618.7h0M49.3 616h0M48.7 608.9h0M66.1 618.4h0M58.8 612.4h0M60.9 622.8h0M59.3 613.1h0M45.8 615h0M59.1 620.7h0M53.6 627.3h0M54 622.8h0M59.5 612.6h0M45.9 622.6h0M66.2 621.6h0M45.9 622.5h0M63.6 625.9h0M58.1 598.2h0M67.1 612.6h0M75.3 619.7h0M57 595.6h0M56.1 596.8h0M52.8 587.5h0M66.3 608.8h0M70.7 615.2h0M64.9 597.7h0M59.3 598.9h0M56.3 587.2h0M70.1 620.8h0M65.9 608.1h0M49.6 589.6h0M63.1 610.1h0M71.2 621h0M60.8 598.9h0M54.2 593.6h0M60.2 621.5h0M50.1 617.8h0M61.5 610.4h0M68.7 626.1h0M62.4 626.2h0M60.9 611.9h0M59.5 613.2h0M47.4 612.8h0M59 614.1h0M54 599.1h0M60.2 619.8h0M64.3 619.8h0M53.7 622.5h0M108.4 606.6h0M103 599.5h0M108.1 606.9h0M98.9 604.6h0M104.7 614.5h0M99.8 609h0M108.2 605h0M96 603.1h0M102.1 604h0M101.7 604.6h0M74.7 637.1h0M69.2 643.8h0M69.7 639.2h0M65.1 645.1h0M72.2 639h0M65.3 647.9h0M70 642.4h0M65.6 637.2h0M70.9 656.7h0M64.5 651.3h0M65.8 645.4h0M75.4 640.2h0M67.1 655h0M76.6 645.3h0M78.1 647h0M74.3 643.8h0M67.1 653.3h0M77.2 643.5h0M65.6 641.5h0M73.1 640.6h0M76.2 649.8h0M72.9 650h0M76.3 643.2h0M68.5 654.7h0M71.8 640.5h0M74.4 650.4h0M67.9 638.1h0M71.8 637.9h0M68.1 641.7h0M65.8 639.3h0M66 643h0M78 646.2h0M74.2 648.7h0M70.4 642.7h0M64.1 641.5h0M71.5 648.2h0M65.6 644.7h0M71.7 652.5h0M67.3 644.2h0M68.6 652.3h0M73.5 652.1h0M64.4 635.6h0M61.9 637.4h0M68.3 637.8h0M59.1 636.1h0M59.3 636h0M58.6 635.8h0M81.1 640.4h0M79.5 643.1h0M82 642.6h0M79.3 644.1h0M82.9 636.7h0M90 675.3h0M85 676.2h0M99 664.5h0M93.5 661.7h0M93.4 662.8h0M89 663.5h0M92.5 664.5h0M91.9 664.8h0M96.4 667.3h0M95.8 670.2h0M86.4 676.7h0M94.3 670.3h0M86.8 672.4h0M97.6 659.7h0M91.5 666.9h0M96.2 664.7h0M89.7 662.5h0M96 674.1h0M95.4 660.7h0M86.1 667.6h0M91.7 664.1h0M92.2 676.9h0M89 676.5h0M118.8 678.6h0M116.5 678.7h0M118 685.2h0M117.5 685.1h0M121.3 686.2h0M126.9 680.7h0M118 682.6h0M122.8 680.7h0M120.2 677.2h0" stroke="#7c51f4" stroke-width="0.85" stroke-linecap="round"/><path d="M112.7 609.7h0M110.8 600.7h0M105.2 685h0M112.2 668.5h0M109.3 668.7h0M102.6 679.1h0M39.4 619.9h0M41.5 631.1h0M49.7 628.4h0M55.4 634.2h0M47.9 634.3h0M55.4 633h0M56.5 634.3h0M41.9 626.4h0M62 628.4h0M42.8 621.6h0M38.9 625.6h0M40.5 624.6h0M40.6 627.6h0M43.8 630.9h0M61.6 628.5h0M61.7 631.2h0M46.7 603.6h0M65.5 626h0M44.2 615.7h0M47.9 626.9h0M51.2 628.3h0M40 616.4h0M56 632.8h0M49.9 603.5h0M39.9 621.5h0M64.5 630.8h0M58 631.7h0M54.7 631.5h0M40.5 629.4h0M57.1 635.3h0M47.3 629.6h0M38.2 625h0M57.8 633.1h0M49.9 628.3h0M61.8 633.6h0M44.5 611.5h0M56.7 632.9h0M41.4 631.5h0M43 630.8h0M43.5 610h0M59.1 633.6h0M46.3 634.8h0M50.5 602.6h0M65.9 626.5h0M62.8 633h0M54.3 634.6h0M39.3 621.2h0M42.3 620.8h0M51.3 632.8h0M44.3 612.7h0M42.3 608.3h0M40 613.9h0M47 605.7h0M55.7 630.5h0M51.7 603.3h0M39.4 615.3h0M44 621.6h0M42 613.4h0M41 616.2h0M66.3 629.9h0M44.1 613.3h0M41.9 609.4h0M48 625.5h0M46.4 628.6h0M61 632.5h0M44.1 618.9h0M46.4 605.6h0M40.4 627.1h0M42.6 612.5h0M43 614.4h0M52.6 628.6h0M42.9 629.7h0M50 633.2h0M46.2 630.3h0M42.7 623.4h0M45.1 628.2h0M51.6 629.4h0M52.3 632.5h0M40.9 616.3h0M46.3 628.3h0M43.4 620.9h0M66.1 628.1h0M52.9 634.9h0M43.6 629.5h0M67 627.4h0M62.5 632.1h0M41.4 623h0M63.6 628.2h0M52.8 633.3h0M47.7 606.7h0M55.6 629.8h0M49.3 604.9h0M100.5 579.6h0M100.5 579.3h0M102.1 578.1h0M101.6 574.8h0M102.4 579h0M101.1 579.3h0M54.9 614.3h0M50.1 614.7h0M54.2 600.4h0M49.1 612.5h0M60.9 622.8h0M52.7 620.5h0M55 616.4h0M58.2 614.1h0M55.7 618.8h0M48.8 621h0M63.9 627.3h0M48.5 610.3h0M57.3 621.5h0M53.6 627.9h0M50 622.4h0M67.4 625.1h0M52.8 620.3h0M64.2 622.2h0M59.5 616h0M46.6 622.6h0M65 615h0M56.1 599.3h0M51.5 612.9h0M51.3 614.9h0M58.1 628.3h0M53.6 619.1h0M64.7 623.9h0M68 622.5h0M57.9 620.6h0M48.8 624.8h0M59.6 612.8h0M60.3 610.4h0M60.9 614.4h0M56.8 612.2h0M49.7 606.9h0M52.3 619.2h0M56 620.4h0M67.8 623.6h0M62 619.4h0M65.2 615.9h0M50.6 602.6h0M55.2 602.8h0M51.2 628.5h0M47.2 617.8h0M49.4 608.9h0M61 628.5h0M57.2 628.4h0M65.6 618.4h0M62.8 613.2h0M47.1 617.7h0M52.6 611.2h0M62.7 620h0M53.8 623.3h0M54.3 617h0M55 625.1h0M57.9 605.8h0M63.9 622.3h0M65.7 624.8h0M67.8 621.3h0M57.3 629h0M58.6 612.8h0M62.3 619.8h0M58 617.7h0M46.7 619.6h0M48.3 623.8h0M55.4 624.5h0M48.9 611h0M50.4 617.1h0M53.3 607.5h0M65 625.1h0M52.3 602.1h0M52 600.8h0M55.4 628.8h0M52.8 609.6h0M48.4 618.1h0M52.8 626.6h0M49.4 617.4h0M66.6 621.8h0M52.1 603.8h0M56.6 616.2h0M60.5 611.5h0M61.9 616.4h0M57.1 621.1h0M59.8 611.3h0M51 603.3h0M60 623.9h0M54.6 623.8h0M62 621.8h0M58.1 601h0M69.6 619.5h0M63.6 592.7h0M65.7 610.9h0M70.3 611.4h0M63.3 605.6h0M58.9 585h0M62.3 602.1h0M64.2 606h0M52.6 590h0M54.9 591.5h0M60.1 587.3h0M72.7 614.7h0M62.9 597.3h0M70.1 611h0M59.4 590.4h0M59.8 604.1h0M48.5 587.5h0M59.5 601.1h0M63.8 611.9h0M60.9 600.9h0M50.9 590.8h0M58.7 591.3h0M63.3 610.1h0M58.9 599.9h0M69.5 616.2h0M59.8 592.7h0M54 586.7h0M69.6 620.2h0M65.1 603.3h0M58.8 587.2h0M60.3 599.1h0M61.7 592.6h0M69.1 616h0M59.7 584.7h0M58.1 593.9h0M52.9 589.1h0M59 602.9h0M73.1 620h0M56.3 586.9h0M54.7 585.1h0M60.1 589.7h0M72.9 614.1h0M71.3 612.2h0M53.2 592h0M73.2 614h0M72.3 622.5h0M65 612.1h0M58.9 590.3h0M70 610h0M51.5 585h0M53.5 591.4h0M62.1 585.7h0M70.7 613.6h0M63.1 601.9h0M50 589.4h0M73.6 614.4h0M74.6 617h0M53.4 591.7h0M53.4 585.8h0M76.1 620.3h0M60.1 585.1h0M59.4 596.3h0M61.8 600.8h0M52.1 592.6h0M63.1 591.8h0M59.9 596h0M62.8 594.9h0M57.7 594.8h0M48.4 587.3h0M57.5 594.2h0M68.5 618.4h0M59.5 594h0M72.2 622.2h0M62.6 609h0M51.9 588.8h0M57.9 587.9h0M60.6 603.3h0M56.5 586.4h0M56.3 585.5h0M67.7 609.5h0M60.3 603h0M72.2 618.1h0M57.6 587.6h0M73.1 622.1h0M53.2 593.3h0M52.6 591.5h0M56.9 590h0M59 594.4h0M57.3 598.7h0M51 601.7h0M57.7 617.2h0M55.6 611.3h0M55.4 611.2h0M66.7 626.7h0M52.4 602.2h0M66.4 622.1h0M53.4 613.2h0M66.8 619.2h0M62 615.2h0M55.5 620.3h0M50.5 602.9h0M52.2 620.6h0M48.9 618.1h0M58.2 624h0M49.6 623.1h0M53.1 601.7h0M63.4 620.2h0M58.9 611.2h0M50.2 608.8h0M63.9 625h0M54.4 617.6h0M56 615.3h0M49.2 614.5h0M63.6 614.8h0M58.9 609.5h0M61.8 625.3h0M59.3 625.8h0M49 615.5h0M56.7 606.7h0M50.2 618.7h0M49 606.1h0M52.9 600.5h0M54.5 620.5h0M64.4 625.5h0M58.2 617.4h0M47.6 622.1h0M53.2 605.4h0M50.9 616.1h0M60.5 622.9h0M61.1 620.4h0M53.1 601.1h0M56.2 611.2h0M107 606.5h0M67.9 642.4h0M66.2 654.6h0M74.7 643.4h0M67.7 653.1h0M66.7 640.3h0M72.6 653.2h0M76 648.4h0M66 640.8h0M64.8 650.2h0M75.5 642.1h0M64.5 648.9h0M71.2 644.4h0M80 640.8h0M75.8 648.8h0M71.5 643.6h0M66.9 655.4h0M67.5 651h0M75.5 642.3h0M71.2 641.4h0M69.9 652.5h0M67.8 638h0M73.2 641.3h0M71.9 637.1h0M70.5 652.4h0M66.9 641.3h0M72.1 649.4h0M71.3 648.2h0M66.8 657.1h0M67.8 649.3h0M65.6 638.4h0M69 655.2h0M71.8 641.3h0M65.2 639.1h0M68.3 651h0M74.4 642.2h0M73.1 643.4h0M77.3 641.8h0M80 645.5h0M67.5 649.2h0M61.8 643.1h0M71.4 636.3h0M63 639.6h0M63.3 643.5h0M66.4 639.7h0M62.1 637.8h0M62.4 638.4h0M62.5 645.1h0M65 636.6h0M63.2 641.5h0M73.6 635.1h0M78.9 646.8h0M81.3 636.8h0M81.1 637.2h0M82.9 640h0M79.3 647h0M83 639h0M83 642.9h0M91.2 664.3h0" stroke="#673df8" stroke-width="0.85" stroke-linecap="round"/><path d="M52.2 634.6h0M49.2 604.3h0M42.9 629.7h0M42.2 614.4h0M51 600.6h0M43 616.2h0M44.7 624h0M43.1 612h0M40.7 615.6h0M64.3 627.1h0M50.7 602.2h0M42 622.3h0M41.7 622.5h0M38.3 622.5h0M65.7 628.4h0M50.3 634h0M51.9 629.6h0M53.2 634.3h0M44.9 608.3h0M63 627.9h0M45.9 626.4h0M56.9 629h0M64.6 626.4h0M45.2 625.3h0M41.9 608.7h0M40.3 626.5h0M48.8 606.1h0M39.7 617.1h0M42.3 611.8h0M56.8 634.5h0M42.5 624.3h0M41.1 615.3h0M105.5 579.7h0M101.9 578.2h0M58.3 607.9h0M51 607.1h0M65.9 624.2h0M61.1 608.8h0M61.3 627.1h0M54.9 618.6h0M52.3 618.7h0M53.5 601.6h0M63.3 622.1h0M53.9 625.8h0M46.4 614.9h0M57.7 620.1h0M50.8 623h0M58.3 603.9h0M55 620.7h0M61 610.3h0M64.7 621.5h0M53.1 628.1h0M64 616.9h0M57.1 617.5h0M62.6 620.6h0M66.2 622h0M56.3 611.9h0M49.6 627.3h0M46.3 612.6h0M57.7 603.1h0M47.3 624.1h0M61.8 599.4h0M70.7 615.1h0M70.2 610.2h0M60.2 598h0M61.1 596h0M63.3 596.4h0M58.8 589.2h0M74 619.6h0M66.5 605.3h0M61.5 592.5h0M63.7 602.2h0M64.8 612.7h0M53.5 593.4h0M56.6 591.3h0M71 612.3h0M63 594.2h0M69.1 618.1h0M62.6 601h0M62 606.3h0M59 592.6h0M67 608.2h0M54.6 589.8h0M61.6 584.8h0M60.5 601.4h0M74.9 617.5h0M70.7 613.5h0M66 606.1h0M60.6 594.5h0M68.9 611.6h0M66.8 610.7h0M57.1 594.1h0M62.4 603.4h0M51.4 586.9h0M60.2 600.9h0M64.5 612.6h0M60.5 597.6h0M54.2 590.7h0M61.3 598.8h0M59.3 590.8h0M61 601.1h0M68.1 615.1h0M48.9 625.6h0M62.6 615.1h0M56.3 620.6h0M51.4 620.4h0M58.7 609.6h0M49.4 626.8h0M50.3 627.5h0M61.9 628h0M48.1 618.3h0M61.2 617.9h0M49.7 618.4h0M59.3 607.9h0M51.7 612.5h0M64.4 626.4h0M50.1 610.2h0M48.9 614h0M53.9 620.1h0M54.4 619.5h0M58 624.2h0M51 618.6h0M58.4 617.5h0M65.1 619.7h0M73.1 640.3h0M77.3 642.6h0M73.3 650.7h0M67.2 654.5h0M73.5 639.6h0M67.4 640h0M68.3 637.8h0" stroke="#4926fb" stroke-width="0.85" stroke-linecap="round"/><path d="M42.6 629.6h0M54.3 599.7h0M55.6 592.8h0M59.8 588.2h0M68.7 609h0M63.7 604.3h0M51.2 624.3h0M67.6 620.6h0" stroke="#0000ff" stroke-width="0.85" stroke-linecap="round"/></g><line x1="21.8" y1="543.6" x2="21.8" y2="702.9" stroke="#8c8c8c" stroke-width="0.9"/><line x1="21.8" y1="702.9" x2="202" y2="702.9" stroke="#8c8c8c" stroke-width="0.9"/><text x="19.5" y="583.1" font-size="6.2" text-anchor="end" fill="#4d4d4d" stroke="#4d4d4d" stroke-width="0.1">5</text><line x1="20.3" y1="581.1" x2="21.8" y2="581.1" stroke="#8c8c8c" stroke-width="0.5"/><text x="19.5" y="621.1" font-size="6.2" text-anchor="end" fill="#4d4d4d" stroke="#4d4d4d" stroke-width="0.1">0</text><line x1="20.3" y1="619.1" x2="21.8" y2="619.1" stroke="#8c8c8c" stroke-width="0.5"/><text x="19.5" y="659.3" font-size="6.2" text-anchor="end" fill="#4d4d4d" stroke="#4d4d4d" stroke-width="0.1">-5</text><line x1="20.3" y1="657.3" x2="21.8" y2="657.3" stroke="#8c8c8c" stroke-width="0.5"/><text x="19.5" y="697.6" font-size="6.2" text-anchor="end" fill="#4d4d4d" stroke="#4d4d4d" stroke-width="0.1">-10</text><line x1="20.3" y1="695.6" x2="21.8" y2="695.6" stroke="#8c8c8c" stroke-width="0.5"/><text x="45.5" y="711" font-size="6.2" text-anchor="middle" fill="#4d4d4d" stroke="#4d4d4d" stroke-width="0.1">-10</text><line x1="45.5" y1="702.9" x2="45.5" y2="704.4" stroke="#8c8c8c" stroke-width="0.5"/><text x="84.2" y="711" font-size="6.2" text-anchor="middle" fill="#4d4d4d" stroke="#4d4d4d" stroke-width="0.1">-5</text><line x1="84.2" y1="702.9" x2="84.2" y2="704.4" stroke="#8c8c8c" stroke-width="0.5"/><text x="123" y="711" font-size="6.2" text-anchor="middle" fill="#4d4d4d" stroke="#4d4d4d" stroke-width="0.1">0</text><line x1="123" y1="702.9" x2="123" y2="704.4" stroke="#8c8c8c" stroke-width="0.5"/><text x="161.7" y="711" font-size="6.2" text-anchor="middle" fill="#4d4d4d" stroke="#4d4d4d" stroke-width="0.1">5</text><line x1="161.7" y1="702.9" x2="161.7" y2="704.4" stroke="#8c8c8c" stroke-width="0.5"/><text x="200.5" y="711" font-size="6.2" text-anchor="middle" fill="#4d4d4d" stroke="#4d4d4d" stroke-width="0.1">10</text><line x1="200.5" y1="702.9" x2="200.5" y2="704.4" stroke="#8c8c8c" stroke-width="0.5"/><text x="111.6" y="717.9" font-size="9.2" text-anchor="middle">umap_1</text><text x="0" y="0" font-size="9.2" text-anchor="middle" transform="translate(8.6,622.8) rotate(-90)">umap_2</text><text x="111.9" y="539.8" font-size="4.7" text-anchor="middle" font-weight="bold" stroke="#000" stroke-width="0.1">monocle3_pseudotime</text><rect x="206.1" y="611.4" width="4.4" height="22.8" fill="url(#gE)"/><text x="212.6" y="615.5" font-size="6" stroke="#000" stroke-width="0.1">50</text><text x="212.6" y="619.7" font-size="6" stroke="#000" stroke-width="0.1">40</text><text x="212.6" y="623.9" font-size="6" stroke="#000" stroke-width="0.1">30</text><text x="212.6" y="628.1" font-size="6" stroke="#000" stroke-width="0.1">20</text><text x="212.6" y="632.3" font-size="6" stroke="#000" stroke-width="0.1">10</text><text x="212.6" y="637.1" font-size="6" stroke="#000" stroke-width="0.1">0</text><line x1="242.4" y1="673" x2="647.5" y2="673" stroke="#ebebeb" stroke-width="0.7"/><line x1="242.4" y1="637.4" x2="647.5" y2="637.4" stroke="#ebebeb" stroke-width="0.7"/><line x1="242.4" y1="601.6" x2="647.5" y2="601.6" stroke="#ebebeb" stroke-width="0.7"/><line x1="242.4" y1="565.9" x2="647.5" y2="565.9" stroke="#ebebeb" stroke-width="0.7"/><line x1="299.3" y1="535" x2="299.3" y2="705.8" stroke="#ebebeb" stroke-width="0.7"/><line x1="377.9" y1="535" x2="377.9" y2="705.8" stroke="#ebebeb" stroke-width="0.7"/><line x1="456.5" y1="535" x2="456.5" y2="705.8" stroke="#ebebeb" stroke-width="0.7"/><line x1="535.1" y1="535" x2="535.1" y2="705.8" stroke="#ebebeb" stroke-width="0.7"/><line x1="613.7" y1="535" x2="613.7" y2="705.8" stroke="#ebebeb" stroke-width="0.7"/><text x="240.5" y="692.9" font-size="5.6" text-anchor="end" fill="#444" stroke="#444" stroke-width="0.1">0</text><text x="240.5" y="657.2" font-size="5.6" text-anchor="end" fill="#444" stroke="#444" stroke-width="0.1">2</text><text x="240.5" y="621.5" font-size="5.6" text-anchor="end" fill="#444" stroke="#444" stroke-width="0.1">4</text><text x="240.5" y="585.8" font-size="5.6" text-anchor="end" fill="#444" stroke="#444" stroke-width="0.1">6</text><text x="240.5" y="550.1" font-size="5.6" text-anchor="end" fill="#444" stroke="#444" stroke-width="0.1">8</text><text x="260" y="711.8" font-size="5.6" text-anchor="middle" fill="#444" stroke="#444" stroke-width="0.1">0</text><text x="338.6" y="711.8" font-size="5.6" text-anchor="middle" fill="#444" stroke="#444" stroke-width="0.1">10</text><text x="417.2" y="711.8" font-size="5.6" text-anchor="middle" fill="#444" stroke="#444" stroke-width="0.1">20</text><text x="495.8" y="711.8" font-size="5.6" text-anchor="middle" fill="#444" stroke="#444" stroke-width="0.1">30</text><text x="574.4" y="711.8" font-size="5.6" text-anchor="middle" fill="#444" stroke="#444" stroke-width="0.1">40</text><text x="444.2" y="718.6" font-size="9.8" text-anchor="middle">monocle3_pseudotime</text><path d="M264.5 644.7h0M261.3 625.4h0M263.1 607.6h0M264.7 638h0M264.1 620.8h0M265.8 623.3h0M261.4 628.5h0M262.5 650.1h0M263.2 634.9h0M262 648.8h0M263 640.9h0M261.4 639.3h0M264.1 631.1h0M263.6 650.5h0M261.6 626.1h0M263.3 620.9h0M262 659.3h0M261.9 667.1h0M261.9 643.4h0M261.7 651.2h0M266.3 626.8h0M261.3 624.8h0M262.2 603.6h0M261.5 627.3h0M261.1 613.1h0M264.5 664.1h0M261 631.2h0M260.7 645.8h0M264.9 628h0M261.1 635.9h0M263.6 628.7h0M265.4 639.5h0M264.5 639h0M262.2 626.1h0M264.5 643.8h0M260.6 589.7h0M261.9 650.4h0M262.3 632.1h0M261.6 619.2h0M260.6 661.4h0M266.8 625.2h0M260.5 621.1h0M261 648h0M263.7 655.7h0M265.4 631.1h0M261.8 636.9h0M261.8 647.1h0M261.7 622.1h0M262.6 650.2h0M262.9 625.6h0M263.7 632.5h0M260.7 615.3h0M260.2 643.9h0M265.5 630.1h0M265.3 643.6h0M262.4 628.6h0M264.9 659.3h0M265.5 648.7h0M260.4 630.4h0M265 650.7h0M266.2 656.4h0M262.6 603.6h0M263.2 625.9h0M261 617.8h0M262 632.7h0M261.2 637.8h0M263.5 621.4h0M264.1 605.3h0M263.7 623.1h0M262 634h0M265.4 653.9h0M263.2 652.4h0M264.7 636h0M263 632.9h0M264.3 630.2h0M261.2 661.9h0M266.6 641.9h0M262.6 643h0M260.6 622.8h0M266.5 622.4h0M261.3 624.7h0M264.1 645.6h0M262.3 626.6h0M263.2 613.8h0M261.9 643.3h0M262.3 630.9h0M262.8 634.8h0M261.5 614.6h0M266.4 625.9h0M265.7 608.3h0M262.8 629.5h0M261.3 630.6h0M265.1 644.7h0M263.8 642.2h0M264.1 570.9h0M264.1 641.1h0M263.4 627.4h0M264.7 648.1h0M262.6 649.2h0M260 636.4h0M263.6 631.8h0M265.3 612.9h0M261.5 651.2h0M262.5 618.9h0M266.5 636.3h0M264.5 626h0M263.1 632.1h0M260.5 645.7h0M262.5 617.4h0M261.5 616.9h0M262.8 639.7h0M260.9 602.7h0M261 674.8h0M264.4 637.8h0M260.9 627.6h0M261.8 637.7h0M261.6 622h0M264.3 646.1h0M262 628.5h0M263 633.4h0M264.9 658.2h0M262.7 607h0M263.4 645.2h0M266 629.1h0M264.1 627.8h0M260.7 625.9h0M265.7 636.3h0M263.9 645h0M263.9 612.9h0M263.9 643h0M264.3 633.6h0M260.9 632.6h0M263.4 633.4h0M263.1 622.2h0M264.2 603.1h0M263.8 661.4h0M265.1 649h0M261.6 641.8h0M263.4 643.4h0M264.4 611.5h0M266.8 627.5h0M262.1 605.4h0M261.5 625.4h0M263.4 592.9h0M262.7 639h0M264.3 606.5h0M264.3 663.2h0M262.2 631.5h0M263.2 633.9h0M266.8 617.8h0M261.7 637.5h0M265.6 656.5h0M260.3 629.2h0M266.4 614.3h0M266.4 657.9h0M263.2 641.4h0M264.2 653.7h0M260.3 630.3h0M264.7 621.6h0M265.7 640.7h0M263.1 636.2h0M261 610.1h0M266.9 665.9h0M264.5 616.4h0M263.2 649.5h0M263.3 615.5h0M264.2 652.6h0M263.5 626.7h0M264.4 659.8h0M264 659.6h0M262.1 616.3h0M266.5 616.3h0M261 611.9h0M263.6 635.7h0M261.6 625.6h0M266.8 664.1h0M264.5 652.1h0M260.6 652h0M261.4 631.4h0M260 612.8h0M261 640.1h0M263.4 612h0M260.6 621.6h0M262 667.7h0M260.8 627h0M261.8 594.7h0M262 633.6h0M264.7 657.6h0M261.7 661h0M263.5 604.5h0M261.5 608.7h0M266.4 608.5h0M260.9 663.6h0M264.2 632.9h0M260.9 658.4h0M263.4 637.7h0M263.3 636.2h0M264.2 627.1h0M265.9 642.3h0M261.8 647.3h0M265 644.3h0M262.5 672.7h0M263.4 637.6h0M264.1 614h0M262.6 679.5h0M261.5 632.3h0M262.2 663h0M263.6 655.3h0M262.3 620.2h0M264.3 633.9h0M261.7 669.3h0M263.7 623.5h0M261.4 655.9h0M264.3 638.9h0M263.5 647.9h0M264.3 628.6h0M261.7 636.6h0M261.6 642.2h0M261.7 628h0M261.5 635.4h0M261.1 644.4h0M263.9 649.2h0M265.7 614.7h0M264.9 645.4h0M264.6 638.3h0M261.8 623.6h0M261.6 614.1h0M265.8 610h0M263.8 602.1h0M260.7 634.1h0M262 644.7h0M263.5 642.2h0M261.2 622.3h0M263.5 643.9h0M264 631.4h0M263.8 631.7h0M267 649.6h0M264.1 631.6h0M263.9 663.4h0M260.6 651.6h0M261.5 648.7h0M260.9 623.2h0M260.7 657.1h0M263.3 630.1h0M261.6 591.2h0M264.5 614.8h0M264.1 653.4h0M261.9 650h0M264.5 660.4h0M262.6 603.1h0M261.5 623.8h0M261.1 659.4h0M260.6 641.8h0M261.7 652.4h0M260 614.5h0M262.6 626.6h0M266.9 627.2h0M264.3 626.6h0M263 634.2h0M262.9 655.5h0M263.1 624h0M265.1 630.9h0M263.4 634.6h0M266.5 605.4h0M266.4 633.9h0M263 640.1h0M264.5 666.4h0M263.9 651.9h0M267 630.8h0M262 631.3h0M263.9 615.1h0M263 637.1h0M262.1 597.3h0M261.7 624.5h0M261.8 617.8h0M260.9 657.4h0M261.1 636.4h0M264.8 630h0M263.5 672.7h0M264.5 597.1h0M265.1 607.4h0M265.1 633.9h0M264 659.8h0M266.2 629.4h0M264.6 653.4h0M260.8 628.7h0M260.1 646.9h0M265.9 634.1h0M262.9 650.9h0M261.3 649.7h0M264.3 652h0M266.3 660.8h0M264.8 623.3h0M261.4 621.7h0M263.4 622.5h0M265.7 617.4h0M264 628.2h0M262 638.6h0M261.8 638.2h0M264.6 626.5h0M285.8 651.1h0M276 684.7h0M287.7 654.7h0M287.6 663.1h0M287.7 646.3h0M283.2 612.3h0M270.7 639.8h0M284.5 639.7h0M289.1 665.4h0M284.8 628h0M276.3 659h0M275 632.3h0M269 614.4h0M282.1 662.8h0M284.5 643.1h0M276 634.3h0M284.5 679.1h0M275.4 667.2h0M276.2 653.9h0M287.1 643.8h0M271 640.8h0M287.5 643.6h0M282.4 632h0M284.2 654.4h0M276.3 657.1h0M268.3 648.7h0M276.1 657.2h0M290.9 631.5h0M290 631h0M271.3 638.7h0M283.2 649.7h0M282.5 667.8h0M279.5 677.5h0M275.4 665.3h0M270.2 664.6h0M270 636.2h0M277.1 640.2h0M267.6 618.3h0M274.9 639.2h0M269.7 634.5h0M282.4 646.5h0M287.1 641.7h0M287.5 673.7h0M287.4 655.6h0M287.4 654.4h0M272 635.3h0M275.7 636.2h0M271 667.2h0M275.4 625.5h0M284.2 621.6h0M281.5 656.6h0M269.7 658.8h0M279.5 651.4h0M270.5 663.8h0M278 652.4h0M285.1 653.6h0M276 636.3h0M283.2 642.8h0M284.3 647.9h0M285.1 663.9h0M289.4 658.9h0M291.2 657.4h0M280.8 649.4h0M268.8 667.4h0M283.8 675.6h0M270.2 650h0M287 595.4h0M269.5 654.8h0M270.4 636.8h0M275.6 644.5h0M276.1 654h0M267.3 642.7h0M287 674.2h0M279.9 642.3h0M284.9 670.2h0M275.5 673.6h0M275.5 651.4h0M289.4 657.7h0M274.1 650h0M288.7 644.6h0M283.9 676.4h0M268.2 667.9h0M288.5 674.6h0M288.3 662.9h0M288.1 629.4h0M270.3 641.8h0M272.7 649.5h0M270.5 664.2h0M278.1 663.6h0M287.2 646.2h0M284.4 628.3h0M290.3 642.2h0M287 642.4h0M288.7 625.4h0M279.8 639.6h0M284.5 653.8h0M281.6 636.1h0M275.2 650.7h0M284.4 674.2h0M278 619.5h0M280.9 678.9h0M270.4 660.2h0M275.5 624.2h0M275.3 631.7h0M286.9 626.8h0M279 642.6h0M288.5 688.1h0M274.9 640.6h0M274.3 658.3h0M270.5 645.1h0M286.8 618.6h0M286.9 659.8h0M275.5 634.7h0M284.4 651.5h0M288.1 637.4h0M269.9 648h0M286.3 628h0M287.1 686.5h0M286.3 641.8h0M283.6 653.8h0M278.4 642.1h0M283.7 636.3h0M271.9 627.9h0M268.8 652.6h0M270.2 669.7h0M276 647.7h0M287.5 622.1h0M289.4 647h0M284.4 670.8h0M284.5 669.8h0M278.2 650.3h0M281.8 651.3h0M271.2 664.7h0M272.1 632.6h0M276.3 642.8h0M277.8 647.5h0M274.3 627.7h0M275.4 647.2h0M267.6 638.4h0M286.8 640.3h0M273.3 599.6h0M289.3 633.6h0M274.9 644.7h0M288.5 679.2h0M270.7 651.5h0M288 644.7h0M276.4 653.5h0M284.3 621.8h0M269.3 646.4h0M288 622.4h0M284.4 688h0M275 682.7h0M270.8 599.6h0M286.8 687.2h0M283.7 674.5h0M267.8 644.9h0M284.8 626.5h0M269.4 609.7h0M284.1 636.1h0M267.8 625.6h0M281 656.2h0M275.9 620.3h0M287.3 629h0M272.7 595.6h0M290.8 643.4h0M287.9 649.2h0M270.3 645.3h0M287.6 674.4h0M284.4 640.4h0M268.3 684.6h0M268.1 657.5h0M279 649.7h0M284 615.8h0M287.6 649.9h0M284.9 618.1h0M275.6 628.7h0M267.6 634.8h0M286.9 614.6h0M290.8 666.4h0M290.8 644.5h0M280.3 636.1h0M274.4 639.3h0M270 632.9h0M275.4 646.3h0M275.7 643.4h0M288.3 685.1h0M267.2 637.4h0M275.3 614.1h0M275.6 665.5h0M270 641.9h0M269.3 623.3h0M275.2 640.3h0M270.3 653.2h0M283.6 632.7h0M270.5 632.8h0M271.5 670.9h0M282.5 621.7h0M270.8 662.5h0M284.8 658h0M289.4 649.7h0M270.2 665.6h0M271 638h0M287.5 649.8h0M284.6 659.1h0M291.2 628.5h0M283.5 662.4h0M272 651.1h0M287 619h0M288.8 647.8h0M289.2 636.9h0M275.3 638.2h0M276.6 615.4h0M268.5 621.4h0M274.8 637h0M270.8 643h0M281.7 652.6h0M289.7 654.5h0M277.2 655.2h0M275.6 639.2h0M275.8 639.2h0M278.4 642.7h0M284.3 633.9h0M284.5 621.5h0M275.4 620.2h0M276.4 602.7h0M282.4 638.9h0M280.5 641h0M276.8 638.2h0M270.7 639.4h0M284.2 648.5h0M275.5 637.5h0M271 675.7h0M276.5 618.1h0M280.7 670.6h0M283 645h0M280 635.7h0M276.4 685.7h0M273.4 654.8h0M285.4 650.5h0M290.5 655.9h0M285.5 658.2h0M287 662.1h0M284.1 663.4h0M279.7 667.3h0M284 638.9h0M272 638.6h0M287.8 625h0M275.6 642.2h0M286.8 619.4h0M276.3 654.4h0M270.2 620.3h0M290.3 683.5h0M275.3 660.9h0M288.4 625.1h0M280.3 669.9h0M283.5 656.4h0M270.5 656.9h0M269.7 630.8h0M279.6 651.8h0M270.1 638.4h0M278.4 646.4h0M283.7 647.3h0M269.2 657.4h0M276.2 685.5h0M283.8 670.4h0M275.3 672.3h0M285.9 647.8h0M284.7 652h0M271.3 605.5h0M288.1 666.9h0M270.9 658.1h0M290.2 659.4h0M269.6 657.1h0M287.6 656h0M284.4 678.4h0M275.6 630.9h0M287.1 655h0M275.5 639.4h0M281.3 626.3h0M269.5 675.2h0M288.9 663.4h0M283.2 671.7h0M282 662.3h0M280.7 622.2h0M287.2 618.3h0M276.8 688.6h0M287.2 610.5h0M270.5 666.1h0M289.8 657.6h0M284.5 642.1h0M272.1 642.5h0M270.1 640.5h0M284.6 639.2h0M270.2 635.9h0M276.1 652.3h0M279.1 653.6h0M273.1 635h0M273.9 648.7h0M284 661.3h0M287.7 663.5h0M270.4 632.2h0M283.7 675.6h0M276.1 643.4h0M270.6 637.6h0M287.7 618h0M268.8 660.7h0M270.2 643h0M281.8 650.9h0M284.2 625.9h0M269 625.2h0M284.1 675.4h0M275.6 614.6h0M275.8 639.1h0M267.6 658.3h0M278.7 633.1h0M273.6 673h0M286.4 644.6h0M275.7 652.7h0M288.4 636.5h0M287.1 658.7h0M284.5 642.6h0M276.5 633.6h0M269.7 635.7h0M270.6 679.2h0M275.7 628.5h0M275.4 682.7h0M283.4 644.5h0M276.3 621.3h0M270.1 651.2h0M270.3 652.3h0M287.8 653.5h0M282.4 621.9h0M287.4 633.5h0M287.5 640.2h0M279.4 640.8h0M268.6 662.7h0M276.5 640.8h0M283 655.5h0M284.2 617.8h0M270.6 650.1h0M276.5 618.9h0M275.2 641.6h0M287.2 654.4h0M270.5 647h0M288.8 641.7h0M273.5 631.2h0M277.4 651.7h0M269.2 660.7h0M282 637.8h0M283.1 684.1h0M284.9 653.6h0M274 636.2h0M289.9 619.9h0M286.2 657.6h0M286.2 640.5h0M270 682.4h0M284.1 645.5h0M287.2 679.2h0M276.2 626.9h0M283.2 644.7h0M270 647h0M287.5 641.7h0M276.2 640.8h0M287.8 631.5h0M286.5 656h0M284 661h0M279.5 650.5h0M280 645.7h0M268.4 649.6h0M284 610.6h0M276 654.7h0M284.3 648.9h0M271.1 671.7h0M282.9 612.4h0M273.2 638.1h0M285 650.4h0M287.2 684.9h0M270.6 684.9h0M285.7 688.7h0M288.2 630.5h0M270.4 648.4h0M276.2 640.6h0M284.7 643.4h0M270.3 645.4h0M274.7 647.4h0M287.1 611.9h0M289.8 623.5h0M287.5 626.4h0M285.6 624h0M289.3 599.6h0M279.4 654.4h0M285.1 657.4h0M289.6 621h0M269.8 633.4h0M288 664.1h0M288.3 653.8h0M269.6 651.1h0M275.2 635.2h0M284.8 644.4h0M275.5 647.4h0M275.3 636.4h0M274 631.5h0M272.7 679.6h0M275.9 648.2h0M275.7 646.7h0M282.5 651.3h0M286.6 624.1h0M284.5 642.7h0M275.3 645.9h0M287.9 616.4h0M276.3 666h0M282.7 643.6h0M286.2 611.9h0M287.5 623.9h0M285.6 636.8h0M282.8 631.9h0M274.6 673.3h0M285 652.1h0M281.2 647.4h0M287.2 628.3h0M277.2 595.7h0M289.8 672.3h0M270 632.8h0M286.9 673.2h0M270.7 651.8h0M284.5 689h0M270.4 685.6h0M267.4 623.8h0M287 665.1h0M286.8 654.5h0M284.3 661.1h0M287 612.3h0M278.2 659.1h0M271.4 629.8h0M280.3 593.3h0M280.4 670h0M282.3 645.4h0M272.9 643.2h0M270.2 629.7h0M287 631.2h0M277.7 622.3h0M282.9 643h0M279.3 680.5h0M284.5 685.6h0M287.5 653.4h0M287.6 626.7h0M275.5 642.5h0M270.9 631.1h0M270.2 657.6h0M270.1 663.4h0M314.6 637.2h0M325.3 638.6h0M314.9 634.1h0M302.6 646.4h0M309.1 656.1h0M322.7 657.5h0M301.7 663.6h0M314.2 649.1h0M302.1 628.2h0M293.9 640.5h0M315.9 648.2h0M302.1 646.1h0M302.4 661h0M300.7 640.8h0M318.4 668.5h0M303.1 639h0M314.2 628.2h0M305.8 677.8h0M314.4 672.9h0M294.3 661.2h0M294.2 667.6h0M303.1 630.9h0M319.5 675.7h0M314.6 643.2h0M322 640.6h0M323 654.9h0M320 644.6h0M314.1 661.9h0M320.8 658h0M320.2 667.7h0M295 646.5h0M303.5 653.6h0M318.5 666.8h0M316.8 673.2h0M314.6 675.2h0M296.1 657h0M302.2 662.7h0M322.5 652.3h0M297.6 649.2h0M316.6 665.6h0M318.4 645.6h0M327.9 659.6h0M323.4 659.4h0M330 650.1h0M302.7 665h0M314.2 656.4h0M302.6 615.1h0M303.4 652.8h0M306.1 638.7h0M302.4 647.7h0M319.4 653.5h0M302.3 689h0M318.8 617.9h0M313.8 660.9h0M293.9 668.1h0M314.7 672.5h0M300.8 655.9h0M311.6 652.9h0M314.8 673.2h0M319 642.6h0M313.9 622.3h0M323.3 649.2h0M306 657.9h0M294.5 643h0M307.5 634.5h0M314.4 640.5h0M318.3 687.6h0M302.4 639.9h0M305.9 649.4h0M294.3 677.4h0M294.2 646.9h0M314.4 650.6h0M303.2 643.4h0M322.7 653.5h0M323.5 633.8h0M300.1 654h0M306 635.8h0M309.9 648.3h0M295.7 649.1h0M323.2 651.5h0M314.5 648.8h0M314.7 664.2h0M323.3 654.2h0M309.4 641.9h0M318.5 651.6h0M306.1 635.3h0M291.8 649.5h0M317.2 644h0M318.7 669.4h0M303.2 647.7h0M323.1 644.6h0M301 658.2h0M314.5 661.6h0M316.3 643.1h0M306.5 687.4h0M318.5 651.3h0M323.2 633.7h0M313 647.4h0M314.9 662.5h0M301.3 640.3h0M323 661.8h0M323 676.9h0M309.8 640.6h0M295.6 671.5h0M294.3 640.1h0M301.9 663h0M301.4 675.1h0M307.7 648.2h0M319.3 641.3h0M318.3 652.9h0M325.5 639.9h0M319.3 633.6h0M303 651.6h0M307.5 646.7h0M306.6 664.1h0M313.4 654.4h0M321.8 686h0M294.1 632.6h0M292.8 675.4h0M297.4 644.6h0M322.8 675.4h0M313.9 644.5h0M302.2 636.5h0M317.9 626.5h0M307.6 649.6h0M314.5 666.5h0M294.4 670.9h0M324.1 636.1h0M314.3 662.7h0M322.5 635.1h0M323 655.4h0M322.7 653.5h0M306.5 625.9h0M329.7 679h0M318.7 642.9h0M325.7 653.5h0M293.4 675.5h0M319.9 649.8h0M307.9 630.7h0M322.3 677.6h0M315.7 664.6h0M300.3 637.4h0M314.9 658.6h0M305.5 658.2h0M294.8 651h0M314.3 675.1h0M295.7 641.1h0M295.2 642.7h0M294.7 685h0M322.7 642.3h0M294.5 640h0M303.1 636h0M291.8 650.2h0M307 651.3h0M313.9 663.2h0M314.1 674.8h0M303.1 683.9h0M317.5 652.2h0M322.8 652.5h0M305.2 669.2h0M303 653.5h0M327.3 660.9h0M320 659.9h0M302.7 647.1h0M319 651.7h0M293.6 642.2h0M294.5 648.8h0M302.8 642.3h0M309.2 681.7h0M316.9 636.3h0M313 654.3h0M321 668.7h0M295.5 637.6h0M300.2 646.8h0M317.7 644.3h0M307 663.1h0M319.3 652.7h0M301.7 622.4h0M302.5 663.8h0M314.5 648.5h0M323 671.4h0M318.9 666.7h0M318.9 648.1h0M302.7 655h0M294.7 655.8h0M319.3 648.3h0M318.5 649.9h0M322.9 651.7h0M319.4 646.2h0M321.1 657.1h0M321.9 663.2h0M309.6 666.5h0M302.9 637.5h0M302.5 641.5h0M314.3 656.8h0M314.3 668.1h0M299.4 678.1h0M319.4 651.8h0M306.5 669.5h0M318.9 634.4h0M316.8 673.5h0M298 645.5h0M302.4 658.7h0M323.3 648.9h0M293.6 664.9h0M300 643.7h0M302.7 678.5h0M299.4 630.8h0M314.1 662.7h0M299.7 640.3h0M318.5 627.3h0M322.8 625h0M307.2 653h0M318.6 628.7h0M307 664.6h0M301.5 640.2h0M301.4 626.2h0M301.9 657.9h0M307.8 656.9h0M323.5 650h0M329.4 646.4h0M305 670.2h0M293.6 662.1h0M320.8 634h0M306.7 677.9h0M317.8 644.6h0M321.9 653h0M294.1 654h0M314.1 645.8h0M303.8 647.4h0M306.7 661h0M322.4 653.2h0M302.1 659.2h0M306.3 651.2h0M319.8 652.9h0M319.1 655.4h0M298.9 678.3h0M301.7 633h0M330.4 642.7h0M299.5 664.7h0M313.8 625.2h0M292.9 646.6h0M302.9 685.3h0M303.3 649.6h0M324.5 623.7h0M309.1 666.9h0M302.5 645.5h0M291.8 616.6h0M307 650.5h0M323.7 664.1h0M302.8 617.4h0M313.6 657.5h0M318.6 677.2h0M318.7 641.3h0M323.1 647h0M321.5 652.6h0M310.1 650.8h0M294.3 635.9h0M318.7 640.6h0M294.6 642.3h0M303 670.7h0M306.4 658.7h0M306.3 643.9h0M319.4 641.4h0M318.3 653.2h0M323 646h0M303.1 658.3h0M314.5 655.5h0M302.1 642h0M294.1 664.7h0M338.6 668.2h0M333.3 669.6h0M334 647.3h0M339.1 640.2h0M343.4 661.5h0M335 644.2h0M347.9 624.3h0M352.9 645.1h0M337.9 658.5h0M339.7 640.8h0M334.9 664.9h0M344.7 656.1h0M347.1 665.7h0M344 667h0M333.6 641.1h0M347.2 644.2h0M353.4 665.5h0M352.3 680.2h0M338.9 674.5h0M338.1 631h0M339.3 686.7h0M334.1 671.5h0M353 652.4h0M347.4 646h0M331.1 663.3h0M348 658.6h0M339.8 676.7h0M344.8 658.4h0M343.6 655.2h0M352.5 676.8h0M347 665.5h0M334.7 679.2h0M344.4 636.1h0M352.9 646.6h0M344.9 663.6h0M352.7 662.5h0M343.8 654.6h0M343.8 655.1h0M334.1 671.3h0M334 650h0M334.2 649.2h0M333.8 644.8h0M347.2 639.7h0M347.3 669h0M337.9 655.4h0M338.2 671.1h0M352.9 636.5h0M345.1 647.8h0M333.6 687h0M338.7 654.3h0M347.4 659.2h0M344.5 627.7h0M343.7 661.8h0M333.7 657.6h0M338.4 677.4h0M344.5 656.4h0M352.3 656h0M338.4 668.9h0M341.4 656.7h0M350.1 657.9h0M369.3 654.1h0M360.7 634.4h0M356.3 652.3h0M363.8 634.8h0M369.7 683.2h0M376.7 633.7h0M356.1 639.9h0M363.8 644.9h0M367 627h0M356.4 660.4h0M356.6 648.4h0M363.7 651.3h0M371.8 652.8h0M367.7 663.1h0M368.4 669.3h0M366.2 638.5h0M367 648h0M372.3 634.5h0M363.8 633.1h0M368.1 629.8h0M355.6 633h0M362.9 658.4h0M362.7 629.9h0M371.1 670.5h0M373.7 642.1h0M371.5 655.3h0M355.4 619.8h0M372.8 647.7h0M363.5 598h0M368.2 626.6h0M367.9 648.7h0M361.4 651.7h0M371.4 680.3h0M372.3 635.2h0M368.6 682.2h0M367.6 618.7h0M368.1 618h0M356.5 650.9h0M376.9 640.7h0M373.7 642h0M375.4 665.3h0M375.9 657.9h0M358.8 635.2h0M374.5 624.6h0M372 653.4h0M372 626.7h0M373.5 641.8h0M362.9 612.8h0M372.1 670.3h0M368.2 667.3h0M364 619.7h0M368.4 653.5h0M368.1 645.9h0M363.3 642.6h0M364.3 653.3h0M363.6 678.1h0M362.7 647.8h0M367.4 632.7h0M357 660.5h0M367.1 647.8h0M355.5 647.9h0M372.1 646.3h0M364 653.7h0M367.2 654.3h0M355.7 656.3h0M360.6 657.8h0M369.8 637.7h0M356.9 679.4h0M367.8 641.9h0M362.5 653.3h0M363.7 664.5h0M372.9 655h0M364.3 623.5h0M355.7 677.9h0M360.2 654.9h0M373.3 617.1h0M361.1 663.1h0M370.7 616.7h0M372.2 671.6h0M363.5 631.8h0M355.9 641.2h0M357 669.6h0M373.3 633h0M365.2 612.6h0M372.9 664.3h0M369.9 651.7h0M372.2 610.7h0M364.6 655.8h0M358.2 631.5h0M364.5 642.8h0M376.2 644.9h0M357 668.1h0M358.4 632.6h0M362.5 676.5h0M376.6 629.4h0M367.7 657.1h0M355.8 649.7h0M366.5 655.7h0M365.9 644h0M369 633.7h0M363.8 644.4h0M365.4 660.3h0M372.5 642.3h0M360.2 665.2h0M372.3 607.1h0M360.8 676.7h0M366.4 648.4h0M375.1 653h0M376.8 654.7h0M358.6 639.6h0M356.2 634.8h0M367.8 636.5h0M367.5 659.6h0M363 617.5h0M364 616.7h0M371.4 686.1h0M370 636h0M365.2 660h0M372.5 653h0M370.2 668.8h0M364.8 661h0M355.6 674.6h0M371.9 676.7h0M374.2 674.8h0M368 673.7h0M372.8 686.2h0M370.4 629h0M357.4 646.5h0M365.1 631.5h0M356.2 661.3h0M363.7 643.7h0M372.2 669.9h0M367.8 674.8h0M357.7 657.6h0M368.9 654.6h0M363.6 640.7h0M372.5 671h0M371.6 647.3h0M356 650.6h0M369.5 636h0M371.9 642.3h0M363.9 628.3h0M377.4 621.5h0M359.7 642.4h0M356 663.2h0M368 610.5h0M362.6 649.3h0M372.9 644.1h0M368.8 648.8h0M372.5 606.4h0M362.9 625.4h0M367.4 677.8h0M364 639.1h0M368.3 660.9h0M359.8 630.7h0M355.2 645.2h0M372.4 652h0M358.8 639.6h0M372.9 675.7h0M366.5 657.8h0M363.8 666.9h0M358.7 647.1h0M367.2 648h0M356.1 636.3h0M364.2 633h0M372.9 635.1h0M364.1 626.4h0M373.4 640h0M363.7 625.9h0M360.6 667.8h0M356.4 630.7h0M376.9 663.5h0M373.9 639.6h0M372.9 659.2h0M376.1 673.5h0M355.6 621h0M368.1 644.2h0M371.8 608.2h0M372.7 660.4h0M363.8 653h0M363.6 680.3h0M361.5 650.7h0M368.2 647.6h0M373.2 631.6h0M355.7 644.5h0M356.7 621.8h0M356.2 647.1h0M372.7 669.7h0M356.1 616.1h0M374.8 670.5h0M374.3 637.5h0M356.2 630.2h0M363.4 663.2h0M363.4 639.8h0M359.2 657.4h0M371.3 635.8h0M365.5 663.6h0M364.1 688.3h0M356.2 636.6h0M362.7 662.9h0M361.9 613.7h0M361 668.5h0M359.6 666.6h0M364.1 648.2h0M359.8 638.7h0M360.2 615.4h0M356.2 608.3h0M372.6 599.3h0M367.4 626.6h0M371.7 644.2h0M364.5 656.4h0M363.2 621.2h0M373.2 633.1h0M356.3 685.9h0M355.9 621.4h0M356.3 658.6h0M363.2 618.3h0M355.8 651.2h0M366.3 657.9h0M355.9 664.8h0M368.2 650.2h0M364.1 657.6h0M370.9 637.4h0M363.5 603.6h0M363.4 623.5h0M367.8 608.1h0M371.9 637h0M368.3 628.9h0M354.7 682.3h0M355.1 629.9h0M373.9 685.4h0M360.7 629.7h0M367.6 649.1h0M371.5 632.8h0M375.8 634.8h0M355.7 629.6h0M372.3 672.2h0M365.3 680.6h0M354.8 618.6h0M367.9 642h0M364.1 652.6h0M364.4 650.7h0M366.8 627.3h0M365.1 646.7h0M371.7 677h0M370.9 623.7h0M375.2 641.9h0M372.7 636h0M372.3 622.1h0M359.5 632.1h0M363.3 661.4h0M356.4 618.1h0M367.8 650.7h0M366.3 666.2h0M370.4 635.7h0M355.4 644.3h0M373.8 655.2h0M364.3 673h0M356 664.6h0M355 685.3h0M371.8 648.2h0M356.9 648.5h0M367.5 647.7h0M370 659.1h0M357.2 613.5h0M372.3 637.5h0M364.7 647.6h0M356.9 632.3h0M355.8 650h0M363.4 646.3h0M369.2 651.7h0M372.2 655.9h0M368.2 618.7h0M355.6 638.2h0M372.3 625.1h0M364.2 639.2h0M367.7 652.7h0M363.2 677.9h0M374.8 624.1h0M364.8 635.6h0M356.2 623.7h0M355.6 636.9h0M363.6 629.6h0M364.3 645.8h0M369.6 636.9h0M355.5 645h0M371.8 629.8h0M367.9 676.7h0M358.7 604.3h0M371.3 631.7h0M367.9 627.5h0M360.4 676.4h0M366 637.8h0M366.6 650.4h0M372 651.6h0M368.2 645.4h0M356.7 620.1h0M373 620h0M364.4 662.2h0M363.8 648.5h0M369.8 637h0M372.5 662.1h0M356.9 629.5h0M367.2 660.1h0M367.1 636.7h0M366.4 655.2h0M364.3 599.6h0M363.9 644.9h0M363.1 647.4h0M360.4 646.8h0M357 670.5h0M355.8 615.3h0M356.8 672.1h0M361.2 633.6h0M361.2 647.1h0M356.1 668.5h0M369.9 599.5h0M364.2 656h0M363 625h0M367.9 589.6h0M396.7 672.3h0M403.7 645.6h0M410.4 619.8h0M398.4 626.6h0M385.7 604.2h0M382.7 633h0M403.2 624.3h0M403.6 634.7h0M402.8 667.3h0M396.9 635.9h0M403.6 627.6h0M406.4 653h0M393.9 641.5h0M397 646.3h0M408.1 625.5h0M402.9 649.6h0M406.6 688.1h0M396.8 648h0M396.5 638.6h0M396.4 685.1h0M396.3 661.3h0M411.5 664h0M385 649.2h0M389.7 637.5h0M403.6 653.1h0M378.5 636.3h0M400.6 652.7h0M390.3 656.9h0M397.8 617.8h0M385.7 628h0M403.1 628.3h0M403.9 638.8h0M385.4 630h0M390.2 653.2h0M410.4 643.4h0M386.2 657.9h0M386.1 657.6h0M409.7 649.4h0M386.3 659.2h0M402.6 649.6h0M403.3 659.7h0M386 631.8h0M399.1 639.5h0M403.6 640.8h0M397.1 643.2h0M384.6 652.2h0M412.2 623h0M397.1 661.9h0M406.1 653.4h0M386.1 654.4h0M412.1 672.7h0M405.4 626.6h0M401.6 637.1h0M402 639.8h0M381.2 653.4h0M386.1 660.7h0M399 633.3h0M397.4 667.8h0M403.2 653.8h0M404.2 621.6h0M403 651h0M396.5 631.5h0M379.8 660.6h0M392 635.7h0M408.5 644.6h0M410.6 607.5h0M391.2 605.8h0M402.8 623.6h0M386.2 633.8h0M393.3 660.1h0M385.4 641.9h0M396.7 642.1h0M398.3 639.6h0M397.9 640.9h0M413.1 605.2h0M399.4 628.1h0M401.9 630.2h0M397.1 644.1h0M384.3 647.5h0M392.2 680.1h0M398.6 631h0M382.5 656.1h0M388.5 650.4h0M401.1 639.6h0M381.8 639.1h0M396.4 639h0M383.1 660h0M402.6 617.2h0M404 626.8h0M403 635.9h0M400.1 649.2h0M383.5 664.7h0M381.4 646.4h0M403.9 639.2h0M402.8 663.5h0M403.5 640.6h0M396.7 631.4h0M380.4 655.8h0M396.8 655.8h0M403.1 645.4h0M402.7 618.1h0M402.6 627.6h0M402.9 673.3h0M396.8 625.6h0M397.5 626.7h0M394.5 652.7h0M401.3 649.8h0M397.5 667.5h0M401.8 654.4h0M408.4 632.5h0M419.5 623.7h0M427.2 627h0M418.2 643.7h0M421.9 630.4h0M433.5 628.2h0M431 643.3h0M431.4 653.3h0M427.3 623.7h0M413.9 639.3h0M432.5 596.9h0M427.6 632.8h0M426.7 649.8h0M416.2 617.9h0M432 606.5h0M439.6 633h0M421.4 658.5h0M415.7 624.5h0M432 646h0M422.4 625.8h0M422.2 640h0M414.3 614.4h0M426.9 625.9h0M427.4 608h0M416.9 671h0M433.4 630.9h0M427.6 622.1h0M429 591.9h0M432.6 628.7h0M434.7 625.1h0M438.7 640.6h0M427.3 618.5h0M422.3 627h0M432.8 620.8h0M415.3 595.7h0M418 636.2h0M421.8 594.1h0M432.7 642.2h0M421.9 620.6h0M428.1 625.7h0M433.1 620.1h0M428 618.4h0M416.2 654.5h0M422.7 663h0M427.5 631.2h0M415.8 607.7h0M427.6 627.3h0M421.2 606.8h0M426.5 621.1h0M426.3 632.7h0M436.4 618.6h0M421.8 611h0M420.7 600.1h0M420.6 625.6h0M420.1 659.7h0M427.1 607.1h0M438.2 601.7h0M431.9 656.4h0M419.5 627h0M422.7 616.7h0M440.2 622.7h0M433.4 626.5h0M422.9 640.9h0M438.5 621.3h0M421.1 597.9h0M428.1 625.9h0M439.7 605.2h0M432.4 604.7h0M431.4 643.1h0M426.6 600.1h0M427.9 673.2h0M427.9 601.4h0M415.4 603.6h0M427.2 594.9h0M432.4 610.4h0M428.3 613.2h0M428.6 618.2h0M414.9 613.2h0M417.9 632.1h0M430.5 593.6h0M438.3 640.1h0M425.1 632.7h0M427.9 610.8h0M430.3 611.7h0M425.2 637.4h0M425.4 644.4h0M427.6 632.6h0M432.8 657.4h0M431.5 627.1h0M426 596.1h0M432.1 619.6h0M413.7 598.3h0M427 588.9h0M434.7 628.7h0M439.9 623h0M418.7 623.9h0M439.8 627.5h0M427.6 627.5h0M422.7 631.7h0M429.2 622.5h0M427.5 646.5h0M427.6 614.8h0M418 631.5h0M428.2 629.7h0M432.5 647h0M416.3 623.1h0M425.2 671.1h0M435.2 648h0M431.4 612h0M426.3 657.9h0M435.9 629.5h0M437.1 640h0M415.9 625.1h0M439.3 614.5h0M429.6 645.9h0M436.1 605.1h0M415.7 596.3h0M434 619.8h0M432.2 611.6h0M417.2 611.2h0M417.6 644.7h0M427.6 606.1h0M437.3 625.5h0M414.3 657h0M427.4 622.1h0M421.4 598h0M427.8 647.7h0M421.7 619.4h0M427.9 626.3h0M436.3 658.3h0M421 653.7h0M425.1 615.8h0M417.6 631h0M416.4 665.7h0M416.6 633.4h0M421.8 629.8h0M422.5 614.9h0M430.7 616.6h0M427.9 644h0M423.3 667.8h0M414.2 618.2h0M432.5 661.6h0M427 621.4h0M422 625.4h0M421.9 604.1h0M427 646.5h0M432.5 611.1h0M432.7 654.3h0M426.8 630.3h0M427.5 648.2h0M427.2 595.8h0M461.2 634.2h0M453.3 633.7h0M453.1 621.8h0M469.6 614.5h0M460.3 656.7h0M468.9 635h0M463.2 629.7h0M446.7 641.3h0M448.8 654.8h0M461.1 622.6h0M453.6 622.9h0M452.5 610.6h0M460.8 634.9h0M451 673h0M468.5 626h0M461.2 629.4h0M459.6 594.2h0M450.1 647.9h0M466.7 607.6h0M472.9 629.8h0M468.3 610.8h0M460.8 651.1h0M465.7 637.4h0M460.7 619.3h0M460.3 628.5h0M447.4 636.5h0M447.7 610.2h0M445.1 663.3h0M456.1 617.5h0M468.7 592.4h0M458.4 618.6h0M460.4 610.7h0M459.6 604.2h0M461.5 646.5h0M452.9 614.6h0M453.1 624.9h0M468.1 654.1h0M450.1 619.7h0M449.9 643.1h0M468.3 583.5h0M447.8 637.1h0M448.8 629.8h0M468 626.7h0M450.5 624.2h0M448 652.8h0M461.1 633.5h0M468.5 610h0M461 613.6h0M460.4 624.6h0M452 639.1h0M464.9 638.4h0M452.3 610.7h0M452.6 618h0M461.1 644.5h0M460.3 647.2h0M468.2 609.9h0M467.9 634.3h0M452 638.6h0M468.1 628.4h0M466.6 627.6h0M468.5 647.1h0M445.9 630.9h0M452.3 622.5h0M464.8 603.8h0M449.6 625h0M460.7 646.8h0M444.5 645.8h0M460.4 636.7h0M459.7 634.4h0M464.1 623.4h0M452.4 634h0M451.9 633h0M459.9 649.5h0M451.9 617.3h0M452.4 634.2h0M476 654.6h0M452.6 660.8h0M450 647.7h0M467.9 644.1h0M441.3 624.5h0M452.5 609.2h0M470.4 637.2h0M460.1 620.1h0M445.1 645.4h0M468.5 604.9h0M460.9 646.8h0M468 619.4h0M470 630.7h0M467.9 633.5h0M474.9 610h0M467.8 601.5h0M452.9 594h0M461.1 645.7h0M457.6 642.2h0M470.9 632.8h0M454.3 606.4h0M460.5 638.2h0M451.9 617.9h0M471.3 620.3h0M460 642.8h0M468.4 635.6h0M470.7 623.6h0M452.2 614.9h0M460.2 640.8h0M460.1 612.7h0M453.1 630.5h0M453.3 591.3h0M468.1 645.3h0M452.4 612.7h0M443.9 628.5h0M475.7 622.8h0M464 641.8h0M464.7 636.1h0M456.2 627.3h0M474.5 641.6h0M465.6 601.3h0M464.2 617.6h0M453 634.2h0M467.6 654.2h0M453.5 656.8h0M487.7 688.5h0M481.3 643.7h0M478 603.4h0M489.7 643.8h0M483.5 650.7h0M491.5 649.7h0M363.8 551.7h0M367.7 564.2h0M437.6 542.7h0M444.7 557h0M468.3 558.8h0M486.4 598.1h0M499.7 674.8h0M519.4 669.5h0M484 630.2h0" stroke="#0000ff" stroke-width="1.55" stroke-linecap="round"/><path d="M264.5 667.9h0M260.7 666h0M260.7 648.6h0M264 656.9h0M263.1 676.7h0M264.2 664.4h0M261.7 674h0M262.1 662.6h0M267 670.9h0M262.9 663h0M261 672.9h0M261.5 647.7h0M262.7 673.9h0M264.2 661.3h0M261.6 681h0M262.7 659.2h0M261 655h0M261.4 658.9h0M265.8 667h0M260.9 663.7h0M263.9 657.5h0M260.8 654.7h0M266.1 669.4h0M261.7 667.7h0M262.9 677.4h0M264 666.1h0M266.6 664.9h0M263.6 662.7h0M264.2 668h0M260.1 666.7h0M263.9 669.5h0M264.4 678.6h0M264.3 662.9h0M264.1 655.8h0M263.5 664.1h0M261.3 663.6h0M264.8 671.6h0M263.9 650.2h0M261.9 668.6h0M263.3 665.8h0M266.5 669.4h0M265 658.4h0M261.3 668.2h0M261.4 667.4h0M261 673.8h0M261.7 675.3h0M266.5 665.7h0M263.6 664.9h0M263 667.1h0M262.6 663.5h0M264.6 674.2h0M261 657.6h0M263.8 663.1h0M265.5 645.9h0M266.1 658.3h0M265.8 661.1h0M264.2 662.6h0M261.4 664.1h0M262.1 681.3h0M264.9 669.8h0M266.1 661.8h0M261.5 665.4h0M260.4 658.8h0M262.1 664.6h0M264.3 675.5h0M264.6 681.5h0M261.2 655.2h0M260.7 670.2h0M266.9 662.3h0M262.2 654.6h0M261.1 676h0M261 659.8h0M261.4 671.1h0M264.1 680.1h0M262.5 667.2h0M263.2 674.3h0M263.8 674.6h0M264.9 671.2h0M260.4 668h0M260.9 665.9h0M265.3 663.1h0M263.6 658.9h0M260.7 660.3h0M263.4 676.3h0M261.7 673.1h0M265.9 667.3h0M264.7 649.3h0M263.7 665.4h0M262.1 665.7h0M264.2 676.7h0M261.7 666h0M263.9 661.8h0M263.8 666.9h0M261.2 654.7h0M261.8 666.3h0M262.6 663.3h0M261.4 661.3h0M260.5 667h0M266.9 672.7h0M260.9 669.2h0M261.2 659.2h0M260.9 668.7h0M261.5 673.1h0M261.8 667.8h0M262.4 673.6h0M263.6 667h0M263.3 677.4h0M261.3 667.5h0M260.3 666.9h0M260.2 680.9h0M261.9 658h0M264.8 662.8h0M263.1 664.6h0M263.1 668.4h0M264.8 682.6h0M263.4 660.3h0M264.1 672.2h0M261.9 666.9h0M265.6 667.1h0M265.2 659.7h0M260.2 668.5h0M263.2 656.3h0M262.2 672.4h0M264.1 655.5h0M260.3 666.7h0M263.6 671.1h0M261.3 653.3h0M263.1 648.1h0M262.4 670.2h0M262.3 665.4h0M261.1 669h0M264.4 668.2h0M264.7 655.7h0M263.2 656.1h0M260.1 674.6h0M262.3 666.1h0M262.2 670.9h0M260.2 667.1h0M261.4 661.1h0M264 664.5h0M261.1 668.3h0M264.1 658.6h0M262.1 669.8h0M260.9 657.7h0M261 681.1h0M261.4 660.9h0M266.5 654.8h0M266.5 679.3h0M262 647h0M260.4 652.3h0M269.8 663.4h0M275.6 678.5h0M284.4 670.8h0M284.5 681.4h0M269 660.8h0M271.1 668.1h0M276.7 664.3h0M275.5 663.9h0M267.7 667.8h0M275 673.8h0M290.3 678.4h0M280.7 654.6h0M268 661.9h0M285.4 682.2h0M276.5 672.6h0M272.6 668.8h0M284.1 682.9h0M284.2 676.3h0M270.2 662.3h0M267.8 675.2h0M281.6 668.2h0M275.1 668.2h0M284.3 660.2h0M284.2 671.1h0M271.5 662.1h0M285.3 675.6h0M286.8 684.3h0M270.2 662.5h0M280.6 671.7h0M279.1 666.5h0M288.6 668h0M267.5 669.6h0M270.1 663.5h0M288 676.5h0M280.2 665.7h0M284.8 651.9h0M273 682.2h0M271 666.8h0M270.8 658.7h0M275.6 681.2h0M288.7 665.5h0M278.3 659.6h0M271.5 658.3h0M276.4 672.8h0M285.5 672.3h0M270.4 680.2h0M287.7 671.4h0M290 678h0M288.7 684.2h0M289 670.8h0M281.7 669.9h0M275.5 663.6h0M287.6 663.6h0M284.3 663.3h0M269.5 676h0M287.3 672.7h0M279.8 678.3h0M279.4 668.9h0M277.8 674.8h0M270.7 656.9h0M272.7 672.5h0M287.6 673.9h0M279 672h0M273.4 670.5h0M283.9 663.8h0M267.6 654.4h0M283.2 678h0M284.5 662.3h0M267.9 668.3h0M275.5 679.1h0M284.4 658.2h0M270.5 686.1h0M270.6 668.6h0M275.2 673.7h0M287.2 651.5h0M277.3 655.6h0M285.3 659.9h0M273.1 676.6h0M287.6 662.9h0M280.9 651.4h0M287.7 664.6h0M286.7 673.5h0M275 667h0M270.3 673.9h0M275.4 666.2h0M291.1 677.2h0M276.4 678.4h0M278.2 676.3h0M289.4 686.1h0M270 683.7h0M275.7 679.5h0M269.4 668.5h0M281.3 664.2h0M287.7 678h0M288.9 669.5h0M270.3 668.6h0M287.5 686.5h0M276.4 664.1h0M287.3 666.1h0M268.3 666.8h0M283.9 682.5h0M287.4 675.7h0M284.8 652.9h0M287.2 682.9h0M278.1 680.1h0M287.3 671.8h0M275.2 648.5h0M284.4 683.8h0M275.8 661.4h0M274.4 672.6h0M287.3 664.3h0M286.2 679h0M291.2 675.8h0M270.4 667h0M279.5 673h0M271 661.4h0M276.4 661.2h0M290.8 667h0M290.9 660.4h0M267.7 675.4h0M276.6 658.7h0M272.2 675.9h0M275.9 674.9h0M289.9 662.4h0M285.6 685.1h0M269.6 688.9h0M280.5 672.9h0M288 665.5h0M288.2 668.9h0M287.8 684.6h0M288.5 671.1h0M270.5 668.9h0M284.6 674h0M270.3 665.5h0M284.2 657.7h0M274.3 666.4h0M286.3 651.2h0M284.4 675.6h0M270.5 674.3h0M268.8 676.3h0M273.1 678h0M269.6 663.6h0M284.5 669.6h0M276 663.3h0M275.2 672.3h0M267.7 675.7h0M276.9 678.2h0M286.6 656.6h0M284.2 666h0M290.3 684.1h0M276.1 665.3h0M284.7 672h0M273.9 673.7h0M284.1 681h0M276.5 660.4h0M275.7 671h0M271.5 682.9h0M275.6 663.1h0M276 671.6h0M284.4 668h0M284.3 651.3h0M283.9 657h0M283.5 667h0M270.3 678.2h0M274.9 670.7h0M290.7 679.7h0M277.3 683.4h0M270.3 666.4h0M278.2 670.6h0M288.1 677h0M275.4 674.8h0M274.3 653.2h0M282.4 680.7h0M287.1 674.7h0M289.2 666.9h0M275.3 682.9h0M275.6 679.6h0M284.1 665.3h0M269.3 666.9h0M282.7 651.4h0M290.2 674.2h0M281.4 667.3h0M287.7 681.7h0M277.1 657.9h0M286.8 667.3h0M284.2 673.5h0M284.3 658.4h0M284.1 673.3h0M285.8 667.8h0M283.8 686.6h0M280.7 673.2h0M287.9 650.9h0M286.9 668h0M278.8 669.5h0M270.2 673.4h0M270.5 666.5h0M287.3 677.8h0M271.3 665.1h0M282.5 654.8h0M286.8 677.1h0M283.8 668.8h0M269.9 682.1h0M276.3 663.1h0M269.4 672.7h0M284.6 677.3h0M270.6 682.3h0M270.4 667h0M288.5 671.5h0M281 683.2h0M276.5 668.3h0M273 664.9h0M285.3 658.8h0M269.9 674.3h0M288.9 686.1h0M283.1 665h0M271.5 668.7h0M284.7 668.4h0M270.2 670h0M271.7 659h0M279.5 672h0M270.9 677.3h0M277.8 652h0M279.8 662.8h0M289.6 660.2h0M270.7 657.1h0M287.5 668.8h0M270.3 671.6h0M274.1 652.8h0M287.3 673h0M279.6 673.4h0M276 676.1h0M281.6 664.7h0M283.7 673.7h0M274.5 671.3h0M287.1 677.4h0M275.1 668.9h0M282.3 670.8h0M270.1 672.5h0M269.2 688.9h0M276.1 648.6h0M287.8 672.9h0M275.8 667.3h0M271.7 658.7h0M287.7 662.3h0M276.9 681.4h0M274.2 667.4h0M284.5 655.2h0M274.1 668.6h0M281.3 672h0M285 677.3h0M276.5 671.3h0M278.1 657.1h0M277.3 662.5h0M287.6 670.9h0M277.1 686.7h0M268.9 664.4h0M283.1 667.4h0M281.5 656.3h0M270 661h0M270.4 660.2h0M283.1 663.6h0M275.2 677.1h0M289.8 667.1h0M274.5 658.8h0M270.9 661.5h0M277.8 666.1h0M285.8 671.3h0M270.1 666.7h0M273.2 646.3h0M286.3 669.1h0M271.5 662.7h0M284.4 662.8h0M273.4 676.8h0M272.1 678.7h0M283.7 688.6h0M276.2 675.7h0M272.3 679h0M289 663.7h0M268.8 672h0M287.1 679h0M270.1 643.8h0M276.9 669.3h0M284.6 665.3h0M284.7 649.8h0M287.9 658.2h0M273 669.7h0M287.8 663.3h0M269.6 685.5h0M286.9 688h0M286 672.4h0M283.4 671.2h0M267.4 668.4h0M280 670h0M284.4 660.8h0M274.6 667.9h0M274.3 672.8h0M270.1 671.9h0M275.8 685.9h0M276.9 656.3h0M278.4 657.5h0M284.3 679.9h0M271.5 664.2h0M287.5 667.6h0M282.2 676.5h0M276.3 667.3h0M286.9 668.5h0M290.6 688.1h0M280.5 665.5h0M287.2 669.4h0M276.1 676.2h0M284 680.9h0M276.4 677.4h0M284.2 662.1h0M274.7 659.1h0M288 678h0M269.6 673.6h0M282.2 654.8h0M275.5 653.9h0M277.2 670.4h0M287.5 657.5h0M273.7 654.8h0M287.7 665.5h0M277.8 666.2h0M278.1 656h0M280.7 661.5h0M283.8 674.2h0M276.7 664.6h0M287.7 670.1h0M269 665.9h0M274.7 675.2h0M282.7 655.1h0M286.2 674.9h0M287.5 683.1h0M288.2 656.2h0M276 676.7h0M290.2 663.1h0M284.8 666.2h0M282.6 669.1h0M275.4 660.8h0M276.6 658h0M287.5 667.3h0M287.7 670.8h0M284.9 667.4h0M282.3 674.4h0M290.4 668.9h0M275.2 675.2h0M287.9 674.4h0M272.9 664.5h0M281.3 682.9h0M271.9 669h0M279.6 671.5h0M270 664.7h0M281.3 660h0M277.5 678.9h0M287.2 677.9h0M271.7 675.2h0M270.3 666.7h0M280.6 679.9h0M287.7 674.5h0M290.1 663h0M302.6 664.9h0M294.7 676.3h0M319.4 668.2h0M314.2 686.4h0M306.7 682.4h0M303.9 656.6h0M306.8 684.9h0M293.9 673.8h0M295 672.6h0M322.8 688h0M306.5 686h0M302.1 661h0M305.9 666.1h0M306.1 676.7h0M302.6 688.8h0M322.3 685.9h0M330.5 683h0M295.3 676.5h0M302.7 674.9h0M294.9 659.3h0M314.4 665.3h0M302.5 670.5h0M313.7 673.5h0M319.2 662.8h0M294.6 665.9h0M326.6 671h0M306.4 668.8h0M327.6 684.8h0M313.9 667.9h0M318.6 669.8h0M319.3 668.8h0M314.4 668.3h0M318.7 687.3h0M301.9 669.9h0M292.8 669.6h0M302.6 661.9h0M323.4 680.7h0M293.8 662.7h0M322.1 670.5h0M303 656.1h0M294.5 675.5h0M309.6 673.6h0M294 661.9h0M318.9 663h0M323.3 674.5h0M322.9 671.7h0M302.3 663.3h0M307.2 681.8h0M323.6 672.2h0M330.7 672.6h0M318.9 677.8h0M318.8 665.5h0M318.6 643.9h0M323.6 683.3h0M322.4 682.3h0M313.9 675.3h0M305.8 671h0M319.6 675.9h0M329.7 663.1h0M318.6 676.7h0M302 676h0M303.8 673h0M322.8 663.1h0M302.2 669.6h0M296.5 680.4h0M306.4 679.7h0M294.3 662.8h0M311.5 677.3h0M294.8 666.7h0M306.5 671.7h0M319.7 676.6h0M307.4 675.5h0M320.6 659.1h0M309.1 680h0M314.8 661.3h0M314.9 669.4h0M319.7 670.2h0M313.1 671.1h0M314.5 661.7h0M318.7 665h0M328.4 662.3h0M299.4 665.3h0M307 684.5h0M301.6 673.4h0M320.5 674.2h0M302.2 669.1h0M324.2 669.7h0M323.9 683.7h0M298.4 668.4h0M315 662.8h0M314 675.5h0M306.8 683.6h0M307.7 674.3h0M322.9 665h0M319.4 669.8h0M302.3 655.7h0M302.4 677.5h0M313.8 674.3h0M303.2 671.9h0M314.8 673.8h0M323.2 674.3h0M296.7 674h0M322.4 672h0M319.3 657.4h0M294.8 654.3h0M314.4 680.9h0M314.5 675.7h0M306.5 678.4h0M324.8 662.5h0M322.8 654.3h0M294.4 676.6h0M306.9 679.7h0M322.3 667.6h0M314.8 669.2h0M323.1 671.6h0M305.8 661.1h0M317 676.9h0M322.7 668.3h0M314.4 665.6h0M309.7 673.8h0M294.9 656.6h0M319 674.5h0M291.5 682.9h0M325.8 673.5h0M319.5 673.5h0M322.9 663.8h0M313.2 647.7h0M303.6 682.9h0M294.4 668.2h0M314.1 660.9h0M296 672.9h0M311.6 672.7h0M306.7 687.2h0M302.8 656.2h0M302.3 682.2h0M306.1 681.5h0M293.9 685.8h0M318.9 667.4h0M322.7 658.1h0M323.3 657.6h0M322.8 688.9h0M304.4 689h0M316.6 674.8h0M307 659.6h0M325.3 670.5h0M306.8 675.4h0M321.9 688.6h0M294.9 669.7h0M313.8 675h0M323.2 670.2h0M302.4 682.9h0M314.2 667h0M295.2 666.3h0M307.5 663.7h0M294 666.5h0M305.6 685.3h0M302.7 673.3h0M328 682.2h0M294 685.6h0M322.7 674.8h0M322.8 669.6h0M294.2 668.2h0M322.9 682.9h0M323.2 674.3h0M319.4 667.9h0M293.4 657.5h0M301.6 678h0M323.4 658.6h0M294.3 684h0M301 678.2h0M343.6 666.4h0M337.9 679.7h0M352 679.1h0M332.8 674.7h0M353.3 671.6h0M344.6 654.4h0M352.7 661.4h0M345 666.9h0M339.3 679.5h0M331.5 671.4h0M349.3 655.4h0M353.7 681.7h0M352.7 666.1h0M347.8 663.8h0M352.4 680.9h0M353.9 680.9h0M352.9 675h0M334.1 687.2h0M353.3 672.3h0M347.3 676.7h0M346.3 680h0M352.3 684h0M334.3 663.4h0M341.2 668.4h0M347 688.8h0M338.1 684.5h0M331.5 677.6h0M333.7 666.5h0M350.3 672.5h0M347.5 668.5h0M352.4 676.5h0M343.7 665h0M338.1 674.4h0M347.7 684.9h0M347.5 660.8h0M343.3 680.4h0M338.9 664.4h0M347 680.6h0M346.6 672.8h0M338.2 670.1h0M344.6 676.3h0M343.8 678.7h0M353.4 681.4h0M335.9 682.6h0M347.5 686.9h0M334 675.5h0M337.6 671.5h0M344.9 674.1h0M334.1 671.4h0M333.8 669.7h0M344 667.2h0M353.3 686h0M333.6 677.5h0M333 664.8h0M353 679.6h0M347.7 662.5h0M333.6 679.7h0M342 673.5h0M342.7 683.1h0M347.6 672.7h0M367.4 663.9h0M358.6 646.7h0M355.9 658.1h0M363.6 659h0M366.7 643.6h0M368.9 648.2h0M363.5 656.7h0M375.6 642.5h0M355.5 670.8h0M355.2 668.9h0M367.7 667.2h0M365.6 656.9h0M364.8 657.4h0M357.6 663h0M365.3 672.7h0M368.5 661.6h0M360.5 662.6h0M373.2 669.4h0M365.1 645.6h0M359.4 654h0M355.7 652.6h0M368.9 676.3h0M363.3 663.1h0M372 636.6h0M355.5 663h0M377.5 671.4h0M365.7 653.8h0M365.4 673h0M359.8 666.8h0M371.9 683.4h0M367.8 687.2h0M362.9 649.4h0M367.5 668h0M357.7 653.7h0M373.6 659.9h0M361.4 654.7h0M363.6 645.1h0M361.8 650.1h0M364.5 664.7h0M372 673.8h0M367.4 660.6h0M372.4 672h0M376.1 655.5h0M370.2 668.1h0M373.1 630.6h0M366.7 671.4h0M365.8 664.2h0M372.9 661.8h0M376.1 679.3h0M361.4 658.4h0M361.6 658.8h0M372.6 647.3h0M366.7 639.9h0M354.8 649.3h0M358.4 658.6h0M356 651.7h0M373.4 664h0M363.4 667h0M363.1 688.8h0M361.5 657.7h0M368.1 656.4h0M369.3 676.4h0M356 660h0M371.7 679.1h0M374.3 667.1h0M372.3 675.7h0M372.8 670.2h0M372.4 688.8h0M375 656.4h0M376 675.8h0M364.4 669.5h0M372.3 657h0M356.2 668.7h0M361 646h0M370 671.2h0M372.9 661.5h0M365.6 686.3h0M371.7 673.2h0M367.9 656.7h0M356.6 662.1h0M355.8 651.7h0M373.7 671.7h0M374.5 676.6h0M363.7 645.2h0M368 656.2h0M372.6 653.6h0M368.6 676.9h0M355.6 648.5h0M372 661.7h0M368.2 673.5h0M367.3 672.5h0M362.9 644.3h0M371.6 661.8h0M373.2 671.8h0M367.7 653.7h0M359.8 643.8h0M369.9 642.5h0M358.2 670.7h0M372.3 661.3h0M357.9 642.5h0M367.3 680.8h0M363.8 658.7h0M360.8 656.5h0M375.7 657h0M374.4 661.7h0M372.8 639h0M368.1 654.3h0M365.3 686.1h0M377.2 674.9h0M367.9 684.4h0M367.1 682.5h0M359.1 662.7h0M358.8 645h0M363.2 669.2h0M355.8 656.7h0M368.8 653.9h0M355.4 639.8h0M365.6 669.3h0M372.5 653.9h0M356 687.7h0M371.9 651.2h0M376.7 640.9h0M356.3 644.9h0M376.8 661h0M372.7 667.5h0M354.7 648.2h0M377.4 674.8h0M367.9 638.8h0M364 656.7h0M366.5 682.1h0M369.6 665.2h0M368.3 671.7h0M361.6 677.9h0M361 674.8h0M367.2 677.2h0M363.2 680.1h0M372 682.3h0M371.8 655.6h0M357.4 671h0M355.6 676.3h0M371.8 639.1h0M371.8 648.2h0M371.8 665.1h0M356.1 659.2h0M355.7 645.5h0M358 671.8h0M372.1 657.4h0M369.8 636.9h0M367.5 647.2h0M365.2 681.4h0M364.7 672.7h0M362.6 663.3h0M377.2 648h0M355.2 655.3h0M371.7 634.7h0M360.1 674h0M373.9 654.9h0M376.2 634.6h0M363.9 666.3h0M364.5 684.2h0M368.7 668.7h0M356 670.8h0M373 640.6h0M357.5 646.8h0M357.7 663.3h0M366 686.2h0M372.6 643h0M371.3 647h0M371.9 683.1h0M371.8 676.9h0M355.2 660h0M376.2 664.2h0M376.3 651.7h0M372.7 662.3h0M359.1 659h0M372.9 644.3h0M368.2 639.4h0M364 667.5h0M368.2 688.1h0M372.9 669h0M361.4 682h0M363.7 662.3h0M367.3 632.6h0M356.2 644h0M367.4 675.7h0M377.2 648h0M368.2 674.6h0M367.1 688.9h0M364.1 658.5h0M375.6 671.6h0M360.7 676.8h0M356.1 651.7h0M355 666.3h0M355.5 669.3h0M373.2 666.6h0M360 644.2h0M370.1 665.8h0M355.6 658.4h0M368.3 642.3h0M355.5 684.8h0M372.4 658.8h0M355.2 683.7h0M368.7 670.9h0M374.8 622.3h0M367.9 664.7h0M355.8 675.4h0M372.2 661.8h0M362.4 670.1h0M368.3 669.4h0M367.9 684.4h0M364.3 649h0M358.3 679.4h0M358.3 660.8h0M355.9 657.3h0M363.3 673.7h0M371.1 660.9h0M367.2 642.7h0M365.4 665.1h0M356.3 642.8h0M367.4 688.9h0M368.9 631.1h0M363.5 673.4h0M367.1 676.2h0M363.7 650.9h0M369.1 663.2h0M367.6 660.1h0M371.7 686.7h0M372.4 655.8h0M363.8 687.4h0M363.1 669.7h0M367.9 675.1h0M372.2 651.8h0M372.3 670.2h0M354.6 655.1h0M363.8 684.2h0M372.6 644.6h0M371.9 647.5h0M363.7 688.6h0M368.7 664.9h0M361.9 681.7h0M372.1 655.8h0M369.3 648.3h0M366.1 668.2h0M372.5 660h0M372.6 677.1h0M373.2 661.2h0M372.6 655.2h0M357.7 641.5h0M358.6 674.6h0M358.6 684h0M355.4 644.8h0M355.4 663.5h0M358.8 672.6h0M366.3 651.3h0M362.8 669.9h0M367.4 682.2h0M363.9 651.7h0M355.3 673.5h0M363.2 652.6h0M364.1 669.7h0M363.7 664.8h0M368.1 672.2h0M367.9 637.5h0M359.5 656.9h0M368.3 638.3h0M364 673.4h0M366.1 680.4h0M364.3 647.5h0M367.5 674.4h0M375.5 667.8h0M374.7 641.5h0M364.1 665.5h0M355.3 651.3h0M372.7 669.2h0M355.6 677.4h0M363.6 658.1h0M373.6 680.9h0M355.1 644.9h0M363.3 665.8h0M361.9 665.3h0M371.4 649.9h0M363.6 664h0M367.6 653.2h0M371.2 683.3h0M372.9 681.8h0M367.5 646.8h0M375 672h0M355.9 654.3h0M376 678.8h0M362.2 668.6h0M373 657.5h0M372.6 642.6h0M373.7 681.4h0M356.5 651.1h0M360.9 660.9h0M372.3 672.3h0M358.1 649.8h0M360.1 651.4h0M356.4 672.9h0M356.6 669.3h0M384.8 638.2h0M402.2 649.2h0M389.6 655.8h0M391.2 652.3h0M400.8 638.9h0M403.1 626.9h0M406.9 647.6h0M389 657.2h0M385.6 645.5h0M384.6 657.7h0M397.1 659.9h0M405.2 687.2h0M385.6 649.6h0M379.9 660.7h0M402.9 665.5h0M385.2 651.7h0M403.4 655.4h0M403.1 659.1h0M385.7 679.4h0M380.8 639.2h0M396.8 648.9h0M407.5 660.2h0M386.2 664.8h0M402.7 652.8h0M380.1 673.8h0M396.7 653.9h0M385.4 682.2h0M380.7 651.8h0M407.5 636.3h0M389.7 663.9h0M384 650.6h0M400.3 642h0M396.2 682.2h0M409.2 661.7h0M381.7 640.3h0M385.4 644.8h0M401.5 652.7h0M412.5 645.3h0M383.6 663.6h0M393.1 648.6h0M403.1 671.9h0M397.3 676.1h0M403.2 684.3h0M385.5 671.6h0M410.2 654.5h0M403.5 651.5h0M385.9 648.2h0M396.4 663.1h0M384.1 643.5h0M386.3 654.3h0M412.7 665.3h0M402.5 643.7h0M396.3 649.8h0M401.6 666.7h0M385.5 658h0M402.9 680.9h0M405.4 654h0M412.2 654.1h0M396.4 632.2h0M401.9 666.4h0M380.9 648.9h0M395.8 664.8h0M396.9 663.8h0M402.4 669.8h0M386.1 653.3h0M383.3 647.2h0M379.4 672.3h0M385.8 662.1h0M396.4 653.3h0M402.8 657h0M397 658.9h0M397.7 663.9h0M384.6 677.6h0M383.1 658.5h0M402.6 670.2h0M395.5 649.3h0M405.5 642.6h0M396.8 684.4h0M403.4 657.9h0M405.8 643.6h0M396.5 668.4h0M410.7 685.7h0M397.1 667.6h0M402.5 676.4h0M403.9 660.5h0M398.4 646.2h0M402.8 627.4h0M401.4 646.2h0M396.7 637.3h0M394.1 661.2h0M396.9 654.1h0M402.8 648.2h0M410.9 654.9h0M401.2 641.8h0M396.4 649h0M388.2 643.3h0M385.8 654.6h0M379.2 671.1h0M396.5 620.9h0M386.1 662.3h0M379 664.5h0M395.8 656.4h0M403.1 643.3h0M386.4 623.4h0M403.1 633h0M386.4 668.6h0M409.5 645.6h0M402.5 653.6h0M385.9 638.8h0M402 680.9h0M390.6 650.3h0M385.7 640.5h0M396.7 675.5h0M409.4 631.9h0M379.1 643.5h0M409.2 636.3h0M385.5 600.5h0M386.1 671.7h0M408.7 645.9h0M385 656.3h0M407.4 682.1h0M396.2 654.5h0M382 663h0M390.5 650.4h0M399.9 668.3h0M403.5 634.2h0M385.9 673.8h0M409 664.8h0M402.3 648.3h0M378.9 660.9h0M396.8 680.8h0M396.7 664h0M389.9 646.4h0M383.3 653.8h0M386.5 676.9h0M411.8 658.5h0M378.3 647.5h0M399.2 665h0M378.2 664.8h0M402.8 665.1h0M396.7 638.3h0M384.8 654.7h0M385.3 665.6h0M378.6 628.2h0M403.3 634h0M385.2 656.8h0M400 667.6h0M402.6 650.5h0M404.8 632.1h0M394.1 656.5h0M409.7 634.5h0M398.9 658.1h0M397.5 674.9h0M407.1 655.6h0M411 642.2h0M397.2 649.4h0M395.6 672.8h0M402.4 663.9h0M386.3 649.1h0M405.9 671.2h0M386.5 638.8h0M403.8 641.5h0M389.3 650.8h0M402.8 677.5h0M403.8 658.9h0M399.1 648.4h0M385.6 642h0M397 611.5h0M397.2 669.2h0M410.8 651.4h0M428.2 650.7h0M427.4 671.7h0M432.1 645h0M432.7 665.4h0M434.3 636.5h0M422.3 664h0M421.1 657.1h0M433 636.3h0M421.9 646.8h0M426.9 675.7h0M425.1 615.8h0M416.5 656.8h0M421.7 643h0M422.1 649.8h0M427.8 646.6h0M427.4 651.3h0M428.6 646.2h0M436.4 664.4h0M422.5 646.4h0M427.4 660.8h0M427.7 654.2h0M426 663.1h0M426.9 661.4h0M414.3 646.4h0M440.1 650.7h0M427.2 643.7h0M428.4 644.3h0M432.7 653.9h0M432.9 639.8h0M431.5 663.5h0M417.5 616.7h0M431.4 641.1h0M422.3 646.9h0M430.7 658.4h0M424.4 667.6h0M413.9 632.6h0M416.1 645.5h0M421.4 626.6h0M432.8 639.3h0M418.3 653.4h0M432.1 660.1h0M432.6 628.7h0M427.6 653.1h0M432.6 656.8h0M427.6 628.6h0M432.5 652.3h0M426.2 644.3h0M429.8 623.6h0M422.1 660.1h0M433.1 655.8h0M425.2 644.7h0M422.4 658h0M434.9 669.1h0M428.7 649.8h0M427.4 628.7h0M413.6 658.5h0M422.2 663.3h0M416.4 675.1h0M429.6 673.4h0M419.2 628.1h0M413.4 647.9h0M422 668h0M424.7 666.5h0M421.6 670.2h0M427.3 675.6h0M431.3 684.7h0M427.1 606.8h0M413.7 663.3h0M432.2 630.1h0M428.6 651.8h0M432.3 633.8h0M415.7 664.2h0M432.3 640.6h0M424.9 666.3h0M421.8 656.7h0M415.5 634.4h0M427.7 656.7h0M413.7 678.7h0M425.2 680.7h0M431.7 659.5h0M421.7 625.3h0M427.2 640.2h0M434.1 673.9h0M426.7 670.9h0M440.8 664.3h0M432.5 658.7h0M422 636.8h0M431.1 619h0M422.2 650.8h0M422.9 654.1h0M421.1 662.3h0M414.6 627.4h0M425.8 648.8h0M414.4 652.3h0M427.5 641h0M425.7 651.3h0M418.2 643.7h0M425.4 653.7h0M426.7 620.2h0M432.5 635.3h0M426.5 635h0M426.5 662.9h0M427.2 684.2h0M432.1 688h0M427.2 626.9h0M427.9 669.6h0M422.1 658.5h0M431.7 657.7h0M436.6 641.2h0M427.7 634.6h0M427.9 640.5h0M427.9 660.5h0M416.8 687.4h0M438.2 665.8h0M437.9 660.1h0M427.4 637.3h0M427.4 631.9h0M420.9 670.9h0M431.3 675.9h0M423.8 673.8h0M418.1 674.2h0M431.7 628.7h0M432 624.9h0M426.7 649.6h0M413.8 643h0M430.6 639.7h0M429.5 647.5h0M437.8 651.3h0M429.4 625.2h0M421.6 648.6h0M426.9 646.9h0M413.7 629.7h0M432 638.8h0M432 648h0M417.2 644.4h0M425.9 659.1h0M431.8 655.1h0M423.5 657.5h0M431.9 660.6h0M428 637.2h0M425.1 669.7h0M428.4 655.4h0M422.3 638.8h0M439.5 676.2h0M424.5 650.3h0M427.1 655.6h0M417.4 658h0M427.7 639.6h0M420.6 647.2h0M432 662.1h0M418.5 647.1h0M421.6 645.5h0M427.7 657.6h0M431 642.7h0M427.5 651.3h0M431.3 661.7h0M413.7 637.8h0M430.7 656.4h0M428.7 652.1h0M428.8 641.2h0M427.9 605.3h0M413.9 632.2h0M431.7 663h0M418.1 635.3h0M432.2 637.4h0M427.9 647.1h0M415.3 629.1h0M427.6 658.1h0M431.4 660h0M437.3 643.8h0M422 677.3h0M421.4 652.5h0M430.1 651.5h0M437.3 661.9h0M432.6 614.1h0M428 633.9h0M434.8 632.4h0M423.1 653.8h0M421.7 659.9h0M429.5 666.4h0M422.8 629.5h0M427.1 665h0M431.5 657.4h0M423.7 636.4h0M432.1 636.5h0M436.8 647.9h0M427.2 649.5h0M435.4 676.7h0M437.8 664h0M432.1 651h0M435.1 644.4h0M414.9 671.9h0M413.4 635.5h0M419.4 632.3h0M432.6 660.8h0M436.2 626.1h0M414.8 653.3h0M420.6 639.2h0M426.1 638.6h0M435.8 619h0M418.5 662.2h0M428.2 641.5h0M427.2 629h0M413.5 658.9h0M423.6 628h0M427 628.7h0M428 646.5h0M427.2 660.9h0M424.5 647.1h0M422.7 658.3h0M440 657.9h0M427.3 664.8h0M421.6 651.5h0M436.6 662.8h0M430.3 650.3h0M427.8 615.9h0M432.4 666.9h0M427.5 668.5h0M424.7 648.2h0M420.8 648.3h0M431.5 647.7h0M432.8 641.4h0M420.4 658.3h0M438 629.8h0M427.6 636.4h0M418.5 673.6h0M427.4 661.8h0M433.1 666.2h0M414.4 667.2h0M431.8 675.4h0M438.7 671.1h0M427.8 661.8h0M426.9 665.4h0M416.1 632.3h0M432.3 674.2h0M432.1 649.6h0M427.4 641.2h0M427.6 632.5h0M427.4 660.7h0M432.3 648.7h0M414.7 658.4h0M421.2 655.7h0M432.8 675.7h0M418.6 633.9h0M434.9 658.4h0M428 625.3h0M414.6 652.8h0M423.4 641h0M432.4 677h0M427.8 675.1h0M421.8 637.3h0M422.8 659.1h0M427.9 638.9h0M432 667.3h0M422.1 638.1h0M439.8 643.3h0M427.3 630.1h0M422.1 672.6h0M426.7 663.5h0M431.4 634h0M440.3 673.6h0M434.7 649.7h0M439.1 684h0M418.8 647.3h0M416.6 644.2h0M422 631.4h0M430.5 643.4h0M421.8 623.3h0M421 677.7h0M421.8 656.5h0M417.6 664.9h0M432.2 670.3h0M425.7 652.3h0M424.1 664.8h0M414 649.4h0M435.4 665.1h0M422.9 648.1h0M423.4 647.7h0M431.6 676.5h0M428.2 658.4h0M432.1 643.3h0M440.1 598.2h0M421 659.3h0M426.6 651.5h0M416.7 632.1h0M421.4 686.6h0M427.5 651.3h0M439.8 655.8h0M427.9 686.5h0M432.9 625.3h0M430.6 651.8h0M413.7 627.6h0M416.5 640.7h0M438 614.9h0M431.7 641h0M421.7 663.5h0M434.7 627.7h0M427.6 683.6h0M426.3 655.1h0M428 656.8h0M467.3 665.1h0M461.7 676.5h0M442.8 682.8h0M446.2 631.4h0M468.7 669.6h0M456 653.1h0M457.6 677.3h0M459.8 651.8h0M452.2 656.5h0M455.6 648.1h0M446.2 654.6h0M460.4 630.2h0M450.4 675.2h0M460.9 643.5h0M450.3 628.1h0M468.6 654.9h0M460.4 644.5h0M451.7 660.5h0M471 664.8h0M452.7 653.6h0M442 659.3h0M469.4 624.1h0M461 624.8h0M460.3 639.8h0M471.4 638h0M453.9 620.8h0M452.6 663.2h0M463.3 675.8h0M475.1 660.3h0M475.1 660.6h0M471.6 642.6h0M472.2 652.7h0M449.5 628.3h0M444.6 679.5h0M456 668.8h0M460.2 659.2h0M468.7 670.7h0M467.7 662.9h0M467 652.2h0M468.4 638.6h0M455.3 665.4h0M458.4 650.2h0M468.2 629.1h0M464.8 667.1h0M464 632.8h0M452.4 653.5h0M460 645.8h0M456.9 631h0M452.5 648.5h0M468.6 687h0M468.1 638.9h0M468.3 677.2h0M459.4 664h0M472.2 637.3h0M460.4 657.7h0M452.9 649.3h0M452.8 655.2h0M454.4 648.4h0M473.7 618h0M470.7 657.3h0M468 654.5h0M471 625.7h0M460.8 667.3h0M452.7 648.1h0M460.1 619.8h0M466.7 641.3h0M469.2 667.2h0M475.5 636.9h0M455.1 646.1h0M468.6 659.5h0M474 674.1h0M467.9 643.6h0M472.7 634.4h0M459.8 643.8h0M448.3 660.9h0M468.1 642.5h0M452.6 640.5h0M463.3 650.9h0M456.3 643.7h0M460.5 644.1h0M452.5 628h0M468.7 621.4h0M460.8 657.2h0M474.9 656.5h0M457.2 656.6h0M453.1 658.4h0M460.3 665.3h0M461.3 646.2h0M462.4 653.8h0M460 676.9h0M470.2 632.6h0M464.2 654.1h0M460.7 635h0M460 624.9h0M460.2 649.4h0M451.9 661.1h0M456.5 649.3h0M460.9 667.6h0M470.4 663.7h0M453.2 637.1h0M453.2 640.6h0M453 643.5h0M460.1 641.4h0M458.3 605.9h0M459.2 634.4h0M460.2 625.4h0M459.6 639.7h0M461.6 632.4h0M475.6 639.9h0M446.8 657.7h0M471.7 634.7h0M452 635.9h0M452 629.6h0M467.6 652.3h0M452.5 676.5h0M452.7 642.2h0M460.4 660.9h0M452.9 669.6h0M458.7 676.6h0M458.9 670.1h0M457.1 628.7h0M473.9 679.2h0M444.9 643.7h0M464 645.1h0M448.6 644.9h0M460.6 677.6h0M456.4 672.6h0M452.8 637.1h0M453.1 667h0M460.7 651.5h0M452.2 609.1h0M460.9 650.1h0M468.3 652.6h0M451.7 634.9h0M472.7 651.4h0M473.7 664.8h0M469.5 648.7h0M453.2 663.2h0M444.9 657h0M470.3 656.5h0M441.5 627.4h0M460.3 657.5h0M454.4 667.5h0M459.9 644.2h0M461 648.5h0M447.8 647.6h0M467.9 652.7h0M453.4 665h0M452.3 622.2h0M460 613.9h0M450.2 662.5h0M452.7 674h0M468.3 655.9h0M459.9 620.7h0M461 613.7h0M461 629.7h0M468.5 665.7h0M460 645.3h0M443.2 639.9h0M459.9 661.4h0M461.2 666.4h0M453 635.8h0M467.3 664.3h0M440.8 654.4h0M452.3 639h0M472.3 632.8h0M459.4 674.9h0M475.4 635.6h0M464.2 658h0M461 640.2h0M460.4 675.5h0M472.6 660.5h0M460.1 666.9h0M468.7 633.7h0M460.3 679.2h0M460.1 622h0M452.9 666.5h0M468.9 629.1h0M454.1 626.9h0M460.5 654.3h0M482.3 644.9h0M482.9 673h0M491.4 654.8h0M485.3 658.8h0M486.8 643.7h0M482.7 655.4h0M479.7 655.8h0M483.6 655.4h0M531.2 660.6h0M554.8 664.1h0M487.9 651.6h0M487.2 660.6h0" stroke="#ff0000" stroke-width="1.55" stroke-linecap="round"/><path d="M264.5 644.7h0M261.4 628.5h0M264.1 631.1h0M261.9 643.4h0M261.1 613.1h0M263.6 628.7h0M261.9 650.4h0M261 648h0M262.6 650.2h0M265.3 643.6h0M266.2 656.4h0M263.5 621.4h0M264.7 636h0M260.6 622.8h0M261.9 643.3h0M262.8 629.5h0M263.4 627.4h0M261.5 651.2h0M262.5 617.4h0M260.9 627.6h0M264.9 658.2h0M265.7 636.3h0M263.4 633.4h0M263.4 643.4h0M262.7 639h0M261.7 637.5h0M264.2 653.7h0M266.9 665.9h0M264.4 659.8h0M261.6 625.6h0M261 640.1h0M262 633.6h0M260.9 663.6h0M265.9 642.3h0M262.6 679.5h0M261.7 669.3h0M261.7 636.6h0M265.7 614.7h0M263.8 602.1h0M264 631.4h0M261.5 648.7h0M264.1 653.4h0M260.6 641.8h0M263 634.2h0M266.4 633.9h0M263.9 615.1h0M261.1 636.4h0M264 659.8h0M262.9 650.9h0M263.4 622.5h0M285.8 651.1h0M270.7 639.8h0M269 614.4h0M276.2 653.9h0M276.3 657.1h0M283.2 649.7h0M277.1 640.2h0M287.5 673.7h0M275.4 625.5h0M278 652.4h0M289.4 658.9h0M287 595.4h0M287 674.2h0M274.1 650h0M288.1 629.4h0M284.4 628.3h0M281.6 636.1h0M275.5 624.2h0M274.3 658.3h0M288.1 637.4h0M278.4 642.1h0M287.5 622.1h0M271.2 664.7h0M267.6 638.4h0M270.7 651.5h0M284.4 688h0M284.8 626.5h0M287.3 629h0M284.4 640.4h0M284.9 618.1h0M280.3 636.1h0M267.2 637.4h0M270.3 653.2h0M284.8 658h0M291.2 628.5h0M275.3 638.2h0M289.7 654.5h0M284.5 621.5h0M270.7 639.4h0M283 645h0M285.5 658.2h0M287.8 625h0M275.3 660.9h0M279.6 651.8h0M283.8 670.4h0M270.9 658.1h0M287.1 655h0M282 662.3h0M289.8 657.6h0M276.1 652.3h0M270.4 632.2h0M270.2 643h0M275.8 639.1h0M288.4 636.5h0M275.7 628.5h0M287.8 653.5h0M276.5 640.8h0M287.2 654.4h0M282 637.8h0M286.2 640.5h0M270 647h0M279.5 650.5h0M271.1 671.7h0M285.7 688.7h0M274.7 647.4h0M279.4 654.4h0M269.6 651.1h0M272.7 679.6h0M275.3 645.9h0M285.6 636.8h0M277.2 595.7h0M270.4 685.6h0M278.2 659.1h0M270.2 629.7h0M287.5 653.4h0M314.6 637.2h0M301.7 663.6h0M302.4 661h0M314.4 672.9h0M322 640.6h0M295 646.5h0M302.2 662.7h0M323.4 659.4h0M306.1 638.7h0M293.9 668.1h0M313.9 622.3h0M318.3 687.6h0M303.2 643.4h0M295.7 649.1h0M318.5 651.6h0M323.1 644.6h0M323.2 633.7h0M309.8 640.6h0M319.3 641.3h0M306.6 664.1h0M322.8 675.4h0M294.4 670.9h0M306.5 625.9h0M307.9 630.7h0M294.8 651h0M294.5 640h0M303.1 683.9h0M320 659.9h0M309.2 681.7h0M317.7 644.3h0M323 671.4h0M318.5 649.9h0M302.9 637.5h0M306.5 669.5h0M293.6 664.9h0M318.5 627.3h0M301.4 626.2h0M293.6 662.1h0M314.1 645.8h0M319.8 652.9h0M313.8 625.2h0M302.5 645.5h0M318.6 677.2h0M318.7 640.6h0M318.3 653.2h0M338.6 668.2h0M347.9 624.3h0M347.1 665.7h0M338.9 674.5h0M331.1 663.3h0M347 665.5h0M343.8 654.6h0M347.2 639.7h0M333.6 687h0M338.4 677.4h0M369.3 654.1h0M356.1 639.9h0M371.8 652.8h0M363.8 633.1h0M373.7 642.1h0M367.9 648.7h0M368.1 618h0M358.8 635.2h0M372.1 670.3h0M364.3 653.3h0M355.5 647.9h0M369.8 637.7h0M364.3 623.5h0M372.2 671.6h0M372.9 664.3h0M376.2 644.9h0M355.8 649.7h0M372.5 642.3h0M376.8 654.7h0M364 616.7h0M364.8 661h0M370.4 629h0M367.8 674.8h0M356 650.6h0M356 663.2h0M362.9 625.4h0M372.4 652h0M367.2 648h0M363.7 625.9h0M376.1 673.5h0M363.6 680.3h0M356.2 647.1h0M363.4 663.2h0M356.2 636.6h0M359.8 638.7h0M364.5 656.4h0M363.2 618.3h0M370.9 637.4h0M354.7 682.3h0M375.8 634.8h0M364.1 652.6h0M375.2 641.9h0M367.8 650.7h0M356 664.6h0M357.2 613.5h0M369.2 651.7h0M367.7 652.7h0M363.6 629.6h0M358.7 604.3h0M372 651.6h0M369.8 637h0M364.3 599.6h0M356.8 672.1h0M363 625h0M385.7 604.2h0M403.6 627.6h0M406.6 688.1h0M385 649.2h0M397.8 617.8h0M410.4 643.4h0M403.3 659.7h0M412.2 623h0M401.6 637.1h0M403.2 653.8h0M408.5 644.6h0M385.4 641.9h0M401.9 630.2h0M388.5 650.4h0M404 626.8h0M402.8 663.5h0M402.7 618.1h0M401.3 649.8h0M418.2 643.7h0M413.9 639.3h0M439.6 633h0M414.3 614.4h0M429 591.9h0M432.8 620.8h0M428.1 625.7h0M415.8 607.7h0M421.8 611h0M431.9 656.4h0M438.5 621.3h0M426.6 600.1h0M428.3 613.2h0M425.1 632.7h0M432.8 657.4h0M434.7 628.7h0M429.2 622.5h0M416.3 623.1h0M437.1 640h0M434 619.8h0M414.3 657h0M436.3 658.3h0M421.8 629.8h0M432.5 661.6h0M432.7 654.3h0M453.1 621.8h0M448.8 654.8h0M468.5 626h0M468.3 610.8h0M447.7 610.2h0M459.6 604.2h0M449.9 643.1h0M448 652.8h0M464.9 638.4h0M467.9 634.3h0M452.3 622.5h0M459.7 634.4h0M452.4 634.2h0M452.5 609.2h0M468 619.4h0M461.1 645.7h0M471.3 620.3h0M460.1 612.7h0M475.7 622.8h0M464.2 617.6h0M478 603.4h0M437.6 542.7h0M484 630.2h0" stroke="#0000ff" stroke-width="1.55" stroke-linecap="round"/><path d="M260 695.9h0M260.9 695.9h0M261.9 695.9h0M262.8 695.9h0M263.8 695.9h0M264.7 695.9h0M265.7 695.9h0M266.6 695.9h0M267.5 695.9h0M268.5 695.9h0M269.4 695.9h0M270.4 695.9h0M271.3 695.9h0M272.3 695.9h0M273.2 695.9h0M274.1 695.9h0M275.1 695.9h0M276 695.9h0M277 695.9h0M277.9 695.9h0M278.9 695.9h0M279.8 695.9h0M280.8 695.9h0M281.7 695.9h0M282.6 695.9h0M283.6 695.9h0M284.5 695.9h0M285.5 695.9h0M286.4 695.9h0M287.4 695.9h0M288.3 695.9h0M289.2 695.9h0M290.2 695.9h0M291.1 695.9h0M292.1 695.9h0M293 695.9h0M294 695.9h0M294.9 695.9h0M295.8 695.9h0M296.8 695.9h0M297.7 695.9h0M298.7 695.9h0M299.6 695.9h0M300.6 695.9h0M301.5 695.9h0M303.4 695.9h0M304.3 695.9h0M305.3 695.9h0M306.2 695.9h0M307.2 695.9h0M308.1 695.9h0M309 695.9h0M310 695.9h0M311.9 695.9h0M312.8 695.9h0M314.7 695.9h0M315.6 695.9h0M316.6 695.9h0M317.5 695.9h0M318.5 695.9h0M319.4 695.9h0M320.4 695.9h0M322.3 695.9h0M323.2 695.9h0M324.1 695.9h0M325.1 695.9h0M326 695.9h0M327 695.9h0M328.9 695.9h0M329.8 695.9h0M330.7 695.9h0M331.7 695.9h0M332.6 695.9h0M333.6 695.9h0M334.5 695.9h0M335.5 695.9h0M336.4 695.9h0M337.3 695.9h0M338.3 695.9h0M339.2 695.9h0M340.2 695.9h0M341.1 695.9h0M342.1 695.9h0M343 695.9h0M343.9 695.9h0M344.9 695.9h0M345.8 695.9h0M346.8 695.9h0M347.7 695.9h0M348.7 695.9h0M349.6 695.9h0M350.5 695.9h0M351.5 695.9h0M352.4 695.9h0M353.4 695.9h0M354.3 695.9h0M356.2 695.9h0M357.1 695.9h0M358.1 695.9h0M359 695.9h0M360 695.9h0M360.9 695.9h0M361.9 695.9h0M362.8 695.9h0M363.8 695.9h0M364.7 695.9h0M366.6 695.9h0M367.5 695.9h0M368.5 695.9h0M369.4 695.9h0M370.4 695.9h0M371.3 695.9h0M372.2 695.9h0M373.2 695.9h0M374.1 695.9h0M375.1 695.9h0M376 695.9h0M377 695.9h0M378.8 695.9h0M379.8 695.9h0M380.7 695.9h0M381.7 695.9h0M382.6 695.9h0M383.6 695.9h0M384.5 695.9h0M385.4 695.9h0M386.4 695.9h0M387.3 695.9h0M388.3 695.9h0M389.2 695.9h0M390.2 695.9h0M391.1 695.9h0M392 695.9h0M393 695.9h0M393.9 695.9h0M394.9 695.9h0M395.8 695.9h0M396.8 695.9h0M397.7 695.9h0M398.7 695.9h0M400.5 695.9h0M401.5 695.9h0M402.4 695.9h0M403.4 695.9h0M404.3 695.9h0M405.3 695.9h0M406.2 695.9h0M407.1 695.9h0M409 695.9h0M410.9 695.9h0M411.9 695.9h0M412.8 695.9h0M413.7 695.9h0M414.7 695.9h0M415.6 695.9h0M416.6 695.9h0M418.5 695.9h0M419.4 695.9h0M420.3 695.9h0M421.3 695.9h0M422.2 695.9h0M423.2 695.9h0M424.1 695.9h0M425.1 695.9h0M426 695.9h0M426.9 695.9h0M427.9 695.9h0M428.8 695.9h0M430.7 695.9h0M431.7 695.9h0M432.6 695.9h0M434.5 695.9h0M435.4 695.9h0M436.4 695.9h0M437.3 695.9h0M438.3 695.9h0M439.2 695.9h0M440.2 695.9h0M441.1 695.9h0M442 695.9h0M443 695.9h0M444.9 695.9h0M445.8 695.9h0M446.8 695.9h0M447.7 695.9h0M448.6 695.9h0M449.6 695.9h0M450.5 695.9h0M451.5 695.9h0M453.4 695.9h0M454.3 695.9h0M455.2 695.9h0M456.2 695.9h0M457.1 695.9h0M458.1 695.9h0M459 695.9h0M461.8 695.9h0M462.8 695.9h0M463.7 695.9h0M464.7 695.9h0M465.6 695.9h0M466.6 695.9h0M467.5 695.9h0M468.4 695.9h0M469.4 695.9h0M470.3 695.9h0M474.1 695.9h0M475 695.9h0M476 695.9h0M476.9 695.9h0M477.9 695.9h0M479.8 695.9h0M480.7 695.9h0M481.7 695.9h0M482.6 695.9h0M483.5 695.9h0M484.5 695.9h0M485.4 695.9h0M486.4 695.9h0M487.3 695.9h0M489.2 695.9h0M490.1 695.9h0M491.1 695.9h0M492 695.9h0M493.9 695.9h0M494.9 695.9h0M498.2 695.9h0M505.2 695.9h0M515.5 695.9h0M528 695.9h0M534.3 695.9h0M536.7 695.9h0M555.5 695.9h0M627.8 695.9h0" stroke="#0000ff" stroke-width="1.6" stroke-linecap="round"/><path d="M260 698.1h0M260.9 698.1h0M261.9 698.1h0M262.8 698.1h0M263.8 698.1h0M264.7 698.1h0M265.7 698.1h0M266.6 698.1h0M267.5 698.1h0M268.5 698.1h0M269.4 698.1h0M270.4 698.1h0M271.3 698.1h0M272.3 698.1h0M273.2 698.1h0M274.1 698.1h0M275.1 698.1h0M276 698.1h0M277 698.1h0M277.9 698.1h0M278.9 698.1h0M279.8 698.1h0M280.8 698.1h0M281.7 698.1h0M282.6 698.1h0M283.6 698.1h0M284.5 698.1h0M285.5 698.1h0M286.4 698.1h0M287.4 698.1h0M288.3 698.1h0M289.2 698.1h0M290.2 698.1h0M291.1 698.1h0M292.1 698.1h0M293 698.1h0M294 698.1h0M294.9 698.1h0M295.8 698.1h0M296.8 698.1h0M297.7 698.1h0M298.7 698.1h0M299.6 698.1h0M300.6 698.1h0M301.5 698.1h0M303.4 698.1h0M304.3 698.1h0M305.3 698.1h0M306.2 698.1h0M307.2 698.1h0M308.1 698.1h0M309 698.1h0M310 698.1h0M311.9 698.1h0M312.8 698.1h0M314.7 698.1h0M315.6 698.1h0M316.6 698.1h0M317.5 698.1h0M318.5 698.1h0M319.4 698.1h0M320.4 698.1h0M322.3 698.1h0M323.2 698.1h0M324.1 698.1h0M325.1 698.1h0M326 698.1h0M327 698.1h0M328.9 698.1h0M329.8 698.1h0M330.7 698.1h0M331.7 698.1h0M332.6 698.1h0M333.6 698.1h0M334.5 698.1h0M335.5 698.1h0M336.4 698.1h0M337.3 698.1h0M338.3 698.1h0M339.2 698.1h0M340.2 698.1h0M341.1 698.1h0M342.1 698.1h0M343 698.1h0M343.9 698.1h0M344.9 698.1h0M345.8 698.1h0M346.8 698.1h0M347.7 698.1h0M348.7 698.1h0M349.6 698.1h0M350.5 698.1h0M351.5 698.1h0M352.4 698.1h0M353.4 698.1h0M354.3 698.1h0M356.2 698.1h0M357.1 698.1h0M358.1 698.1h0M359 698.1h0M360 698.1h0M360.9 698.1h0M361.9 698.1h0M362.8 698.1h0M363.8 698.1h0M364.7 698.1h0M366.6 698.1h0M367.5 698.1h0M368.5 698.1h0M369.4 698.1h0M370.4 698.1h0M371.3 698.1h0M372.2 698.1h0M373.2 698.1h0M374.1 698.1h0M375.1 698.1h0M376 698.1h0M377 698.1h0M378.8 698.1h0M379.8 698.1h0M380.7 698.1h0M381.7 698.1h0M382.6 698.1h0M383.6 698.1h0M384.5 698.1h0M385.4 698.1h0M386.4 698.1h0M387.3 698.1h0M388.3 698.1h0M389.2 698.1h0M390.2 698.1h0M391.1 698.1h0M392 698.1h0M393 698.1h0M393.9 698.1h0M394.9 698.1h0M395.8 698.1h0M396.8 698.1h0M397.7 698.1h0M398.7 698.1h0M400.5 698.1h0M401.5 698.1h0M402.4 698.1h0M403.4 698.1h0M404.3 698.1h0M405.3 698.1h0M406.2 698.1h0M407.1 698.1h0M409 698.1h0M410.9 698.1h0M411.9 698.1h0M412.8 698.1h0M413.7 698.1h0M414.7 698.1h0M415.6 698.1h0M416.6 698.1h0M418.5 698.1h0M419.4 698.1h0M420.3 698.1h0M421.3 698.1h0M422.2 698.1h0M423.2 698.1h0M424.1 698.1h0M425.1 698.1h0M426 698.1h0M426.9 698.1h0M427.9 698.1h0M428.8 698.1h0M430.7 698.1h0M431.7 698.1h0M432.6 698.1h0M434.5 698.1h0M435.4 698.1h0M436.4 698.1h0M437.3 698.1h0M438.3 698.1h0M439.2 698.1h0M440.2 698.1h0M441.1 698.1h0M442 698.1h0M443 698.1h0M444.9 698.1h0M445.8 698.1h0M446.8 698.1h0M447.7 698.1h0M448.6 698.1h0M449.6 698.1h0M450.5 698.1h0M451.5 698.1h0M453.4 698.1h0M454.3 698.1h0M455.2 698.1h0M456.2 698.1h0M457.1 698.1h0M458.1 698.1h0M459 698.1h0M461.8 698.1h0M462.8 698.1h0M463.7 698.1h0M464.7 698.1h0M465.6 698.1h0M466.6 698.1h0M467.5 698.1h0M468.4 698.1h0M469.4 698.1h0M470.3 698.1h0M474.1 698.1h0M475 698.1h0M476 698.1h0M476.9 698.1h0M477.9 698.1h0M479.8 698.1h0M480.7 698.1h0M481.7 698.1h0M482.6 698.1h0M483.5 698.1h0M484.5 698.1h0M485.4 698.1h0M486.4 698.1h0M487.3 698.1h0M489.2 698.1h0M490.1 698.1h0M491.1 698.1h0M492 698.1h0M493.9 698.1h0M494.9 698.1h0M498.2 698.1h0M505.2 698.1h0M515.5 698.1h0M528 698.1h0M534.3 698.1h0M536.7 698.1h0M555.5 698.1h0M627.8 698.1h0" stroke="#ff0000" stroke-width="1.6" stroke-linecap="round"/><circle cx="653.7" cy="617.4" r="0.6" fill="#ff0000"/><circle cx="653.7" cy="623.6" r="0.6" fill="#0000ff"/><text x="657.9" y="619.4" font-size="5.6" stroke="#000" stroke-width="0.1">NOTCH1</text><text x="657.9" y="625.6" font-size="5.6" stroke="#000" stroke-width="0.1">NOTCH3</text><rect x="40.2" y="769.3" width="271.0" height="38.5" fill="none" stroke="#000" stroke-width="1.2"/><line x1="80.4" y1="769.3" x2="80.4" y2="807.8" stroke="#000" stroke-width="1.3"/><rect x="40.2" y="818.9" width="271.0" height="38.5" fill="none" stroke="#000" stroke-width="1.2"/><line x1="80.4" y1="818.9" x2="80.4" y2="857.4" stroke="#000" stroke-width="1.3"/><rect x="40.2" y="868.6" width="271.0" height="38.2" fill="none" stroke="#000" stroke-width="1.2"/><line x1="80.4" y1="868.6" x2="80.4" y2="906.8" stroke="#000" stroke-width="1.3"/><rect x="372" y="769.8" width="271" height="38.4" fill="none" stroke="#000" stroke-width="1.2"/><line x1="412.4" y1="769.8" x2="412.4" y2="808.2" stroke="#000" stroke-width="1.3"/><text x="60.3" y="794.7" font-size="14.5" text-anchor="middle" stroke="#000" stroke-width="0.2">1</text><text x="60.3" y="843.9" font-size="14.5" text-anchor="middle" stroke="#000" stroke-width="0.2">2</text><text x="60.3" y="893.5" font-size="14.5" text-anchor="middle" stroke="#000" stroke-width="0.2">3</text><text x="392.2" y="794.7" font-size="14.5" text-anchor="middle" stroke="#000" stroke-width="0.2">4</text><text x="98.3" y="795.0" font-size="15" textLength="198.5" lengthAdjust="spacingAndGlyphs" stroke="#000" stroke-width="0.2"><tspan font-style="italic">TRMT10C, NDUFA8, MRPL13, …</tspan></text><text x="92.3" y="844.2" font-size="15" textLength="206.7" lengthAdjust="spacingAndGlyphs" stroke="#000" stroke-width="0.2"><tspan font-style="italic">RPL13, …, </tspan><tspan font-style="italic" font-weight="bold">NOTCH1</tspan><tspan font-style="italic">, … </tspan><tspan font-style="italic" font-weight="bold">NOTCH3</tspan><tspan font-style="italic">, …</tspan></text><text x="101.7" y="894.0" font-size="15" textLength="188.5" lengthAdjust="spacingAndGlyphs" stroke="#000" stroke-width="0.2"><tspan font-style="italic">CRABP1, PLCG2, MTRNR2L8, …</tspan></text><text x="443" y="795.0" font-size="15" textLength="170.4" lengthAdjust="spacingAndGlyphs" stroke="#000" stroke-width="0.2"><tspan font-style="italic">HSP90AA1, ACTB, H3F3B, …</tspan></text><text x="246.7" y="759.2" font-size="15" textLength="165.2" lengthAdjust="spacingAndGlyphs" stroke="#000" stroke-width="0.2">44 co-expressing gene sets</text><circle cx="496.8" cy="831.5" r="1.3" fill="#000"/><circle cx="496.8" cy="837" r="1.3" fill="#000"/><circle cx="496.8" cy="842.5" r="1.3" fill="#000"/></svg></body></html>
